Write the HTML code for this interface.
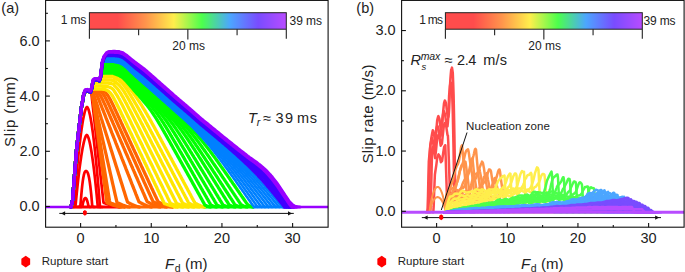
<!DOCTYPE html>
<html lang="en">
<head>
<meta charset="utf-8">
<title>Slip and slip rate profiles</title>
<style>
html,body{margin:0;padding:0;background:#fff;}
body{width:685px;height:272px;overflow:hidden;font-family:"Liberation Sans",sans-serif;}
svg text{font-family:"Liberation Sans",sans-serif;}
</style>
</head>
<body>
<svg width="685" height="272" viewBox="0 0 685 272" style="display:block">
<rect width="685" height="272" fill="#fff"/>
<defs>
<linearGradient id="rb" x1="0" y1="0" x2="1" y2="0">
<stop offset="0.0000" stop-color="#ff4c4c"/>
<stop offset="0.1429" stop-color="#ff4c4c"/>
<stop offset="0.2857" stop-color="#ff944c"/>
<stop offset="0.4286" stop-color="#ffee4c"/>
<stop offset="0.5714" stop-color="#4cff4c"/>
<stop offset="0.7143" stop-color="#4ca6ff"/>
<stop offset="0.8571" stop-color="#794cff"/>
<stop offset="1.0000" stop-color="#b84cff"/>
</linearGradient>
<clipPath id="ca"><rect x="45.6" y="0" width="282.5" height="227.2"/></clipPath>
<clipPath id="cb"><rect x="401.6" y="0" width="282.5" height="227.2"/></clipPath>
</defs>
<g clip-path="url(#ca)" fill="none" stroke-linejoin="round" stroke-linecap="round">
<path d="M73.0,207.1L119.5,207.1" stroke="#ff0000" stroke-width="3.0"/>
<path d="M119.5,207.1L172.5,207.1" stroke="#ff6600" stroke-width="3.0"/>
<path d="M172.5,207.1L204.5,207.1" stroke="#ffe600" stroke-width="3.0"/>
<path d="M204.5,207.1L253.0,207.1" stroke="#00ff00" stroke-width="3.0"/>
<path d="M253.0,207.1L284.0,207.1" stroke="#0080ff" stroke-width="3.0"/>
<path d="M284.0,207.1L294.0,207.1" stroke="#4000ff" stroke-width="3.0"/>
<path d="M294.0,207.1L300.0,207.1" stroke="#9900ff" stroke-width="3.0"/>
<path d="M79.9,207L80.4,207L80.9,207L81.4,206.9L81.9,206.6L82.4,205.9L82.9,203.5L83.4,201.5L83.9,200L84.4,198.9L84.9,198.2L85.4,198L85.9,198.2L86.4,198.9L86.9,200L87.4,201.5L87.9,203.5L88.4,205.9L88.9,206.6L89.4,206.9L89.9,207L90.4,207L90.9,207" stroke="#ff0000" stroke-width="2.7"/>
<path d="M76.8,207L77.3,207L77.8,207L78.3,206.9L78.8,206.9L79.3,206.7L79.8,206.6L80.3,206.4L80.8,201.4L81.3,195.1L81.8,189.6L82.3,184.9L82.8,180.9L83.3,177.7L83.8,175.2L84.3,173.3L84.8,172L85.3,171.3L85.8,171L86.3,171L86.8,171.3L87.3,172L87.8,173L88.3,174.5L88.8,176.6L89.3,179.1L89.8,182.3L90.3,186L90.8,190.3L91.3,195.2L91.8,200.8L92.3,206.6L92.8,206.8L93.3,206.9L93.8,207L94.3,207L94.8,207" stroke="#ff0000" stroke-width="2.7"/>
<path d="M73.3,207L73.8,207L74.3,207L74.8,207L75.3,206.9L75.8,202.8L76.3,197.6L76.8,192.6L77.3,187.8L77.8,183.2L78.3,178.7L78.8,174.4L79.3,170.3L79.8,166.4L80.3,162.7L80.8,159.2L81.3,155.9L81.8,152.7L82.3,149.8L82.8,147.1L83.3,144.7L83.8,142.4L84.3,140.5L84.8,138.7L85.3,137.3L85.8,136.1L86.3,135.4L86.8,135L87.3,135.4L87.8,136.2L88.3,137.4L88.8,139L89.3,140.8L89.8,142.9L90.3,145.3L90.8,147.9L91.3,150.8L91.8,153.8L92.3,157.2L92.8,160.7L93.3,164.4L93.8,168.4L94.3,172.5L94.8,176.9L95.3,181.4L95.8,186.2L96.3,191.1L96.8,196.2L97.3,201.5L97.8,206.9L98.3,206.9L98.8,207L99.3,207L99.8,207L100.3,207" stroke="#ff0000" stroke-width="2.7"/>
<path d="M71.5,207L72,207L72.5,207L73,207L73.5,206.9L74,204.4L74.5,198.2L75,192L75.5,186.1L76,180.3L76.5,174.8L77,169.4L77.5,164.2L78,159.1L78.5,154.3L79,149.7L79.5,145.2L80,141L80.5,137L81,133.2L81.5,129.6L82,126.2L82.5,123.1L83,120.1L83.5,117.5L84,115.1L84.5,112.9L85,111L85.5,109.5L86,108.2L86.5,107.4L87,107L87.5,107.4L88,108.3L88.5,109.5L89,111.1L89.5,113.1L90,115.3L90.5,117.7L91,120.5L91.5,123.5L92,126.7L92.5,130.2L93,133.9L93.5,137.8L94,141.9L94.5,146.3L95,150.8L95.5,155.6L96,160.5L96.5,165.7L97,171L97.5,176.6L98,182.3L98.5,188.2L99,194.3L99.5,200.5L100,206.9L100.5,206.9L101,207L101.5,207L102,207L102.5,207" stroke="#ff0000" stroke-width="2.7"/>
<path d="M72,202.6L72.5,200.4L72.6,200L73,194.7L73.5,188.2L74,181.6L74.5,175L75,168.8L75.5,162.5L76,156.2L76.5,150L77,145.6L77.5,141.2L78,136.8L78.5,132.4L79,128L79.5,123.8L80,119.5L80.5,115.3L81,111.1L81.5,106.8L81.6,106L82,104.8L82.5,101.8L83,98.8L83.5,95.8L83.6,95.2L84,94.1L84.5,92.8L85,91.5L85.2,91L85.5,91L86,91L86.5,91L87,91L87.5,91L88,91L88.5,91.2L89,91.5L89.5,91.7L90,92L90.5,92.2L91,91.3L91.5,94.5L91.8,97.2L92,99L92.5,103.5L93,108L93.5,112.5L94,117L94.5,121.5L95,126L95.5,130.5L96,135L96.5,139.5L97,144L97.5,148.5L98,153L98.5,157.5L99,162L99.3,164.7L99.5,166.5L100,171L100.5,175.5L101,180L101.3,182.7L101.5,184.5L102,189L102.2,190.8L102.5,193.5L103,198L103.5,202.5L104,203L104.5,203.1L105,203.3L105.5,203.5L106,203.7L106.5,203.8L107,204L107.5,204.2L108,204.3L108.5,204.5L109,204.7L109.5,204.8L110,205L110.5,205.1L111,205.3L111.5,205.4L112,205.5L112.5,205.7L113,205.8L113.5,205.9L114,206.1L114.5,206.2L115,206.3L115.5,206.4L116,206.5L116.5,206.6L117,206.7L117.5,206.8L118,206.8L118.5,206.9L119,207L119.5,207" stroke="#ff0000" stroke-width="2.7"/>
<path d="M71,207L71.5,204.8L72,202.6L72.5,200.4L72.6,200L73,194.7L73.5,188.2L74,181.6L74.5,175L75,168.8L75.5,162.5L76,156.2L76.5,150L77,145.6L77.5,141.2L78,136.8L78.5,132.4L79,128L79.5,123.8L80,119.5L80.5,115.3L81,111.1L81.5,106.8L81.6,106L82,104.8L82.5,101.8L83,98.8L83.5,95.8L83.6,95.2L84,94.1L84.5,92.8L85,91.5L85.2,91L85.5,91L86,90.9L86.5,90.9L87,90.9L87.5,90.9L88,91L88.5,91.2L89,91.5L89.5,91.7L90,92L90.5,92.2L91,90.9L91.5,90.9L91.8,91.1L92,91.5L92.5,94.5L93,98.3L93.5,102L94,105.8L94.5,109.5L95,113.3L95.5,117L96,120.8L96.5,124.5L97,128.2L97.5,132L98,135.8L98.5,139.5L99,143.2L99.3,145.5L99.5,147L100,150.8L100.5,154.5L101,158.2L101.3,160.5L101.5,162L102,165.8L102.2,167.3L102.5,169.5L103,173.2L103.5,177L104,180.8L104.5,184.5L105,188.2L105.5,192L106,195.8L106.5,199.5L107,202.7L107.5,203L108,203.2L108.5,203.4L109,203.6L109.5,203.8L110,204L110.5,204.2L111,204.3L111.5,204.5L112,204.7L112.5,204.9L113,205.1L113.5,205.2L114,205.4L114.5,205.5L115,205.7L115.5,205.8L116,206L116.5,206.1L117,206.3L117.5,206.4L118,206.5L118.5,206.6L119,206.7L119.5,206.8L120,206.9L120.5,207L121,207" stroke="#ff6600" stroke-width="3.3"/>
<path d="M71,207L71.5,204.8L72,202.6L72.5,200.4L72.6,200L73,194.7L73.5,188.2L74,181.6L74.5,175L75,168.8L75.5,162.5L76,156.2L76.5,150L77,145.6L77.5,141.2L78,136.8L78.5,132.4L79,128L79.5,123.8L80,119.5L80.5,115.3L81,111.1L81.5,106.8L81.6,106L82,104.8L82.5,101.8L83,98.8L83.5,95.8L83.6,95.2L84,94.1L84.5,92.8L85,91.5L85.2,91L85.5,91L86,90.9L86.5,90.8L87,90.8L87.5,90.8L88,91L88.5,91.2L89,91.5L89.5,91.7L90,92L90.5,92.2L91,90.8L91.5,91L91.8,91.6L92,92.5L92.5,95.4L93,98.5L93.5,101.6L94,104.7L94.5,107.8L95,110.9L95.5,114L96,117.1L96.5,120.2L97,123.3L97.5,126.4L98,129.5L98.5,132.6L99,135.7L99.3,137.6L99.5,138.8L100,141.9L100.5,145L101,148.1L101.3,150L101.5,151.2L102,154.3L102.2,155.5L102.5,157.4L103,160.5L103.5,163.6L104,166.7L104.5,169.8L105,172.9L105.5,176L106,179.1L106.5,182.2L107,185.3L107.5,188.4L108,191.5L108.5,194.6L109,197.7L109.5,200.8L110,202.8L110.5,203L111,203.2L111.5,203.4L112,203.5L112.5,203.7L113,203.9L113.5,204.1L114,204.3L114.5,204.5L115,204.7L115.5,204.8L116,205L116.5,205.2L117,205.3L117.5,205.5L118,205.6L118.5,205.8L119,205.9L119.5,206L120,206.2L120.5,206.3L121,206.4L121.5,206.5L122,206.6L122.5,206.7L123,206.8L123.5,206.9L124,207L124.5,207" stroke="#ff6600" stroke-width="3.3"/>
<path d="M71,207L71.5,204.8L72,202.6L72.5,200.4L72.6,200L73,194.7L73.5,188.2L74,181.6L74.5,175L75,168.8L75.5,162.5L76,156.2L76.5,150L77,145.6L77.5,141.2L78,136.8L78.5,132.4L79,128L79.5,123.8L80,119.5L80.5,115.3L81,111.1L81.5,106.8L81.6,106L82,104.8L82.5,101.8L83,98.8L83.5,95.8L83.6,95.2L84,94.1L84.5,92.8L85,91.5L85.2,91L85.5,91L86,90.9L86.5,90.8L87,90.8L87.5,90.7L88,91L88.5,91.2L89,91.5L89.5,91.7L90,92L90.5,92.2L91,90.8L91.5,91.3L91.8,92L92,92.7L92.5,94.8L93,97L93.5,99.2L94,101.4L94.5,103.6L95,105.8L95.5,108L96,110.2L96.5,112.4L97,114.6L97.5,116.8L98,119L98.5,121.2L99,123.4L99.3,124.7L99.5,125.6L100,127.8L100.5,130L101,132.2L101.3,133.5L101.5,134.4L102,136.6L102.2,137.5L102.5,138.8L103,141L103.5,143.2L104,145.4L104.5,147.6L105,149.8L105.5,152L106,154.2L106.5,156.4L107,158.6L107.5,160.8L108,163L108.5,165.2L109,167.4L109.5,169.6L110,171.8L110.5,174L111,176.2L111.5,178.4L112,180.6L112.5,182.8L113,185L113.5,187.2L114,189.4L114.5,191.6L115,193.8L115.5,196L116,198.2L116.5,200.4L117,202.5L117.5,202.7L118,203L118.5,203.2L119,203.4L119.5,203.7L120,203.9L120.5,204.1L121,204.4L121.5,204.6L122,204.8L122.5,205L123,205.2L123.5,205.4L124,205.6L124.5,205.7L125,205.9L125.5,206.1L126,206.2L126.5,206.4L127,206.5L127.5,206.7L128,206.8L128.5,206.9L129,206.9L129.5,207" stroke="#ff6600" stroke-width="3.3"/>
<path d="M71,207L71.5,204.8L72,202.6L72.5,200.4L72.6,200L73,194.7L73.5,188.2L74,181.6L74.5,175L75,168.8L75.5,162.5L76,156.2L76.5,150L77,145.6L77.5,141.2L78,136.8L78.5,132.4L79,128L79.5,123.8L80,119.5L80.5,115.3L81,111.1L81.5,106.8L81.6,106L82,104.8L82.5,101.8L83,98.8L83.5,95.8L83.6,95.2L84,94.2L84.5,92.8L85,91.5L85.2,91L85.5,91L86,90.9L86.5,90.8L87,90.8L87.5,90.7L88,91L88.5,91.2L89,91.5L89.5,91.8L90,92.1L90.5,92.4L91,91.1L91.5,91.4L91.8,91.6L92,91.8L92.5,92.5L93,93.3L93.5,94.4L94,95.6L94.5,97L95,98.4L95.5,99.9L96,101.5L96.5,103L97,104.6L97.5,106.2L98,107.8L98.5,109.4L99,111L99.3,112L99.5,112.6L100,114.2L100.5,115.8L101,117.4L101.3,118.4L101.5,119L102,120.6L102.2,121.2L102.5,122.2L103,123.8L103.5,125.4L104,127L104.5,128.6L105,130.2L105.5,131.8L106,133.4L106.5,135L107,136.6L107.5,138.2L108,139.8L108.5,141.4L109,143L109.5,144.6L110,146.2L110.5,147.8L111,149.4L111.5,151L112,152.6L112.5,154.2L113,155.8L113.5,157.4L114,159L114.5,160.6L115,162.2L115.5,163.8L116,165.4L116.5,167L117,168.6L117.5,170.2L118,171.8L118.5,173.4L119,175L119.5,176.6L120,178.2L120.5,179.8L121,181.4L121.5,183L122,184.6L122.5,186.2L123,187.8L123.5,189.4L124,191L124.5,192.6L125,194.2L125.5,195.8L126,197.4L126.5,199L127,200.6L127.5,202.1L128,202.4L128.5,202.7L129,203L129.5,203.2L130,203.5L130.5,203.7L131,204L131.5,204.2L132,204.5L132.5,204.7L133,204.9L133.5,205.2L134,205.4L134.5,205.6L135,205.8L135.3,205.9L135.5,206L136,206.1L136.5,206.3L137,206.5L137.5,206.6L138,206.7L138.5,206.8L139,206.9L139.5,207" stroke="#ff6600" stroke-width="3.3"/>
<path d="M71,207L71.5,204.8L72,202.6L72.5,200.4L72.6,200L73,194.7L73.5,188.2L74,181.6L74.5,175L75,168.8L75.5,162.5L76,156.2L76.5,150L77,145.6L77.5,141.2L78,136.8L78.5,132.4L79,128L79.5,123.8L80,119.5L80.5,115.3L81,111.1L81.5,106.8L81.6,106L82,104.8L82.5,101.8L83,98.8L83.5,95.8L83.6,95.2L84,94.2L84.5,92.8L85,91.5L85.2,91L85.5,91L86,90.9L86.5,90.8L87,90.8L87.5,90.7L88,91L88.5,91.2L89,91.5L89.5,91.7L90,92L90.5,92.2L91,90.7L91.5,90.6L91.8,90.6L92,90.7L92.5,90.8L93,90.9L93.5,91.1L94,91.3L94.5,91.7L95,92.2L95.5,92.8L96,93.6L96.5,94.5L97,95.4L97.5,96.5L98,97.6L98.5,98.8L99,100L99.3,100.8L99.5,101.3L100,102.5L100.5,103.8L101,105L101.3,105.8L101.5,106.3L102,107.6L102.2,108.1L102.5,108.8L103,110.1L103.5,111.4L104,112.7L104.5,113.9L105,115.2L105.5,116.5L106,117.8L106.5,119L107,120.3L107.5,121.6L108,122.9L108.5,124.1L109,125.4L109.5,126.7L110,128L110.5,129.2L111,130.5L111.5,131.8L112,133.1L112.5,134.3L113,135.6L113.5,136.9L114,138.2L114.5,139.4L115,140.7L115.5,142L116,143.3L116.5,144.5L117,145.8L117.5,147.1L118,148.4L118.5,149.6L119,150.9L119.5,152.2L120,153.5L120.5,154.7L121,156L121.5,157.3L122,158.6L122.5,159.8L123,161.1L123.5,162.4L124,163.7L124.5,164.9L125,166.2L125.5,167.5L126,168.8L126.5,170L127,171.3L127.5,172.6L128,173.9L128.5,175.1L129,176.4L129.5,177.7L130,179L130.5,180.2L131,181.5L131.5,182.8L132,184.1L132.5,185.3L133,186.6L133.5,187.9L134,189.2L134.5,190.4L135,191.7L135.3,192.5L135.5,193L136,194.3L136.5,195.5L137,196.8L137.5,198.1L138,199.4L138.5,200.6L139,201.8L139.5,202.1L140,202.4L140.5,202.7L141,203L141.5,203.2L142,203.5L142.5,203.7L143,204L143.5,204.2L144,204.5L144.1,204.5L144.5,204.7L145,204.9L145.5,205.2L146,205.4L146.5,205.6L147,205.8L147.5,206L148,206.1L148.5,206.3L149,206.5L149.5,206.6L150,206.7L150.5,206.8L151,206.9L151.5,207" stroke="#ff6600" stroke-width="3.3"/>
<path d="M71,207L71.5,204.8L72,202.6L72.5,200.4L72.6,200L73,194.7L73.5,188.2L74,181.6L74.5,175L75,168.8L75.5,162.5L76,156.3L76.5,150L77,145.6L77.5,141.2L78,136.8L78.5,132.4L79,128L79.5,123.8L80,119.5L80.5,115.3L81,111.1L81.5,106.8L81.6,106L82,104.8L82.5,101.8L83,98.8L83.5,95.8L83.6,95.2L84,94.2L84.5,92.8L85,91.5L85.2,91L85.5,91L86,90.9L86.5,90.8L87,90.8L87.5,90.7L88,91L88.5,91.2L89,91.5L89.5,91.7L90,92L90.5,92.2L91,90.7L91.5,90.5L91.8,90.5L92,90.5L92.5,90.6L93,90.6L93.5,90.7L94,90.8L94.5,90.9L95,91L95.5,91.2L96,91.4L96.5,91.6L97,91.9L97.5,92.3L98,92.7L98.5,93.2L99,93.7L99.3,94.1L99.5,94.4L100,95.1L100.5,95.9L101,96.7L101.3,97.2L101.5,97.6L102,98.6L102.2,98.9L102.5,99.5L103,100.5L103.5,101.6L104,102.7L104.5,103.7L105,104.8L105.5,105.9L106,107.1L106.5,108.2L107,109.3L107.5,110.5L108,111.6L108.5,112.7L109,113.9L109.5,115L110,116.2L110.5,117.3L111,118.5L111.5,119.6L112,120.8L112.5,121.9L113,123.1L113.5,124.2L114,125.4L114.5,126.5L115,127.7L115.5,128.8L116,130L116.5,131.1L117,132.3L117.5,133.4L118,134.6L118.5,135.7L119,136.9L119.5,138L120,139.2L120.5,140.3L121,141.5L121.5,142.6L122,143.8L122.5,144.9L123,146.1L123.5,147.2L124,148.4L124.5,149.5L125,150.7L125.5,151.8L126,153L126.5,154.1L127,155.3L127.5,156.4L128,157.6L128.5,158.7L129,159.9L129.5,161L130,162.2L130.5,163.3L131,164.5L131.5,165.6L132,166.8L132.5,167.9L133,169.1L133.5,170.2L134,171.4L134.5,172.5L135,173.7L135.3,174.3L135.5,174.8L136,176L136.5,177.1L137,178.3L137.5,179.4L138,180.6L138.5,181.7L139,182.9L139.5,184L140,185.2L140.5,186.3L141,187.5L141.5,188.6L142,189.8L142.5,190.9L143,192.1L143.5,193.2L144,194.4L144.1,194.6L144.5,195.5L145,196.7L145.5,197.8L146,199L146.5,200.1L147,201.3L147.5,201.8L148,202.1L148.5,202.4L149,202.7L149.5,203L150,203.2L150.5,203.5L151,203.7L151.5,204L152,204.2L152.5,204.5L153,204.7L153.5,204.9L154,205.2L154.5,205.4L155,205.6L155.5,205.8L156,206L156.5,206.1L157,206.3L157.5,206.5L158,206.6L158.5,206.7L159,206.8L159.5,206.9L160,207" stroke="#ff6600" stroke-width="3.3"/>
<path d="M71,207L71.5,204.8L72,202.6L72.5,200.4L72.6,200L73,194.7L73.5,188.2L74,181.6L74.5,175L75,168.8L75.5,162.5L76,156.3L76.5,150L77,145.6L77.5,141.2L78,136.8L78.5,132.4L79,128L79.5,123.8L80,119.5L80.5,115.3L81,111.1L81.5,106.8L81.6,106L82,104.8L82.5,101.8L83,98.8L83.5,95.8L83.6,95.2L84,94.2L84.5,92.8L85,91.5L85.2,91L85.5,91L86,90.9L86.5,90.8L87,90.8L87.5,90.7L88,91L88.5,91.2L89,91.5L89.5,91.7L90,92L90.5,92.2L91,90.7L91.5,90.3L91.8,90.3L92,90.3L92.5,90.3L93,90.3L93.5,90.4L94,90.4L94.5,90.4L95,90.4L95.5,90.4L96,90.5L96.5,90.5L97,90.6L97.5,90.7L98,90.8L98.5,90.9L99,91.1L99.3,91.2L99.5,91.3L100,91.5L100.5,91.8L101,92.1L101.3,92.3L101.5,92.5L102,92.9L102.2,93.1L102.5,93.5L103,94.1L103.5,94.7L104,95.4L104.5,96.2L105,97L105.5,97.9L106,98.8L106.5,99.8L107,100.8L107.5,101.8L108,102.8L108.5,103.8L109,104.9L109.5,105.9L110,107L110.5,108.1L111,109.2L111.5,110.3L112,111.3L112.5,112.4L113,113.5L113.5,114.6L114,115.7L114.5,116.8L115,117.9L115.5,119L116,120.1L116.5,121.2L117,122.3L117.5,123.4L118,124.5L118.5,125.6L119,126.7L119.5,127.8L120,128.9L120.5,130L121,131.1L121.5,132.2L122,133.3L122.5,134.4L123,135.5L123.5,136.6L124,137.7L124.5,138.8L125,139.9L125.5,141L126,142.1L126.5,143.2L127,144.3L127.5,145.4L128,146.5L128.5,147.6L129,148.7L129.5,149.8L130,150.9L130.5,152L131,153.1L131.5,154.2L132,155.3L132.5,156.4L133,157.5L133.5,158.6L134,159.7L134.5,160.8L135,161.9L135.3,162.6L135.5,163L136,164.1L136.5,165.2L137,166.3L137.5,167.4L138,168.5L138.5,169.6L139,170.7L139.5,171.8L140,172.9L140.5,174L141,175.1L141.5,176.2L142,177.3L142.5,178.4L143,179.5L143.5,180.6L144,181.7L144.1,181.9L144.5,182.8L145,183.9L145.5,185L146,186.1L146.5,187.2L147,188.3L147.5,189.4L148,190.5L148.5,191.6L149,192.7L149.5,193.8L150,194.9L150.5,196L151,197.1L151.5,198.2L152,199.3L152.5,200.4L153,201.5L153.5,201.9L154,202.2L154.5,202.4L155,202.7L155.5,203L156,203.2L156.5,203.5L157,203.7L157.5,203.9L158,204.2L158.5,204.4L159,204.6L159.5,204.9L160,205.1L160.5,205.3L161,205.5L161.5,205.7L162,205.8L162.5,206L163,206.2L163.5,206.3L164,206.5L164.5,206.6L165,206.8L165.5,206.9L166,206.9L166.5,207" stroke="#ff6600" stroke-width="3.3"/>
<path d="M71,207L71.5,204.8L72,202.6L72.5,200.4L72.6,200L73,194.7L73.5,188.2L74,181.6L74.5,175L75,168.8L75.5,162.5L76,156.3L76.5,150L77,145.6L77.5,141.2L78,136.8L78.5,132.4L79,128L79.5,123.8L80,119.5L80.5,115.3L81,111.1L81.5,106.8L81.6,106L82,104.8L82.5,101.8L83,98.8L83.5,95.8L83.6,95.2L84,94.2L84.5,92.8L85,91.5L85.2,91L85.5,91L86,90.9L86.5,90.8L87,90.8L87.5,90.7L88,91L88.5,91.2L89,91.5L89.5,91.7L90,92L90.5,92.2L91,90.7L91.5,90.2L91.8,90.2L92,90.2L92.5,90.2L93,90.2L93.5,90.2L94,90.2L94.5,90.2L95,90.2L95.5,90.2L96,90.2L96.5,90.2L97,90.3L97.5,90.3L98,90.3L98.5,90.3L99,90.3L99.3,90.4L99.5,90.4L100,90.4L100.5,90.5L101,90.6L101.3,90.6L101.5,90.7L102,90.8L102.2,90.8L102.5,90.9L103,91.1L103.5,91.3L104,91.6L104.5,91.9L105,92.2L105.5,92.7L106,93.1L106.5,93.7L107,94.3L107.5,95L108,95.7L108.5,96.5L109,97.3L109.5,98.2L110,99.1L110.5,100L111,101L111.5,102L112,103L112.5,104L113,105L113.5,106.1L114,107.1L114.5,108.2L115,109.3L115.5,110.3L116,111.4L116.5,112.5L117,113.5L117.5,114.6L118,115.7L118.5,116.7L119,117.8L119.5,118.9L120,119.9L120.5,121L121,122.1L121.5,123.2L122,124.2L122.5,125.3L123,126.4L123.5,127.5L124,128.5L124.5,129.6L125,130.7L125.5,131.8L126,132.8L126.5,133.9L127,135L127.5,136.1L128,137.1L128.5,138.2L129,139.3L129.5,140.4L130,141.4L130.5,142.5L131,143.6L131.5,144.7L132,145.7L132.5,146.8L133,147.9L133.5,149L134,150L134.5,151.1L135,152.2L135.3,152.8L135.5,153.3L136,154.3L136.5,155.4L137,156.5L137.5,157.6L138,158.6L138.5,159.7L139,160.8L139.5,161.9L140,162.9L140.5,164L141,165.1L141.5,166.2L142,167.2L142.5,168.3L143,169.4L143.5,170.5L144,171.5L144.1,171.7L144.5,172.6L145,173.7L145.5,174.8L146,175.8L146.5,176.9L147,178L147.5,179.1L148,180.1L148.5,181.2L149,182.3L149.5,183.4L150,184.4L150.5,185.5L151,186.6L151.5,187.7L152,188.7L152.5,189.8L153,190.9L153.5,192L154,193L154.5,194.1L155,195.2L155.5,196.3L156,197.3L156.5,198.4L157,199.5L157.5,200.6L158,201.6L158.5,202L159,202.2L159.5,202.5L160,202.7L160.5,203L161,203.2L161.5,203.4L162,203.6L162.5,203.9L163,204.1L163.5,204.3L164,204.5L164.5,204.7L165,204.9L165.5,205.1L166,205.3L166.5,205.5L167,205.6L167.5,205.8L168,206L168.5,206.1L169,206.3L169.5,206.4L170,206.6L170.5,206.7L171,206.8L171.5,206.9L172,207L172.5,207" stroke="#ff6600" stroke-width="3.3"/>
<path d="M71,207L71.5,204.8L72,202.6L72.5,200.4L72.6,200L73,194.7L73.5,188.2L74,181.6L74.5,175L75,168.8L75.5,162.5L76,156.3L76.5,150L77,145.6L77.5,141.2L78,136.8L78.5,132.4L79,128L79.5,123.8L80,119.5L80.5,115.3L81,111.1L81.5,106.8L81.6,106L82,104.8L82.5,101.8L83,98.8L83.5,95.8L83.6,95.2L84,94.2L84.5,92.8L85,91.5L85.2,91L85.5,91L86,90.9L86.5,90.8L87,90.8L87.5,90.7L88,91L88.5,91.2L89,91.5L89.5,91.7L90,92L90.5,92.2L91,90.7L91.5,89.1L91.8,89L92,89L92.5,89L93,89L93.5,89L94,89L94.5,89L95,89L95.5,89L96,89L96.5,89L97,89L97.5,89L98,89L98.5,89L99,89.1L99.3,89.1L99.5,89.1L100,89.1L100.5,89.1L101,89.1L101.3,89.1L101.5,89.2L102,89.2L102.2,89.2L102.5,89.2L103,89.3L103.5,89.3L104,89.4L104.5,89.5L105,89.6L105.5,89.8L106,89.9L106.5,90.1L107,90.3L107.5,90.6L108,90.9L108.5,91.3L109,91.7L109.5,92.2L110,92.7L110.5,93.2L111,93.9L111.5,94.5L112,95.3L112.5,96L113,96.9L113.5,97.7L114,98.6L114.5,99.7L115,100.6L115.5,101.6L116,102.5L116.5,103.5L117,104.5L117.5,105.5L118,106.5L118.5,107.5L119,108.5L119.5,109.5L120,110.6L120.5,111.6L121,112.6L121.5,113.7L122,114.7L122.5,115.7L123,116.8L123.5,117.8L124,118.9L124.5,119.9L125,121L125.5,122L126,123L126.5,124.1L127,125.1L127.5,126.2L128,127.2L128.5,128.3L129,129.3L129.5,130.4L130,131.4L130.5,132.5L131,133.5L131.5,134.6L132,135.6L132.5,136.7L133,137.7L133.5,138.8L134,139.8L134.5,140.9L135,141.9L135.3,142.5L135.5,143L136,144L136.5,145.1L137,146.1L137.5,147.2L138,148.2L138.5,149.3L139,150.3L139.5,151.4L140,152.4L140.5,153.5L141,154.5L141.5,155.6L142,156.6L142.5,157.7L143,158.7L143.5,159.8L144,160.8L144.1,161L144.5,161.9L145,162.9L145.5,164L146,165L146.5,166.1L147,167.1L147.5,168.2L148,169.2L148.5,170.3L149,171.3L149.5,172.4L150,173.4L150.5,174.5L151,175.5L151.5,176.6L152,177.6L152.5,178.7L153,179.7L153.5,180.8L154,181.8L154.5,182.9L155,183.9L155.5,185L156,186L156.5,187.1L157,188.1L157.5,189.2L158,190.2L158.5,191.3L159,192.3L159.5,193.4L160,194.4L160.5,195.5L161,196.5L161.5,197.6L162,198.6L162.5,199.7L163,200.7L163.5,201.8L164,202.8L164.5,203.6L165,203.8L165.5,204L166,204.1L166.5,204.3L167,204.5L167.5,204.7L168,204.8L168.5,205L169,205.1L169.5,205.3L170,205.4L170.5,205.6L171,205.7L171.5,205.9L172,206L172.5,206.1L173,206.2L173.5,206.3L174,206.5L174.5,206.6L174.7,206.6L175,206.7L175.5,206.8L176,206.8L176.5,206.9L177,207L177.5,207" stroke="#ffe600" stroke-width="3.3"/>
<path d="M71,207L71.5,204.8L72,202.6L72.5,200.4L72.6,200L73,194.7L73.5,188.2L74,181.6L74.5,175L75,168.8L75.5,162.5L76,156.3L76.5,150L77,145.6L77.5,141.2L78,136.8L78.5,132.4L79,128L79.5,123.8L80,119.5L80.5,115.3L81,111.1L81.5,106.8L81.6,106L82,104.8L82.5,101.8L83,98.8L83.5,95.8L83.6,95.2L84,94.2L84.5,92.8L85,91.5L85.2,91L85.5,91L86,90.9L86.5,90.8L87,90.8L87.5,90.7L88,91L88.5,91.2L89,91.5L89.5,91.7L90,92L90.5,92.2L91,90.7L91.5,89.1L91.8,88.2L92,87L92.5,86.2L93,86.2L93.5,86.2L94,86.2L94.5,86.2L95,86.2L95.5,86.2L96,86.2L96.5,86.2L97,86.2L97.5,86.2L98,86.2L98.5,86.2L99,86.2L99.3,86.2L99.5,86.2L100,86.2L100.5,86.2L101,86.2L101.3,86.2L101.5,86.2L102,86.2L102.2,86.3L102.5,86.3L103,86.3L103.5,86.3L104,86.3L104.5,86.3L105,86.4L105.5,86.4L106,86.4L106.5,86.5L107,86.6L107.5,86.6L108,86.7L108.5,86.9L109,87L109.5,87.2L110,87.4L110.5,87.6L111,87.9L111.5,88.2L112,88.5L112.5,88.9L113,89.4L113.5,89.9L114,90.5L114.5,91.6L115,92.3L115.5,93L116,93.8L116.5,94.6L117,95.4L117.5,96.2L118,97.1L118.5,98L119,98.8L119.5,99.8L120,100.7L120.5,101.7L121,102.6L121.5,103.6L122,104.5L122.5,105.5L123,106.5L123.5,107.5L124,108.5L124.5,109.5L125,110.5L125.5,111.5L126,112.5L126.5,113.5L127,114.5L127.5,115.5L128,116.5L128.5,117.6L129,118.6L129.5,119.6L130,120.6L130.5,121.6L131,122.6L131.5,123.7L132,124.7L132.5,125.7L133,126.7L133.5,127.7L134,128.8L134.5,129.8L135,130.8L135.3,131.4L135.5,131.8L136,132.8L136.5,133.9L137,134.9L137.5,135.9L138,136.9L138.5,137.9L139,139L139.5,140L140,141L140.5,142L141,143.1L141.5,144.1L142,145.1L142.5,146.1L143,147.2L143.5,148.2L144,149.2L144.1,149.4L144.5,150.2L145,151.2L145.5,152.3L146,153.3L146.5,154.3L147,155.3L147.5,156.4L148,157.4L148.5,158.4L149,159.4L149.5,160.5L150,161.5L150.5,162.5L151,163.5L151.5,164.6L152,165.6L152.5,166.6L153,167.6L153.5,168.7L154,169.7L154.5,170.7L155,171.7L155.5,172.8L156,173.8L156.5,174.8L157,175.8L157.5,176.9L158,177.9L158.5,178.9L159,179.9L159.5,181L160,182L160.5,183L161,184L161.5,185.1L162,186.1L162.5,187.1L163,188.1L163.5,189.2L164,190.2L164.5,191.2L165,192.2L165.5,193.3L166,194.3L166.5,195.3L167,196.3L167.5,197.4L168,198.4L168.5,199.4L169,200.4L169.5,201.5L170,202.5L170.5,203.5L171,203.7L171.5,203.9L172,204.1L172.5,204.3L173,204.4L173.5,204.6L174,204.8L174.5,205L174.7,205L175,205.1L175.5,205.3L176,205.4L176.5,205.6L177,205.7L177.5,205.9L178,206L178.5,206.2L179,206.3L179.5,206.4L180,206.5L180.5,206.6L181,206.7L181.5,206.8L182,206.9L182.5,207L183,207" stroke="#ffe600" stroke-width="3.3"/>
<path d="M71,207L71.5,204.8L72,202.6L72.5,200.4L72.6,200L73,194.7L73.5,188.2L74,181.6L74.5,175L75,168.8L75.5,162.5L76,156.3L76.5,150L77,145.6L77.5,141.2L78,136.8L78.5,132.4L79,128L79.5,123.8L80,119.5L80.5,115.3L81,111.1L81.5,106.8L81.6,106L82,104.8L82.5,101.8L83,98.8L83.5,95.8L83.6,95.2L84,94.2L84.5,92.8L85,91.5L85.2,91L85.5,91L86,90.9L86.5,90.8L87,90.8L87.5,90.7L88,91L88.5,91.2L89,91.5L89.5,91.7L90,92L90.5,92.2L91,90.7L91.5,89.1L91.8,88.2L92,87L92.5,84.1L93,83L93.5,83L94,83L94.5,83L95,83L95.5,83L96,83L96.5,83L97,83L97.5,83L98,83L98.5,83L99,83L99.3,83L99.5,83L100,83L100.5,83L101,83L101.3,83L101.5,83L102,83L102.2,83L102.5,83L103,83L103.5,83L104,83L104.5,83L105,83.1L105.5,83.1L106,83.1L106.5,83.1L107,83.1L107.5,83.1L108,83.2L108.5,83.2L109,83.3L109.5,83.3L110,83.4L110.5,83.5L111,83.5L111.5,83.7L112,83.8L112.5,84L113,84.1L113.5,84.4L114,84.6L114.5,85.7L115,86.2L115.5,86.7L116,87.2L116.5,87.7L117,88.3L117.5,88.9L118,89.5L118.5,90.1L119,90.8L119.5,91.6L120,92.3L120.5,93.1L121,93.9L121.5,94.8L122,95.6L122.5,96.5L123,97.3L123.5,98.2L124,99.2L124.5,100.1L125,101L125.5,102L126,102.9L126.5,103.8L127,104.8L127.5,105.8L128,106.7L128.5,107.7L129,108.7L129.5,109.6L130,110.6L130.5,111.6L131,112.5L131.5,113.5L132,114.5L132.5,115.5L133,116.5L133.5,117.4L134,118.4L134.5,119.4L135,120.4L135.3,121L135.5,121.4L136,122.4L136.5,123.4L137,124.3L137.5,125.3L138,126.3L138.5,127.3L139,128.3L139.5,129.3L140,130.3L140.5,131.3L141,132.3L141.5,133.3L142,134.3L142.5,135.3L143,136.3L143.5,137.2L144,138.2L144.1,138.4L144.5,139.2L145,140.2L145.5,141.2L146,142.2L146.5,143.2L147,144.2L147.5,145.2L148,146.2L148.5,147.2L149,148.2L149.5,149.2L150,150.2L150.5,151.2L151,152.2L151.5,153.2L152,154.2L152.5,155.2L153,156.2L153.5,157.2L154,158.2L154.5,159.2L155,160.2L155.5,161.2L156,162.2L156.5,163.2L157,164.2L157.5,165.2L158,166.2L158.5,167.2L159,168.2L159.5,169.2L160,170.2L160.5,171.2L161,172.2L161.5,173.2L162,174.2L162.5,175.2L163,176.2L163.5,177.2L164,178.2L164.5,179.2L165,180.2L165.5,181.2L166,182.2L166.5,183.2L167,184.2L167.5,185.2L168,186.2L168.5,187.2L169,188.2L169.5,189.2L170,190.2L170.5,191.2L171,192.2L171.5,193.2L172,194.2L172.5,195.2L173,196.2L173.5,197.2L174,198.2L174.5,199.2L174.7,199.6L175,200.2L175.5,201.2L176,202.2L176.5,203.2L177,203.6L177.5,203.8L178,204L178.5,204.2L179,204.4L179.5,204.6L180,204.8L180.5,204.9L181,205.1L181.5,205.3L182,205.5L182.5,205.6L183,205.8L183.5,205.9L184,206.1L184.5,206.2L185,206.4L185.5,206.5L186,206.6L186.5,206.7L187,206.8L187.5,206.9L188,207L188.5,207" stroke="#ffe600" stroke-width="3.3"/>
<path d="M71,207L71.5,204.8L72,202.6L72.5,200.4L72.6,200L73,194.7L73.5,188.2L74,181.6L74.5,175L75,168.8L75.5,162.5L76,156.3L76.5,150L77,145.6L77.5,141.2L78,136.8L78.5,132.4L79,128L79.5,123.8L80,119.5L80.5,115.3L81,111.1L81.5,106.8L81.6,106L82,104.8L82.5,101.8L83,98.8L83.5,95.8L83.6,95.2L84,94.2L84.5,92.8L85,91.5L85.2,91L85.5,91L86,90.9L86.5,90.8L87,90.8L87.5,90.7L88,91L88.5,91.2L89,91.5L89.5,91.7L90,92L90.5,92.2L91,90.7L91.5,89.1L91.8,88.2L92,87L92.5,84.1L93,81.2L93.5,80.7L94,80.3L94.5,80L95,80L95.5,80L96,80L96.5,80L97,80L97.5,80L98,80.2L98.5,80.5L99,80.7L99.3,80.8L99.5,80.2L100,80L100.5,80L101,80L101.3,80L101.5,80L102,80L102.2,80L102.5,80L103,80L103.5,80L104,80L104.5,80L105,80L105.5,80L106,80L106.5,80L107,80L107.5,80L108,80.1L108.5,80.1L109,80.1L109.5,80.1L110,80.1L110.5,80.1L111,80.2L111.5,80.2L112,80.3L112.5,80.3L113,80.4L113.5,80.5L114,80.6L114.5,81.6L115,81.9L115.5,82.2L116,82.5L116.5,82.9L117,83.3L117.5,83.6L118,84L118.5,84.5L119,84.9L119.5,85.5L120,86L120.5,86.6L121,87.2L121.5,87.9L122,88.5L122.5,89.2L123,89.9L123.5,90.6L124,91.4L124.5,92.2L125,93.1L125.5,93.9L126,94.7L126.5,95.6L127,96.4L127.5,97.3L128,98.2L128.5,99L129,99.9L129.5,100.8L130,101.7L130.5,102.6L131,103.5L131.5,104.4L132,105.3L132.5,106.3L133,107.2L133.5,108.1L134,109L134.5,110L135,110.9L135.3,111.5L135.5,111.8L136,112.8L136.5,113.7L137,114.6L137.5,115.6L138,116.5L138.5,117.5L139,118.4L139.5,119.4L140,120.3L140.5,121.3L141,122.2L141.5,123.2L142,124.1L142.5,125.1L143,126.1L143.5,127L144,128L144.1,128.2L144.5,128.9L145,129.9L145.5,130.9L146,131.8L146.5,132.8L147,133.8L147.5,134.7L148,135.7L148.5,136.7L149,137.6L149.5,138.6L150,139.6L150.5,140.5L151,141.5L151.5,142.5L152,143.5L152.5,144.4L153,145.4L153.5,146.4L154,147.3L154.5,148.3L155,149.3L155.5,150.3L156,151.2L156.5,152.2L157,153.2L157.5,154.2L158,155.1L158.5,156.1L159,157.1L159.5,158.1L160,159L160.5,160L161,161L161.5,162L162,162.9L162.5,163.9L163,164.9L163.5,165.9L164,166.8L164.5,167.8L165,168.8L165.5,169.8L166,170.7L166.5,171.7L167,172.7L167.5,173.7L168,174.6L168.5,175.6L169,176.6L169.5,177.6L170,178.5L170.5,179.5L171,180.5L171.5,181.5L172,182.4L172.5,183.4L173,184.4L173.5,185.4L174,186.3L174.5,187.3L174.7,187.7L175,188.3L175.5,189.3L176,190.2L176.5,191.2L177,192.2L177.5,193.2L178,194.1L178.5,195.1L179,196.1L179.5,197.1L180,198L180.5,199L181,200L181.5,201L182,201.9L182.5,202.9L183,203.4L183.5,203.7L184,203.9L184.5,204.1L185,204.3L185.5,204.5L186,204.7L186.5,204.9L187,205.1L187.5,205.3L188,205.5L188.5,205.7L189,205.9L189.5,206L190,206.2L190.5,206.3L191,206.5L191.5,206.6L192,206.7L192.5,206.8L193,206.9L193.5,207L194,207" stroke="#ffe600" stroke-width="3.3"/>
<path d="M71,207L71.5,204.8L72,202.6L72.5,200.4L72.6,200L73,194.7L73.5,188.2L74,181.6L74.5,175L75,168.8L75.5,162.5L76,156.2L76.5,150L77,145.6L77.5,141.2L78,136.8L78.5,132.4L79,128L79.5,123.8L80,119.5L80.5,115.3L81,111.1L81.5,106.8L81.6,106L82,104.8L82.5,101.8L83,98.8L83.5,95.8L83.6,95.2L84,94.2L84.5,92.8L85,91.5L85.2,91L85.5,91L86,90.9L86.5,90.8L87,90.8L87.5,90.7L88,91L88.5,91.2L89,91.5L89.5,91.7L90,92L90.5,92.2L91,90.7L91.5,89.1L91.8,88.2L92,87L92.5,84.1L93,81.2L93.5,80.7L94,80.3L94.5,79.8L95,79.8L95.5,79.8L96,79.8L96.5,79.8L97,79.8L97.5,80L98,80.2L98.5,80.5L99,80.7L99.3,80.8L99.5,80.2L100,78.7L100.5,77.2L101,77L101.3,77L101.5,77L102,77L102.2,77L102.5,77L103,77L103.5,77L104,77L104.5,77L105,77L105.5,77L106,77L106.5,77L107,77L107.5,77L108,77L108.5,77L109,77L109.5,77L110,77L110.5,77.1L111,77.1L111.5,77.1L112,77.1L112.5,77.1L113,77.1L113.5,77.2L114,77.2L114.5,78.1L115,78.4L115.5,78.6L116,78.8L116.5,79.1L117,79.4L117.5,79.6L118,79.9L118.5,80.2L119,80.5L119.5,80.9L120,81.3L120.5,81.8L121,82.2L121.5,82.7L122,83.2L122.5,83.7L123,84.2L123.5,84.8L124,85.5L124.5,86.2L125,86.9L125.5,87.5L126,88.2L126.5,88.9L127,89.7L127.5,90.5L128,91.2L128.5,92L129,92.8L129.5,93.6L130,94.3L130.5,95.1L131,95.9L131.5,96.8L132,97.6L132.5,98.4L133,99.2L133.5,100L134,100.9L134.5,101.7L135,102.6L135.3,103.1L135.5,103.4L136,104.3L136.5,105.1L137,106L137.5,106.9L138,107.7L138.5,108.6L139,109.5L139.5,110.4L140,111.3L140.5,112.2L141,113L141.5,114L142,114.9L142.5,115.8L143,116.7L143.5,117.6L144,118.5L144.1,118.7L144.5,119.4L145,120.3L145.5,121.2L146,122.2L146.5,123.1L147,124L147.5,124.9L148,125.9L148.5,126.8L149,127.7L149.5,128.7L150,129.6L150.5,130.5L151,131.5L151.5,132.4L152,133.4L152.5,134.3L153,135.2L153.5,136.2L154,137.1L154.5,138.1L155,139L155.5,140L156,140.9L156.5,141.9L157,142.8L157.5,143.8L158,144.7L158.5,145.7L159,146.6L159.5,147.5L160,148.5L160.5,149.4L161,150.4L161.5,151.3L162,152.3L162.5,153.2L163,154.2L163.5,155.1L164,156.1L164.5,157L165,158L165.5,158.9L166,159.9L166.5,160.8L167,161.8L167.5,162.7L168,163.7L168.5,164.6L169,165.6L169.5,166.5L170,167.5L170.5,168.4L171,169.4L171.5,170.3L172,171.3L172.5,172.2L173,173.2L173.5,174.1L174,175.1L174.5,176L174.7,176.4L175,177L175.5,177.9L176,178.9L176.5,179.8L177,180.8L177.5,181.7L178,182.7L178.5,183.6L179,184.6L179.5,185.5L180,186.5L180.5,187.4L181,188.4L181.5,189.3L182,190.3L182.5,191.2L183,192.2L183.5,193.1L184,194.1L184.5,195L185,196L185.5,196.9L186,197.9L186.5,198.8L187,199.8L187.5,200.7L188,201.7L188.5,202.6L189,203.3L189.5,203.5L190,203.8L190.5,204L191,204.2L191.5,204.5L192,204.7L192.5,204.9L193,205.1L193.5,205.3L194,205.5L194.5,205.7L195,205.9L195.5,206.1L196,206.3L196.5,206.4L197,206.6L197.5,206.7L198,206.8L198.5,206.9L199,207" stroke="#ffe600" stroke-width="3.3"/>
<path d="M71,207L71.5,204.8L72,202.6L72.5,200.4L72.6,200L73,194.7L73.5,188.2L74,181.6L74.5,175L75,168.8L75.5,162.5L76,156.2L76.5,150L77,145.6L77.5,141.2L78,136.8L78.5,132.4L79,128L79.5,123.8L80,119.5L80.5,115.3L81,111.1L81.5,106.8L81.6,106L82,104.8L82.5,101.8L83,98.8L83.5,95.8L83.6,95.2L84,94.2L84.5,92.8L85,91.5L85.2,91L85.5,91L86,90.9L86.5,90.8L87,90.8L87.5,90.7L88,91L88.5,91.2L89,91.5L89.5,91.7L90,92L90.5,92.2L91,90.7L91.5,89.1L91.8,88.2L92,87L92.5,84.1L93,81.2L93.5,80.7L94,80.3L94.5,79.8L95,79.8L95.5,79.8L96,79.8L96.5,79.8L97,79.8L97.5,80L98,80.2L98.5,80.5L99,80.7L99.3,80.8L99.5,80.2L100,78.7L100.5,77.2L101,74.5L101.3,74.5L101.5,74.5L102,74.5L102.2,74.5L102.5,74.5L103,74.5L103.5,74.5L104,74.5L104.5,74.5L105,74.5L105.5,74.5L106,74.5L106.5,74.5L107,74.5L107.5,74.5L108,74.5L108.5,74.5L109,74.5L109.5,74.5L110,74.5L110.5,74.5L111,74.5L111.5,74.5L112,74.5L112.5,74.5L113,74.5L113.5,74.5L114,74.6L114.5,75.4L115,75.6L115.5,75.8L116,76L116.5,76.2L117,76.4L117.5,76.6L118,76.8L118.5,77L119,77.2L119.5,77.5L120,77.9L120.5,78.2L121,78.6L121.5,78.9L122,79.3L122.5,79.7L123,80L123.5,80.6L124,81.1L124.5,81.7L125,82.3L125.5,82.8L126,83.4L126.5,84L127,84.6L127.5,85.3L128,85.9L128.5,86.6L129,87.2L129.5,87.9L130,88.5L130.5,89.2L131,89.9L131.5,90.6L132,91.2L132.5,91.9L133,92.6L133.5,93.3L134,94L134.5,94.7L135,95.5L135.3,95.9L135.5,96.2L136,96.9L136.5,97.6L137,98.3L137.5,99.1L138,99.8L138.5,100.6L139,101.3L139.5,102.1L140,102.9L140.5,103.6L141,104.4L141.5,105.2L142,106L142.5,106.8L143,107.7L143.5,108.5L144,109.3L144.1,109.5L144.5,110.1L145,110.9L145.5,111.8L146,112.6L146.5,113.5L147,114.3L147.5,115.2L148,116.1L148.5,116.9L149,117.8L149.5,118.7L150,119.6L150.5,120.5L151,121.4L151.5,122.3L152,123.2L152.5,124.1L153,125L153.5,125.9L154,126.8L154.5,127.7L155,128.6L155.5,129.6L156,130.5L156.5,131.4L157,132.3L157.5,133.2L158,134.2L158.5,135.1L159,136L159.5,136.9L160,137.9L160.5,138.8L161,139.7L161.5,140.7L162,141.6L162.5,142.5L163,143.5L163.5,144.4L164,145.3L164.5,146.3L165,147.2L165.5,148.1L166,149.1L166.5,150L167,150.9L167.5,151.9L168,152.8L168.5,153.7L169,154.7L169.5,155.6L170,156.5L170.5,157.5L171,158.4L171.5,159.3L172,160.3L172.5,161.2L173,162.1L173.5,163.1L174,164L174.5,164.9L174.7,165.3L175,165.9L175.5,166.8L176,167.7L176.5,168.7L177,169.6L177.5,170.5L178,171.5L178.5,172.4L179,173.3L179.5,174.3L180,175.2L180.5,176.1L181,177.1L181.5,178L182,179L182.5,179.9L183,180.8L183.5,181.8L184,182.7L184.5,183.6L185,184.6L185.5,185.5L186,186.4L186.5,187.4L187,188.3L187.5,189.2L188,190.2L188.5,191.1L189,192L189.5,193L190,193.9L190.5,194.8L191,195.8L191.5,196.7L192,197.7L192.5,198.6L193,199.5L193.5,200.5L194,201.4L194.5,202.3L195,203L195.5,203.3L196,203.6L196.5,203.9L197,204.1L197.5,204.4L198,204.7L198.5,204.9L199,205.2L199.5,205.4L200,205.6L200.5,205.8L201,206L201.5,206.2L202,206.4L202.5,206.6L203,206.7L203.5,206.8L204,206.9L204.5,207" stroke="#ffe600" stroke-width="3.3"/>
<path d="M71,207L71.5,204.8L72,202.6L72.5,200.4L72.6,200L73,194.7L73.5,188.2L74,181.6L74.5,175L75,168.8L75.5,162.5L76,156.2L76.5,150L77,145.6L77.5,141.2L78,136.8L78.5,132.4L79,128L79.5,123.8L80,119.5L80.5,115.3L81,111.1L81.5,106.8L81.6,106L82,104.8L82.5,101.8L83,98.8L83.5,95.8L83.6,95.2L84,94.2L84.5,92.8L85,91.5L85.2,91L85.5,91L86,90.9L86.5,90.8L87,90.8L87.5,90.7L88,91L88.5,91.2L89,91.5L89.5,91.7L90,92L90.5,92.2L91,90.7L91.5,89.1L91.8,88.2L92,87L92.5,84.1L93,81.2L93.5,80.7L94,80.3L94.5,79.8L95,79.8L95.5,79.8L96,79.8L96.5,79.8L97,79.8L97.5,80L98,80.2L98.5,80.5L99,80.7L99.3,80.8L99.5,80.2L100,78.7L100.5,77.2L101,73.5L101.3,73L101.5,73L102,73L102.2,73L102.5,73L103,73L103.5,73L104,73L104.5,73L105,73L105.5,73L106,73L106.5,73L107,73L107.5,73L108,73L108.5,73L109,73L109.5,73L110,73L110.5,73L111,73L111.5,73L112,73L112.5,73L113,73L113.5,73L114,73L114.5,73.8L115,74L115.5,74.1L116,74.3L116.5,74.5L117,74.7L117.5,74.8L118,75L118.5,75.2L119,75.4L119.5,75.7L120,76L120.5,76.3L121,76.6L121.5,76.9L122,77.2L122.5,77.5L123,77.9L123.5,78.4L124,78.9L124.5,79.4L125,79.9L125.5,80.4L126,80.9L126.5,81.4L127,82L127.5,82.5L128,83.1L128.5,83.7L129,84.3L129.5,84.8L130,85.4L130.5,86L131,86.6L131.5,87.2L132,87.7L132.5,88.3L133,88.9L133.5,89.5L134,90.1L134.5,90.7L135,91.3L135.3,91.6L135.5,91.9L136,92.4L136.5,93L137,93.5L137.5,94.1L138,94.7L138.5,95.2L139,95.8L139.5,96.4L140,97L140.5,97.5L141,98.1L141.5,98.7L142,99.3L142.5,99.9L143,100.5L143.5,101.2L144,101.8L144.1,101.9L144.5,102.3L145,102.9L145.5,103.5L146,104.1L146.5,104.7L147,105.3L147.5,105.9L148,106.6L148.5,107.2L149,107.9L149.5,108.6L150,109.2L150.5,109.9L151,110.6L151.5,111.4L152,112.1L152.5,112.8L153,113.6L153.5,114.3L154,115.1L154.5,115.9L155,116.6L155.5,117.4L156,118.2L156.5,119L157,119.8L157.5,120.7L158,121.5L158.5,122.3L159,123.1L159.5,124L160,124.8L160.5,125.7L161,126.5L161.5,127.4L162,128.2L162.5,129.1L163,130L163.5,130.8L164,131.7L164.5,132.6L165,133.5L165.5,134.3L166,135.2L166.5,136.1L167,137L167.5,137.9L168,138.8L168.5,139.6L169,140.5L169.5,141.4L170,142.3L170.5,143.2L171,144.1L171.5,145L172,145.9L172.5,146.8L173,147.7L173.5,148.6L174,149.5L174.5,150.3L174.7,150.7L175,151.2L175.5,152.1L176,153L176.5,153.9L177,154.8L177.5,155.7L178,156.6L178.5,157.5L179,158.4L179.5,159.3L180,160.2L180.5,161.1L181,162L181.5,162.9L182,163.8L182.5,164.7L183,165.6L183.5,166.5L184,167.4L184.5,168.3L185,169.2L185.5,170.1L186,171L186.5,171.9L187,172.8L187.5,173.7L188,174.6L188.5,175.5L189,176.4L189.5,177.3L190,178.2L190.5,179.1L191,180L191.5,180.9L192,181.8L192.5,182.7L193,183.6L193.5,184.5L194,185.4L194.5,186.3L195,187.2L195.5,188.1L196,189L196.5,189.9L197,190.8L197.5,191.7L198,192.6L198.5,193.5L199,194.4L199.5,195.3L200,196.2L200.5,197.1L201,198L201.5,198.9L202,199.8L202.5,200.7L203,201.6L203.5,202.5L204,203.4L204.5,204.3L205,205.1L205.5,205.3L206,205.6L206.5,205.8L207,206L207.5,206.2L208,206.4L208.5,206.5L209,206.7L209.5,206.8L210,206.9L210.5,207" stroke="#00ff00" stroke-width="3.3"/>
<path d="M71,207L71.5,204.8L72,202.6L72.5,200.4L72.6,200L73,194.7L73.5,188.2L74,181.6L74.5,175L75,168.8L75.5,162.5L76,156.2L76.5,150L77,145.6L77.5,141.2L78,136.8L78.5,132.4L79,128L79.5,123.8L80,119.5L80.5,115.3L81,111.1L81.5,106.8L81.6,106L82,104.8L82.5,101.8L83,98.8L83.5,95.8L83.6,95.2L84,94.2L84.5,92.8L85,91.5L85.2,91L85.5,91L86,90.9L86.5,90.8L87,90.8L87.5,90.7L88,91L88.5,91.2L89,91.5L89.5,91.7L90,92L90.5,92.2L91,90.7L91.5,89.1L91.8,88.2L92,87L92.5,84.1L93,81.2L93.5,80.7L94,80.3L94.5,79.8L95,79.8L95.5,79.8L96,79.8L96.5,79.8L97,79.8L97.5,80L98,80.2L98.5,80.5L99,80.7L99.3,80.8L99.5,80.2L100,78.7L100.5,77.2L101,73.5L101.3,71.5L101.5,71.5L102,71.5L102.2,71.5L102.5,71.5L103,71.5L103.5,71.5L104,71.5L104.5,71.5L105,71.5L105.5,71.5L106,71.5L106.5,71.5L107,71.5L107.5,71.5L108,71.5L108.5,71.5L109,71.5L109.5,71.5L110,71.5L110.5,71.5L111,71.5L111.5,71.5L112,71.5L112.5,71.5L113,71.5L113.5,71.5L114,71.5L114.5,72.2L115,72.4L115.5,72.6L116,72.7L116.5,72.9L117,73.1L117.5,73.2L118,73.4L118.5,73.5L119,73.7L119.5,74L120,74.3L120.5,74.6L121,74.9L121.5,75.2L122,75.5L122.5,75.8L123,76.1L123.5,76.6L124,77.1L124.5,77.5L125,78L125.5,78.5L126,79L126.5,79.5L127,80.1L127.5,80.6L128,81.2L128.5,81.7L129,82.3L129.5,82.8L130,83.4L130.5,84L131,84.5L131.5,85.1L132,85.6L132.5,86.2L133,86.8L133.5,87.3L134,87.9L134.5,88.4L135,89L135.3,89.3L135.5,89.5L136,90.1L136.5,90.6L137,91.1L137.5,91.6L138,92.2L138.5,92.7L139,93.2L139.5,93.7L140,94.3L140.5,94.8L141,95.3L141.5,95.9L142,96.4L142.5,97L143,97.5L143.5,98.1L144,98.6L144.1,98.7L144.5,99.1L145,99.6L145.5,100.1L146,100.6L146.5,101.1L147,101.6L147.5,102.1L148,102.6L148.5,103.2L149,103.7L149.5,104.2L150,104.8L150.5,105.4L151,105.9L151.5,106.5L152,107.1L152.5,107.7L153,108.3L153.5,109L154,109.6L154.5,110.2L155,110.9L155.5,111.5L156,112.2L156.5,112.9L157,113.5L157.5,114.2L158,114.9L158.5,115.7L159,116.4L159.5,117.1L160,117.8L160.5,118.6L161,119.3L161.5,120.1L162,120.9L162.5,121.6L163,122.4L163.5,123.2L164,124L164.5,124.8L165,125.6L165.5,126.4L166,127.2L166.5,128L167,128.9L167.5,129.7L168,130.5L168.5,131.4L169,132.2L169.5,133L170,133.9L170.5,134.7L171,135.6L171.5,136.4L172,137.3L172.5,138.1L173,139L173.5,139.8L174,140.7L174.5,141.6L174.7,141.9L175,142.4L175.5,143.3L176,144.1L176.5,145L177,145.9L177.5,146.7L178,147.6L178.5,148.5L179,149.3L179.5,150.2L180,151.1L180.5,151.9L181,152.8L181.5,153.7L182,154.5L182.5,155.4L183,156.3L183.5,157.2L184,158L184.5,158.9L185,159.8L185.5,160.6L186,161.5L186.5,162.4L187,163.3L187.5,164.1L188,165L188.5,165.9L189,166.8L189.5,167.6L190,168.5L190.5,169.4L191,170.3L191.5,171.1L192,172L192.5,172.9L193,173.8L193.5,174.6L194,175.5L194.5,176.4L195,177.3L195.5,178.1L196,179L196.5,179.9L197,180.8L197.5,181.6L198,182.5L198.5,183.4L199,184.3L199.5,185.1L200,186L200.5,186.9L201,187.8L201.5,188.6L202,189.5L202.5,190.4L203,191.3L203.5,192.1L204,193L204.5,193.9L205,194.8L205.5,195.6L206,196.5L206.5,197.4L207,198.3L207.5,199.1L208,200L208.5,200.9L209,201.8L209.5,202.6L210,203.5L210.5,204.4L211,205.1L211.5,205.3L212,205.6L212.5,205.8L213,206L213.5,206.2L214,206.4L214.5,206.5L215,206.7L215.5,206.8L216,206.9L216.5,207" stroke="#00ff00" stroke-width="3.3"/>
<path d="M71,207L71.5,204.8L72,202.6L72.5,200.4L72.6,200L73,194.7L73.5,188.2L74,181.6L74.5,175L75,168.8L75.5,162.5L76,156.2L76.5,150L77,145.6L77.5,141.2L78,136.8L78.5,132.4L79,128L79.5,123.8L80,119.5L80.5,115.3L81,111.1L81.5,106.8L81.6,106L82,104.8L82.5,101.8L83,98.8L83.5,95.8L83.6,95.2L84,94.2L84.5,92.8L85,91.5L85.2,91L85.5,91L86,90.9L86.5,90.8L87,90.8L87.5,90.7L88,91L88.5,91.2L89,91.5L89.5,91.7L90,92L90.5,92.2L91,90.7L91.5,89.1L91.8,88.2L92,87L92.5,84.1L93,81.2L93.5,80.7L94,80.3L94.5,79.8L95,79.8L95.5,79.8L96,79.8L96.5,79.8L97,79.8L97.5,80L98,80.2L98.5,80.5L99,80.7L99.3,80.8L99.5,80.2L100,78.7L100.5,77.2L101,73.5L101.3,71.2L101.5,70.1L102,70.1L102.2,70.1L102.5,70.1L103,70.1L103.5,70.1L104,70.1L104.5,70.1L105,70.1L105.5,70.1L106,70.1L106.5,70.1L107,70.1L107.5,70.1L108,70.1L108.5,70.1L109,70.1L109.5,70.1L110,70.1L110.5,70.1L111,70.1L111.5,70.1L112,70.1L112.5,70.1L113,70.1L113.5,70.1L114,70.1L114.5,70.8L115,70.9L115.5,71.1L116,71.2L116.5,71.4L117,71.6L117.5,71.7L118,71.9L118.5,72L119,72.2L119.5,72.5L120,72.7L120.5,73L121,73.3L121.5,73.6L122,73.9L122.5,74.2L123,74.4L123.5,74.9L124,75.4L124.5,75.9L125,76.3L125.5,76.8L126,77.3L126.5,77.8L127,78.3L127.5,78.9L128,79.4L128.5,80L129,80.5L129.5,81L130,81.6L130.5,82.1L131,82.7L131.5,83.2L132,83.8L132.5,84.3L133,84.9L133.5,85.4L134,85.9L134.5,86.5L135,87L135.3,87.4L135.5,87.6L136,88.1L136.5,88.6L137,89.1L137.5,89.6L138,90.1L138.5,90.6L139,91.1L139.5,91.6L140,92.1L140.5,92.6L141,93.1L141.5,93.6L142,94.1L142.5,94.6L143,95.2L143.5,95.7L144,96.2L144.1,96.3L144.5,96.6L145,97.1L145.5,97.5L146,98L146.5,98.5L147,98.9L147.5,99.4L148,99.8L148.5,100.3L149,100.8L149.5,101.3L150,101.8L150.5,102.2L151,102.7L151.5,103.2L152,103.8L152.5,104.3L153,104.8L153.5,105.3L154,105.8L154.5,106.3L155,106.9L155.5,107.4L156,108L156.5,108.5L157,109.1L157.5,109.7L158,110.2L158.5,110.8L159,111.4L159.5,112L160,112.6L160.5,113.2L161,113.9L161.5,114.5L162,115.1L162.5,115.8L163,116.4L163.5,117.1L164,117.8L164.5,118.5L165,119.1L165.5,119.8L166,120.5L166.5,121.3L167,122L167.5,122.7L168,123.4L168.5,124.2L169,124.9L169.5,125.7L170,126.4L170.5,127.2L171,128L171.5,128.8L172,129.5L172.5,130.3L173,131.1L173.5,131.9L174,132.7L174.5,133.5L174.7,133.8L175,134.3L175.5,135.1L176,135.9L176.5,136.7L177,137.5L177.5,138.4L178,139.2L178.5,140L179,140.8L179.5,141.7L180,142.5L180.5,143.3L181,144.1L181.5,145L182,145.8L182.5,146.6L183,147.5L183.5,148.3L184,149.2L184.5,150L185,150.8L185.5,151.7L186,152.5L186.5,153.4L187,154.2L187.5,155.1L188,155.9L188.5,156.7L189,157.6L189.5,158.4L190,159.3L190.5,160.1L191,161L191.5,161.8L192,162.7L192.5,163.5L193,164.4L193.5,165.2L194,166.1L194.5,166.9L195,167.8L195.5,168.6L196,169.4L196.5,170.3L197,171.1L197.5,172L198,172.8L198.5,173.7L199,174.5L199.5,175.4L200,176.2L200.5,177.1L201,177.9L201.5,178.8L202,179.6L202.5,180.5L203,181.3L203.5,182.2L204,183L204.5,183.9L205,184.7L205.5,185.6L206,186.4L206.5,187.3L207,188.1L207.5,189L208,189.8L208.5,190.7L209,191.5L209.5,192.4L210,193.2L210.5,194.1L211,194.9L211.5,195.8L212,196.6L212.5,197.5L213,198.3L213.5,199.2L214,200L214.5,200.9L215,201.7L215.5,202.6L216,203.4L216.5,204.3L217,205.1L217.5,205.3L218,205.5L218.5,205.7L219,206L219.5,206.2L220,206.3L220.5,206.5L221,206.7L221.5,206.8L222,206.9L222.5,207" stroke="#00ff00" stroke-width="3.3"/>
<path d="M71,207L71.5,204.8L72,202.6L72.5,200.4L72.6,200L73,194.7L73.5,188.2L74,181.6L74.5,175L75,168.8L75.5,162.5L76,156.2L76.5,150L77,145.6L77.5,141.2L78,136.8L78.5,132.4L79,128L79.5,123.8L80,119.5L80.5,115.3L81,111.1L81.5,106.8L81.6,106L82,104.8L82.5,101.8L83,98.8L83.5,95.8L83.6,95.2L84,94.2L84.5,92.8L85,91.5L85.2,91L85.5,91L86,90.9L86.5,90.8L87,90.8L87.5,90.7L88,91L88.5,91.2L89,91.5L89.5,91.7L90,92L90.5,92.2L91,90.7L91.5,89.1L91.8,88.2L92,87L92.5,84.1L93,81.2L93.5,80.7L94,80.3L94.5,79.8L95,79.8L95.5,79.8L96,79.8L96.5,79.8L97,79.8L97.5,80L98,80.2L98.5,80.5L99,80.7L99.3,80.8L99.5,80.2L100,78.7L100.5,77.2L101,73.5L101.3,71.2L101.5,69.4L102,68.6L102.2,68.6L102.5,68.6L103,68.6L103.5,68.6L104,68.6L104.5,68.6L105,68.6L105.5,68.6L106,68.6L106.5,68.6L107,68.6L107.5,68.6L108,68.6L108.5,68.6L109,68.6L109.5,68.6L110,68.6L110.5,68.6L111,68.6L111.5,68.6L112,68.6L112.5,68.6L113,68.6L113.5,68.6L114,68.6L114.5,69.2L115,69.4L115.5,69.5L116,69.7L116.5,69.8L117,69.9L117.5,70.1L118,70.2L118.5,70.4L119,70.5L119.5,70.8L120,71.1L120.5,71.3L121,71.6L121.5,71.9L122,72.2L122.5,72.4L123,72.7L123.5,73.2L124,73.6L124.5,74.1L125,74.6L125.5,75L126,75.5L126.5,76L127,76.5L127.5,77L128,77.6L128.5,78.1L129,78.6L129.5,79.2L130,79.7L130.5,80.2L131,80.8L131.5,81.3L132,81.8L132.5,82.3L133,82.9L133.5,83.4L134,83.9L134.5,84.5L135,85L135.3,85.3L135.5,85.5L136,86L136.5,86.5L137,87L137.5,87.5L138,88L138.5,88.5L139,89L139.5,89.4L140,89.9L140.5,90.4L141,90.9L141.5,91.4L142,91.9L142.5,92.4L143,92.9L143.5,93.4L144,93.9L144.1,93.9L144.5,94.3L145,94.7L145.5,95.2L146,95.6L146.5,96.1L147,96.5L147.5,97L148,97.4L148.5,97.9L149,98.3L149.5,98.8L150,99.2L150.5,99.7L151,100.1L151.5,100.6L152,101.1L152.5,101.5L153,102L153.5,102.5L154,103L154.5,103.4L155,103.9L155.5,104.4L156,104.9L156.5,105.4L157,105.9L157.5,106.4L158,106.9L158.5,107.4L159,107.9L159.5,108.4L160,108.9L160.5,109.4L161,110L161.5,110.5L162,111L162.5,111.6L163,112.1L163.5,112.7L164,113.3L164.5,113.8L165,114.4L165.5,115L166,115.6L166.5,116.2L167,116.8L167.5,117.4L168,118L168.5,118.6L169,119.3L169.5,119.9L170,120.6L170.5,121.2L171,121.9L171.5,122.6L172,123.2L172.5,123.9L173,124.6L173.5,125.3L174,126L174.5,126.7L174.7,127L175,127.4L175.5,128.1L176,128.9L176.5,129.6L177,130.3L177.5,131.1L178,131.8L178.5,132.6L179,133.3L179.5,134.1L180,134.9L180.5,135.6L181,136.4L181.5,137.2L182,138L182.5,138.7L183,139.5L183.5,140.3L184,141.1L184.5,141.9L185,142.7L185.5,143.5L186,144.3L186.5,145.1L187,145.9L187.5,146.7L188,147.5L188.5,148.3L189,149.1L189.5,149.9L190,150.7L190.5,151.6L191,152.4L191.5,153.2L192,154L192.5,154.8L193,155.6L193.5,156.4L194,157.3L194.5,158.1L195,158.9L195.5,159.7L196,160.5L196.5,161.4L197,162.2L197.5,163L198,163.8L198.5,164.6L199,165.5L199.5,166.3L200,167.1L200.5,167.9L201,168.8L201.5,169.6L202,170.4L202.5,171.2L203,172L203.5,172.9L204,173.7L204.5,174.5L205,175.3L205.5,176.2L206,177L206.5,177.8L207,178.6L207.5,179.5L208,180.3L208.5,181.1L209,181.9L209.5,182.8L210,183.6L210.5,184.4L211,185.2L211.5,186.1L212,186.9L212.5,187.7L213,188.5L213.5,189.3L214,190.2L214.5,191L215,191.8L215.5,192.6L216,193.5L216.5,194.3L217,195.1L217.5,195.9L218,196.8L218.5,197.6L219,198.4L219.5,199.2L220,200.1L220.5,200.9L221,201.7L221.5,202.5L222,203.4L222.5,204.2L223,205L223.5,205.3L224,205.5L224.5,205.7L225,205.9L225.5,206.1L226,206.3L226.5,206.5L227,206.6L227.5,206.8L228,206.9L228.5,207" stroke="#00ff00" stroke-width="3.3"/>
<path d="M71,207L71.5,204.8L72,202.6L72.5,200.4L72.6,200L73,194.7L73.5,188.2L74,181.6L74.5,175L75,168.8L75.5,162.5L76,156.2L76.5,150L77,145.6L77.5,141.2L78,136.8L78.5,132.4L79,128L79.5,123.8L80,119.5L80.5,115.3L81,111.1L81.5,106.8L81.6,106L82,104.8L82.5,101.8L83,98.8L83.5,95.8L83.6,95.2L84,94.2L84.5,92.8L85,91.5L85.2,91L85.5,91L86,90.9L86.5,90.8L87,90.8L87.5,90.7L88,91L88.5,91.2L89,91.5L89.5,91.7L90,92L90.5,92.2L91,90.7L91.5,89.1L91.8,88.2L92,87L92.5,84.1L93,81.2L93.5,80.7L94,80.3L94.5,79.8L95,79.8L95.5,79.8L96,79.8L96.5,79.8L97,79.8L97.5,80L98,80.2L98.5,80.5L99,80.7L99.3,80.8L99.5,80.2L100,78.7L100.5,77.2L101,73.5L101.3,71.2L101.5,69.4L102,67.2L102.2,67.2L102.5,67.2L103,67.2L103.5,67.2L104,67.2L104.5,67.2L105,67.2L105.5,67.2L106,67.2L106.5,67.2L107,67.2L107.5,67.2L108,67.2L108.5,67.2L109,67.2L109.5,67.2L110,67.2L110.5,67.2L111,67.2L111.5,67.2L112,67.2L112.5,67.2L113,67.2L113.5,67.2L114,67.2L114.5,67.8L115,67.9L115.5,68L116,68.2L116.5,68.3L117,68.4L117.5,68.6L118,68.7L118.5,68.8L119,69L119.5,69.2L120,69.5L120.5,69.8L121,70L121.5,70.3L122,70.6L122.5,70.8L123,71.1L123.5,71.5L124,72L124.5,72.4L125,72.9L125.5,73.4L126,73.8L126.5,74.3L127,74.8L127.5,75.3L128,75.8L128.5,76.4L129,76.9L129.5,77.4L130,77.9L130.5,78.4L131,79L131.5,79.5L132,80L132.5,80.5L133,81.1L133.5,81.6L134,82.1L134.5,82.6L135,83.1L135.3,83.5L135.5,83.6L136,84.1L136.5,84.6L137,85.1L137.5,85.6L138,86L138.5,86.5L139,87L139.5,87.5L140,87.9L140.5,88.4L141,88.9L141.5,89.4L142,89.9L142.5,90.3L143,90.8L143.5,91.3L144,91.8L144.1,91.8L144.5,92.2L145,92.6L145.5,93.1L146,93.5L146.5,93.9L147,94.4L147.5,94.8L148,95.3L148.5,95.7L149,96.1L149.5,96.6L150,97L150.5,97.5L151,97.9L151.5,98.4L152,98.8L152.5,99.3L153,99.7L153.5,100.2L154,100.6L154.5,101.1L155,101.6L155.5,102L156,102.5L156.5,102.9L157,103.4L157.5,103.9L158,104.3L158.5,104.8L159,105.3L159.5,105.7L160,106.2L160.5,106.7L161,107.2L161.5,107.6L162,108.1L162.5,108.6L163,109.1L163.5,109.6L164,110.1L164.5,110.6L165,111.1L165.5,111.6L166,112.1L166.5,112.6L167,113.1L167.5,113.6L168,114.2L168.5,114.7L169,115.2L169.5,115.8L170,116.3L170.5,116.9L171,117.4L171.5,118L172,118.5L172.5,119.1L173,119.7L173.5,120.3L174,120.9L174.5,121.5L174.7,121.7L175,122.1L175.5,122.7L176,123.3L176.5,123.9L177,124.5L177.5,125.1L178,125.8L178.5,126.4L179,127.1L179.5,127.7L180,128.4L180.5,129.1L181,129.7L181.5,130.4L182,131.1L182.5,131.8L183,132.5L183.5,133.2L184,133.9L184.5,134.6L185,135.4L185.5,136.1L186,136.8L186.5,137.5L187,138.3L187.5,139L188,139.8L188.5,140.5L189,141.3L189.5,142L190,142.8L190.5,143.5L191,144.3L191.5,145.1L192,145.8L192.5,146.6L193,147.4L193.5,148.2L194,148.9L194.5,149.7L195,150.5L195.5,151.3L196,152.1L196.5,152.8L197,153.6L197.5,154.4L198,155.2L198.5,156L199,156.8L199.5,157.6L200,158.3L200.5,159.1L201,159.9L201.5,160.7L202,161.5L202.5,162.3L203,163.1L203.5,163.9L204,164.7L204.5,165.5L205,166.3L205.5,167.1L206,167.9L206.5,168.7L207,169.4L207.5,170.2L208,171L208.5,171.8L209,172.6L209.5,173.4L210,174.2L210.5,175L211,175.8L211.5,176.6L212,177.4L212.5,178.2L213,179L213.5,179.8L214,180.6L214.5,181.4L215,182.2L215.5,183L216,183.8L216.5,184.6L217,185.4L217.5,186.2L218,187L218.5,187.8L219,188.6L219.5,189.4L220,190.2L220.5,191L221,191.8L221.5,192.6L222,193.4L222.5,194.2L223,195L223.5,195.8L224,196.6L224.5,197.4L225,198.2L225.5,199L226,199.8L226.5,200.6L227,201.4L227.5,202.2L228,203L228.5,203.8L229,204.6L229.5,205.1L230,205.3L230.5,205.6L231,205.8L231.5,206L232,206.2L232.5,206.4L233,206.5L233.5,206.7L234,206.8L234.5,206.9L235,207" stroke="#00ff00" stroke-width="3.3"/>
<path d="M71,207L71.5,204.8L72,202.6L72.5,200.4L72.6,200L73,194.7L73.5,188.2L74,181.6L74.5,175L75,168.8L75.5,162.5L76,156.2L76.5,150L77,145.6L77.5,141.2L78,136.8L78.5,132.4L79,128L79.5,123.8L80,119.5L80.5,115.3L81,111.1L81.5,106.8L81.6,106L82,104.8L82.5,101.8L83,98.8L83.5,95.8L83.6,95.2L84,94.2L84.5,92.8L85,91.5L85.2,91L85.5,91L86,90.9L86.5,90.8L87,90.8L87.5,90.7L88,91L88.5,91.2L89,91.5L89.5,91.7L90,92L90.5,92.2L91,90.7L91.5,89.1L91.8,88.2L92,87L92.5,84.1L93,81.2L93.5,80.7L94,80.3L94.5,79.8L95,79.8L95.5,79.8L96,79.8L96.5,79.8L97,79.8L97.5,80L98,80.2L98.5,80.5L99,80.7L99.3,80.8L99.5,80.2L100,78.7L100.5,77.2L101,73.5L101.3,71.2L101.5,69.4L102,65.7L102.2,65.7L102.5,65.7L103,65.7L103.5,65.7L104,65.7L104.5,65.7L105,65.7L105.5,65.7L106,65.7L106.5,65.7L107,65.7L107.5,65.7L108,65.7L108.5,65.7L109,65.7L109.5,65.7L110,65.7L110.5,65.7L111,65.7L111.5,65.7L112,65.7L112.5,65.7L113,65.7L113.5,65.7L114,65.7L114.5,66.2L115,66.4L115.5,66.5L116,66.6L116.5,66.7L117,66.8L117.5,67L118,67.1L118.5,67.2L119,67.3L119.5,67.6L120,67.8L120.5,68.1L121,68.3L121.5,68.6L122,68.8L122.5,69.1L123,69.3L123.5,69.8L124,70.2L124.5,70.7L125,71.1L125.5,71.6L126,72L126.5,72.5L127,73L127.5,73.5L128,74L128.5,74.5L129,75L129.5,75.5L130,76L130.5,76.6L131,77.1L131.5,77.6L132,78.1L132.5,78.6L133,79.1L133.5,79.6L134,80.1L134.5,80.6L135,81.2L135.3,81.5L135.5,81.6L136,82.1L136.5,82.6L137,83L137.5,83.5L138,84L138.5,84.4L139,84.9L139.5,85.4L140,85.8L140.5,86.3L141,86.8L141.5,87.2L142,87.7L142.5,88.2L143,88.6L143.5,89.1L144,89.6L144.1,89.7L144.5,90L145,90.4L145.5,90.9L146,91.3L146.5,91.7L147,92.2L147.5,92.6L148,93L148.5,93.5L149,93.9L149.5,94.4L150,94.8L150.5,95.2L151,95.7L151.5,96.1L152,96.6L152.5,97L153,97.5L153.5,97.9L154,98.4L154.5,98.8L155,99.3L155.5,99.7L156,100.2L156.5,100.6L157,101.1L157.5,101.5L158,102L158.5,102.4L159,102.9L159.5,103.3L160,103.8L160.5,104.3L161,104.7L161.5,105.2L162,105.6L162.5,106.1L163,106.6L163.5,107L164,107.5L164.5,108L165,108.4L165.5,108.9L166,109.4L166.5,109.9L167,110.3L167.5,110.8L168,111.3L168.5,111.8L169,112.3L169.5,112.8L170,113.2L170.5,113.7L171,114.2L171.5,114.7L172,115.3L172.5,115.8L173,116.3L173.5,116.8L174,117.3L174.5,117.8L174.7,118L175,118.4L175.5,118.9L176,119.4L176.5,119.9L177,120.5L177.5,121L178,121.6L178.5,122.1L179,122.7L179.5,123.3L180,123.8L180.5,124.4L181,125L181.5,125.6L182,126.2L182.5,126.8L183,127.4L183.5,128L184,128.6L184.5,129.2L185,129.9L185.5,130.5L186,131.2L186.5,131.8L187,132.5L187.5,133.1L188,133.8L188.5,134.5L189,135.1L189.5,135.8L190,136.5L190.5,137.2L191,137.9L191.5,138.6L192,139.3L192.5,140L193,140.7L193.5,141.4L194,142.2L194.5,142.9L195,143.6L195.5,144.3L196,145.1L196.5,145.8L197,146.5L197.5,147.3L198,148L198.5,148.8L199,149.5L199.5,150.3L200,151L200.5,151.7L201,152.5L201.5,153.2L202,154L202.5,154.8L203,155.5L203.5,156.3L204,157L204.5,157.8L205,158.5L205.5,159.3L206,160.1L206.5,160.8L207,161.6L207.5,162.3L208,163.1L208.5,163.9L209,164.6L209.5,165.4L210,166.2L210.5,166.9L211,167.7L211.5,168.5L212,169.3L212.5,170L213,170.8L213.5,171.6L214,172.3L214.5,173.1L215,173.9L215.5,174.6L216,175.4L216.5,176.2L217,177L217.5,177.7L218,178.5L218.5,179.3L219,180.1L219.5,180.8L220,181.6L220.5,182.4L221,183.2L221.5,183.9L222,184.7L222.5,185.5L223,186.2L223.5,187L224,187.8L224.5,188.6L225,189.3L225.5,190.1L226,190.9L226.5,191.7L227,192.4L227.5,193.2L228,194L228.5,194.8L229,195.5L229.5,196.3L230,197.1L230.5,197.9L231,198.6L231.5,199.4L232,200.2L232.5,201L233,201.7L233.5,202.5L234,203.3L234.5,204.1L235,204.8L235.5,205.2L236,205.4L236.5,205.6L237,205.8L237.5,206L238,206.2L238.5,206.4L239,206.6L239.5,206.7L240,206.9L240.5,207L241,207" stroke="#00ff00" stroke-width="3.3"/>
<path d="M71,207L71.5,204.8L72,202.6L72.5,200.4L72.6,200L73,194.7L73.5,188.2L74,181.6L74.5,175L75,168.8L75.5,162.5L76,156.2L76.5,150L77,145.6L77.5,141.2L78,136.8L78.5,132.4L79,128L79.5,123.8L80,119.5L80.5,115.3L81,111.1L81.5,106.8L81.6,106L82,104.8L82.5,101.8L83,98.8L83.5,95.8L83.6,95.2L84,94.2L84.5,92.8L85,91.5L85.2,91L85.5,91L86,90.9L86.5,90.8L87,90.8L87.5,90.7L88,91L88.5,91.2L89,91.5L89.5,91.7L90,92L90.5,92.2L91,90.7L91.5,89.1L91.8,88.2L92,87L92.5,84.1L93,81.2L93.5,80.7L94,80.3L94.5,79.8L95,79.8L95.5,79.8L96,79.8L96.5,79.8L97,79.8L97.5,80L98,80.2L98.5,80.5L99,80.7L99.3,80.8L99.5,80.2L100,78.7L100.5,77.2L101,73.5L101.3,71.2L101.5,69.4L102,65L102.2,64.3L102.5,64.3L103,64.3L103.5,64.3L104,64.3L104.5,64.3L105,64.3L105.5,64.3L106,64.3L106.5,64.3L107,64.3L107.5,64.3L108,64.3L108.5,64.3L109,64.3L109.5,64.3L110,64.3L110.5,64.3L111,64.3L111.5,64.3L112,64.3L112.5,64.3L113,64.3L113.5,64.3L114,64.3L114.5,64.8L115,64.9L115.5,65L116,65.1L116.5,65.2L117,65.3L117.5,65.5L118,65.6L118.5,65.7L119,65.8L119.5,66L120,66.3L120.5,66.5L121,66.8L121.5,67L122,67.2L122.5,67.5L123,67.7L123.5,68.2L124,68.6L124.5,69L125,69.5L125.5,69.9L126,70.3L126.5,70.8L127,71.3L127.5,71.8L128,72.3L128.5,72.8L129,73.3L129.5,73.8L130,74.3L130.5,74.8L131,75.3L131.5,75.8L132,76.3L132.5,76.8L133,77.3L133.5,77.8L134,78.3L134.5,78.8L135,79.3L135.3,79.6L135.5,79.8L136,80.2L136.5,80.7L137,81.1L137.5,81.6L138,82.1L138.5,82.5L139,83L139.5,83.4L140,83.9L140.5,84.3L141,84.8L141.5,85.3L142,85.7L142.5,86.2L143,86.6L143.5,87.1L144,87.5L144.1,87.6L144.5,88L145,88.4L145.5,88.8L146,89.3L146.5,89.7L147,90.1L147.5,90.6L148,91L148.5,91.4L149,91.9L149.5,92.3L150,92.7L150.5,93.2L151,93.6L151.5,94.1L152,94.5L152.5,95L153,95.4L153.5,95.8L154,96.3L154.5,96.7L155,97.2L155.5,97.6L156,98.1L156.5,98.5L157,99L157.5,99.4L158,99.9L158.5,100.3L159,100.7L159.5,101.2L160,101.6L160.5,102.1L161,102.5L161.5,103L162,103.4L162.5,103.9L163,104.3L163.5,104.8L164,105.3L164.5,105.7L165,106.2L165.5,106.6L166,107.1L166.5,107.5L167,108L167.5,108.4L168,108.9L168.5,109.4L169,109.8L169.5,110.3L170,110.8L170.5,111.2L171,111.7L171.5,112.2L172,112.6L172.5,113.1L173,113.6L173.5,114.1L174,114.5L174.5,115L174.7,115.2L175,115.5L175.5,116L176,116.4L176.5,116.9L177,117.4L177.5,117.9L178,118.4L178.5,118.9L179,119.3L179.5,119.8L180,120.3L180.5,120.8L181,121.3L181.5,121.9L182,122.4L182.5,122.9L183,123.4L183.5,123.9L184,124.5L184.5,125L185,125.6L185.5,126.1L186,126.7L186.5,127.2L187,127.8L187.5,128.4L188,128.9L188.5,129.5L189,130.1L189.5,130.7L190,131.3L190.5,131.9L191,132.5L191.5,133.1L192,133.7L192.5,134.4L193,135L193.5,135.6L194,136.3L194.5,136.9L195,137.6L195.5,138.2L196,138.9L196.5,139.5L197,140.2L197.5,140.9L198,141.5L198.5,142.2L199,142.9L199.5,143.6L200,144.3L200.5,144.9L201,145.6L201.5,146.3L202,147L202.5,147.7L203,148.4L203.5,149.1L204,149.8L204.5,150.5L205,151.2L205.5,151.9L206,152.6L206.5,153.4L207,154.1L207.5,154.8L208,155.5L208.5,156.2L209,157L209.5,157.7L210,158.4L210.5,159.2L211,159.9L211.5,160.6L212,161.3L212.5,162.1L213,162.8L213.5,163.6L214,164.3L214.5,165L215,165.8L215.5,166.5L216,167.2L216.5,168L217,168.7L217.5,169.5L218,170.2L218.5,171L219,171.7L219.5,172.4L220,173.2L220.5,173.9L221,174.7L221.5,175.4L222,176.2L222.5,176.9L223,177.7L223.5,178.4L224,179.1L224.5,179.9L225,180.6L225.5,181.4L226,182.1L226.5,182.9L227,183.6L227.5,184.4L228,185.1L228.5,185.9L229,186.6L229.5,187.4L230,188.1L230.5,188.9L231,189.6L231.5,190.4L232,191.1L232.5,191.9L233,192.6L233.5,193.4L234,194.1L234.5,194.9L235,195.6L235.5,196.4L236,197.1L236.5,197.9L237,198.6L237.5,199.4L238,200.1L238.5,200.9L239,201.6L239.5,202.4L240,203.1L240.5,203.9L241,204.6L241.5,205L242,205.3L242.5,205.5L243,205.8L243.5,206L244,206.2L244.5,206.4L245,206.5L245.5,206.7L246,206.8L246.5,206.9L247,207" stroke="#00ff00" stroke-width="3.3"/>
<path d="M71,207L71.5,204.8L72,202.6L72.5,200.4L72.6,200L73,194.7L73.5,188.2L74,181.6L74.5,175L75,168.8L75.5,162.5L76,156.2L76.5,150L77,145.6L77.5,141.2L78,136.8L78.5,132.4L79,128L79.5,123.8L80,119.5L80.5,115.3L81,111.1L81.5,106.8L81.6,106L82,104.8L82.5,101.8L83,98.8L83.5,95.8L83.6,95.2L84,94.2L84.5,92.8L85,91.5L85.2,91L85.5,91L86,90.9L86.5,90.8L87,90.8L87.5,90.7L88,91L88.5,91.2L89,91.5L89.5,91.7L90,92L90.5,92.2L91,90.7L91.5,89.1L91.8,88.2L92,87L92.5,84.1L93,81.2L93.5,80.7L94,80.3L94.5,79.8L95,79.8L95.5,79.8L96,79.8L96.5,79.8L97,79.8L97.5,80L98,80.2L98.5,80.5L99,80.7L99.3,80.8L99.5,80.2L100,78.7L100.5,77.2L101,73.5L101.3,71.2L101.5,69.4L102,65L102.2,63.2L102.5,62.8L103,62.8L103.5,62.8L104,62.8L104.5,62.8L105,62.8L105.5,62.8L106,62.8L106.5,62.8L107,62.8L107.5,62.8L108,62.8L108.5,62.8L109,62.8L109.5,62.8L110,62.8L110.5,62.8L111,62.8L111.5,62.8L112,62.8L112.5,62.8L113,62.8L113.5,62.8L114,62.8L114.5,63.2L115,63.3L115.5,63.4L116,63.5L116.5,63.6L117,63.7L117.5,63.8L118,63.9L118.5,64L119,64.1L119.5,64.4L120,64.6L120.5,64.8L121,65.1L121.5,65.3L122,65.5L122.5,65.8L123,66L123.5,66.4L124,66.8L124.5,67.3L125,67.7L125.5,68.1L126,68.5L126.5,69L127,69.5L127.5,69.9L128,70.4L128.5,70.9L129,71.4L129.5,71.9L130,72.4L130.5,72.9L131,73.4L131.5,73.9L132,74.4L132.5,74.9L133,75.3L133.5,75.8L134,76.3L134.5,76.8L135,77.3L135.3,77.6L135.5,77.8L136,78.2L136.5,78.7L137,79.1L137.5,79.6L138,80L138.5,80.5L139,80.9L139.5,81.3L140,81.8L140.5,82.2L141,82.7L141.5,83.1L142,83.6L142.5,84L143,84.5L143.5,84.9L144,85.4L144.1,85.4L144.5,85.8L145,86.2L145.5,86.6L146,87.1L146.5,87.5L147,87.9L147.5,88.4L148,88.8L148.5,89.2L149,89.7L149.5,90.1L150,90.5L150.5,91L151,91.4L151.5,91.9L152,92.3L152.5,92.8L153,93.2L153.5,93.6L154,94.1L154.5,94.5L155,95L155.5,95.4L156,95.9L156.5,96.3L157,96.7L157.5,97.2L158,97.6L158.5,98.1L159,98.5L159.5,99L160,99.4L160.5,99.9L161,100.3L161.5,100.7L162,101.2L162.5,101.6L163,102.1L163.5,102.5L164,103L164.5,103.4L165,103.9L165.5,104.3L166,104.8L166.5,105.2L167,105.7L167.5,106.1L168,106.6L168.5,107L169,107.5L169.5,107.9L170,108.4L170.5,108.8L171,109.3L171.5,109.7L172,110.2L172.5,110.6L173,111.1L173.5,111.6L174,112L174.5,112.5L174.7,112.7L175,112.9L175.5,113.4L176,113.8L176.5,114.3L177,114.7L177.5,115.2L178,115.6L178.5,116.1L179,116.5L179.5,117L180,117.4L180.5,117.9L181,118.4L181.5,118.8L182,119.3L182.5,119.8L183,120.2L183.5,120.7L184,121.2L184.5,121.7L185,122.1L185.5,122.6L186,123.1L186.5,123.6L187,124.1L187.5,124.6L188,125.1L188.5,125.6L189,126.1L189.5,126.6L190,127.1L190.5,127.7L191,128.2L191.5,128.7L192,129.3L192.5,129.8L193,130.4L193.5,130.9L194,131.5L194.5,132L195,132.6L195.5,133.2L196,133.7L196.5,134.3L197,134.9L197.5,135.5L198,136.1L198.5,136.7L199,137.3L199.5,137.9L200,138.5L200.5,139L201,139.6L201.5,140.2L202,140.9L202.5,141.5L203,142.1L203.5,142.7L204,143.3L204.5,144L205,144.6L205.5,145.2L206,145.9L206.5,146.5L207,147.2L207.5,147.8L208,148.5L208.5,149.1L209,149.8L209.5,150.4L210,151.1L210.5,151.8L211,152.5L211.5,153.1L212,153.8L212.5,154.5L213,155.2L213.5,155.9L214,156.6L214.5,157.2L215,157.9L215.5,158.6L216,159.3L216.5,160L217,160.7L217.5,161.4L218,162.1L218.5,162.8L219,163.5L219.5,164.2L220,164.9L220.5,165.7L221,166.4L221.5,167.1L222,167.8L222.5,168.5L223,169.2L223.5,169.9L224,170.6L224.5,171.4L225,172.1L225.5,172.8L226,173.5L226.5,174.2L227,174.9L227.5,175.6L228,176.4L228.5,177.1L229,177.8L229.5,178.5L230,179.2L230.5,180L231,180.7L231.5,181.4L232,182.1L232.5,182.8L233,183.6L233.5,184.3L234,185L234.5,185.7L235,186.5L235.5,187.2L236,187.9L236.5,188.6L237,189.3L237.5,190.1L238,190.8L238.5,191.5L239,192.2L239.5,193L240,193.7L240.5,194.4L241,195.1L241.5,195.9L242,196.6L242.5,197.3L243,198L243.5,198.7L244,199.5L244.5,200.2L245,200.9L245.5,201.6L246,202.4L246.5,203.1L247,203.8L247.5,204.5L248,204.9L248.5,205.2L249,205.5L249.5,205.7L250,206L250.5,206.2L251,206.4L251.5,206.6L252,206.8L252.5,206.9L253,207" stroke="#00ff00" stroke-width="3.3"/>
<path d="M71,207L71.5,204.8L72,202.6L72.5,200.4L72.6,200L73,194.7L73.5,188.2L74,181.6L74.5,175L75,168.8L75.5,162.5L76,156.2L76.5,150L77,145.6L77.5,141.2L78,136.8L78.5,132.4L79,128L79.5,123.8L80,119.5L80.5,115.3L81,111.1L81.5,106.8L81.6,106L82,104.8L82.5,101.8L83,98.8L83.5,95.8L83.6,95.2L84,94.2L84.5,92.8L85,91.5L85.2,91L85.5,91L86,90.9L86.5,90.8L87,90.8L87.5,90.7L88,91L88.5,91.2L89,91.5L89.5,91.7L90,92L90.5,92.2L91,90.7L91.5,89.1L91.8,88.2L92,87L92.5,84.1L93,81.2L93.5,80.7L94,80.3L94.5,79.8L95,79.8L95.5,79.8L96,79.8L96.5,79.8L97,79.8L97.5,80L98,80.2L98.5,80.5L99,80.7L99.3,80.8L99.5,80.2L100,78.7L100.5,77.2L101,73.5L101.3,71.2L101.5,69.4L102,65L102.2,63.2L102.5,62.3L103,61.7L103.5,61.7L104,61.7L104.5,61.7L105,61.7L105.5,61.7L106,61.7L106.5,61.7L107,61.7L107.5,61.7L108,61.7L108.5,61.7L109,61.7L109.5,61.7L110,61.7L110.5,61.7L111,61.7L111.5,61.7L112,61.7L112.5,61.7L113,61.7L113.5,61.7L114,61.7L114.5,62.1L115,62.2L115.5,62.3L116,62.4L116.5,62.5L117,62.6L117.5,62.7L118,62.7L118.5,62.8L119,62.9L119.5,63.2L120,63.4L120.5,63.6L121,63.8L121.5,64.1L122,64.3L122.5,64.5L123,64.7L123.5,65.1L124,65.6L124.5,66L125,66.4L125.5,66.8L126,67.2L126.5,67.6L127,68.1L127.5,68.6L128,69.1L128.5,69.6L129,70.1L129.5,70.5L130,71L130.5,71.5L131,72L131.5,72.5L132,73L132.5,73.4L133,73.9L133.5,74.4L134,74.9L134.5,75.4L135,75.9L135.3,76.1L135.5,76.3L136,76.8L136.5,77.2L137,77.6L137.5,78.1L138,78.5L138.5,78.9L139,79.4L139.5,79.8L140,80.3L140.5,80.7L141,81.1L141.5,81.6L142,82L142.5,82.4L143,82.9L143.5,83.3L144,83.8L144.1,83.8L144.5,84.2L145,84.6L145.5,85L146,85.5L146.5,85.9L147,86.3L147.5,86.8L148,87.2L148.5,87.6L149,88.1L149.5,88.5L150,88.9L150.5,89.4L151,89.8L151.5,90.3L152,90.7L152.5,91.1L153,91.6L153.5,92L154,92.5L154.5,92.9L155,93.4L155.5,93.8L156,94.2L156.5,94.7L157,95.1L157.5,95.6L158,96L158.5,96.5L159,96.9L159.5,97.3L160,97.8L160.5,98.2L161,98.7L161.5,99.1L162,99.6L162.5,100L163,100.5L163.5,100.9L164,101.3L164.5,101.8L165,102.2L165.5,102.7L166,103.1L166.5,103.6L167,104L167.5,104.5L168,104.9L168.5,105.3L169,105.8L169.5,106.2L170,106.7L170.5,107.1L171,107.6L171.5,108L172,108.5L172.5,108.9L173,109.4L173.5,109.8L174,110.3L174.5,110.7L174.7,110.9L175,111.2L175.5,111.6L176,112L176.5,112.5L177,112.9L177.5,113.4L178,113.8L178.5,114.2L179,114.7L179.5,115.1L180,115.6L180.5,116L181,116.5L181.5,116.9L182,117.3L182.5,117.8L183,118.2L183.5,118.7L184,119.1L184.5,119.6L185,120.1L185.5,120.5L186,121L186.5,121.4L187,121.9L187.5,122.4L188,122.8L188.5,123.3L189,123.8L189.5,124.2L190,124.7L190.5,125.2L191,125.7L191.5,126.2L192,126.7L192.5,127.2L193,127.7L193.5,128.2L194,128.7L194.5,129.2L195,129.8L195.5,130.3L196,130.8L196.5,131.3L197,131.8L197.5,132.4L198,132.9L198.5,133.4L199,134L199.5,134.5L200,135.1L200.5,135.6L201,136.1L201.5,136.7L202,137.2L202.5,137.7L203,138.3L203.5,138.9L204,139.4L204.5,140L205,140.5L205.5,141.1L206,141.7L206.5,142.3L207,142.9L207.5,143.4L208,144L208.5,144.6L209,145.2L209.5,145.8L210,146.5L210.5,147.1L211,147.7L211.5,148.3L212,148.9L212.5,149.6L213,150.2L213.5,150.8L214,151.5L214.5,152.1L215,152.8L215.5,153.4L216,154.1L216.5,154.7L217,155.4L217.5,156L218,156.7L218.5,157.4L219,158L219.5,158.7L220,159.4L220.5,160.1L221,160.7L221.5,161.4L222,162.1L222.5,162.8L223,163.4L223.5,164.1L224,164.8L224.5,165.5L225,166.2L225.5,166.9L226,167.6L226.5,168.3L227,169L227.5,169.6L228,170.3L228.5,171L229,171.7L229.5,172.4L230,173.1L230.5,173.8L231,174.5L231.5,175.2L232,175.9L232.5,176.6L233,177.3L233.5,178L234,178.7L234.5,179.4L235,180.1L235.5,180.8L236,181.5L236.5,182.2L237,182.9L237.5,183.7L238,184.4L238.5,185.1L239,185.8L239.5,186.5L240,187.2L240.5,187.9L241,188.6L241.5,189.3L242,190L242.5,190.7L243,191.4L243.5,192.1L244,192.8L244.5,193.5L245,194.3L245.5,195L246,195.7L246.5,196.4L247,197.1L247.5,197.8L248,198.5L248.5,199.2L249,199.9L249.5,200.6L250,201.3L250.5,202L251,202.8L251.5,203.5L252,204.2L252.5,204.9L253,205.6L253.5,206.3L254,207" stroke="#0080ff" stroke-width="2.6"/>
<path d="M71,207L71.5,204.8L72,202.6L72.5,200.4L72.6,200L73,194.7L73.5,188.2L74,181.6L74.5,175L75,168.8L75.5,162.5L76,156.2L76.5,150L77,145.6L77.5,141.2L78,136.8L78.5,132.4L79,128L79.5,123.8L80,119.5L80.5,115.3L81,111.1L81.5,106.8L81.6,106L82,104.8L82.5,101.8L83,98.8L83.5,95.8L83.6,95.2L84,94.2L84.5,92.8L85,91.5L85.2,91L85.5,91L86,90.9L86.5,90.8L87,90.8L87.5,90.7L88,91L88.5,91.2L89,91.5L89.5,91.7L90,92L90.5,92.2L91,90.7L91.5,89.1L91.8,88.2L92,87L92.5,84.1L93,81.2L93.5,80.7L94,80.3L94.5,79.8L95,79.8L95.5,79.8L96,79.8L96.5,79.8L97,79.8L97.5,80L98,80.2L98.5,80.5L99,80.7L99.3,80.8L99.5,80.2L100,78.7L100.5,77.2L101,73.5L101.3,71.2L101.5,69.4L102,65L102.2,63.2L102.5,62.3L103,61L103.5,61L104,61L104.5,61L105,61L105.5,61L106,61L106.5,61L107,61L107.5,61L108,61L108.5,61L109,61L109.5,61L110,61L110.5,61L111,61L111.5,61L112,61L112.5,61L113,61L113.5,61L114,61L114.5,61.4L115,61.5L115.5,61.6L116,61.7L116.5,61.7L117,61.8L117.5,61.9L118,62L118.5,62.1L119,62.2L119.5,62.4L120,62.6L120.5,62.8L121,63.1L121.5,63.3L122,63.5L122.5,63.7L123,63.9L123.5,64.4L124,64.8L124.5,65.2L125,65.6L125.5,66L126,66.4L126.5,66.8L127,67.3L127.5,67.8L128,68.3L128.5,68.7L129,69.2L129.5,69.7L130,70.2L130.5,70.7L131,71.1L131.5,71.6L132,72.1L132.5,72.6L133,73L133.5,73.5L134,74L134.5,74.5L135,75L135.3,75.2L135.5,75.4L136,75.9L136.5,76.3L137,76.7L137.5,77.2L138,77.6L138.5,78L139,78.5L139.5,78.9L140,79.3L140.5,79.7L141,80.2L141.5,80.6L142,81L142.5,81.5L143,81.9L143.5,82.3L144,82.8L144.1,82.9L144.5,83.2L145,83.6L145.5,84.1L146,84.5L146.5,84.9L147,85.4L147.5,85.8L148,86.2L148.5,86.7L149,87.1L149.5,87.5L150,88L150.5,88.4L151,88.8L151.5,89.3L152,89.7L152.5,90.2L153,90.6L153.5,91.1L154,91.5L154.5,91.9L155,92.4L155.5,92.8L156,93.3L156.5,93.7L157,94.1L157.5,94.6L158,95L158.5,95.5L159,95.9L159.5,96.4L160,96.8L160.5,97.2L161,97.7L161.5,98.1L162,98.6L162.5,99L163,99.5L163.5,99.9L164,100.4L164.5,100.8L165,101.2L165.5,101.7L166,102.1L166.5,102.6L167,103L167.5,103.5L168,103.9L168.5,104.3L169,104.8L169.5,105.2L170,105.7L170.5,106.1L171,106.6L171.5,107L172,107.5L172.5,107.9L173,108.4L173.5,108.8L174,109.3L174.5,109.7L174.7,109.9L175,110.1L175.5,110.6L176,111L176.5,111.4L177,111.9L177.5,112.3L178,112.7L178.5,113.2L179,113.6L179.5,114.1L180,114.5L180.5,114.9L181,115.4L181.5,115.8L182,116.3L182.5,116.7L183,117.1L183.5,117.6L184,118L184.5,118.5L185,118.9L185.5,119.4L186,119.8L186.5,120.3L187,120.7L187.5,121.2L188,121.6L188.5,122.1L189,122.5L189.5,123L190,123.4L190.5,123.9L191,124.4L191.5,124.9L192,125.4L192.5,125.8L193,126.3L193.5,126.8L194,127.3L194.5,127.8L195,128.3L195.5,128.8L196,129.3L196.5,129.8L197,130.3L197.5,130.8L198,131.3L198.5,131.8L199,132.3L199.5,132.8L200,133.3L200.5,133.8L201,134.3L201.5,134.8L202,135.3L202.5,135.8L203,136.3L203.5,136.8L204,137.4L204.5,137.9L205,138.4L205.5,138.9L206,139.5L206.5,140L207,140.5L207.5,141.1L208,141.6L208.5,142.2L209,142.7L209.5,143.3L210,143.9L210.5,144.4L211,145L211.5,145.6L212,146.2L212.5,146.7L213,147.3L213.5,147.9L214,148.5L214.5,149.1L215,149.7L215.5,150.3L216,150.9L216.5,151.6L217,152.2L217.5,152.8L218,153.4L218.5,154L219,154.7L219.5,155.3L220,155.9L220.5,156.6L221,157.2L221.5,157.9L222,158.5L222.5,159.1L223,159.8L223.5,160.4L224,161.1L224.5,161.7L225,162.4L225.5,163.1L226,163.7L226.5,164.4L227,165L227.5,165.7L228,166.4L228.5,167L229,167.7L229.5,168.4L230,169.1L230.5,169.7L231,170.4L231.5,171.1L232,171.8L232.5,172.4L233,173.1L233.5,173.8L234,174.5L234.5,175.1L235,175.8L235.5,176.5L236,177.2L236.5,177.9L237,178.6L237.5,179.2L238,179.9L238.5,180.6L239,181.3L239.5,182L240,182.7L240.5,183.4L241,184L241.5,184.7L242,185.4L242.5,186.1L243,186.8L243.5,187.5L244,188.2L244.5,188.9L245,189.5L245.5,190.2L246,190.9L246.5,191.6L247,192.3L247.5,193L248,193.7L248.5,194.4L249,195.1L249.5,195.8L250,196.5L250.5,197.1L251,197.8L251.5,198.5L252,199.2L252.5,199.9L253,200.6L253.5,201.3L254,202L254.5,202.7L255,203.4L255.5,204.1L256,204.8L256.5,205.5L257,206.1L257.5,206.8" stroke="#0080ff" stroke-width="2.6"/>
<path d="M71,207L71.5,204.8L72,202.6L72.5,200.4L72.6,200L73,194.7L73.5,188.2L74,181.6L74.5,175L75,168.8L75.5,162.5L76,156.2L76.5,150L77,145.6L77.5,141.2L78,136.8L78.5,132.4L79,128L79.5,123.8L80,119.5L80.5,115.3L81,111.1L81.5,106.8L81.6,106L82,104.8L82.5,101.8L83,98.8L83.5,95.8L83.6,95.2L84,94.2L84.5,92.8L85,91.5L85.2,91L85.5,91L86,90.9L86.5,90.8L87,90.8L87.5,90.7L88,91L88.5,91.2L89,91.5L89.5,91.7L90,92L90.5,92.2L91,90.7L91.5,89.1L91.8,88.2L92,87L92.5,84.1L93,81.2L93.5,80.7L94,80.3L94.5,79.8L95,79.8L95.5,79.8L96,79.8L96.5,79.8L97,79.8L97.5,80L98,80.2L98.5,80.5L99,80.7L99.3,80.8L99.5,80.2L100,78.7L100.5,77.2L101,73.5L101.3,71.2L101.5,69.4L102,65L102.2,63.2L102.5,62.3L103,60.8L103.5,60.4L104,60.4L104.5,60.4L105,60.4L105.5,60.4L106,60.4L106.5,60.4L107,60.4L107.5,60.4L108,60.4L108.5,60.4L109,60.4L109.5,60.4L110,60.4L110.5,60.4L111,60.4L111.5,60.4L112,60.4L112.5,60.4L113,60.4L113.5,60.4L114,60.4L114.5,60.7L115,60.8L115.5,60.9L116,60.9L116.5,61L117,61.1L117.5,61.2L118,61.3L118.5,61.4L119,61.5L119.5,61.7L120,61.9L120.5,62.1L121,62.3L121.5,62.5L122,62.7L122.5,63L123,63.2L123.5,63.6L124,64L124.5,64.4L125,64.8L125.5,65.2L126,65.6L126.5,66L127,66.5L127.5,67L128,67.4L128.5,67.9L129,68.4L129.5,68.9L130,69.3L130.5,69.8L131,70.3L131.5,70.8L132,71.2L132.5,71.7L133,72.2L133.5,72.6L134,73.1L134.5,73.6L135,74.1L135.3,74.4L135.5,74.5L136,74.9L136.5,75.4L137,75.8L137.5,76.2L138,76.7L138.5,77.1L139,77.5L139.5,77.9L140,78.4L140.5,78.8L141,79.2L141.5,79.7L142,80.1L142.5,80.5L143,80.9L143.5,81.4L144,81.8L144.1,81.9L144.5,82.2L145,82.7L145.5,83.1L146,83.5L146.5,83.9L147,84.4L147.5,84.8L148,85.2L148.5,85.7L149,86.1L149.5,86.5L150,87L150.5,87.4L151,87.9L151.5,88.3L152,88.7L152.5,89.2L153,89.6L153.5,90.1L154,90.5L154.5,91L155,91.4L155.5,91.8L156,92.3L156.5,92.7L157,93.2L157.5,93.6L158,94.1L158.5,94.5L159,94.9L159.5,95.4L160,95.8L160.5,96.3L161,96.7L161.5,97.1L162,97.6L162.5,98L163,98.5L163.5,98.9L164,99.4L164.5,99.8L165,100.3L165.5,100.7L166,101.1L166.5,101.6L167,102L167.5,102.5L168,102.9L168.5,103.4L169,103.8L169.5,104.2L170,104.7L170.5,105.1L171,105.6L171.5,106L172,106.5L172.5,106.9L173,107.4L173.5,107.8L174,108.3L174.5,108.7L174.7,108.9L175,109.1L175.5,109.6L176,110L176.5,110.4L177,110.9L177.5,111.3L178,111.7L178.5,112.2L179,112.6L179.5,113L180,113.5L180.5,113.9L181,114.3L181.5,114.8L182,115.2L182.5,115.6L183,116.1L183.5,116.5L184,116.9L184.5,117.4L185,117.8L185.5,118.3L186,118.7L186.5,119.1L187,119.6L187.5,120L188,120.5L188.5,120.9L189,121.4L189.5,121.8L190,122.3L190.5,122.7L191,123.2L191.5,123.7L192,124.1L192.5,124.6L193,125.1L193.5,125.6L194,126L194.5,126.5L195,127L195.5,127.5L196,127.9L196.5,128.4L197,128.9L197.5,129.4L198,129.9L198.5,130.4L199,130.9L199.5,131.3L200,131.8L200.5,132.3L201,132.8L201.5,133.2L202,133.7L202.5,134.2L203,134.7L203.5,135.2L204,135.6L204.5,136.1L205,136.6L205.5,137.1L206,137.6L206.5,138.1L207,138.6L207.5,139.1L208,139.6L208.5,140.1L209,140.7L209.5,141.2L210,141.7L210.5,142.2L211,142.8L211.5,143.3L212,143.8L212.5,144.4L213,144.9L213.5,145.5L214,146L214.5,146.6L215,147.1L215.5,147.7L216,148.3L216.5,148.8L217,149.4L217.5,150L218,150.6L218.5,151.2L219,151.7L219.5,152.3L220,152.9L220.5,153.5L221,154.1L221.5,154.7L222,155.3L222.5,155.9L223,156.6L223.5,157.2L224,157.8L224.5,158.4L225,159L225.5,159.6L226,160.3L226.5,160.9L227,161.5L227.5,162.2L228,162.8L228.5,163.4L229,164.1L229.5,164.7L230,165.3L230.5,166L231,166.6L231.5,167.3L232,167.9L232.5,168.6L233,169.2L233.5,169.9L234,170.5L234.5,171.2L235,171.8L235.5,172.5L236,173.2L236.5,173.8L237,174.5L237.5,175.1L238,175.8L238.5,176.5L239,177.1L239.5,177.8L240,178.4L240.5,179.1L241,179.8L241.5,180.4L242,181.1L242.5,181.8L243,182.4L243.5,183.1L244,183.8L244.5,184.4L245,185.1L245.5,185.8L246,186.5L246.5,187.1L247,187.8L247.5,188.5L248,189.1L248.5,189.8L249,190.5L249.5,191.2L250,191.8L250.5,192.5L251,193.2L251.5,193.8L252,194.5L252.5,195.2L253,195.9L253.5,196.5L254,197.2L254.5,197.9L255,198.6L255.5,199.2L256,199.9L256.5,200.6L257,201.3L257.5,201.9L258,202.6L258.5,203.3L259,204L259.5,204.7L260,205.3L260.5,206L261,206.7L261.5,207" stroke="#0080ff" stroke-width="2.6"/>
<path d="M71,207L71.5,204.8L72,202.6L72.5,200.4L72.6,200L73,194.7L73.5,188.2L74,181.6L74.5,175L75,168.8L75.5,162.5L76,156.2L76.5,150L77,145.6L77.5,141.2L78,136.8L78.5,132.4L79,128L79.5,123.8L80,119.5L80.5,115.3L81,111.1L81.5,106.8L81.6,106L82,104.8L82.5,101.8L83,98.8L83.5,95.8L83.6,95.2L84,94.2L84.5,92.8L85,91.5L85.2,91L85.5,91L86,90.9L86.5,90.8L87,90.8L87.5,90.7L88,91L88.5,91.2L89,91.5L89.5,91.7L90,92L90.5,92.2L91,90.7L91.5,89.1L91.8,88.2L92,87L92.5,84.1L93,81.2L93.5,80.7L94,80.3L94.5,79.8L95,79.8L95.5,79.8L96,79.8L96.5,79.8L97,79.8L97.5,80L98,80.2L98.5,80.5L99,80.7L99.3,80.8L99.5,80.2L100,78.7L100.5,77.2L101,73.5L101.3,71.2L101.5,69.4L102,65L102.2,63.2L102.5,62.3L103,60.8L103.5,59.7L104,59.7L104.5,59.7L105,59.7L105.5,59.7L106,59.7L106.5,59.7L107,59.7L107.5,59.7L108,59.7L108.5,59.7L109,59.7L109.5,59.7L110,59.7L110.5,59.7L111,59.7L111.5,59.7L112,59.7L112.5,59.7L113,59.7L113.5,59.7L114,59.7L114.5,60L115,60.1L115.5,60.2L116,60.2L116.5,60.3L117,60.4L117.5,60.5L118,60.6L118.5,60.6L119,60.7L119.5,60.9L120,61.1L120.5,61.3L121,61.5L121.5,61.8L122,62L122.5,62.2L123,62.4L123.5,62.8L124,63.2L124.5,63.6L125,64L125.5,64.4L126,64.8L126.5,65.2L127,65.7L127.5,66.1L128,66.6L128.5,67.1L129,67.5L129.5,68L130,68.5L130.5,69L131,69.4L131.5,69.9L132,70.4L132.5,70.8L133,71.3L133.5,71.8L134,72.2L134.5,72.7L135,73.2L135.3,73.5L135.5,73.6L136,74L136.5,74.5L137,74.9L137.5,75.3L138,75.7L138.5,76.2L139,76.6L139.5,77L140,77.4L140.5,77.9L141,78.3L141.5,78.7L142,79.1L142.5,79.6L143,80L143.5,80.4L144,80.8L144.1,80.9L144.5,81.2L145,81.7L145.5,82.1L146,82.5L146.5,83L147,83.4L147.5,83.8L148,84.3L148.5,84.7L149,85.1L149.5,85.6L150,86L150.5,86.4L151,86.9L151.5,87.3L152,87.8L152.5,88.2L153,88.6L153.5,89.1L154,89.5L154.5,90L155,90.4L155.5,90.9L156,91.3L156.5,91.7L157,92.2L157.5,92.6L158,93.1L158.5,93.5L159,94L159.5,94.4L160,94.8L160.5,95.3L161,95.7L161.5,96.2L162,96.6L162.5,97.1L163,97.5L163.5,97.9L164,98.4L164.5,98.8L165,99.3L165.5,99.7L166,100.2L166.5,100.6L167,101L167.5,101.5L168,101.9L168.5,102.4L169,102.8L169.5,103.3L170,103.7L170.5,104.1L171,104.6L171.5,105L172,105.5L172.5,105.9L173,106.4L173.5,106.8L174,107.3L174.5,107.7L174.7,107.9L175,108.1L175.5,108.6L176,109L176.5,109.4L177,109.9L177.5,110.3L178,110.7L178.5,111.1L179,111.6L179.5,112L180,112.4L180.5,112.9L181,113.3L181.5,113.7L182,114.2L182.5,114.6L183,115L183.5,115.5L184,115.9L184.5,116.3L185,116.8L185.5,117.2L186,117.6L186.5,118.1L187,118.5L187.5,119L188,119.4L188.5,119.8L189,120.3L189.5,120.7L190,121.2L190.5,121.6L191,122.1L191.5,122.5L192,123L192.5,123.5L193,123.9L193.5,124.4L194,124.9L194.5,125.3L195,125.8L195.5,126.3L196,126.7L196.5,127.2L197,127.7L197.5,128.2L198,128.6L198.5,129.1L199,129.6L199.5,130.1L200,130.5L200.5,131L201,131.4L201.5,131.9L202,132.3L202.5,132.8L203,133.2L203.5,133.7L204,134.2L204.5,134.6L205,135.1L205.5,135.6L206,136L206.5,136.5L207,137L207.5,137.5L208,137.9L208.5,138.4L209,138.9L209.5,139.4L210,139.9L210.5,140.4L211,140.9L211.5,141.4L212,141.9L212.5,142.4L213,142.9L213.5,143.4L214,143.9L214.5,144.4L215,145L215.5,145.5L216,146L216.5,146.6L217,147.1L217.5,147.6L218,148.2L218.5,148.7L219,149.3L219.5,149.8L220,150.4L220.5,150.9L221,151.5L221.5,152L222,152.6L222.5,153.2L223,153.8L223.5,154.3L224,154.9L224.5,155.5L225,156.1L225.5,156.7L226,157.2L226.5,157.8L227,158.4L227.5,159L228,159.6L228.5,160.2L229,160.8L229.5,161.4L230,162L230.5,162.6L231,163.2L231.5,163.9L232,164.5L232.5,165.1L233,165.7L233.5,166.3L234,167L234.5,167.6L235,168.2L235.5,168.8L236,169.5L236.5,170.1L237,170.7L237.5,171.4L238,172L238.5,172.6L239,173.3L239.5,173.9L240,174.5L240.5,175.2L241,175.8L241.5,176.5L242,177.1L242.5,177.7L243,178.4L243.5,179L244,179.7L244.5,180.3L245,181L245.5,181.6L246,182.3L246.5,182.9L247,183.6L247.5,184.2L248,184.9L248.5,185.5L249,186.2L249.5,186.8L250,187.5L250.5,188.1L251,188.8L251.5,189.4L252,190.1L252.5,190.7L253,191.4L253.5,192.1L254,192.7L254.5,193.4L255,194L255.5,194.7L256,195.3L256.5,196L257,196.6L257.5,197.3L258,198L258.5,198.6L259,199.3L259.5,199.9L260,200.6L260.5,201.3L261,201.9L261.5,202.6L262,203.2L262.5,203.9L263,204.6L263.5,205.2L264,205.9L264.5,206.5L265,207" stroke="#0080ff" stroke-width="2.6"/>
<path d="M71,207L71.5,204.8L72,202.6L72.5,200.4L72.6,200L73,194.7L73.5,188.2L74,181.6L74.5,175L75,168.8L75.5,162.5L76,156.2L76.5,150L77,145.6L77.5,141.2L78,136.8L78.5,132.4L79,128L79.5,123.8L80,119.5L80.5,115.3L81,111.1L81.5,106.8L81.6,106L82,104.8L82.5,101.8L83,98.8L83.5,95.8L83.6,95.2L84,94.2L84.5,92.8L85,91.5L85.2,91L85.5,91L86,90.9L86.5,90.8L87,90.8L87.5,90.7L88,91L88.5,91.2L89,91.5L89.5,91.7L90,92L90.5,92.2L91,90.7L91.5,89.1L91.8,88.2L92,87L92.5,84.1L93,81.2L93.5,80.7L94,80.3L94.5,79.8L95,79.8L95.5,79.8L96,79.8L96.5,79.8L97,79.8L97.5,80L98,80.2L98.5,80.5L99,80.7L99.3,80.8L99.5,80.2L100,78.7L100.5,77.2L101,73.5L101.3,71.2L101.5,69.4L102,65L102.2,63.2L102.5,62.3L103,60.8L103.5,59.2L104,59L104.5,59L105,59L105.5,59L106,59L106.5,59L107,59L107.5,59L108,59L108.5,59L109,59L109.5,59L110,59L110.5,59L111,59L111.5,59L112,59L112.5,59L113,59L113.5,59L114,59L114.5,59.3L115,59.4L115.5,59.4L116,59.5L116.5,59.6L117,59.7L117.5,59.7L118,59.8L118.5,59.9L119,60L119.5,60.2L120,60.4L120.5,60.6L121,60.8L121.5,61L122,61.2L122.5,61.4L123,61.6L123.5,62L124,62.4L124.5,62.8L125,63.2L125.5,63.6L126,64L126.5,64.4L127,64.9L127.5,65.3L128,65.8L128.5,66.2L129,66.7L129.5,67.2L130,67.6L130.5,68.1L131,68.6L131.5,69L132,69.5L132.5,70L133,70.4L133.5,70.9L134,71.4L134.5,71.8L135,72.3L135.3,72.6L135.5,72.7L136,73.1L136.5,73.6L137,74L137.5,74.4L138,74.8L138.5,75.2L139,75.7L139.5,76.1L140,76.5L140.5,76.9L141,77.3L141.5,77.7L142,78.2L142.5,78.6L143,79L143.5,79.4L144,79.8L144.1,79.9L144.5,80.3L145,80.7L145.5,81.1L146,81.6L146.5,82L147,82.4L147.5,82.9L148,83.3L148.5,83.7L149,84.2L149.5,84.6L150,85L150.5,85.5L151,85.9L151.5,86.3L152,86.8L152.5,87.2L153,87.7L153.5,88.1L154,88.6L154.5,89L155,89.4L155.5,89.9L156,90.3L156.5,90.8L157,91.2L157.5,91.6L158,92.1L158.5,92.5L159,93L159.5,93.4L160,93.9L160.5,94.3L161,94.7L161.5,95.2L162,95.6L162.5,96.1L163,96.5L163.5,97L164,97.4L164.5,97.8L165,98.3L165.5,98.7L166,99.2L166.5,99.6L167,100.1L167.5,100.5L168,100.9L168.5,101.4L169,101.8L169.5,102.3L170,102.7L170.5,103.2L171,103.6L171.5,104L172,104.5L172.5,104.9L173,105.4L173.5,105.8L174,106.3L174.5,106.7L174.7,106.9L175,107.1L175.5,107.6L176,108L176.5,108.4L177,108.9L177.5,109.3L178,109.7L178.5,110.1L179,110.6L179.5,111L180,111.4L180.5,111.9L181,112.3L181.5,112.7L182,113.2L182.5,113.6L183,114L183.5,114.5L184,114.9L184.5,115.3L185,115.8L185.5,116.2L186,116.6L186.5,117.1L187,117.5L187.5,117.9L188,118.4L188.5,118.8L189,119.2L189.5,119.7L190,120.1L190.5,120.6L191,121L191.5,121.5L192,121.9L192.5,122.4L193,122.8L193.5,123.3L194,123.8L194.5,124.2L195,124.7L195.5,125.1L196,125.6L196.5,126.1L197,126.5L197.5,127L198,127.5L198.5,127.9L199,128.4L199.5,128.9L200,129.3L200.5,129.8L201,130.2L201.5,130.6L202,131.1L202.5,131.5L203,132L203.5,132.4L204,132.9L204.5,133.3L205,133.8L205.5,134.2L206,134.7L206.5,135.1L207,135.6L207.5,136L208,136.5L208.5,137L209,137.4L209.5,137.9L210,138.3L210.5,138.8L211,139.3L211.5,139.8L212,140.2L212.5,140.7L213,141.2L213.5,141.7L214,142.2L214.5,142.7L215,143.1L215.5,143.6L216,144.1L216.5,144.6L217,145.1L217.5,145.6L218,146.2L218.5,146.7L219,147.2L219.5,147.7L220,148.2L220.5,148.7L221,149.3L221.5,149.8L222,150.3L222.5,150.8L223,151.4L223.5,151.9L224,152.5L224.5,153L225,153.5L225.5,154.1L226,154.6L226.5,155.2L227,155.7L227.5,156.3L228,156.9L228.5,157.4L229,158L229.5,158.6L230,159.1L230.5,159.7L231,160.3L231.5,160.8L232,161.4L232.5,162L233,162.6L233.5,163.2L234,163.8L234.5,164.4L235,165L235.5,165.5L236,166.1L236.5,166.7L237,167.3L237.5,167.9L238,168.6L238.5,169.2L239,169.8L239.5,170.4L240,171L240.5,171.6L241,172.2L241.5,172.8L242,173.4L242.5,174L243,174.7L243.5,175.3L244,175.9L244.5,176.5L245,177.1L245.5,177.8L246,178.4L246.5,179L247,179.6L247.5,180.3L248,180.9L248.5,181.5L249,182.2L249.5,182.8L250,183.4L250.5,184L251,184.7L251.5,185.3L252,185.9L252.5,186.6L253,187.2L253.5,187.8L254,188.5L254.5,189.1L255,189.7L255.5,190.4L256,191L256.5,191.7L257,192.3L257.5,192.9L258,193.6L258.5,194.2L259,194.8L259.5,195.5L260,196.1L260.5,196.8L261,197.4L261.5,198L262,198.7L262.5,199.3L263,200L263.5,200.6L264,201.3L264.5,201.9L265,202.5L265.5,203.2L266,203.8L266.5,204.5L267,205.1L267.5,205.8L268,206.4L268.5,207" stroke="#0080ff" stroke-width="2.6"/>
<path d="M71,207L71.5,204.8L72,202.6L72.5,200.4L72.6,200L73,194.7L73.5,188.2L74,181.6L74.5,175L75,168.8L75.5,162.5L76,156.2L76.5,150L77,145.6L77.5,141.2L78,136.8L78.5,132.4L79,128L79.5,123.8L80,119.5L80.5,115.3L81,111.1L81.5,106.8L81.6,106L82,104.8L82.5,101.8L83,98.8L83.5,95.8L83.6,95.2L84,94.2L84.5,92.8L85,91.5L85.2,91L85.5,91L86,90.9L86.5,90.8L87,90.8L87.5,90.7L88,91L88.5,91.2L89,91.5L89.5,91.7L90,92L90.5,92.2L91,90.7L91.5,89.1L91.8,88.2L92,87L92.5,84.1L93,81.2L93.5,80.7L94,80.3L94.5,79.8L95,79.8L95.5,79.8L96,79.8L96.5,79.8L97,79.8L97.5,80L98,80.2L98.5,80.5L99,80.7L99.3,80.8L99.5,80.2L100,78.7L100.5,77.2L101,73.5L101.3,71.2L101.5,69.4L102,65L102.2,63.2L102.5,62.3L103,60.8L103.5,59.2L104,58.3L104.5,58.3L105,58.3L105.5,58.3L106,58.3L106.5,58.3L107,58.3L107.5,58.3L108,58.3L108.5,58.3L109,58.3L109.5,58.3L110,58.3L110.5,58.3L111,58.3L111.5,58.3L112,58.3L112.5,58.3L113,58.3L113.5,58.3L114,58.3L114.5,58.6L115,58.7L115.5,58.7L116,58.8L116.5,58.9L117,58.9L117.5,59L118,59.1L118.5,59.2L119,59.2L119.5,59.4L120,59.6L120.5,59.8L121,60L121.5,60.2L122,60.4L122.5,60.6L123,60.8L123.5,61.2L124,61.6L124.5,62L125,62.4L125.5,62.8L126,63.2L126.5,63.6L127,64L127.5,64.5L128,65L128.5,65.4L129,65.9L129.5,66.3L130,66.8L130.5,67.3L131,67.7L131.5,68.2L132,68.6L132.5,69.1L133,69.6L133.5,70L134,70.5L134.5,70.9L135,71.4L135.3,71.7L135.5,71.8L136,72.2L136.5,72.7L137,73.1L137.5,73.5L138,73.9L138.5,74.3L139,74.7L139.5,75.1L140,75.6L140.5,76L141,76.4L141.5,76.8L142,77.2L142.5,77.6L143,78L143.5,78.5L144,78.9L144.1,78.9L144.5,79.3L145,79.7L145.5,80.1L146,80.6L146.5,81L147,81.4L147.5,81.9L148,82.3L148.5,82.7L149,83.2L149.5,83.6L150,84L150.5,84.5L151,84.9L151.5,85.4L152,85.8L152.5,86.3L153,86.7L153.5,87.1L154,87.6L154.5,88L155,88.5L155.5,88.9L156,89.3L156.5,89.8L157,90.2L157.5,90.7L158,91.1L158.5,91.6L159,92L159.5,92.4L160,92.9L160.5,93.3L161,93.8L161.5,94.2L162,94.6L162.5,95.1L163,95.5L163.5,96L164,96.4L164.5,96.9L165,97.3L165.5,97.7L166,98.2L166.5,98.6L167,99.1L167.5,99.5L168,100L168.5,100.4L169,100.8L169.5,101.3L170,101.7L170.5,102.2L171,102.6L171.5,103.1L172,103.5L172.5,103.9L173,104.4L173.5,104.8L174,105.3L174.5,105.7L174.7,105.9L175,106.2L175.5,106.6L176,107L176.5,107.4L177,107.9L177.5,108.3L178,108.7L178.5,109.2L179,109.6L179.5,110L180,110.4L180.5,110.9L181,111.3L181.5,111.7L182,112.2L182.5,112.6L183,113L183.5,113.4L184,113.9L184.5,114.3L185,114.7L185.5,115.2L186,115.6L186.5,116L187,116.5L187.5,116.9L188,117.3L188.5,117.8L189,118.2L189.5,118.6L190,119.1L190.5,119.5L191,120L191.5,120.4L192,120.9L192.5,121.3L193,121.8L193.5,122.3L194,122.7L194.5,123.2L195,123.6L195.5,124.1L196,124.5L196.5,125L197,125.5L197.5,125.9L198,126.4L198.5,126.8L199,127.3L199.5,127.8L200,128.2L200.5,128.6L201,129.1L201.5,129.5L202,129.9L202.5,130.4L203,130.8L203.5,131.2L204,131.7L204.5,132.1L205,132.5L205.5,133L206,133.4L206.5,133.9L207,134.3L207.5,134.8L208,135.2L208.5,135.6L209,136.1L209.5,136.5L210,137L210.5,137.4L211,137.9L211.5,138.4L212,138.8L212.5,139.3L213,139.7L213.5,140.2L214,140.7L214.5,141.1L215,141.6L215.5,142.1L216,142.5L216.5,143L217,143.5L217.5,144L218,144.4L218.5,144.9L219,145.4L219.5,145.9L220,146.4L220.5,146.9L221,147.4L221.5,147.9L222,148.4L222.5,148.9L223,149.4L223.5,149.9L224,150.4L224.5,150.9L225,151.4L225.5,151.9L226,152.4L226.5,152.9L227,153.5L227.5,154L228,154.5L228.5,155L229,155.6L229.5,156.1L230,156.6L230.5,157.2L231,157.7L231.5,158.3L232,158.8L232.5,159.3L233,159.9L233.5,160.4L234,161L234.5,161.6L235,162.1L235.5,162.7L236,163.2L236.5,163.8L237,164.4L237.5,164.9L238,165.5L238.5,166.1L239,166.7L239.5,167.2L240,167.8L240.5,168.4L241,169L241.5,169.6L242,170.1L242.5,170.7L243,171.3L243.5,171.9L244,172.5L244.5,173.1L245,173.7L245.5,174.3L246,174.9L246.5,175.5L247,176.1L247.5,176.7L248,177.3L248.5,177.9L249,178.5L249.5,179.1L250,179.7L250.5,180.3L251,180.9L251.5,181.5L252,182.1L252.5,182.7L253,183.3L253.5,183.9L254,184.5L254.5,185.1L255,185.8L255.5,186.4L256,187L256.5,187.6L257,188.2L257.5,188.8L258,189.4L258.5,190.1L259,190.7L259.5,191.3L260,191.9L260.5,192.5L261,193.2L261.5,193.8L262,194.4L262.5,195L263,195.7L263.5,196.3L264,196.9L264.5,197.5L265,198.2L265.5,198.8L266,199.4L266.5,200L267,200.7L267.5,201.3L268,201.9L268.5,202.5L269,203.2L269.5,203.8L270,204.4L270.5,205.1L271,205.7L271.5,206.3L272,206.9" stroke="#0080ff" stroke-width="2.6"/>
<path d="M71,207L71.5,204.8L72,202.6L72.5,200.4L72.6,200L73,194.7L73.5,188.2L74,181.6L74.5,175L75,168.8L75.5,162.5L76,156.2L76.5,150L77,145.6L77.5,141.2L78,136.8L78.5,132.4L79,128L79.5,123.8L80,119.5L80.5,115.3L81,111.1L81.5,106.8L81.6,106L82,104.8L82.5,101.8L83,98.8L83.5,95.8L83.6,95.2L84,94.2L84.5,92.8L85,91.5L85.2,91L85.5,91L86,90.9L86.5,90.8L87,90.8L87.5,90.7L88,91L88.5,91.2L89,91.5L89.5,91.7L90,92L90.5,92.2L91,90.7L91.5,89.1L91.8,88.2L92,87L92.5,84.1L93,81.2L93.5,80.7L94,80.3L94.5,79.8L95,79.8L95.5,79.8L96,79.8L96.5,79.8L97,79.8L97.5,80L98,80.2L98.5,80.5L99,80.7L99.3,80.8L99.5,80.2L100,78.7L100.5,77.2L101,73.5L101.3,71.2L101.5,69.4L102,65L102.2,63.2L102.5,62.3L103,60.8L103.5,59.2L104,57.7L104.5,57.7L105,57.7L105.5,57.7L106,57.7L106.5,57.7L107,57.7L107.5,57.7L108,57.7L108.5,57.7L109,57.7L109.5,57.7L110,57.7L110.5,57.7L111,57.7L111.5,57.7L112,57.7L112.5,57.7L113,57.7L113.5,57.7L114,57.7L114.5,57.9L115,58L115.5,58L116,58.1L116.5,58.2L117,58.2L117.5,58.3L118,58.4L118.5,58.4L119,58.5L119.5,58.7L120,58.9L120.5,59.1L121,59.3L121.5,59.5L122,59.7L122.5,59.9L123,60L123.5,60.4L124,60.8L124.5,61.2L125,61.6L125.5,62L126,62.4L126.5,62.8L127,63.2L127.5,63.7L128,64.1L128.5,64.6L129,65L129.5,65.5L130,65.9L130.5,66.4L131,66.9L131.5,67.3L132,67.8L132.5,68.2L133,68.7L133.5,69.1L134,69.6L134.5,70L135,70.5L135.3,70.8L135.5,70.9L136,71.3L136.5,71.7L137,72.2L137.5,72.6L138,73L138.5,73.4L139,73.8L139.5,74.2L140,74.6L140.5,75L141,75.4L141.5,75.8L142,76.3L142.5,76.7L143,77.1L143.5,77.5L144,77.9L144.1,78L144.5,78.3L145,78.7L145.5,79.2L146,79.6L146.5,80L147,80.5L147.5,80.9L148,81.3L148.5,81.8L149,82.2L149.5,82.6L150,83.1L150.5,83.5L151,83.9L151.5,84.4L152,84.8L152.5,85.3L153,85.7L153.5,86.2L154,86.6L154.5,87L155,87.5L155.5,87.9L156,88.4L156.5,88.8L157,89.3L157.5,89.7L158,90.1L158.5,90.6L159,91L159.5,91.5L160,91.9L160.5,92.3L161,92.8L161.5,93.2L162,93.7L162.5,94.1L163,94.6L163.5,95L164,95.4L164.5,95.9L165,96.3L165.5,96.8L166,97.2L166.5,97.7L167,98.1L167.5,98.5L168,99L168.5,99.4L169,99.9L169.5,100.3L170,100.8L170.5,101.2L171,101.6L171.5,102.1L172,102.5L172.5,103L173,103.4L173.5,103.9L174,104.3L174.5,104.7L174.7,104.9L175,105.2L175.5,105.6L176,106L176.5,106.5L177,106.9L177.5,107.3L178,107.7L178.5,108.2L179,108.6L179.5,109L180,109.5L180.5,109.9L181,110.3L181.5,110.7L182,111.2L182.5,111.6L183,112L183.5,112.5L184,112.9L184.5,113.3L185,113.7L185.5,114.2L186,114.6L186.5,115L187,115.5L187.5,115.9L188,116.3L188.5,116.8L189,117.2L189.5,117.6L190,118.1L190.5,118.5L191,119L191.5,119.4L192,119.9L192.5,120.3L193,120.8L193.5,121.2L194,121.7L194.5,122.1L195,122.6L195.5,123L196,123.5L196.5,123.9L197,124.4L197.5,124.9L198,125.3L198.5,125.8L199,126.2L199.5,126.7L200,127.1L200.5,127.6L201,128L201.5,128.4L202,128.8L202.5,129.3L203,129.7L203.5,130.1L204,130.6L204.5,131L205,131.4L205.5,131.8L206,132.3L206.5,132.7L207,133.1L207.5,133.6L208,134L208.5,134.4L209,134.9L209.5,135.3L210,135.8L210.5,136.2L211,136.6L211.5,137.1L212,137.5L212.5,138L213,138.4L213.5,138.9L214,139.3L214.5,139.8L215,140.2L215.5,140.7L216,141.1L216.5,141.6L217,142L217.5,142.5L218,143L218.5,143.4L219,143.9L219.5,144.3L220,144.8L220.5,145.3L221,145.8L221.5,146.2L222,146.7L222.5,147.2L223,147.7L223.5,148.1L224,148.6L224.5,149.1L225,149.6L225.5,150.1L226,150.6L226.5,151L227,151.5L227.5,152L228,152.5L228.5,153L229,153.5L229.5,154L230,154.5L230.5,155L231,155.5L231.5,156L232,156.6L232.5,157.1L233,157.6L233.5,158.1L234,158.6L234.5,159.1L235,159.7L235.5,160.2L236,160.7L236.5,161.3L237,161.8L237.5,162.3L238,162.9L238.5,163.4L239,164L239.5,164.5L240,165L240.5,165.6L241,166.1L241.5,166.7L242,167.2L242.5,167.8L243,168.3L243.5,168.9L244,169.5L244.5,170L245,170.6L245.5,171.1L246,171.7L246.5,172.3L247,172.8L247.5,173.4L248,174L248.5,174.6L249,175.1L249.5,175.7L250,176.3L250.5,176.9L251,177.4L251.5,178L252,178.6L252.5,179.2L253,179.7L253.5,180.3L254,180.9L254.5,181.5L255,182.1L255.5,182.7L256,183.3L256.5,183.9L257,184.4L257.5,185L258,185.6L258.5,186.2L259,186.8L259.5,187.4L260,188L260.5,188.6L261,189.2L261.5,189.8L262,190.4L262.5,191L263,191.6L263.5,192.2L264,192.8L264.5,193.5L265,194.1L265.5,194.7L266,195.3L266.5,195.9L267,196.5L267.5,197.1L268,197.7L268.5,198.3L269,198.9L269.5,199.5L270,200.1L270.5,200.8L271,201.4L271.5,202L272,202.6L272.5,203.2L273,203.8L273.5,204.4L274,205L274.5,205.7L275,206.3L275.5,206.9L276,207" stroke="#0080ff" stroke-width="2.6"/>
<path d="M71,207L71.5,204.8L72,202.6L72.5,200.4L72.6,200L73,194.7L73.5,188.2L74,181.6L74.5,175L75,168.8L75.5,162.5L76,156.2L76.5,150L77,145.6L77.5,141.2L78,136.8L78.5,132.4L79,128L79.5,123.8L80,119.5L80.5,115.3L81,111.1L81.5,106.8L81.6,106L82,104.8L82.5,101.8L83,98.8L83.5,95.8L83.6,95.2L84,94.2L84.5,92.8L85,91.5L85.2,91L85.5,91L86,90.9L86.5,90.8L87,90.8L87.5,90.7L88,91L88.5,91.2L89,91.5L89.5,91.7L90,92L90.5,92.2L91,90.7L91.5,89.1L91.8,88.2L92,87L92.5,84.1L93,81.2L93.5,80.7L94,80.3L94.5,79.8L95,79.8L95.5,79.8L96,79.8L96.5,79.8L97,79.8L97.5,80L98,80.2L98.5,80.5L99,80.7L99.3,80.8L99.5,80.2L100,78.7L100.5,77.2L101,73.5L101.3,71.2L101.5,69.4L102,65L102.2,63.2L102.5,62.3L103,60.8L103.5,59.2L104,57.7L104.5,57L105,57L105.5,57L106,57L106.5,57L107,57L107.5,57L108,57L108.5,57L109,57L109.5,57L110,57L110.5,57L111,57L111.5,57L112,57L112.5,57L113,57L113.5,57L114,57L114.5,57.2L115,57.3L115.5,57.3L116,57.4L116.5,57.4L117,57.5L117.5,57.6L118,57.6L118.5,57.7L119,57.7L119.5,57.9L120,58.1L120.5,58.3L121,58.5L121.5,58.7L122,58.9L122.5,59.1L123,59.3L123.5,59.7L124,60L124.5,60.4L125,60.8L125.5,61.2L126,61.6L126.5,62L127,62.4L127.5,62.9L128,63.3L128.5,63.8L129,64.2L129.5,64.7L130,65.1L130.5,65.6L131,66L131.5,66.5L132,66.9L132.5,67.4L133,67.8L133.5,68.3L134,68.7L134.5,69.2L135,69.6L135.3,69.9L135.5,70L136,70.4L136.5,70.8L137,71.2L137.5,71.7L138,72.1L138.5,72.5L139,72.9L139.5,73.3L140,73.7L140.5,74.1L141,74.5L141.5,74.9L142,75.3L142.5,75.7L143,76.1L143.5,76.5L144,76.9L144.1,77L144.5,77.3L145,77.8L145.5,78.2L146,78.6L146.5,79.1L147,79.5L147.5,79.9L148,80.4L148.5,80.8L149,81.2L149.5,81.7L150,82.1L150.5,82.5L151,83L151.5,83.4L152,83.9L152.5,84.3L153,84.7L153.5,85.2L154,85.6L154.5,86.1L155,86.5L155.5,86.9L156,87.4L156.5,87.8L157,88.3L157.5,88.7L158,89.2L158.5,89.6L159,90L159.5,90.5L160,90.9L160.5,91.4L161,91.8L161.5,92.3L162,92.7L162.5,93.1L163,93.6L163.5,94L164,94.5L164.5,94.9L165,95.3L165.5,95.8L166,96.2L166.5,96.7L167,97.1L167.5,97.6L168,98L168.5,98.4L169,98.9L169.5,99.3L170,99.8L170.5,100.2L171,100.7L171.5,101.1L172,101.5L172.5,102L173,102.4L173.5,102.9L174,103.3L174.5,103.8L174.7,103.9L175,104.2L175.5,104.6L176,105L176.5,105.5L177,105.9L177.5,106.3L178,106.8L178.5,107.2L179,107.6L179.5,108L180,108.5L180.5,108.9L181,109.3L181.5,109.8L182,110.2L182.5,110.6L183,111L183.5,111.5L184,111.9L184.5,112.3L185,112.8L185.5,113.2L186,113.6L186.5,114L187,114.5L187.5,114.9L188,115.3L188.5,115.8L189,116.2L189.5,116.6L190,117.1L190.5,117.5L191,118L191.5,118.4L192,118.9L192.5,119.3L193,119.8L193.5,120.2L194,120.7L194.5,121.1L195,121.6L195.5,122L196,122.5L196.5,122.9L197,123.4L197.5,123.8L198,124.3L198.5,124.7L199,125.2L199.5,125.6L200,126.1L200.5,126.5L201,126.9L201.5,127.4L202,127.8L202.5,128.2L203,128.6L203.5,129.1L204,129.5L204.5,129.9L205,130.3L205.5,130.8L206,131.2L206.5,131.6L207,132L207.5,132.5L208,132.9L208.5,133.3L209,133.7L209.5,134.2L210,134.6L210.5,135L211,135.5L211.5,135.9L212,136.3L212.5,136.8L213,137.2L213.5,137.7L214,138.1L214.5,138.5L215,139L215.5,139.4L216,139.9L216.5,140.3L217,140.7L217.5,141.2L218,141.6L218.5,142.1L219,142.5L219.5,143L220,143.4L220.5,143.9L221,144.3L221.5,144.8L222,145.3L222.5,145.7L223,146.2L223.5,146.6L224,147.1L224.5,147.6L225,148L225.5,148.5L226,148.9L226.5,149.4L227,149.9L227.5,150.3L228,150.8L228.5,151.3L229,151.8L229.5,152.2L230,152.7L230.5,153.2L231,153.7L231.5,154.2L232,154.6L232.5,155.1L233,155.6L233.5,156.1L234,156.6L234.5,157.1L235,157.6L235.5,158.1L236,158.6L236.5,159.1L237,159.6L237.5,160.1L238,160.6L238.5,161.1L239,161.6L239.5,162.1L240,162.7L240.5,163.2L241,163.7L241.5,164.2L242,164.7L242.5,165.2L243,165.8L243.5,166.3L244,166.8L244.5,167.3L245,167.9L245.5,168.4L246,168.9L246.5,169.5L247,170L247.5,170.5L248,171.1L248.5,171.6L249,172.2L249.5,172.7L250,173.3L250.5,173.8L251,174.3L251.5,174.9L252,175.4L252.5,176L253,176.5L253.5,177.1L254,177.6L254.5,178.2L255,178.8L255.5,179.3L256,179.9L256.5,180.4L257,181L257.5,181.6L258,182.2L258.5,182.7L259,183.3L259.5,183.9L260,184.4L260.5,185L261,185.6L261.5,186.2L262,186.8L262.5,187.3L263,187.9L263.5,188.5L264,189.1L264.5,189.7L265,190.3L265.5,190.8L266,191.4L266.5,192L267,192.6L267.5,193.2L268,193.8L268.5,194.4L269,195L269.5,195.6L270,196.2L270.5,196.8L271,197.4L271.5,197.9L272,198.5L272.5,199.1L273,199.7L273.5,200.3L274,200.9L274.5,201.5L275,202.1L275.5,202.7L276,203.3L276.5,203.9L277,204.5L277.5,205.1L278,205.7L278.5,206.4L279,207L279.5,207" stroke="#0080ff" stroke-width="2.6"/>
<path d="M71,207L71.5,204.8L72,202.6L72.5,200.4L72.6,200L73,194.7L73.5,188.2L74,181.6L74.5,175L75,168.8L75.5,162.5L76,156.2L76.5,150L77,145.6L77.5,141.2L78,136.8L78.5,132.4L79,128L79.5,123.8L80,119.5L80.5,115.3L81,111.1L81.5,106.8L81.6,106L82,104.8L82.5,101.8L83,98.8L83.5,95.8L83.6,95.2L84,94.2L84.5,92.8L85,91.5L85.2,91L85.5,91L86,90.9L86.5,90.8L87,90.8L87.5,90.7L88,91L88.5,91.2L89,91.5L89.5,91.7L90,92L90.5,92.2L91,90.7L91.5,89.1L91.8,88.2L92,87L92.5,84.1L93,81.2L93.5,80.7L94,80.3L94.5,79.8L95,79.8L95.5,79.8L96,79.8L96.5,79.8L97,79.8L97.5,80L98,80.2L98.5,80.5L99,80.7L99.3,80.8L99.5,80.2L100,78.7L100.5,77.2L101,73.5L101.3,71.2L101.5,69.4L102,65L102.2,63.2L102.5,62.3L103,60.8L103.5,59.2L104,57.7L104.5,57L105,56.3L105.5,56.3L106,56.3L106.5,56.3L107,56.3L107.5,56.3L108,56.3L108.5,56.3L109,56.3L109.5,56.3L110,56.3L110.5,56.3L111,56.3L111.5,56.3L112,56.3L112.5,56.3L113,56.3L113.5,56.3L114,56.3L114.5,56.5L115,56.6L115.5,56.6L116,56.7L116.5,56.7L117,56.8L117.5,56.8L118,56.9L118.5,56.9L119,57L119.5,57.2L120,57.4L120.5,57.6L121,57.7L121.5,57.9L122,58.1L122.5,58.3L123,58.5L123.5,58.9L124,59.2L124.5,59.6L125,60L125.5,60.4L126,60.8L126.5,61.1L127,61.6L127.5,62L128,62.5L128.5,62.9L129,63.4L129.5,63.8L130,64.3L130.5,64.7L131,65.1L131.5,65.6L132,66L132.5,66.5L133,66.9L133.5,67.4L134,67.8L134.5,68.3L135,68.7L135.3,69L135.5,69.1L136,69.5L136.5,69.9L137,70.3L137.5,70.7L138,71.1L138.5,71.5L139,71.9L139.5,72.3L140,72.7L140.5,73.1L141,73.5L141.5,73.9L142,74.3L142.5,74.7L143,75.1L143.5,75.5L144,75.9L144.1,76L144.5,76.4L145,76.8L145.5,77.2L146,77.7L146.5,78.1L147,78.5L147.5,78.9L148,79.4L148.5,79.8L149,80.2L149.5,80.7L150,81.1L150.5,81.6L151,82L151.5,82.4L152,82.9L152.5,83.3L153,83.8L153.5,84.2L154,84.6L154.5,85.1L155,85.5L155.5,86L156,86.4L156.5,86.9L157,87.3L157.5,87.7L158,88.2L158.5,88.6L159,89.1L159.5,89.5L160,90L160.5,90.4L161,90.8L161.5,91.3L162,91.7L162.5,92.2L163,92.6L163.5,93L164,93.5L164.5,93.9L165,94.4L165.5,94.8L166,95.3L166.5,95.7L167,96.1L167.5,96.6L168,97L168.5,97.5L169,97.9L169.5,98.4L170,98.8L170.5,99.2L171,99.7L171.5,100.1L172,100.6L172.5,101L173,101.5L173.5,101.9L174,102.3L174.5,102.8L174.7,103L175,103.2L175.5,103.6L176,104.1L176.5,104.5L177,104.9L177.5,105.4L178,105.8L178.5,106.2L179,106.6L179.5,107.1L180,107.5L180.5,107.9L181,108.3L181.5,108.8L182,109.2L182.5,109.6L183,110.1L183.5,110.5L184,110.9L184.5,111.3L185,111.8L185.5,112.2L186,112.6L186.5,113.1L187,113.5L187.5,113.9L188,114.3L188.5,114.8L189,115.2L189.5,115.6L190,116.1L190.5,116.5L191,117L191.5,117.4L192,117.9L192.5,118.3L193,118.8L193.5,119.2L194,119.7L194.5,120.1L195,120.6L195.5,121L196,121.5L196.5,121.9L197,122.4L197.5,122.8L198,123.3L198.5,123.7L199,124.2L199.5,124.6L200,125.1L200.5,125.5L201,125.9L201.5,126.3L202,126.8L202.5,127.2L203,127.6L203.5,128L204,128.4L204.5,128.9L205,129.3L205.5,129.7L206,130.1L206.5,130.5L207,131L207.5,131.4L208,131.8L208.5,132.2L209,132.7L209.5,133.1L210,133.5L210.5,133.9L211,134.4L211.5,134.8L212,135.2L212.5,135.7L213,136.1L213.5,136.5L214,136.9L214.5,137.4L215,137.8L215.5,138.2L216,138.7L216.5,139.1L217,139.5L217.5,140L218,140.4L218.5,140.9L219,141.3L219.5,141.7L220,142.2L220.5,142.6L221,143.1L221.5,143.5L222,144L222.5,144.4L223,144.8L223.5,145.3L224,145.7L224.5,146.2L225,146.6L225.5,147.1L226,147.5L226.5,148L227,148.4L227.5,148.9L228,149.3L228.5,149.8L229,150.2L229.5,150.7L230,151.2L230.5,151.6L231,152.1L231.5,152.5L232,153L232.5,153.5L233,153.9L233.5,154.4L234,154.9L234.5,155.3L235,155.8L235.5,156.3L236,156.8L236.5,157.2L237,157.7L237.5,158.2L238,158.7L238.5,159.2L239,159.6L239.5,160.1L240,160.6L240.5,161.1L241,161.6L241.5,162.1L242,162.6L242.5,163.1L243,163.5L243.5,164L244,164.5L244.5,165L245,165.5L245.5,166L246,166.5L246.5,167L247,167.6L247.5,168.1L248,168.6L248.5,169.1L249,169.6L249.5,170.1L250,170.6L250.5,171.1L251,171.6L251.5,172.2L252,172.7L252.5,173.2L253,173.7L253.5,174.2L254,174.7L254.5,175.3L255,175.8L255.5,176.3L256,176.9L256.5,177.4L257,177.9L257.5,178.5L258,179L258.5,179.6L259,180.1L259.5,180.7L260,181.2L260.5,181.8L261,182.3L261.5,182.9L262,183.4L262.5,184L263,184.6L263.5,185.1L264,185.7L264.5,186.2L265,186.8L265.5,187.4L266,187.9L266.5,188.5L267,189.1L267.5,189.6L268,190.2L268.5,190.8L269,191.4L269.5,191.9L270,192.5L270.5,193.1L271,193.7L271.5,194.2L272,194.8L272.5,195.4L273,196L273.5,196.6L274,197.2L274.5,197.8L275,198.4L275.5,198.9L276,199.5L276.5,200.1L277,200.7L277.5,201.3L278,201.9L278.5,202.5L279,203.1L279.5,203.7L280,204.3L280.5,204.9L281,205.5L281.5,206.1L282,206.7L282.5,207L283,207" stroke="#0080ff" stroke-width="2.6"/>
<path d="M71,207L71.5,204.8L72,202.6L72.5,200.4L72.6,200L73,194.7L73.5,188.2L74,181.6L74.5,175L75,168.8L75.5,162.5L76,156.2L76.5,150L77,145.6L77.5,141.2L78,136.8L78.5,132.4L79,128L79.5,123.8L80,119.5L80.5,115.3L81,111.1L81.5,106.8L81.6,106L82,104.8L82.5,101.8L83,98.8L83.5,95.8L83.6,95.2L84,94.2L84.5,92.8L85,91.5L85.2,91L85.5,91L86,90.9L86.5,90.8L87,90.8L87.5,90.7L88,91L88.5,91.2L89,91.5L89.5,91.7L90,92L90.5,92.2L91,90.7L91.5,89.1L91.8,88.2L92,87L92.5,84.1L93,81.2L93.5,80.7L94,80.3L94.5,79.8L95,79.8L95.5,79.8L96,79.8L96.5,79.8L97,79.8L97.5,80L98,80.2L98.5,80.5L99,80.7L99.3,80.8L99.5,80.2L100,78.7L100.5,77.2L101,73.5L101.3,71.2L101.5,69.4L102,65L102.2,63.2L102.5,62.3L103,60.8L103.5,59.2L104,57.7L104.5,57L105,56.3L105.5,55.6L106,55.5L106.5,55.5L107,55.5L107.5,55.5L108,55.5L108.5,55.5L109,55.5L109.5,55.5L110,55.5L110.5,55.5L111,55.5L111.5,55.5L112,55.5L112.5,55.5L113,55.5L113.5,55.5L114,55.5L114.5,55.7L115,55.7L115.5,55.8L116,55.8L116.5,55.9L117,55.9L117.5,56L118,56L118.5,56.1L119,56.1L119.5,56.3L120,56.5L120.5,56.7L121,56.8L121.5,57L122,57.2L122.5,57.4L123,57.6L123.5,57.9L124,58.3L124.5,58.7L125,59.1L125.5,59.4L126,59.8L126.5,60.2L127,60.6L127.5,61.1L128,61.5L128.5,61.9L129,62.4L129.5,62.8L130,63.3L130.5,63.7L131,64.1L131.5,64.6L132,65L132.5,65.4L133,65.9L133.5,66.3L134,66.8L134.5,67.2L135,67.6L135.3,67.9L135.5,68.1L136,68.5L136.5,68.9L137,69.2L137.5,69.6L138,70L138.5,70.4L139,70.8L139.5,71.2L140,71.6L140.5,72L141,72.4L141.5,72.8L142,73.2L142.5,73.6L143,74L143.5,74.4L144,74.8L144.1,74.8L144.5,75.2L145,75.6L145.5,76L146,76.5L146.5,76.9L147,77.3L147.5,77.8L148,78.2L148.5,78.6L149,79.1L149.5,79.5L150,79.9L150.5,80.4L151,80.8L151.5,81.3L152,81.7L152.5,82.1L153,82.6L153.5,83L154,83.5L154.5,83.9L155,84.4L155.5,84.8L156,85.2L156.5,85.7L157,86.1L157.5,86.6L158,87L158.5,87.4L159,87.9L159.5,88.3L160,88.8L160.5,89.2L161,89.7L161.5,90.1L162,90.5L162.5,91L163,91.4L163.5,91.9L164,92.3L164.5,92.7L165,93.2L165.5,93.6L166,94.1L166.5,94.5L167,95L167.5,95.4L168,95.8L168.5,96.3L169,96.7L169.5,97.2L170,97.6L170.5,98L171,98.5L171.5,98.9L172,99.4L172.5,99.8L173,100.3L173.5,100.7L174,101.1L174.5,101.6L174.7,101.8L175,102L175.5,102.4L176,102.9L176.5,103.3L177,103.7L177.5,104.1L178,104.6L178.5,105L179,105.4L179.5,105.8L180,106.3L180.5,106.7L181,107.1L181.5,107.5L182,108L182.5,108.4L183,108.8L183.5,109.2L184,109.7L184.5,110.1L185,110.5L185.5,111L186,111.4L186.5,111.8L187,112.2L187.5,112.7L188,113.1L188.5,113.5L189,113.9L189.5,114.4L190,114.8L190.5,115.2L191,115.7L191.5,116.1L192,116.6L192.5,117L193,117.5L193.5,117.9L194,118.4L194.5,118.8L195,119.3L195.5,119.7L196,120.2L196.5,120.6L197,121L197.5,121.5L198,121.9L198.5,122.4L199,122.8L199.5,123.3L200,123.7L200.5,124.1L201,124.6L201.5,125L202,125.4L202.5,125.8L203,126.2L203.5,126.6L204,127L204.5,127.4L205,127.9L205.5,128.3L206,128.7L206.5,129.1L207,129.5L207.5,129.9L208,130.3L208.5,130.8L209,131.2L209.5,131.6L210,132L210.5,132.4L211,132.8L211.5,133.3L212,133.7L212.5,134.1L213,134.5L213.5,134.9L214,135.3L214.5,135.8L215,136.2L215.5,136.6L216,137L216.5,137.4L217,137.9L217.5,138.3L218,138.7L218.5,139.1L219,139.5L219.5,140L220,140.4L220.5,140.8L221,141.2L221.5,141.7L222,142.1L222.5,142.5L223,143L223.5,143.4L224,143.8L224.5,144.2L225,144.7L225.5,145.1L226,145.5L226.5,145.9L227,146.4L227.5,146.8L228,147.2L228.5,147.7L229,148.1L229.5,148.5L230,149L230.5,149.4L231,149.8L231.5,150.3L232,150.7L232.5,151.1L233,151.6L233.5,152L234,152.5L234.5,152.9L235,153.4L235.5,153.8L236,154.2L236.5,154.7L237,155.1L237.5,155.6L238,156.1L238.5,156.5L239,157L239.5,157.4L240,157.9L240.5,158.3L241,158.8L241.5,159.3L242,159.7L242.5,160.2L243,160.6L243.5,161.1L244,161.6L244.5,162L245,162.5L245.5,163L246,163.5L246.5,163.9L247,164.4L247.5,164.9L248,165.4L248.5,165.9L249,166.4L249.5,166.9L250,167.4L250.5,167.8L251,168.3L251.5,168.8L252,169.3L252.5,169.8L253,170.3L253.5,170.8L254,171.3L254.5,171.8L255,172.3L255.5,172.8L256,173.3L256.5,173.8L257,174.4L257.5,174.9L258,175.4L258.5,176L259,176.5L259.5,177L260,177.6L260.5,178.1L261,178.7L261.5,179.2L262,179.8L262.5,180.4L263,180.9L263.5,181.5L264,182.1L264.5,182.6L265,183.2L265.5,183.8L266,184.4L266.5,184.9L267,185.5L267.5,186.1L268,186.7L268.5,187.3L269,187.9L269.5,188.4L270,189L270.5,189.6L271,190.2L271.5,190.8L272,191.4L272.5,192L273,192.6L273.5,193.2L274,193.8L274.5,194.4L275,195.1L275.5,195.7L276,196.3L276.5,196.9L277,197.5L277.5,198.1L278,198.7L278.5,199.4L279,200L279.5,200.6L280,201.2L280.5,201.9L281,202.5L281.5,203.1L282,203.8L282.5,204.4L283,205.1L283.5,205.7L284,206.3L284.5,207L285,207L285.5,207L286,207" stroke="#4000ff" stroke-width="3.3"/>
<path d="M71,207L71.5,204.8L72,202.6L72.5,200.4L72.6,200L73,194.7L73.5,188.2L74,181.6L74.5,175L75,168.8L75.5,162.5L76,156.2L76.5,150L77,145.6L77.5,141.2L78,136.8L78.5,132.4L79,128L79.5,123.8L80,119.5L80.5,115.3L81,111.1L81.5,106.8L81.6,106L82,104.8L82.5,101.8L83,98.8L83.5,95.8L83.6,95.2L84,94.2L84.5,92.8L85,91.5L85.2,91L85.5,91L86,90.9L86.5,90.8L87,90.8L87.5,90.7L88,91L88.5,91.2L89,91.5L89.5,91.7L90,92L90.5,92.2L91,90.7L91.5,89.1L91.8,88.2L92,87L92.5,84.1L93,81.2L93.5,80.7L94,80.3L94.5,79.8L95,79.8L95.5,79.8L96,79.8L96.5,79.8L97,79.8L97.5,80L98,80.2L98.5,80.5L99,80.7L99.3,80.8L99.5,80.2L100,78.7L100.5,77.2L101,73.5L101.3,71.2L101.5,69.4L102,65L102.2,63.2L102.5,62.3L103,60.8L103.5,59.2L104,57.7L104.5,57L105,56.3L105.5,55.6L106,54.9L106.5,54.8L107,54.8L107.5,54.8L108,54.8L108.5,54.8L109,54.8L109.5,54.8L110,54.8L110.5,54.8L111,54.8L111.5,54.8L112,54.8L112.5,54.8L113,54.8L113.5,54.8L114,54.8L114.5,54.9L115,55L115.5,55L116,55.1L116.5,55.1L117,55.2L117.5,55.2L118,55.3L118.5,55.3L119,55.4L119.5,55.5L120,55.7L120.5,55.9L121,56.1L121.5,56.2L122,56.4L122.5,56.6L123,56.8L123.5,57.1L124,57.5L124.5,57.9L125,58.2L125.5,58.6L126,59L126.5,59.3L127,59.8L127.5,60.2L128,60.6L128.5,61.1L129,61.5L129.5,61.9L130,62.4L130.5,62.8L131,63.2L131.5,63.7L132,64.1L132.5,64.5L133,65L133.5,65.4L134,65.9L134.5,66.3L135,66.7L135.3,67L135.5,67.1L136,67.5L136.5,67.9L137,68.3L137.5,68.7L138,69.1L138.5,69.5L139,69.9L139.5,70.2L140,70.6L140.5,71L141,71.4L141.5,71.8L142,72.2L142.5,72.6L143,73L143.5,73.4L144,73.7L144.1,73.8L144.5,74.2L145,74.6L145.5,75L146,75.5L146.5,75.9L147,76.3L147.5,76.8L148,77.2L148.5,77.6L149,78.1L149.5,78.5L150,78.9L150.5,79.4L151,79.8L151.5,80.2L152,80.7L152.5,81.1L153,81.6L153.5,82L154,82.5L154.5,82.9L155,83.3L155.5,83.8L156,84.2L156.5,84.7L157,85.1L157.5,85.5L158,86L158.5,86.4L159,86.9L159.5,87.3L160,87.7L160.5,88.2L161,88.6L161.5,89.1L162,89.5L162.5,90L163,90.4L163.5,90.8L164,91.3L164.5,91.7L165,92.2L165.5,92.6L166,93L166.5,93.5L167,93.9L167.5,94.4L168,94.8L168.5,95.2L169,95.7L169.5,96.1L170,96.6L170.5,97L171,97.5L171.5,97.9L172,98.3L172.5,98.8L173,99.2L173.5,99.7L174,100.1L174.5,100.5L174.7,100.7L175,101L175.5,101.4L176,101.8L176.5,102.3L177,102.7L177.5,103.1L178,103.5L178.5,104L179,104.4L179.5,104.8L180,105.2L180.5,105.7L181,106.1L181.5,106.5L182,106.9L182.5,107.4L183,107.8L183.5,108.2L184,108.6L184.5,109.1L185,109.5L185.5,109.9L186,110.3L186.5,110.8L187,111.2L187.5,111.6L188,112L188.5,112.5L189,112.9L189.5,113.3L190,113.7L190.5,114.2L191,114.6L191.5,115.1L192,115.5L192.5,116L193,116.4L193.5,116.8L194,117.3L194.5,117.7L195,118.2L195.5,118.6L196,119.1L196.5,119.5L197,120L197.5,120.4L198,120.9L198.5,121.3L199,121.7L199.5,122.2L200,122.6L200.5,123L201,123.5L201.5,123.9L202,124.3L202.5,124.7L203,125.1L203.5,125.5L204,125.9L204.5,126.3L205,126.7L205.5,127.1L206,127.5L206.5,128L207,128.4L207.5,128.8L208,129.2L208.5,129.6L209,130L209.5,130.4L210,130.8L210.5,131.2L211,131.6L211.5,132L212,132.5L212.5,132.9L213,133.3L213.5,133.7L214,134.1L214.5,134.5L215,134.9L215.5,135.3L216,135.7L216.5,136.2L217,136.6L217.5,137L218,137.4L218.5,137.8L219,138.2L219.5,138.6L220,139L220.5,139.5L221,139.9L221.5,140.3L222,140.7L222.5,141.1L223,141.5L223.5,141.9L224,142.3L224.5,142.8L225,143.2L225.5,143.6L226,144L226.5,144.4L227,144.8L227.5,145.2L228,145.6L228.5,146L229,146.5L229.5,146.9L230,147.3L230.5,147.7L231,148.1L231.5,148.5L232,148.9L232.5,149.3L233,149.8L233.5,150.2L234,150.6L234.5,151L235,151.4L235.5,151.8L236,152.3L236.5,152.7L237,153.1L237.5,153.5L238,154L238.5,154.4L239,154.8L239.5,155.2L240,155.7L240.5,156.1L241,156.5L241.5,156.9L242,157.3L242.5,157.8L243,158.2L243.5,158.6L244,159L244.5,159.5L245,159.9L245.5,160.3L246,160.8L246.5,161.2L247,161.6L247.5,162.1L248,162.5L248.5,163L249,163.4L249.5,163.9L250,164.3L250.5,164.7L251,165.2L251.5,165.6L252,166.1L252.5,166.5L253,166.9L253.5,167.4L254,167.8L254.5,168.3L255,168.8L255.5,169.2L256,169.7L256.5,170.2L257,170.7L257.5,171.2L258,171.7L258.5,172.2L259,172.7L259.5,173.3L260,173.8L260.5,174.3L261,174.8L261.5,175.4L262,175.9L262.5,176.5L263,177.1L263.5,177.6L264,178.2L264.5,178.8L265,179.3L265.5,179.9L266,180.5L266.5,181.1L267,181.7L267.5,182.3L268,182.9L268.5,183.5L269,184.1L269.5,184.7L270,185.3L270.5,185.9L271,186.5L271.5,187.1L272,187.7L272.5,188.4L273,189L273.5,189.7L274,190.3L274.5,191L275,191.6L275.5,192.3L276,192.9L276.5,193.5L277,194.2L277.5,194.8L278,195.5L278.5,196.2L279,196.9L279.5,197.5L280,198.2L280.5,198.9L281,199.5L281.5,200.2L282,200.9L282.5,201.6L283,202.3L283.5,202.9L284,203.6L284.5,204.3L285,205L285.5,205.6L286,206.3L286.5,207L287,207L287.5,207L288,207L288.5,207" stroke="#4000ff" stroke-width="3.3"/>
<path d="M71,207L71.5,204.8L72,202.6L72.5,200.4L72.6,200L73,194.7L73.5,188.2L74,181.6L74.5,175L75,168.8L75.5,162.5L76,156.2L76.5,150L77,145.6L77.5,141.2L78,136.8L78.5,132.4L79,128L79.5,123.8L80,119.5L80.5,115.3L81,111.1L81.5,106.8L81.6,106L82,104.8L82.5,101.8L83,98.8L83.5,95.8L83.6,95.2L84,94.1L84.5,92.8L85,91.5L85.2,91L85.5,91L86,90.9L86.5,90.8L87,90.8L87.5,90.7L88,91L88.5,91.2L89,91.5L89.5,91.7L90,92L90.5,92.2L91,90.7L91.5,89.1L91.8,88.2L92,87L92.5,84.1L93,81.2L93.5,80.7L94,80.3L94.5,79.8L95,79.8L95.5,79.8L96,79.8L96.5,79.8L97,79.8L97.5,80L98,80.2L98.5,80.5L99,80.7L99.3,80.8L99.5,80.2L100,78.7L100.5,77.2L101,73.5L101.3,71.2L101.5,69.4L102,65L102.2,63.2L102.5,62.3L103,60.8L103.5,59.2L104,57.7L104.5,57L105,56.3L105.5,55.6L106,54.9L106.5,54.2L107,54.1L107.5,54.1L108,54.1L108.5,54.1L109,54.1L109.5,54.1L110,54.1L110.5,54.1L111,54.1L111.5,54.1L112,54.1L112.5,54.1L113,54.1L113.5,54.1L114,54.1L114.5,54.2L115,54.3L115.5,54.3L116,54.3L116.5,54.4L117,54.4L117.5,54.5L118,54.5L118.5,54.5L119,54.6L119.5,54.8L120,54.9L120.5,55.1L121,55.3L121.5,55.4L122,55.6L122.5,55.8L123,55.9L123.5,56.3L124,56.7L124.5,57L125,57.4L125.5,57.8L126,58.1L126.5,58.5L127,58.9L127.5,59.4L128,59.8L128.5,60.2L129,60.6L129.5,61.1L130,61.5L130.5,61.9L131,62.4L131.5,62.8L132,63.2L132.5,63.6L133,64.1L133.5,64.5L134,64.9L134.5,65.4L135,65.8L135.3,66.1L135.5,66.2L136,66.6L136.5,67L137,67.4L137.5,67.7L138,68.1L138.5,68.5L139,68.9L139.5,69.3L140,69.7L140.5,70L141,70.4L141.5,70.8L142,71.2L142.5,71.6L143,72L143.5,72.3L144,72.7L144.1,72.8L144.5,73.2L145,73.6L145.5,74L146,74.4L146.5,74.9L147,75.3L147.5,75.7L148,76.2L148.5,76.6L149,77L149.5,77.5L150,77.9L150.5,78.3L151,78.8L151.5,79.2L152,79.7L152.5,80.1L153,80.6L153.5,81L154,81.4L154.5,81.9L155,82.3L155.5,82.8L156,83.2L156.5,83.6L157,84.1L157.5,84.5L158,85L158.5,85.4L159,85.8L159.5,86.3L160,86.7L160.5,87.2L161,87.6L161.5,88.1L162,88.5L162.5,88.9L163,89.4L163.5,89.8L164,90.3L164.5,90.7L165,91.1L165.5,91.6L166,92L166.5,92.5L167,92.9L167.5,93.4L168,93.8L168.5,94.2L169,94.7L169.5,95.1L170,95.6L170.5,96L171,96.4L171.5,96.9L172,97.3L172.5,97.8L173,98.2L173.5,98.6L174,99.1L174.5,99.5L174.7,99.7L175,100L175.5,100.4L176,100.8L176.5,101.2L177,101.7L177.5,102.1L178,102.5L178.5,102.9L179,103.4L179.5,103.8L180,104.2L180.5,104.6L181,105.1L181.5,105.5L182,105.9L182.5,106.3L183,106.8L183.5,107.2L184,107.6L184.5,108L185,108.5L185.5,108.9L186,109.3L186.5,109.7L187,110.2L187.5,110.6L188,111L188.5,111.4L189,111.9L189.5,112.3L190,112.7L190.5,113.2L191,113.6L191.5,114L192,114.5L192.5,114.9L193,115.4L193.5,115.8L194,116.3L194.5,116.7L195,117.2L195.5,117.6L196,118L196.5,118.5L197,118.9L197.5,119.4L198,119.8L198.5,120.3L199,120.7L199.5,121.2L200,121.6L200.5,122L201,122.4L201.5,122.8L202,123.2L202.5,123.6L203,124.1L203.5,124.5L204,124.9L204.5,125.3L205,125.7L205.5,126.1L206,126.5L206.5,126.9L207,127.3L207.5,127.7L208,128.1L208.5,128.5L209,129L209.5,129.4L210,129.8L210.5,130.2L211,130.6L211.5,131L212,131.4L212.5,131.8L213,132.2L213.5,132.6L214,133L214.5,133.4L215,133.9L215.5,134.3L216,134.7L216.5,135.1L217,135.5L217.5,135.9L218,136.3L218.5,136.7L219,137.1L219.5,137.5L220,137.9L220.5,138.3L221,138.8L221.5,139.2L222,139.6L222.5,140L223,140.4L223.5,140.8L224,141.2L224.5,141.6L225,142L225.5,142.4L226,142.8L226.5,143.2L227,143.6L227.5,144L228,144.4L228.5,144.8L229,145.2L229.5,145.7L230,146.1L230.5,146.5L231,146.9L231.5,147.3L232,147.7L232.5,148.1L233,148.5L233.5,148.9L234,149.3L234.5,149.7L235,150.1L235.5,150.5L236,150.9L236.5,151.3L237,151.7L237.5,152.1L238,152.5L238.5,152.9L239,153.3L239.5,153.7L240,154.2L240.5,154.6L241,154.9L241.5,155.3L242,155.7L242.5,156.1L243,156.5L243.5,156.9L244,157.3L244.5,157.7L245,158.1L245.5,158.5L246,158.9L246.5,159.3L247,159.7L247.5,160.2L248,160.6L248.5,161L249,161.4L249.5,161.8L250,162.2L250.5,162.6L251,163L251.5,163.3L252,163.7L252.5,164.1L253,164.5L253.5,164.9L254,165.3L254.5,165.7L255,166.1L255.5,166.5L256,167L256.5,167.4L257,167.8L257.5,168.3L258,168.7L258.5,169.2L259,169.7L259.5,170.1L260,170.6L260.5,171.1L261,171.5L261.5,172.1L262,172.6L262.5,173.1L263,173.7L263.5,174.2L264,174.7L264.5,175.3L265,175.8L265.5,176.4L266,176.9L266.5,177.5L267,178.1L267.5,178.7L268,179.3L268.5,179.9L269,180.5L269.5,181.1L270,181.7L270.5,182.3L271,182.9L271.5,183.5L272,184.2L272.5,184.8L273,185.5L273.5,186.2L274,186.8L274.5,187.5L275,188.2L275.5,188.9L276,189.5L276.5,190.2L277,190.9L277.5,191.6L278,192.3L278.5,193L279,193.7L279.5,194.4L280,195.1L280.5,195.9L281,196.6L281.5,197.3L282,198L282.5,198.7L283,199.4L283.5,200.2L284,200.9L284.5,201.6L285,202.3L285.5,203L286,203.7L286.5,204.5L287,205.2L287.5,205.9L288,206.6L288.5,207L289,207L289.5,207L289.7,207L290,207L290.5,207L291,207" stroke="#4000ff" stroke-width="3.3"/>
<path d="M71,207L71.5,204.8L72,202.6L72.5,200.4L72.6,200L73,194.7L73.5,188.2L74,181.6L74.5,175L75,168.8L75.5,162.5L76,156.2L76.5,150L77,145.6L77.5,141.2L78,136.8L78.5,132.4L79,128L79.5,123.8L80,119.5L80.5,115.3L81,111.1L81.5,106.8L81.6,106L82,104.8L82.5,101.8L83,98.8L83.5,95.8L83.6,95.2L84,94.1L84.5,92.8L85,91.5L85.2,91L85.5,91L86,90.9L86.5,90.8L87,90.8L87.5,90.7L88,91L88.5,91.2L89,91.5L89.5,91.7L90,92L90.5,92.2L91,90.7L91.5,89.1L91.8,88.2L92,87L92.5,84.1L93,81.2L93.5,80.7L94,80.3L94.5,79.8L95,79.8L95.5,79.8L96,79.8L96.5,79.8L97,79.8L97.5,80L98,80.2L98.5,80.5L99,80.7L99.3,80.8L99.5,80.2L100,78.7L100.5,77.2L101,73.5L101.3,71.2L101.5,69.4L102,65L102.2,63.2L102.5,62.3L103,60.8L103.5,59.2L104,57.7L104.5,57L105,56.3L105.5,55.6L106,54.9L106.5,54.2L107,53.9L107.5,53.6L108,53.4L108.5,53.4L109,53.4L109.5,53.4L110,53.4L110.5,53.4L111,53.4L111.5,53.4L112,53.4L112.5,53.4L113,53.4L113.5,53.4L114,53.4L114.5,53.5L115,53.5L115.5,53.6L116,53.6L116.5,53.6L117,53.7L117.5,53.7L118,53.7L118.5,53.8L119,53.8L119.5,54L120,54.1L120.5,54.3L121,54.5L121.5,54.6L122,54.8L122.5,55L123,55.1L123.5,55.5L124,55.9L124.5,56.2L125,56.6L125.5,56.9L126,57.3L126.5,57.6L127,58.1L127.5,58.5L128,58.9L128.5,59.3L129,59.8L129.5,60.2L130,60.6L130.5,61L131,61.5L131.5,61.9L132,62.3L132.5,62.7L133,63.2L133.5,63.6L134,64L134.5,64.4L135,64.9L135.3,65.1L135.5,65.3L136,65.7L136.5,66L137,66.4L137.5,66.8L138,67.2L138.5,67.5L139,67.9L139.5,68.3L140,68.7L140.5,69.1L141,69.4L141.5,69.8L142,70.2L142.5,70.6L143,71L143.5,71.3L144,71.7L144.1,71.8L144.5,72.1L145,72.6L145.5,73L146,73.4L146.5,73.9L147,74.3L147.5,74.7L148,75.2L148.5,75.6L149,76L149.5,76.5L150,76.9L150.5,77.3L151,77.8L151.5,78.2L152,78.7L152.5,79.1L153,79.5L153.5,80L154,80.4L154.5,80.9L155,81.3L155.5,81.7L156,82.2L156.5,82.6L157,83.1L157.5,83.5L158,84L158.5,84.4L159,84.8L159.5,85.3L160,85.7L160.5,86.2L161,86.6L161.5,87L162,87.5L162.5,87.9L163,88.4L163.5,88.8L164,89.2L164.5,89.7L165,90.1L165.5,90.6L166,91L166.5,91.5L167,91.9L167.5,92.3L168,92.8L168.5,93.2L169,93.7L169.5,94.1L170,94.5L170.5,95L171,95.4L171.5,95.9L172,96.3L172.5,96.7L173,97.2L173.5,97.6L174,98.1L174.5,98.5L174.7,98.7L175,98.9L175.5,99.4L176,99.8L176.5,100.2L177,100.6L177.5,101.1L178,101.5L178.5,101.9L179,102.3L179.5,102.8L180,103.2L180.5,103.6L181,104L181.5,104.5L182,104.9L182.5,105.3L183,105.7L183.5,106.2L184,106.6L184.5,107L185,107.4L185.5,107.9L186,108.3L186.5,108.7L187,109.1L187.5,109.6L188,110L188.5,110.4L189,110.8L189.5,111.3L190,111.7L190.5,112.1L191,112.6L191.5,113L192,113.5L192.5,113.9L193,114.4L193.5,114.8L194,115.3L194.5,115.7L195,116.1L195.5,116.6L196,117L196.5,117.5L197,117.9L197.5,118.4L198,118.8L198.5,119.3L199,119.7L199.5,120.1L200,120.6L200.5,121L201,121.4L201.5,121.8L202,122.2L202.5,122.6L203,123L203.5,123.4L204,123.9L204.5,124.3L205,124.7L205.5,125.1L206,125.5L206.5,125.9L207,126.3L207.5,126.7L208,127.1L208.5,127.5L209,127.9L209.5,128.3L210,128.8L210.5,129.2L211,129.6L211.5,130L212,130.4L212.5,130.8L213,131.2L213.5,131.6L214,132L214.5,132.4L215,132.8L215.5,133.2L216,133.6L216.5,134.1L217,134.5L217.5,134.9L218,135.3L218.5,135.7L219,136.1L219.5,136.5L220,136.9L220.5,137.3L221,137.7L221.5,138.1L222,138.5L222.5,139L223,139.4L223.5,139.8L224,140.2L224.5,140.6L225,141L225.5,141.4L226,141.8L226.5,142.2L227,142.6L227.5,143L228,143.4L228.5,143.8L229,144.2L229.5,144.6L230,145L230.5,145.4L231,145.8L231.5,146.2L232,146.6L232.5,147L233,147.4L233.5,147.8L234,148.2L234.5,148.6L235,149L235.5,149.4L236,149.8L236.5,150.2L237,150.6L237.5,151L238,151.4L238.5,151.8L239,152.2L239.5,152.6L240,153L240.5,153.4L241,153.8L241.5,154.2L242,154.6L242.5,155L243,155.3L243.5,155.7L244,156.1L244.5,156.5L245,156.9L245.5,157.3L246,157.7L246.5,158.1L247,158.5L247.5,158.8L248,159.2L248.5,159.6L249,160L249.5,160.4L250,160.8L250.5,161.2L251,161.5L251.5,161.9L252,162.2L252.5,162.6L253,162.9L253.5,163.3L254,163.7L254.5,164L255,164.4L255.5,164.8L256,165.2L256.5,165.6L257,166L257.5,166.4L258,166.8L258.5,167.2L259,167.6L259.5,168L260,168.4L260.5,168.8L261,169.3L261.5,169.7L262,170.2L262.5,170.7L263,171.2L263.5,171.7L264,172.2L264.5,172.7L265,173.2L265.5,173.7L266,174.2L266.5,174.7L267,175.3L267.5,175.9L268,176.5L268.5,177L269,177.6L269.5,178.2L270,178.8L270.5,179.4L271,180L271.5,180.6L272,181.2L272.5,181.8L273,182.5L273.5,183.2L274,183.9L274.5,184.6L275,185.2L275.5,185.9L276,186.6L276.5,187.3L277,188L277.5,188.7L278,189.4L278.5,190.2L279,190.9L279.5,191.7L280,192.4L280.5,193.1L281,193.9L281.5,194.6L282,195.4L282.5,196.1L283,196.9L283.5,197.6L284,198.4L284.5,199.1L285,199.8L285.5,200.6L286,201.3L286.5,202.1L287,202.8L287.5,203.6L288,204.3L288.5,205L289,205.8L289.5,206.5L289.7,206.8L290,207L290.5,207L291,207L291.5,207L292,207L292.5,207L293,207L293.5,207" stroke="#4000ff" stroke-width="3.3"/>
<path d="M71,207L71.5,204.8L72,202.6L72.5,200.4L72.6,200L73,194.7L73.5,188.2L74,181.6L74.5,175L75,168.8L75.5,162.5L76,156.2L76.5,150L77,145.6L77.5,141.2L78,136.8L78.5,132.4L79,128L79.5,123.8L80,119.5L80.5,115.3L81,111.1L81.5,106.8L81.6,106L82,103.6L82.5,100.6L83,97.6L83.5,94.6L83.6,94L84,92.9L84.5,91.6L85,90.3L85.2,89.8L85.5,89.8L86,89.7L86.5,89.6L87,89.6L87.5,89.5L88,89.8L88.5,90L89,90.2L89.5,90.5L90,90.8L90.5,91L91,89.5L91.5,87.9L91.8,87L92,85.8L92.5,82.9L93,80L93.5,79.5L94,79.1L94.5,78.6L95,78.6L95.5,78.6L96,78.6L96.5,78.6L97,78.6L97.5,78.8L98,79L98.5,79.3L99,79.5L99.3,79.6L99.5,79L100,77.5L100.5,76L101,72.3L101.3,70L101.5,68.2L102,63.8L102.2,62L102.5,61.1L103,59.6L103.5,58L104,56.5L104.5,55.8L105,55.1L105.5,54.4L106,53.7L106.5,53L107,52.7L107.5,52.4L108,52.2L108.5,52.2L109,52.2L109.5,52.2L110,52.2L110.5,52.2L111,52.2L111.5,52.2L112,52.2L112.5,52.2L113,52.2L113.5,52.2L114,52.2L114.5,52.3L115,52.3L115.5,52.3L116,52.3L116.5,52.4L117,52.4L117.5,52.4L118,52.4L118.5,52.5L119,52.5L119.5,52.7L120,52.8L120.5,53L121,53.1L121.5,53.3L122,53.4L122.5,53.6L123,53.8L123.5,54.1L124,54.5L124.5,54.8L125,55.2L125.5,55.5L126,55.9L126.5,56.2L127,56.6L127.5,57L128,57.5L128.5,57.9L129,58.3L129.5,58.7L130,59.1L130.5,59.5L131,59.9L131.5,60.4L132,60.8L132.5,61.2L133,61.6L133.5,62L134,62.4L134.5,62.9L135,63.3L135.3,63.5L135.5,63.7L136,64L136.5,64.4L137,64.8L137.5,65.2L138,65.5L138.5,65.9L139,66.3L139.5,66.6L140,67L140.5,67.4L141,67.8L141.5,68.1L142,68.5L142.5,68.9L143,69.2L143.5,69.6L144,70L144.1,70.1L144.5,70.4L145,70.8L145.5,71.3L146,71.7L146.5,72.1L147,72.6L147.5,73L148,73.4L148.5,73.9L149,74.3L149.5,74.7L150,75.2L150.5,75.6L151,76L151.5,76.5L152,76.9L152.5,77.4L153,77.8L153.5,78.2L154,78.7L154.5,79.1L155,79.6L155.5,80L156,80.4L156.5,80.9L157,81.3L157.5,81.8L158,82.2L158.5,82.7L159,83.1L159.5,83.5L160,84L160.5,84.4L161,84.9L161.5,85.3L162,85.7L162.5,86.2L163,86.6L163.5,87.1L164,87.5L164.5,87.9L165,88.4L165.5,88.8L166,89.3L166.5,89.7L167,90.2L167.5,90.6L168,91L168.5,91.5L169,91.9L169.5,92.4L170,92.8L170.5,93.2L171,93.7L171.5,94.1L172,94.6L172.5,95L173,95.4L173.5,95.9L174,96.3L174.5,96.8L174.7,97L175,97.2L175.5,97.6L176,98.1L176.5,98.5L177,98.9L177.5,99.3L178,99.8L178.5,100.2L179,100.6L179.5,101L180,101.5L180.5,101.9L181,102.3L181.5,102.7L182,103.2L182.5,103.6L183,104L183.5,104.4L184,104.9L184.5,105.3L185,105.7L185.5,106.1L186,106.6L186.5,107L187,107.4L187.5,107.8L188,108.3L188.5,108.7L189,109.1L189.5,109.5L190,110L190.5,110.4L191,110.8L191.5,111.3L192,111.7L192.5,112.2L193,112.6L193.5,113.1L194,113.5L194.5,114L195,114.4L195.5,114.8L196,115.3L196.5,115.7L197,116.2L197.5,116.6L198,117.1L198.5,117.5L199,118L199.5,118.4L200,118.9L200.5,119.3L201,119.7L201.5,120.1L202,120.5L202.5,120.9L203,121.3L203.5,121.7L204,122.1L204.5,122.5L205,122.9L205.5,123.3L206,123.7L206.5,124.2L207,124.6L207.5,125L208,125.4L208.5,125.8L209,126.2L209.5,126.6L210,127L210.5,127.4L211,127.8L211.5,128.2L212,128.6L212.5,129.1L213,129.5L213.5,129.9L214,130.3L214.5,130.7L215,131.1L215.5,131.5L216,131.9L216.5,132.3L217,132.7L217.5,133.1L218,133.5L218.5,133.9L219,134.4L219.5,134.8L220,135.2L220.5,135.6L221,136L221.5,136.4L222,136.8L222.5,137.2L223,137.6L223.5,138L224,138.4L224.5,138.8L225,139.3L225.5,139.7L226,140.1L226.5,140.5L227,140.9L227.5,141.3L228,141.7L228.5,142.1L229,142.5L229.5,142.9L230,143.3L230.5,143.7L231,144.1L231.5,144.5L232,144.9L232.5,145.3L233,145.7L233.5,146.1L234,146.5L234.5,146.9L235,147.3L235.5,147.7L236,148.1L236.5,148.5L237,148.9L237.5,149.3L238,149.7L238.5,150.1L239,150.5L239.5,150.9L240,151.3L240.5,151.7L241,152L241.5,152.4L242,152.8L242.5,153.2L243,153.6L243.5,154L244,154.4L244.5,154.7L245,155.1L245.5,155.5L246,155.9L246.5,156.3L247,156.7L247.5,157.1L248,157.5L248.5,157.8L249,158.2L249.5,158.6L250,159L250.5,159.4L251,159.7L251.5,160.1L252,160.4L252.5,160.8L253,161.1L253.5,161.5L254,161.8L254.5,162.2L255,162.5L255.5,162.9L256,163.3L256.5,163.7L257,164.1L257.5,164.5L258,164.9L258.5,165.3L259,165.7L259.5,166.1L260,166.5L260.5,166.9L261,167.3L261.5,167.8L262,168.2L262.5,168.7L263,169.2L263.5,169.7L264,170.2L264.5,170.6L265,171.1L265.5,171.6L266,172.1L266.5,172.6L267,173.2L267.5,173.7L268,174.3L268.5,174.8L269,175.4L269.5,176L270,176.6L270.5,177.1L271,177.7L271.5,178.3L272,178.8L272.5,179.5L273,180.2L273.5,180.9L274,181.5L274.5,182.2L275,182.9L275.5,183.5L276,184.2L276.5,184.9L277,185.6L277.5,186.2L278,187L278.5,187.7L279,188.5L279.5,189.2L280,190L280.5,190.7L281,191.5L281.5,192.2L282,193L282.5,193.7L283,194.5L283.5,195.2L284,195.9L284.5,196.7L285,197.4L285.5,198.2L286,198.9L286.5,199.6L287,200.4L287.5,201.1L288,201.9L288.5,202.6L289,203.3L289.5,204.1L289.7,204.4L290,204.7L290.5,205.3L291,205.8L291.5,206.4L292,207L292.5,207L293,207L293.5,207L294,207L294.5,207L295,207L295.5,207L296,207L296.5,207" stroke="#9900ff" stroke-width="3.3"/>
<path d="M45.6,207L46,207L47,207L48,207L49,207L50,207L51,207L52,207L53,207L54,207L55,207L56,207L57,207L58,207L59,207L60,207L61,207L62,207L63,207L64,207L65,207L66,207L67,207L68,207L69,207L70,207L71,207L72,202.6L72.6,200L73,194.7L74,181.6L74.5,175L75,168.8L76,156.2L76.5,150L77,145.6L78,136.8L79,128L80,119.5L81,111.1L81.6,106L82,103.6L83,97.6L83.6,94L84,92.9L85,90.3L85.2,89.8L86,89.7L87,89.6L87.5,89.5L88,89.8L89,90.2L90,90.8L90.5,91L91,89.5L91.8,87L92,85.8L93,80L94,79.1L94.5,78.6L95,78.6L96,78.6L97,78.6L98,79L99,79.5L99.3,79.6L100,77.5L100.5,76L101,72.2L101.3,70L102,63.8L102.2,62L103,59.6L104,56.5L105,55.1L106,53.7L106.5,53L107,52.7L108,52L109,51.4L110,51.4L111,51.3L112,51.3L113,51.2L114,51.2L115,51.2L116,51.3L117,51.3L118,51.4L119,51.4L120,51.7L121,52L122,52.3L123,52.6L124,53.3L125,54L126,54.7L126.5,55L127,55.4L128,56.2L129,57L130,57.9L131,58.7L132,59.5L133,60.3L134,61.1L135,62L135.3,62.2L136,62.7L137,63.4L138,64.2L139,64.9L140,65.6L141,66.3L142,67.1L143,67.8L144,68.5L144.1,68.6L145,69.4L146,70.2L147,71.1L148,72L149,72.8L150,73.7L151,74.6L152,75.5L153,76.3L154,77.2L155,78.1L156,79L157,79.9L158,80.8L159,81.6L160,82.5L161,83.4L162,84.3L163,85.2L164,86.1L165,86.9L166,87.8L167,88.7L168,89.6L169,90.5L170,91.4L171,92.2L172,93.1L173,94L174,94.9L174.7,95.5L175,95.8L176,96.6L177,97.5L178,98.3L179,99.2L180,100L181,100.9L182,101.7L183,102.6L184,103.4L185,104.3L186,105.1L187,106L188,106.8L189,107.7L190,108.5L191,109.4L192,110.3L193,111.2L194,112.1L195,113L196,113.8L197,114.7L198,115.6L199,116.5L200,117.4L201,118.2L202,119L203,119.8L204,120.7L205,121.5L206,122.3L207,123.1L208,123.9L209,124.7L210,125.6L211,126.4L212,127.2L213,128L214,128.8L215,129.6L216,130.5L217,131.3L218,132.1L219,132.9L220,133.7L221,134.5L222,135.4L223,136.2L224,137L225,137.8L226,138.6L227,139.4L228,140.2L229,141L230,141.8L231,142.6L232,143.4L233,144.2L234,145L235,145.8L236,146.6L237,147.4L238,148.2L239,149L240,149.8L241,150.6L242,151.3L243,152.1L244,152.9L245,153.7L246,154.4L247,155.2L248,156L249,156.7L250,157.5L251,158.2L252,158.9L253,159.6L254,160.3L255,161L255.5,161.3L256,161.7L257,162.4L258,163.2L259,164L260,164.7L261,165.5L262,166.4L263,167.3L264,168.2L265,169.1L266,170L266.5,170.5L267,171L268,172.1L269,173.2L270,174.3L271,175.3L272,176.4L273,177.7L274,179L275,180.3L276,181.6L277,182.9L277.5,183.6L278,184.3L279,185.8L280,187.3L281,188.8L282,190.3L283,191.8L284,193.3L285,194.8L286,196.2L287,197.7L288,199.2L289,200.7L289.7,201.7L290,202L291,203L292,204L293,205L294,205.5L295,206.1L296,206.6L297,206.8L298,206.9L298.5,207L299,207L300,207L301,207L302,207L303,207L304,207L305,207L306,207L307,207L308,207L309,207L310,207L311,207L312,207L313,207L314,207L315,207L316,207L317,207L318,207L319,207L320,207L321,207L322,207L323,207L324,207L325,207L326,207L327,207L328.1,207" stroke="#9900ff" stroke-width="2.7"/>
</g>
<g clip-path="url(#cb)" fill="none" stroke-linejoin="round" stroke-linecap="round">
<path d="M432.5,212.2L432.9,212.2L433.3,212.2L433.7,206.2L434.1,194.4L434.5,183.6L434.9,174.5L435.3,171.7L435.7,169.1L436.1,166.5L436.5,163.6L436.9,160.4L437.3,157.3L437.7,156.3L438.1,155.3L438.5,154.4L438.9,155L439.3,155.6L439.7,156.2L440.1,158.2L440.5,160.3L440.9,162.3L441.3,161.8L441.7,161.3L442.1,160.9L442.5,158L442.9,155.1L443.3,152.3L443.7,149.7L444.1,147.1L444.5,146.3L444.9,145.4L445.3,145.3L445.7,158.1L446.1,170.6L446.5,183.1L446.9,195.3L447.3,206.8L447.7,212.2L448.1,212.2L448.5,212.2" stroke="#ff4c4c" stroke-width="2.5"/>
<path d="M429.5,212.2L429.9,212.2L430.3,212.2L430.7,205.3L431.1,190.5L431.5,174.5L431.9,158L432.3,148.6L432.7,147L433.1,146.7L433.5,147.9L433.9,149L434.3,151.3L434.7,154.7L435.1,158.2L435.5,154.7L435.9,151.3L436.3,147.4L436.7,143.2L437.1,138.9L437.5,137.7L437.9,136.4L438.3,135.1L438.7,135.9L439.1,136.7L439.5,137.5L439.9,140.2L440.3,143L440.7,145.7L441.1,145L441.5,144.4L441.9,143.8L442.3,139.9L442.7,136L443.1,132.4L443.5,128.9L443.9,125.4L444.3,124.3L444.7,123.1L445.1,123L445.5,124L445.9,125L446.3,126.8L446.7,129.6L447.1,132.3L447.5,135.1L447.9,135.4L448.3,142.7L448.7,156L449.1,167.5L449.5,179.8L449.9,194.2L450.3,212.2L450.7,212.2L451.1,212.2" stroke="#ff4c4c" stroke-width="2.5"/>
<path d="M427.5,212.2L427.9,212.2L428.3,212.2L428.7,205.3L429.1,190.3L429.5,174.1L429.9,156.4L430.3,145.8L430.7,143.5L431.1,141.6L431.5,139.8L431.9,137.9L432.3,139.2L432.7,140.4L433.1,141.7L433.5,145.6L433.9,149.5L434.3,149.5L434.7,145.6L435.1,141.7L435.5,136.9L435.9,132.2L436.3,129.1L436.7,127.6L437.1,126.2L437.5,125.9L437.9,126.8L438.3,127.7L438.7,129.7L439.1,132.8L439.5,135.8L439.9,137L440.3,136.3L440.7,135.6L441.1,133L441.5,128.7L441.9,124.4L442.3,120.5L442.7,116.5L443.1,113.9L443.5,112.6L443.9,111.3L444.3,112.4L444.7,113.5L445.1,114.6L445.5,117.7L445.9,120.8L446.3,123.9L446.7,125.6L447.1,126L447.5,126.4L447.9,122.6L448.3,117.3L448.7,106.5L449.1,95.6L449.5,91.1L449.9,86.5L450.3,83.7L450.7,82.8L451.1,82.7L451.5,85.1L451.9,87.5L452.3,98.3L452.7,109.2L453.1,128.2L453.5,147.1L453.9,171.5L454.3,195.9L454.7,202.4L455.1,209.4L455.5,212.2L455.9,212.2L456.3,212.2L456.7,212.2L457.1,212.2L457.5,212.2L457.9,212.2" stroke="#ff4c4c" stroke-width="2.5"/>
<path d="M426,212.2L426.4,212.2L426.8,212.2L427.2,212.2L427.6,208L428,196L428.4,176.5L428.8,161.7L429.2,157L429.6,152.4L430,148.2L430.4,145.2L430.8,142.2L431.2,139.1L431.6,136.4L432,134.3L432.4,132.2L432.8,130.2L433.2,130.7L433.6,132.1L434,133.5L434.4,137.1L434.8,141.5L435.2,143.6L435.6,139.3L436,135L436.4,129.9L436.8,124.6L437.2,120.2L437.6,118.6L438,117L438.4,116.1L438.8,117.1L439.2,118.1L439.6,119.7L440,123.1L440.4,126.5L440.8,128.9L441.2,128.1L441.6,127.2L442,125.4L442.4,120.6L442.8,115.8L443.2,111.3L443.6,107L444,103.4L444.4,101.9L444.8,100.5L445.2,101L445.6,102.2L446,103.4L446.4,106.3L446.8,109.8L447.2,113.2L447.6,115.9L448,116.3L448.4,116.8L448.8,114.1L449.2,108.2L449.6,97.7L450,85.7L450.4,78.9L450.8,73.8L451.2,69.7L451.6,68.7L452,67.6L452.4,70.3L452.8,73L453.2,82.7L453.6,94.7L454,113.5L454.4,134.6L454.8,160.2L455.2,187.3L455.6,199.5L456,207.3L456.4,212.2L456.8,212.2L457.2,212.2L457.6,212.2L458,212.2L458.4,212.2L458.8,212.2" stroke="#ff4c4c" stroke-width="2.5"/>
<path d="M444.5,212.2L445,212.2L445.5,208.5L446,201.5L446.5,195L447,193.4L447.5,192.5L448,191.7L448.5,191.3L449,190.6L449.5,189.2L450,187.9L450.5,186.8L451,185.7L451.5,184.3L452,182.7L452.5,181.2L453,179.5L453.5,177.1L454,174.6L454.5,172.6L455,170.6L455.5,169.2L456,168.1L456.5,166.7L457,165.4L457.5,164.7L458,164L458.5,162.4L459,160.5L459.5,157.7L460,154.5L460.5,151.2L461,147.9L461.5,146.1L462,145.3L462.5,150.2L463,155.6L463.5,161.4L464,167.3L464.5,172.4L465,177.2L465.5,181.9L466,186.2L466.5,190.2L467,194L467.5,197.5L468,200.9L468.5,204.2L469,207.4L469.5,210.1L470,212.2L470.5,212.2L471,212.2L471.5,212.2L472,212.2" stroke="#ff944c" stroke-width="2.5"/>
<path d="M428.5,212.2L429,212.2L429.5,212.2L430,208.3L430.5,204.9L431,202L431.5,199.6L432,197.4L432.5,195.5L433,193.8L433.5,192.4L434,191.1L434.5,190L435,189.1L435.5,188.3L436,187.7L436.5,187.3L437,187L437.5,186.9L438,186.9L438.5,187.2L439,187.5L439.5,188L440,188.7L440.5,189.6L441,190.6L441.5,191.8L442,193.2L442.5,194.8L443,196.6L443.5,198.7L444,201L444.5,203.7L445,206.8L445.5,210.9" stroke="#ff944c" stroke-width="2.0"/>
<path d="M444.5,212.2L445,212.2L445.5,209.5L446,204.2L446.5,199.6L447,196.7L447.5,196.3L448,196L448.5,196.1L449,196.2L449.5,196L450,195.8L450.5,195.6L451,195.3L451.5,194.7L452,194L452.5,192.9L453,191.5L453.5,189.9L454,188.4L454.5,187.3L455,186.3L455.5,185.7L456,185L456.5,183.9L457,182.6L457.5,181.3L458,179.9L458.5,177.8L459,175.7L459.5,173.1L460,170.6L460.5,168.5L461,166.8L461.5,165.6L462,164.7L462.5,164.3L463,163.9L463.5,163.7L464,163.3L464.5,162L465,161.5L465.5,162L466,165.4L466.5,169.1L467,172.8L467.5,176.6L468,180.5L468.5,184.8L469,188.8L469.5,192.2L470,195.3L470.5,198.3L471,201L471.5,203.5L472,206L472.5,208.4L473,210.7L473.5,212.2L474,212.2L474.5,212.2L475,212.2" stroke="#ff944c" stroke-width="2.5"/>
<path d="M444.5,212.2L445,212.2L445.5,209.1L446,203.4L446.5,198.5L447,194.2L447.5,193.2L448,192.9L448.5,192.6L449,192.2L449.5,191.5L450,190.8L450.5,190.1L451,189.5L451.5,188.8L452,188.2L452.5,188.1L453,188L453.5,187.9L454,187.7L454.5,187.7L455,187.7L455.5,187.6L456,186.4L456.5,184.4L457,182.3L457.5,180.4L458,178.5L458.5,176.4L459,174.5L459.5,172.4L460,170.6L460.5,169.2L461,167.9L461.5,166.7L462,165.4L462.5,164.1L463,162.4L463.5,160.8L464,159.1L464.5,156.7L465,154.4L465.5,152.6L466,151.2L466.5,150.5L467,150.1L467.5,149.7L468,149.3L468.5,151L469,154L469.5,157.9L470,161.4L470.5,164.6L471,167.8L471.5,170.7L472,173.9L472.5,177.9L473,182.3L473.5,187.2L474,191.9L474.5,196.4L475,200.6L475.5,204.5L476,208L476.5,210.9L477,212.2L477.5,212.2L478,212.2L478.5,212.2" stroke="#ff944c" stroke-width="2.5"/>
<path d="M428.5,212.2L429,212.2L429.5,212.2L430,209.9L430.5,207.8L431,206.2L431.5,204.7L432,203.4L432.5,202.3L433,201.3L433.5,200.4L434,199.6L434.5,199L435,198.4L435.5,198L436,197.6L436.5,197.4L437,197.2L437.5,197.1L438,197.2L438.5,197.3L439,197.5L439.5,197.8L440,198.2L440.5,198.7L441,199.4L441.5,200.1L442,200.9L442.5,201.9L443,202.9L443.5,204.2L444,205.5L444.5,207.1L445,209L445.5,211.4" stroke="#ff944c" stroke-width="2.0"/>
<path d="M444.5,212.2L445,212.2L445.5,210.3L446,206.7L446.5,203.6L447,200.7L447.5,198.3L448,197.7L448.5,197.2L449,196.8L449.5,196.3L450,195.9L450.5,195.7L451,195.5L451.5,195.3L452,195.2L452.5,195.1L453,195L453.5,194.6L454,194.1L454.5,193.7L455,193.2L455.5,193L456,192.8L456.5,192.4L457,192.2L457.5,192.3L458,192.6L458.5,192.7L459,192.8L459.5,192.1L460,191L460.5,189.8L461,188.5L461.5,187.1L462,185.6L462.5,184.2L463,182.8L463.5,181.8L464,180.9L464.5,179.9L465,179L465.5,178.4L466,177.8L466.5,177.3L467,176.6L467.5,175.5L468,174.1L468.5,172.9L469,171.4L469.5,169L470,166.6L470.5,164.3L471,162.2L471.5,159.7L472,158.6L472.5,159.5L473,163.6L473.5,168.3L474,172.6L474.5,176.3L475,179.8L475.5,183.3L476,186.7L476.5,190L477,193.4L477.5,196.7L478,200L478.5,203L479,205.9L479.5,208.6L480,210.9L480.5,212.2L481,212.2L481.5,212.2L482,212.2" stroke="#ff944c" stroke-width="2.5"/>
<path d="M444.5,212.2L445,212.2L445.5,210.2L446,206.4L446.5,202.9L447,199.6L447.5,196.3L448,195L448.5,194.7L449,194.5L449.5,194.3L450,194.1L450.5,194L451,193.8L451.5,193.3L452,192.7L452.5,192.1L453,191.5L453.5,190.7L454,189.9L454.5,189.5L455,189.3L455.5,189.5L456,189.8L456.5,189.9L457,190.1L457.5,190.5L458,190.9L458.5,190.8L459,190.6L459.5,190L460,189.4L460.5,188.9L461,188.4L461.5,188.2L462,188.1L462.5,188.3L463,188.1L463.5,187.6L464,187L464.5,186.1L465,185L465.5,183.8L466,182.3L466.5,180.8L467,179L467.5,177.1L468,175.1L468.5,173.7L469,172.6L469.5,170.8L470,169.2L470.5,167.7L471,166.3L471.5,164.2L472,161.8L472.5,159.8L473,157.4L473.5,155.6L474,153.6L474.5,151.3L475,149.2L475.5,148.9L476,149.6L476.5,155.2L477,160.9L477.5,166.5L478,171.8L478.5,176.3L479,180.3L479.5,184.5L480,188.3L480.5,191.5L481,194.5L481.5,197.7L482,200.9L482.5,204.3L483,207.5L483.5,210.1L484,212.2L484.5,212.2L485,212.2L485.5,212.2L486,212.2" stroke="#ff944c" stroke-width="2.5"/>
<path d="M444.5,212.2L445,212.2L445.5,210.8L446,208.1L446.5,205.7L447,203.5L447.5,201.5L448,199.8L448.5,199.7L449,199.6L449.5,199.3L450,198.9L450.5,198.4L451,198L451.5,197.3L452,196.7L452.5,196.3L453,196L453.5,195.7L454,195.5L454.5,195.6L455,195.8L455.5,196.2L456,196.5L456.5,196.5L457,196.3L457.5,196.3L458,196.2L458.5,195.9L459,195.6L459.5,195.2L460,194.9L460.5,194.8L461,194.8L461.5,195L462,195.3L462.5,195.5L463,195.7L463.5,195.9L464,195.9L464.5,195.6L465,195.2L465.5,194.9L466,194.5L466.5,193.9L467,192.9L467.5,192L468,191.2L468.5,190.7L469,190.2L469.5,189.3L470,188.2L470.5,187L471,185.6L471.5,183.6L472,181.4L472.5,179.5L473,177.6L473.5,176.4L474,175.5L474.5,174.6L475,174L475.5,173.9L476,173.9L476.5,173.8L477,173.5L477.5,173L478,172.3L478.5,170.6L479,169.3L479.5,169L480,172L480.5,174.4L481,177.1L481.5,180.2L482,183.4L482.5,187.4L483,191.1L483.5,194L484,196.7L484.5,199.6L485,202.2L485.5,204.3L486,206.4L486.5,208.5L487,210.5L487.5,212.2L488,212.2L488.5,212.2L489,212.2L489.5,212.2" stroke="#ff944c" stroke-width="2.5"/>
<path d="M444.5,212.2L445,212.2L445.5,210.7L446,207.9L446.5,205.5L447,203.2L447.5,201L448,198.8L448.5,197.6L449,197.1L449.5,196.4L450,195.7L450.5,195.1L451,194.7L451.5,194.3L452,194L452.5,194L453,194L453.5,194L454,193.9L454.5,193.9L455,193.9L455.5,193.9L456,193.9L456.5,193.6L457,193.2L457.5,193.2L458,193.2L458.5,193.2L459,193.2L459.5,193.2L460,193.2L460.5,193.3L461,193.3L461.5,193.3L462,193.2L462.5,193L463,192.7L463.5,192.4L464,192.2L464.5,191.7L465,191.4L465.5,191.3L466,191.3L466.5,191.5L467,191.8L467.5,192L468,192.2L468.5,192.5L469,192.6L469.5,192.2L470,191.3L470.5,189.7L471,188.1L471.5,186.1L472,184.2L472.5,182.8L473,181.6L473.5,181.1L474,180.6L474.5,180.1L475,179.4L475.5,178.8L476,178L476.5,176.8L477,175.4L477.5,173.9L478,172.4L478.5,170.3L479,168.4L479.5,167.4L480,166.7L480.5,165.3L481,164L481.5,162.9L482,161.6L482.5,162.3L483,163.2L483.5,165.9L484,168.6L484.5,172.4L485,176.3L485.5,179L486,182L486.5,184.6L487,187.6L487.5,191.7L488,195.6L488.5,199L489,202.2L489.5,205.3L490,208.1L490.5,210.4L491,212.2L491.5,212.2L492,212.2L492.5,212.2L493,212.2" stroke="#ff944c" stroke-width="2.5"/>
<path d="M444.5,212.2L445,212.2L445.5,211.2L446,209.4L446.5,207.7L447,206L447.5,204.3L448,202.6L448.5,201L449,200.6L449.5,200.2L450,200L450.5,199.9L451,199.9L451.5,199.8L452,199.6L452.5,199.6L453,199.5L453.5,199.3L454,198.9L454.5,198.7L455,198.5L455.5,198.5L456,198.6L456.5,198.5L457,198.6L457.5,198.8L458,199.1L458.5,199.2L459,199.3L459.5,199.2L460,199L460.5,198.7L461,198.3L461.5,198L462,197.6L462.5,197.4L463,197.2L463.5,197.2L464,197.3L464.5,197.3L465,197.4L465.5,197.5L466,197.6L466.5,197.7L467,197.7L467.5,197.6L468,197.4L468.5,197.4L469,197.3L469.5,197L470,196.8L470.5,196.7L471,196.7L471.5,196.5L472,196.5L472.5,196.6L473,196.7L473.5,197L474,196.8L474.5,196L475,195.1L475.5,194.2L476,193.3L476.5,192.3L477,191.5L477.5,190.7L478,190.1L478.5,189.2L479,188.4L479.5,188L480,187.4L480.5,186.3L481,184.9L481.5,183.4L482,181.7L482.5,180.9L483,180.1L483.5,178.5L484,176.9L484.5,176.7L485,176.8L485.5,175.7L486,174.9L486.5,173.8L487,173L487.5,176.6L488,179.8L488.5,182.3L489,184.7L489.5,187.7L490,190.6L490.5,193.2L491,195.8L491.5,198.3L492,200.8L492.5,203.1L493,205.3L493.5,207.4L494,209.3L494.5,210.9L495,212.2L495.5,212.2L496,212.2L496.5,212.2L497,212.2" stroke="#ff944c" stroke-width="2.5"/>
<path d="M444.5,212.2L445,212.2L445.5,211.1L446,209L446.5,207.1L447,205.2L447.5,203.5L448,201.8L448.5,200.3L449,199.4L449.5,199.2L450,199.1L450.5,199L451,198.9L451.5,198.5L452,198.1L452.5,197.8L453,197.5L453.5,197.1L454,196.8L454.5,196.8L455,196.9L455.5,197.2L456,197.6L456.5,197.7L457,197.9L457.5,198.1L458,198.1L458.5,197.9L459,197.6L459.5,197.1L460,196.5L460.5,196L461,195.6L461.5,195.4L462,195.3L462.5,195.4L463,195.6L463.5,195.8L464,196.1L464.5,196L465,195.9L465.5,195.7L466,195.5L466.5,195.3L467,195.1L467.5,194.9L468,194.8L468.5,195.1L469,195.4L469.5,195.5L470,195.7L470.5,195.8L471,195.9L471.5,195.7L472,195.4L472.5,195.2L473,194.9L473.5,194.8L474,194.6L474.5,194.4L475,194.3L475.5,194.4L476,194.6L476.5,194.9L477,195.2L477.5,195.4L478,195.3L478.5,194.4L479,193.3L479.5,192.3L480,191.1L480.5,189.5L481,187.7L481.5,186.1L482,184.6L482.5,184.1L483,183.8L483.5,182.9L484,182L484.5,182.1L485,182.3L485.5,181.2L486,179.9L486.5,177.6L487,175L487.5,173.8L488,172.6L488.5,171L489,169.5L489.5,169.4L490,169.7L490.5,170.2L491,171.3L491.5,174.9L492,178.3L492.5,181.3L493,184L493.5,186.3L494,188.6L494.5,190.8L495,193L495.5,195.5L496,198.1L496.5,200.7L497,203.3L497.5,205.9L498,208.3L498.5,210.6L499,212.2L499.5,212.2L500,212.2L500.5,212.2L501,212.2" stroke="#ff944c" stroke-width="2.5"/>
<path d="M444.5,212.2L445,212.2L445.5,211.4L446,209.9L446.5,208.6L447,207.4L447.5,206.3L448,205.3L448.5,204.3L449,203.4L449.5,202.8L450,202.5L450.5,202.2L451,202L451.5,201.6L452,201.3L452.5,201.2L453,201.2L453.5,201.2L454,201.2L454.5,201.4L455,201.5L455.5,201.7L456,201.8L456.5,201.7L457,201.5L457.5,201.4L458,201.2L458.5,200.9L459,200.6L459.5,200.3L460,200.1L460.5,200L461,200L461.5,200L462,200L462.5,200.1L463,200.1L463.5,200.1L464,200L464.5,199.7L465,199.4L465.5,199.3L466,199.1L466.5,199.2L467,199.3L467.5,199.5L468,199.7L468.5,200.1L469,200.5L469.5,200.6L470,200.5L470.5,200.4L471,200.2L471.5,199.8L472,199.3L472.5,199L473,198.8L473.5,198.8L474,198.9L474.5,199L475,199.2L475.5,199.4L476,199.7L476.5,199.8L477,199.8L477.5,199.7L478,199.6L478.5,199.2L479,198.8L479.5,198.6L480,198.5L480.5,198.3L481,198.1L481.5,198.1L482,198.2L482.5,198.2L483,198.2L483.5,197.6L484,196.9L484.5,196.5L485,196.1L485.5,195L486,193.9L486.5,192.3L487,190.7L487.5,190.1L488,189.7L488.5,189.1L489,188.6L489.5,188.7L490,188.8L490.5,188.5L491,187.9L491.5,187L492,185.8L492.5,184.4L493,182.9L493.5,181.2L494,179.7L494.5,178.3L495,177.9L495.5,178.7L496,181.4L496.5,183.9L497,186.4L497.5,188.7L498,190.9L498.5,193.3L499,195.5L499.5,197.5L500,199.6L500.5,201.8L501,204L501.5,206.1L502,208.1L502.5,209.9L503,211.4L503.5,212.2L504,212.2L504.5,212.2L505,212.2" stroke="#ff944c" stroke-width="2.5"/>
<path d="M444.5,212.2L445,212.2L445.5,211.4L446,209.8L446.5,208.4L447,207.1L447.5,205.9L448,204.7L448.5,203.4L449,202.3L449.5,200.9L450,200.5L450.5,200.3L451,200.2L451.5,200.1L452,200.1L452.5,200.2L453,200.3L453.5,200.2L454,200.1L454.5,200L455,199.9L455.5,199.8L456,199.6L456.5,199.3L457,199L457.5,198.9L458,199L458.5,198.9L459,198.8L459.5,198.7L460,198.6L460.5,198.5L461,198.3L461.5,198.2L462,197.9L462.5,197.7L463,197.4L463.5,197.3L464,197.3L464.5,197.1L465,197.1L465.5,197.3L466,197.5L466.5,197.8L467,198.2L467.5,198.4L468,198.6L468.5,198.8L469,198.9L469.5,198.6L470,198.3L470.5,198L471,197.7L471.5,197.3L472,197L472.5,196.9L473,196.9L473.5,197.2L474,197.4L474.5,197.5L475,197.5L475.5,197.5L476,197.4L476.5,197.1L477,196.9L477.5,196.7L478,196.5L478.5,196.3L479,196.1L479.5,196.3L480,196.5L480.5,196.6L481,196.6L481.5,196.7L482,196.6L482.5,197L483,197.3L483.5,197L484,196.7L484.5,196.9L485,197.2L485.5,197L486,196.9L486.5,196.5L487,195.5L487.5,195.2L488,194.8L488.5,194.1L489,193.3L489.5,192.8L490,192.2L490.5,191.1L491,190L491.5,188.6L492,187.3L492.5,186.1L493,185L493.5,183.9L494,182.9L494.5,182L495,181L495.5,180L496,178.9L496.5,177.4L497,175.6L497.5,173.7L498,171.8L498.5,170.5L499,169.7L499.5,169.5L500,171.5L500.5,175.5L501,179.6L501.5,183.3L502,186.8L502.5,190L503,193L503.5,195.7L504,198.1L504.5,200L505,202L505.5,204.1L506,206.3L506.5,208.2L507,210.1L507.5,211.7L508,212.2L508.5,212.2L509,212.2L509.5,212.2" stroke="#ff944c" stroke-width="2.5"/>
<path d="M444.5,212.2L445,212.2L445.5,211.2L446,209.2L446.5,207.3L447,205.5L447.5,203.8L448,202.1L448.5,200.5L449,199.1L449.5,197.7L450,196.5L450.5,196.5L451,196.6L451.5,196.4L452,196.2L452.5,196.1L453,195.8L453.5,195.2L454,194.6L454.5,194.2L455,193.8L455.5,193.8L456,193.8L456.5,193.7L457,193.6L457.5,193.9L458,194.1L458.5,194L459,193.8L459.5,193.4L460,192.8L460.5,192.2L461,191.6L461.5,191.1L462,190.8L462.5,190.6L463,190.7L463.5,191L464,191.5L464.5,191.7L465,192L465.5,192.3L466,192.5L466.5,192.6L467,192.6L467.5,192.5L468,192.3L468.5,192.3L469,192.4L469.5,192.1L470,191.9L470.5,191.8L471,191.8L471.5,191.6L472,191.3L472.5,191.3L473,191L473.5,191L474,190.8L474.5,190.4L475,189.9L475.5,189.6L476,189.4L476.5,189.3L477,189.3L477.5,189.5L478,189.8L478.5,189.9L479,190L479.5,190.4L480,190.6L480.5,190.4L481,190L481.5,189.6L482,189.2L482.5,189.5L483,189.9L483.5,189.7L484,189.7L484.5,190.5L485,191.3L485.5,191.4L486,191.5L486.5,191L487,190.4L487.5,190.5L488,190.4L488.5,189.9L489,189.3L489.5,189.3L490,189.5L490.5,189.4L491,189.4L491.5,189.4L492,189.5L492.5,189.6L493,189.7L493.5,189.6L494,189.3L494.5,189L495,188.4L495.5,187.6L496,186.6L496.5,185.3L497,183.9L497.5,182.5L498,181.3L498.5,180.6L499,180.1L499.5,179.4L500,178.6L500.5,178.4L501,178.1L501.5,177.6L502,176.9L502.5,176.5L503,176.1L503.5,176L504,176.2L504.5,175.5L505,183L505.5,192.6L506,201.4L506.5,208.9L507,212.2L507.5,212.2L508,212.2L508.5,212.2L509,212.2L509.5,212.2L510,212.2L510.5,212.2L511,212.2L511.5,212.2L512,212.2L512.5,212.2L513,212.2L513.5,212.2L514,212.2L514.5,212.2" stroke="#ffee4c" stroke-width="2.5"/>
<path d="M444.5,212.2L445,212.2L445.5,211.8L446,210.7L446.5,209.6L447,208.5L447.5,207.5L448,206.5L448.5,205.6L449,204.8L449.5,203.8L450,202.9L450.5,202L451,201.7L451.5,201.2L452,200.6L452.5,200.2L453,199.7L453.5,199.2L454,198.8L454.5,198.6L455,198.6L455.5,198.7L456,198.8L456.5,198.7L457,198.5L457.5,198.4L458,198.2L458.5,197.7L459,197.2L459.5,196.6L460,196L460.5,195.6L461,195.3L461.5,195.3L462,195.4L462.5,195.6L463,195.8L463.5,196.1L464,196.4L464.5,196.3L465,196.1L465.5,195.9L466,195.7L466.5,195.5L467,195.4L467.5,195.2L468,195.2L468.5,195.5L469,195.8L469.5,195.9L470,195.9L470.5,195.8L471,195.6L471.5,195L472,194.3L472.5,193.8L473,193.1L473.5,192.7L474,192.4L474.5,192.1L475,192L475.5,192.1L476,192.4L476.5,192.7L477,193L477.5,193.3L478,193.5L478.5,193.3L479,193L479.5,192.8L480,192.7L480.5,192.2L481,191.8L481.5,191.5L482,191.5L482.5,192.1L483,192.9L483.5,193.1L484,193.3L484.5,193.9L485,194.5L485.5,194.2L486,193.7L486.5,192.7L487,191.6L487.5,191.3L488,191.1L488.5,190.7L489,190.4L489.5,190.8L490,191.4L490.5,191.7L491,191.9L491.5,192L492,191.9L492.5,191.7L493,191.3L493.5,190.7L494,190.1L494.5,189.5L495,189L495.5,188.8L496,188.7L496.5,188.6L497,188.7L497.5,188.9L498,189.2L498.5,189.7L499,190.1L499.5,190L500,189.7L500.5,189.7L501,189.5L501.5,189L502,188.4L502.5,187.9L503,187.3L503.5,186.8L504,186.4L504.5,185.2L505,184L505.5,183.1L506,182.1L506.5,180.6L507,179L507.5,177.5L508,176.1L508.5,175.3L509,174.8L509.5,174L510,173.6L510.5,173.9L511,184.5L511.5,194.2L512,202.9L512.5,210.1L513,212.2L513.5,212.2L514,212.2L514.5,212.2L515,212.2L515.5,212.2L516,212.2L516.5,212.2L517,212.2L517.5,212.2L518,212.2L518.5,212.2L519,212.2L519.5,212.2L520,212.2L520.5,212.2" stroke="#ffee4c" stroke-width="2.5"/>
<path d="M444.5,212.2L445,212.2L445.5,212L446,211.4L446.5,210.8L447,210.2L447.5,209.6L448,209L448.5,208.3L449,207.6L449.5,206.9L450,206L450.5,205.1L451,204.3L451.5,203.9L452,203.4L452.5,203.2L453,203L453.5,202.7L454,202.5L454.5,202.4L455,202.2L455.5,202.1L456,201.9L456.5,201.5L457,201.1L457.5,200.8L458,200.5L458.5,200.2L459,199.9L459.5,199.6L460,199.4L460.5,199.4L461,199.3L461.5,199.4L462,199.4L462.5,199.3L463,199.2L463.5,199.1L464,199L464.5,198.7L465,198.4L465.5,198.2L466,198.1L466.5,198.1L467,198.2L467.5,198.4L468,198.5L468.5,198.7L469,198.9L469.5,198.6L470,198.3L470.5,197.8L471,197.2L471.5,196.4L472,195.7L472.5,195.2L473,194.8L473.5,194.8L474,194.9L474.5,195L475,195.1L475.5,195.4L476,195.6L476.5,195.6L477,195.5L477.5,195.4L478,195.2L478.5,194.8L479,194.4L479.5,194.4L480,194.5L480.5,194.4L481,194.4L481.5,194.5L482,194.7L482.5,195.3L483,195.8L483.5,195.7L484,195.4L484.5,195.5L485,195.5L485.5,194.9L486,194.3L486.5,193.3L487,192.4L487.5,192.5L488,192.7L488.5,192.7L489,192.7L489.5,193.2L490,193.5L490.5,193.5L491,193.4L491.5,193L492,192.5L492.5,192.1L493,191.6L493.5,191.2L494,191L494.5,190.9L495,190.9L495.5,191.1L496,191.4L496.5,191.5L497,191.5L497.5,191.4L498,191.1L498.5,191L499,190.9L499.5,190.4L500,190L500.5,190L501,190.1L501.5,190.3L502,190.7L502.5,191.1L503,191.6L503.5,192L504,192.2L504.5,191.8L505,191.1L505.5,190.7L506,190.2L506.5,189.6L507,188.9L507.5,188.2L508,187.5L508.5,187.1L509,186.8L509.5,185.8L510,184.8L510.5,184L511,183.1L511.5,181.9L512,180.5L512.5,178.9L513,177.2L513.5,175.9L514,175L514.5,174L515,173.4L515.5,173.5L516,174L516.5,175.3L517,186.1L517.5,195.2L518,203.4L518.5,210.2L519,212.2L519.5,212.2L520,212.2L520.5,212.2L521,212.2L521.5,212.2L522,212.2L522.5,212.2L523,212.2L523.5,212.2L524,212.2L524.5,212.2L525,212.2L525.5,212.2L526,212.2L526.5,212.2" stroke="#ffee4c" stroke-width="2.5"/>
<path d="M444.5,212.2L445,212.2L445.5,212.1L446,211.8L446.5,211.4L447,211L447.5,210.6L448,210.1L448.5,209.6L449,209L449.5,208.4L450,207.8L450.5,207.2L451,206.6L451.5,206L452,205.8L452.5,205.6L453,205.4L453.5,205.1L454,204.7L454.5,204.4L455,204L455.5,203.8L456,203.5L456.5,203.2L457,202.9L457.5,202.8L458,202.8L458.5,202.7L459,202.7L459.5,202.5L460,202.3L460.5,202.2L461,201.9L461.5,201.7L462,201.4L462.5,201.2L463,200.9L463.5,200.8L464,200.8L464.5,200.6L465,200.6L465.5,200.6L466,200.7L466.5,200.8L467,200.8L467.5,200.7L468,200.5L468.5,200.3L469,200.2L469.5,199.7L470,199.2L470.5,198.7L471,198.3L471.5,197.9L472,197.5L472.5,197.3L473,197.3L473.5,197.4L474,197.5L474.5,197.4L475,197.3L475.5,197.2L476,197L476.5,196.8L477,196.6L477.5,196.5L478,196.6L478.5,196.4L479,196.4L479.5,196.7L480,197L480.5,197L481,196.9L481.5,196.8L482,196.6L482.5,196.7L483,196.7L483.5,196.2L484,195.8L484.5,195.8L485,196L485.5,195.7L486,195.4L486.5,194.8L487,194.3L487.5,194.5L488,194.6L488.5,194.3L489,194L489.5,194L490,194L490.5,193.7L491,193.5L491.5,193.2L492,193L492.5,192.9L493,193L493.5,193L494,193.2L494.5,193.2L495,193.2L495.5,193.2L496,193L496.5,192.6L497,192.1L497.5,191.6L498,191.1L498.5,191L499,191.1L499.5,191L500,191L500.5,191.4L501,191.7L501.5,192L502,192.1L502.5,192.2L503,192.2L503.5,192L504,191.8L504.5,191L505,190.2L505.5,189.8L506,189.7L506.5,189.5L507,189.4L507.5,189.6L508,189.8L508.5,190.3L509,190.7L509.5,190.5L510,190.2L510.5,190L511,189.7L511.5,189.3L512,189L512.5,188.7L513,188.5L513.5,188.7L514,189L514.5,189L515,188.8L515.5,188.5L516,187.8L516.5,187.3L517,186.4L517.5,184.8L518,183L518.5,181.1L519,179.3L519.5,177.3L520,175.5L520.5,174.1L521,173L521.5,171.9L522,171.1L522.5,171.5L523,172L523.5,172L524,171.8L524.5,181.9L525,191.8L525.5,201.6L526,209.9L526.5,212.2L527,212.2L527.5,212.2L528,212.2L528.5,212.2L529,212.2L529.5,212.2L530,212.2L530.5,212.2L531,212.2L531.5,212.2L532,212.2L532.5,212.2L533,212.2L533.5,212.2L534,212.2" stroke="#ffee4c" stroke-width="2.5"/>
<path d="M444.5,212.2L445,212.2L445.5,212.1L446,211.9L446.5,211.7L447,211.4L447.5,211L448,210.7L448.5,210.3L449,210L449.5,209.6L450,209.2L450.5,208.9L451,208.4L451.5,208L452,207.4L452.5,207.1L453,206.8L453.5,206.4L454,206.1L454.5,205.8L455,205.5L455.5,205.4L456,205.4L456.5,205.3L457,205.2L457.5,205.2L458,205.2L458.5,205.1L459,204.9L459.5,204.6L460,204.3L460.5,203.9L461,203.6L461.5,203.4L462,203.2L462.5,203.1L463,203.1L463.5,203.1L464,203.2L464.5,203.2L465,203.1L465.5,203L466,202.8L466.5,202.6L467,202.3L467.5,202L468,201.7L468.5,201.5L469,201.4L469.5,201.2L470,201L470.5,200.8L471,200.7L471.5,200.4L472,200.1L472.5,199.9L473,199.7L473.5,199.5L474,199.3L474.5,199L475,198.8L475.5,198.7L476,198.7L476.5,198.7L477,198.9L477.5,199.1L478,199.3L478.5,199.3L479,199.3L479.5,199.3L480,199.3L480.5,198.9L481,198.5L481.5,198L482,197.6L482.5,197.6L483,197.8L483.5,197.5L484,197.4L484.5,197.7L485,198.1L485.5,197.9L486,197.7L486.5,197L487,196.2L487.5,196L488,195.7L488.5,195.2L489,194.7L489.5,194.8L490,195L490.5,195.1L491,195.3L491.5,195.4L492,195.6L492.5,195.7L493,195.8L493.5,195.6L494,195.4L494.5,195.1L495,194.6L495.5,194.2L496,193.9L496.5,193.4L497,193.1L497.5,192.9L498,192.8L498.5,193.1L499,193.4L499.5,193.4L500,193.3L500.5,193.4L501,193.3L501.5,193L502,192.6L502.5,192.4L503,192.1L503.5,192L504,192L504.5,191.6L505,191.3L505.5,191.5L506,191.7L506.5,191.7L507,191.7L507.5,191.7L508,191.6L508.5,191.6L509,191.6L509.5,191L510,190.5L510.5,190.4L511,190.4L511.5,190.4L512,190.6L512.5,190.7L513,190.8L513.5,191.1L514,191.3L514.5,191.1L515,190.7L515.5,190.3L516,189.7L516.5,189.5L517,189.4L517.5,188.9L518,188.6L518.5,188.5L519,188.6L519.5,188.5L520,188.5L520.5,188.4L521,188.3L521.5,187.8L522,187L522.5,186.5L523,185.6L523.5,184.3L524,182.8L524.5,181L525,179.3L525.5,178.7L526,178.4L526.5,177L527,175.8L527.5,175.4L528,175.1L528.5,175.1L529,175L529.5,174.3L530,173.7L530.5,173.2L531,172.9L531.5,174L532,184L532.5,194.2L533,203.5L533.5,211.2L534,212.2L534.5,212.2L535,212.2L535.5,212.2L536,212.2L536.5,212.2L537,212.2L537.5,212.2L538,212.2L538.5,212.2L539,212.2L539.5,212.2L540,212.2L540.5,212.2L541,212.2" stroke="#ffee4c" stroke-width="2.5"/>
<path d="M444.5,212.2L445,212.2L445.5,212.1L446,212L446.5,211.8L447,211.6L447.5,211.4L448,211.2L448.5,210.9L449,210.7L449.5,210.4L450,210.1L450.5,209.8L451,209.5L451.5,209.1L452,208.6L452.5,208.2L453,207.9L453.5,207.7L454,207.5L454.5,207.4L455,207.3L455.5,207.3L456,207.3L456.5,207.2L457,207.1L457.5,207L458,206.8L458.5,206.6L459,206.4L459.5,206.1L460,205.9L460.5,205.7L461,205.5L461.5,205.5L462,205.4L462.5,205.4L463,205.4L463.5,205.4L464,205.3L464.5,205L465,204.8L465.5,204.5L466,204.2L466.5,204L467,203.8L467.5,203.7L468,203.6L468.5,203.6L469,203.7L469.5,203.6L470,203.5L470.5,203.3L471,203.1L471.5,202.7L472,202.3L472.5,201.9L473,201.6L473.5,201.4L474,201.3L474.5,201.3L475,201.3L475.5,201.5L476,201.7L476.5,201.8L477,201.9L477.5,202L478,201.9L478.5,201.7L479,201.3L479.5,201.1L480,200.9L480.5,200.5L481,200.1L481.5,199.9L482,199.7L482.5,200L483,200.3L483.5,200.2L484,200.1L484.5,200.3L485,200.4L485.5,199.9L486,199.5L486.5,198.6L487,197.8L487.5,197.6L488,197.5L488.5,197.3L489,197.3L489.5,197.7L490,198.1L490.5,198.4L491,198.6L491.5,198.6L492,198.5L492.5,198.3L493,198L493.5,197.6L494,197.2L494.5,196.8L495,196.5L495.5,196.4L496,196.3L496.5,196.2L497,196.2L497.5,196.2L498,196.1L498.5,196.1L499,196L499.5,195.5L500,195L500.5,194.7L501,194.4L501.5,194.1L502,193.9L502.5,194L503,194.2L503.5,194.5L504,194.9L504.5,194.7L505,194.5L505.5,194.6L506,194.5L506.5,194.2L507,193.8L507.5,193.4L508,193.1L508.5,193.2L509,193.3L509.5,193.1L510,193.1L510.5,193.4L511,193.7L511.5,193.9L512,194L512.5,193.9L513,193.6L513.5,193.3L514,193L514.5,192.3L515,191.6L515.5,191.1L516,190.7L516.5,190.9L517,191.2L517.5,191.2L518,191.3L518.5,191.4L519,191.4L519.5,191.2L520,190.8L520.5,190.3L521,189.7L521.5,188.8L522,188.1L522.5,188L523,188.2L523.5,188.2L524,188.4L524.5,188.6L525,188.8L525.5,189.6L526,190.4L526.5,190.1L527,189.7L527.5,189.7L528,189.5L528.5,189.5L529,189.5L529.5,189L530,188.4L530.5,187.7L531,187L531.5,185.6L532,184.1L532.5,182.9L533,181.4L533.5,179.7L534,177.6L534.5,175.4L535,173.1L535.5,171.6L536,170.3L536.5,168.6L537,167.4L537.5,167.6L538,168.3L538.5,169.9L539,180.3L539.5,191.2L540,200.7L540.5,208.7L541,212.2L541.5,212.2L542,212.2L542.5,212.2L543,212.2L543.5,212.2L544,212.2L544.5,212.2L545,212.2L545.5,212.2L546,212.2L546.5,212.2L547,212.2L547.5,212.2L548,212.2L548.5,212.2" stroke="#ffee4c" stroke-width="2.5"/>
<path d="M444.5,212.2L445,212.2L445.5,212.2L446,212L446.5,211.9L447,211.7L447.5,211.6L448,211.4L448.5,211.2L449,211L449.5,210.8L450,210.5L450.5,210.3L451,210L451.5,209.7L452,209.5L452.5,209.2L453,209L453.5,208.8L454,208.7L454.5,208.6L455,208.6L455.5,208.5L456,208.4L456.5,208.2L457,208L457.5,207.9L458,207.8L458.5,207.7L459,207.6L459.5,207.5L460,207.4L460.5,207.3L461,207.2L461.5,207.1L462,207L462.5,206.8L463,206.6L463.5,206.5L464,206.3L464.5,206L465,205.8L465.5,205.7L466,205.6L466.5,205.5L467,205.5L467.5,205.5L468,205.5L468.5,205.5L469,205.5L469.5,205.3L470,205L470.5,204.8L471,204.5L471.5,204.1L472,203.8L472.5,203.6L473,203.5L473.5,203.6L474,203.7L474.5,203.8L475,203.8L475.5,203.9L476,203.9L476.5,203.8L477,203.6L477.5,203.4L478,203.3L478.5,202.9L479,202.7L479.5,202.6L480,202.5L480.5,202.4L481,202.3L481.5,202.2L482,202.1L482.5,202.2L483,202.3L483.5,202L484,201.7L484.5,201.6L485,201.6L485.5,201.2L486,200.8L486.5,200.3L487,199.8L487.5,200L488,200.2L488.5,200.2L489,200.2L489.5,200.5L490,200.7L490.5,200.7L491,200.5L491.5,200.3L492,200L492.5,199.8L493,199.5L493.5,199.3L494,199.2L494.5,199.2L495,199.1L495.5,199.1L496,199.1L496.5,198.9L497,198.6L497.5,198.2L498,197.7L498.5,197.4L499,197.1L499.5,196.6L500,196.2L500.5,196.2L501,196.2L501.5,196.4L502,196.5L502.5,196.8L503,197.1L503.5,197.3L504,197.4L504.5,196.9L505,196.5L505.5,196.2L506,195.9L506.5,195.6L507,195.4L507.5,195.4L508,195.5L508.5,195.8L509,196.3L509.5,196.3L510,196.3L510.5,196.4L511,196.3L511.5,196L512,195.7L512.5,195.1L513,194.6L513.5,194.2L514,194L514.5,193.6L515,193.3L515.5,193.3L516,193.2L516.5,193.6L517,193.9L517.5,193.8L518,193.5L518.5,193.2L519,192.9L519.5,192.3L520,191.7L520.5,191.2L521,190.9L521.5,190.5L522,190.3L522.5,190.8L523,191.3L523.5,191.7L524,191.9L524.5,191.9L525,191.7L525.5,192L526,192.2L526.5,191.5L527,190.8L527.5,190.7L528,190.6L528.5,190.9L529,191.4L529.5,191.6L530,191.9L530.5,192L531,192.1L531.5,191.6L532,191L532.5,190.4L533,189.7L533.5,188.9L534,188.1L534.5,187.4L535,186.9L535.5,186.8L536,186.6L536.5,185.8L537,184.9L537.5,184.4L538,183.6L538.5,183.1L539,182.5L539.5,181.2L540,179.8L540.5,178.1L541,176.5L541.5,175.4L542,174.6L542.5,174.1L543,174L543.5,173.9L544,174.3L544.5,175L545,179.4L545.5,188.9L546,197.6L546.5,205.7L547,212.2L547.5,212.2L548,212.2L548.5,212.2L549,212.2L549.5,212.2L550,212.2L550.5,212.2L551,212.2L551.5,212.2L552,212.2L552.5,212.2L553,212.2L553.5,212.2L554,212.2L554.5,212.2" stroke="#ffee4c" stroke-width="2.5"/>
<path d="M444.5,212.2L445,212.2L445.5,212.2L446,212.1L446.5,212L447,211.8L447.5,211.7L448,211.6L448.5,211.4L449,211.3L449.5,211.1L450,210.9L450.5,210.8L451,210.6L451.5,210.4L452,210.3L452.5,210.1L453,209.9L453.5,209.7L454,209.5L454.5,209.4L455,209.3L455.5,209.2L456,209.1L456.5,209.1L457,209L457.5,209L458,208.9L458.5,208.9L459,208.8L459.5,208.7L460,208.6L460.5,208.5L461,208.3L461.5,208.1L462,207.9L462.5,207.8L463,207.6L463.5,207.5L464,207.5L464.5,207.4L465,207.3L465.5,207.3L466,207.3L466.5,207.2L467,207.2L467.5,207.1L468,207L468.5,206.9L469,206.8L469.5,206.6L470,206.4L470.5,206.3L471,206.2L471.5,206.1L472,205.9L472.5,205.9L473,205.9L473.5,205.9L474,205.9L474.5,205.8L475,205.7L475.5,205.6L476,205.4L476.5,205.3L477,205.2L477.5,205.1L478,205L478.5,204.9L479,204.9L479.5,204.9L480,204.9L480.5,204.8L481,204.5L481.5,204.3L482,204L482.5,204L483,204L483.5,203.7L484,203.5L484.5,203.5L485,203.7L485.5,203.6L486,203.5L486.5,203.3L487,203L487.5,203.1L488,203.1L488.5,203L489,202.8L489.5,202.8L490,202.8L490.5,202.7L491,202.6L491.5,202.5L492,202.5L492.5,202.5L493,202.5L493.5,202.5L494,202.4L494.5,202.3L495,202.1L495.5,201.8L496,201.5L496.5,201L497,200.6L497.5,200.2L498,199.8L498.5,199.7L499,199.7L499.5,199.6L500,199.6L500.5,199.8L501,199.9L501.5,200L502,200L502.5,200L503,200L503.5,199.9L504,199.8L504.5,199.4L505,199.1L505.5,199.1L506,199.1L506.5,199.2L507,199.3L507.5,199.4L508,199.6L508.5,199.8L509,199.9L509.5,199.6L510,199.2L510.5,198.9L511,198.6L511.5,198.3L512,198L512.5,197.7L513,197.5L513.5,197.5L514,197.6L514.5,197.5L515,197.4L515.5,197.2L516,197L516.5,197L517,196.9L517.5,196.5L518,196.1L518.5,195.8L519,195.6L519.5,195.4L520,195.4L520.5,195.4L521,195.5L521.5,195.5L522,195.4L522.5,195.7L523,195.9L523.5,195.8L524,195.6L524.5,195.2L525,194.8L525.5,194.9L526,195.1L526.5,194.8L527,194.5L527.5,194.7L528,195L528.5,195.4L529,195.8L529.5,195.8L530,195.7L530.5,195.4L531,195.1L531.5,194.3L532,193.4L532.5,192.9L533,192.4L533.5,192.1L534,191.8L534.5,191.8L535,191.8L535.5,192.2L536,192.6L536.5,192.4L537,192.2L537.5,192.2L538,192.2L538.5,192.3L539,192.5L539.5,192.5L540,192.6L540.5,192.6L541,192.7L541.5,193.1L542,193.4L542.5,193.5L543,193.3L543.5,192.6L544,191.6L544.5,190.5L545,189L545.5,187L546,184.9L546.5,182.8L547,180.8L547.5,179.5L548,178.6L548.5,177.4L549,176.4L549.5,175.3L550,174.3L550.5,173.3L551,172.4L551.5,171.5L552,175L552.5,185.5L553,195.6L553.5,204.9L554,212.2L554.5,212.2L555,212.2L555.5,212.2L556,212.2L556.5,212.2L557,212.2L557.5,212.2L558,212.2L558.5,212.2L559,212.2L559.5,212.2L560,212.2L560.5,212.2L561,212.2L561.5,212.2" stroke="#4cff4c" stroke-width="2.5"/>
<path d="M444.5,212.2L445,212.2L445.5,212.2L446,212.1L446.5,212L447,211.8L447.5,211.7L448,211.6L448.5,211.5L449,211.3L449.5,211.2L450,211.1L450.5,210.9L451,210.8L451.5,210.6L452,210.4L452.5,210.2L453,210L453.5,209.8L454,209.6L454.5,209.5L455,209.4L455.5,209.4L456,209.4L456.5,209.3L457,209.3L457.5,209.3L458,209.2L458.5,209.1L459,209L459.5,208.8L460,208.6L460.5,208.4L461,208.2L461.5,208.1L462,208L462.5,207.9L463,207.9L463.5,207.9L464,207.9L464.5,207.8L465,207.7L465.5,207.6L466,207.5L466.5,207.4L467,207.2L467.5,207.1L468,207L468.5,207L469,207L469.5,207L470,207L470.5,206.9L471,206.9L471.5,206.8L472,206.6L472.5,206.5L473,206.3L473.5,206.2L474,206.1L474.5,205.9L475,205.7L475.5,205.7L476,205.7L476.5,205.6L477,205.7L477.5,205.7L478,205.7L478.5,205.6L479,205.5L479.5,205.3L480,205.2L480.5,204.9L481,204.6L481.5,204.3L482,204.1L482.5,204.2L483,204.3L483.5,204.2L484,204.2L484.5,204.5L485,204.7L485.5,204.6L486,204.5L486.5,204.1L487,203.7L487.5,203.6L488,203.5L488.5,203.3L489,203.1L489.5,203.2L490,203.4L490.5,203.5L491,203.6L491.5,203.6L492,203.7L492.5,203.6L493,203.5L493.5,203.2L494,202.9L494.5,202.6L495,202.2L495.5,201.9L496,201.6L496.5,201.3L497,201.1L497.5,201L498,200.9L498.5,201L499,201.1L499.5,201L500,200.9L500.5,200.9L501,200.8L501.5,200.7L502,200.5L502.5,200.5L503,200.5L503.5,200.6L504,200.8L504.5,200.7L505,200.7L505.5,200.8L506,201L506.5,201L507,200.9L507.5,200.8L508,200.6L508.5,200.5L509,200.3L509.5,199.9L510,199.6L510.5,199.4L511,199.4L511.5,199.4L512,199.4L512.5,199.3L513,199.2L513.5,199.2L514,199.1L514.5,198.7L515,198.3L515.5,197.9L516,197.5L516.5,197.4L517,197.4L517.5,197.3L518,197.3L518.5,197.4L519,197.6L519.5,197.7L520,197.8L520.5,197.8L521,197.7L521.5,197.4L522,197L522.5,196.9L523,196.9L523.5,196.7L524,196.5L524.5,196.3L525,196.2L525.5,196.7L526,197.1L526.5,197L527,196.8L527.5,196.9L528,196.9L528.5,196.9L529,196.9L529.5,196.5L530,196.2L530.5,195.9L531,195.6L531.5,195.1L532,194.7L532.5,194.6L533,194.6L533.5,194.6L534,194.6L534.5,194.5L535,194.3L535.5,194.4L536,194.3L536.5,193.9L537,193.5L537.5,193.4L538,193.5L538.5,193.9L539,194.5L539.5,194.8L540,195.3L540.5,195.5L541,195.7L541.5,195.9L542,195.9L542.5,195.7L543,195.4L543.5,194.9L544,194.3L544.5,193.9L545,193.6L545.5,193.2L546,192.9L546.5,192.7L547,192.6L547.5,192.9L548,193.1L548.5,192.7L549,191.9L549.5,190.7L550,189.1L550.5,187.2L551,185.1L551.5,183.1L552,181.1L552.5,179.6L553,178.5L553.5,177.6L554,177L554.5,176.7L555,176.4L555.5,175.9L556,175.4L556.5,174.8L557,174.4L557.5,174.5L558,178L558.5,188.2L559,197.6L559.5,205.6L560,212L560.5,212.2L561,212.2L561.5,212.2L562,212.2L562.5,212.2L563,212.2L563.5,212.2L564,212.2L564.5,212.2L565,212.2L565.5,212.2L566,212.2L566.5,212.2L567,212.2L567.5,212.2" stroke="#4cff4c" stroke-width="2.5"/>
<path d="M444.5,212.2L445,212.2L445.5,212.2L446,212.1L446.5,212L447,211.9L447.5,211.8L448,211.7L448.5,211.6L449,211.4L449.5,211.3L450,211.2L450.5,211L451,210.9L451.5,210.7L452,210.5L452.5,210.3L453,210.2L453.5,210L454,209.9L454.5,209.7L455,209.7L455.5,209.6L456,209.6L456.5,209.5L457,209.4L457.5,209.3L458,209.2L458.5,209L459,208.9L459.5,208.7L460,208.6L460.5,208.5L461,208.4L461.5,208.3L462,208.3L462.5,208.2L463,208.2L463.5,208.1L464,208L464.5,207.9L465,207.7L465.5,207.6L466,207.5L466.5,207.4L467,207.4L467.5,207.4L468,207.4L468.5,207.5L469,207.6L469.5,207.6L470,207.5L470.5,207.4L471,207.3L471.5,207L472,206.7L472.5,206.5L473,206.3L473.5,206.3L474,206.2L474.5,206.2L475,206.2L475.5,206.2L476,206.2L476.5,206.2L477,206.2L477.5,206.1L478,206L478.5,205.7L479,205.5L479.5,205.3L480,205.2L480.5,205L481,204.8L481.5,204.8L482,204.7L482.5,205L483,205.2L483.5,205.2L484,205.1L484.5,205.2L485,205.3L485.5,205.1L486,204.8L486.5,204.4L487,204L487.5,204L488,204L488.5,204L489,204L489.5,204.2L490,204.4L490.5,204.5L491,204.5L491.5,204.4L492,204.2L492.5,203.9L493,203.6L493.5,203.3L494,203L494.5,202.7L495,202.5L495.5,202.4L496,202.4L496.5,202.3L497,202.2L497.5,202.2L498,202L498.5,202L499,201.9L499.5,201.6L500,201.4L500.5,201.3L501,201.2L501.5,201.2L502,201.3L502.5,201.5L503,201.8L503.5,202.1L504,202.3L504.5,202.2L505,202.1L505.5,202L506,201.9L506.5,201.6L507,201.3L507.5,201.1L508,200.8L508.5,200.8L509,200.9L509.5,200.8L510,200.7L510.5,200.7L511,200.8L511.5,200.7L512,200.6L512.5,200.3L513,200L513.5,199.7L514,199.4L514.5,199L515,198.7L515.5,198.5L516,198.4L516.5,198.7L517,199L517.5,199.2L518,199.3L518.5,199.4L519,199.5L519.5,199.4L520,199.1L520.5,198.8L521,198.5L521.5,198.1L522,197.7L522.5,197.8L523,198L523.5,198.1L524,198.3L524.5,198.3L525,198.3L525.5,198.6L526,198.8L526.5,198.4L527,197.9L527.5,197.6L528,197.3L528.5,197.2L529,197.2L529.5,197.1L530,197.1L530.5,197.1L531,197.3L531.5,197.1L532,196.9L532.5,196.8L533,196.7L533.5,196.5L534,196.1L534.5,195.8L535,195.4L535.5,195.3L536,195.4L536.5,195.2L537,195.1L537.5,195.5L538,195.9L538.5,196.5L539,197.1L539.5,197.4L540,197.5L540.5,197.4L541,197.1L541.5,196.9L542,196.7L542.5,196.3L543,196L543.5,195.7L544,195.5L544.5,195.5L545,195.5L545.5,195.4L546,195.3L546.5,195.1L547,194.8L547.5,194.7L548,194.6L548.5,194L549,193.4L549.5,192.8L550,192.2L550.5,191.7L551,191.4L551.5,191.4L552,191.4L552.5,191.8L553,192.1L553.5,192.3L554,192.4L554.5,192.2L555,191.7L555.5,190.7L556,189.4L556.5,188.1L557,186.7L557.5,185.7L558,185L558.5,184.6L559,184.4L559.5,183.7L560,183L560.5,182.4L561,181.8L561.5,180.7L562,179.5L562.5,178.3L563,177.3L563.5,177.3L564,180.1L564.5,188.9L565,197.4L565.5,205.4L566,211.8L566.5,212.2L567,212.2L567.5,212.2L568,212.2L568.5,212.2L569,212.2L569.5,212.2L570,212.2L570.5,212.2L571,212.2L571.5,212.2L572,212.2L572.5,212.2L573,212.2L573.5,212.2" stroke="#4cff4c" stroke-width="2.5"/>
<path d="M444.5,212.2L445,212.2L445.5,212.2L446,212.1L446.5,212L447,211.9L447.5,211.8L448,211.7L448.5,211.6L449,211.5L449.5,211.4L450,211.2L450.5,211.1L451,210.9L451.5,210.8L452,210.7L452.5,210.6L453,210.4L453.5,210.3L454,210.1L454.5,210L455,209.8L455.5,209.7L456,209.6L456.5,209.5L457,209.3L457.5,209.2L458,209.2L458.5,209.1L459,209L459.5,208.9L460,208.8L460.5,208.8L461,208.7L461.5,208.6L462,208.4L462.5,208.3L463,208.2L463.5,208.1L464,208L464.5,207.9L465,207.9L465.5,207.8L466,207.8L466.5,207.9L467,207.9L467.5,207.9L468,207.9L468.5,207.9L469,207.9L469.5,207.8L470,207.6L470.5,207.4L471,207.3L471.5,207.1L472,206.9L472.5,206.8L473,206.7L473.5,206.7L474,206.7L474.5,206.7L475,206.7L475.5,206.6L476,206.5L476.5,206.4L477,206.2L477.5,206.1L478,205.9L478.5,205.7L479,205.6L479.5,205.6L480,205.7L480.5,205.6L481,205.6L481.5,205.6L482,205.5L482.5,205.7L483,205.7L483.5,205.6L484,205.4L484.5,205.4L485,205.5L485.5,205.3L486,205.2L486.5,204.9L487,204.7L487.5,204.8L488,204.9L488.5,204.9L489,204.8L489.5,204.9L490,204.9L490.5,204.8L491,204.6L491.5,204.4L492,204.1L492.5,203.9L493,203.8L493.5,203.7L494,203.6L494.5,203.5L495,203.5L495.5,203.4L496,203.3L496.5,203.2L497,202.9L497.5,202.7L498,202.4L498.5,202.3L499,202.2L499.5,202.1L500,202L500.5,202.1L501,202.4L501.5,202.6L502,202.7L502.5,202.9L503,203.1L503.5,203.2L504,203.2L504.5,202.9L505,202.5L505.5,202.3L506,202.1L506.5,201.9L507,201.8L507.5,201.7L508,201.8L508.5,201.9L509,202.1L509.5,202L510,201.8L510.5,201.7L511,201.5L511.5,201.2L512,200.9L512.5,200.5L513,200.2L513.5,200.1L514,200.1L514.5,200L515,200L515.5,200.1L516,200.2L516.5,200.5L517,200.7L517.5,200.7L518,200.5L518.5,200.4L519,200.2L519.5,200L520,199.7L520.5,199.6L521,199.5L521.5,199.3L522,199.3L522.5,199.6L523,199.8L523.5,199.9L524,199.8L524.5,199.6L525,199.3L525.5,199.2L526,199.2L526.5,198.6L527,198.1L527.5,198L528,198L528.5,198.3L529,198.6L529.5,198.7L530,198.9L530.5,199L531,199L531.5,198.7L532,198.2L532.5,197.9L533,197.6L533.5,197.2L534,197L534.5,196.8L535,196.7L535.5,197L536,197.4L536.5,197.5L537,197.6L537.5,197.9L538,198.1L538.5,198.3L539,198.5L539.5,198.4L540,198.2L540.5,197.9L541,197.6L541.5,197.5L542,197.5L542.5,197.5L543,197.6L543.5,197.5L544,197.5L544.5,197.5L545,197.4L545.5,197L546,196.6L546.5,196.1L547,195.6L547.5,195.4L548,195.3L548.5,195L549,194.9L549.5,194.7L550,194.6L550.5,194.6L551,194.5L551.5,194.5L552,194.4L552.5,194.4L553,194.2L553.5,194L554,193.7L554.5,193.5L555,193.3L555.5,193.1L556,193L556.5,193.1L557,193.2L557.5,193.6L558,194L558.5,194.5L559,194.8L559.5,194.6L560,194.4L560.5,194L561,193.4L561.5,192.3L562,191.2L562.5,190L563,188.9L563.5,188.3L564,187.8L564.5,186.7L565,185.6L565.5,184.7L566,183.7L566.5,182.8L567,181.8L567.5,180.4L568,179.2L568.5,178.8L569,178.9L569.5,179L570,181.3L570.5,189.8L571,197.9L571.5,205.5L572,211.5L572.5,212.2L573,212.2L573.5,212.2L574,212.2L574.5,212.2L575,212.2L575.5,212.2L576,212.2L576.5,212.2L577,212.2L577.5,212.2L578,212.2L578.5,212.2L579,212.2L579.5,212.2" stroke="#4cff4c" stroke-width="2.5"/>
<path d="M444.5,212.2L445,212.2L445.5,212.2L446,212.1L446.5,212L447,211.9L447.5,211.8L448,211.7L448.5,211.6L449,211.5L449.5,211.4L450,211.3L450.5,211.2L451,211.1L451.5,211L452,210.9L452.5,210.7L453,210.6L453.5,210.4L454,210.2L454.5,210L455,209.8L455.5,209.7L456,209.6L456.5,209.5L457,209.4L457.5,209.4L458,209.4L458.5,209.3L459,209.2L459.5,209.1L460,209L460.5,208.8L461,208.7L461.5,208.5L462,208.4L462.5,208.3L463,208.3L463.5,208.3L464,208.3L464.5,208.3L465,208.3L465.5,208.3L466,208.3L466.5,208.3L467,208.2L467.5,208.2L468,208.1L468.5,208L469,207.9L469.5,207.8L470,207.7L470.5,207.6L471,207.5L471.5,207.4L472,207.3L472.5,207.2L473,207.1L473.5,207.1L474,207L474.5,206.8L475,206.7L475.5,206.5L476,206.4L476.5,206.3L477,206.3L477.5,206.3L478,206.3L478.5,206.3L479,206.3L479.5,206.3L480,206.4L480.5,206.3L481,206.1L481.5,206L482,205.8L482.5,205.8L483,205.9L483.5,205.8L484,205.7L484.5,205.8L485,206L485.5,206L486,206L486.5,205.8L487,205.5L487.5,205.5L488,205.4L488.5,205.2L489,205L489.5,204.9L490,204.9L490.5,204.8L491,204.7L491.5,204.6L492,204.6L492.5,204.6L493,204.6L493.5,204.5L494,204.4L494.5,204.3L495,204.1L495.5,203.9L496,203.6L496.5,203.4L497,203.1L497.5,203L498,202.9L498.5,203L499,203.1L499.5,203.2L500,203.3L500.5,203.5L501,203.6L501.5,203.6L502,203.6L502.5,203.6L503,203.5L503.5,203.4L504,203.3L504.5,203.1L505,202.9L505.5,202.9L506,202.9L506.5,202.9L507,202.8L507.5,202.8L508,202.8L508.5,202.8L509,202.7L509.5,202.4L510,202.1L510.5,201.8L511,201.6L511.5,201.5L512,201.4L512.5,201.3L513,201.3L513.5,201.4L514,201.6L514.5,201.6L515,201.6L515.5,201.5L516,201.3L516.5,201.4L517,201.4L517.5,201.2L518,201L518.5,201L519,201L519.5,201L520,201L520.5,201L521,201L521.5,200.9L522,200.8L522.5,200.8L523,200.7L523.5,200.5L524,200.2L524.5,199.8L525,199.4L525.5,199.5L526,199.7L526.5,199.4L527,199.3L527.5,199.5L528,199.7L528.5,199.9L529,200.2L529.5,200.1L530,200.1L530.5,199.9L531,199.7L531.5,199.3L532,198.9L532.5,198.7L533,198.7L533.5,198.7L534,198.7L534.5,198.8L535,198.9L535.5,199.2L536,199.4L536.5,199.3L537,199L537.5,198.9L538,198.8L538.5,198.8L539,198.9L539.5,198.9L540,198.9L540.5,198.9L541,198.9L541.5,199.1L542,199.2L542.5,199.3L543,199.2L543.5,198.9L544,198.6L544.5,198.3L545,198L545.5,197.5L546,197.1L546.5,196.9L547,196.7L547.5,196.9L548,197.2L548.5,197.3L549,197.3L549.5,197.3L550,197.1L550.5,196.8L551,196.4L551.5,196L552,195.6L552.5,195.4L553,195.2L553.5,195.1L554,195.1L554.5,195.2L555,195.4L555.5,195.5L556,195.6L556.5,195.6L557,195.5L557.5,195.5L558,195.4L558.5,195.5L559,195.4L559.5,195.1L560,194.9L560.5,194.8L561,194.9L561.5,194.8L562,194.9L562.5,195L563,195L563.5,195.4L564,195.8L564.5,195.5L565,195.2L565.5,194.9L566,194.5L566.5,194.2L567,193.8L567.5,193L568,192.2L568.5,191.8L569,191.4L569.5,190.9L570,190.2L570.5,188.9L571,187.4L571.5,186.4L572,185.2L572.5,184.2L573,183.2L573.5,182.2L574,181.4L574.5,181.5L575,182L575.5,181.9L576,183.5L576.5,191.4L577,198.8L577.5,205.7L578,211.3L578.5,212.2L579,212.2L579.5,212.2L580,212.2L580.5,212.2L581,212.2L581.5,212.2L582,212.2L582.5,212.2L583,212.2L583.5,212.2L584,212.2L584.5,212.2L585,212.2L585.5,212.2" stroke="#4cff4c" stroke-width="2.5"/>
<path d="M444.5,212.2L445,212.2L445.5,212.2L446,212.1L446.5,212L447,211.9L447.5,211.9L448,211.8L448.5,211.7L449,211.6L449.5,211.5L450,211.4L450.5,211.3L451,211.2L451.5,211.1L452,210.9L452.5,210.8L453,210.6L453.5,210.4L454,210.2L454.5,210.1L455,210L455.5,209.8L456,209.8L456.5,209.7L457,209.6L457.5,209.6L458,209.5L458.5,209.4L459,209.2L459.5,209.1L460,208.9L460.5,208.8L461,208.7L461.5,208.6L462,208.6L462.5,208.6L463,208.6L463.5,208.7L464,208.7L464.5,208.7L465,208.6L465.5,208.5L466,208.4L466.5,208.3L467,208.2L467.5,208.2L468,208.1L468.5,208.1L469,208.2L469.5,208.1L470,208.1L470.5,208L471,207.9L471.5,207.8L472,207.6L472.5,207.4L473,207.2L473.5,207L474,206.9L474.5,206.8L475,206.7L475.5,206.7L476,206.7L476.5,206.8L477,206.8L477.5,206.9L478,206.9L478.5,206.8L479,206.7L479.5,206.7L480,206.6L480.5,206.4L481,206.2L481.5,206.1L482,206L482.5,206.2L483,206.4L483.5,206.4L484,206.4L484.5,206.6L485,206.7L485.5,206.6L486,206.4L486.5,206L487,205.6L487.5,205.5L488,205.4L488.5,205.2L489,205L489.5,205.1L490,205.3L490.5,205.3L491,205.4L491.5,205.4L492,205.3L492.5,205.2L493,205.1L493.5,204.9L494,204.7L494.5,204.4L495,204.2L495.5,204.1L496,204L496.5,203.9L497,203.9L497.5,204L498,204L498.5,204.2L499,204.3L499.5,204.2L500,204.1L500.5,204.1L501,204L501.5,203.9L502,203.8L502.5,203.7L503,203.8L503.5,203.8L504,204L504.5,203.9L505,203.8L505.5,203.8L506,203.8L506.5,203.7L507,203.5L507.5,203.3L508,203L508.5,202.9L509,202.8L509.5,202.6L510,202.4L510.5,202.4L511,202.5L511.5,202.6L512,202.7L512.5,202.7L513,202.7L513.5,202.7L514,202.6L514.5,202.4L515,202.2L515.5,202L516,201.8L516.5,201.9L517,202L517.5,202L518,202.1L518.5,202.2L519,202.4L519.5,202.4L520,202.3L520.5,202.2L521,201.9L521.5,201.6L522,201.1L522.5,201L523,200.9L523.5,200.7L524,200.6L524.5,200.4L525,200.4L525.5,200.7L526,201L526.5,200.9L527,200.8L527.5,200.8L528,200.8L528.5,200.8L529,200.8L529.5,200.7L530,200.6L530.5,200.5L531,200.6L531.5,200.4L532,200.3L532.5,200.4L533,200.6L533.5,200.6L534,200.6L534.5,200.5L535,200.3L535.5,200.2L536,200.1L536.5,199.8L537,199.4L537.5,199.4L538,199.4L538.5,199.7L539,200L539.5,200.2L540,200.4L540.5,200.4L541,200.4L541.5,200.4L542,200.3L542.5,200L543,199.7L543.5,199.3L544,199L544.5,198.9L545,198.8L545.5,198.7L546,198.7L546.5,198.8L547,198.8L547.5,199.1L548,199.3L548.5,199.2L549,199L549.5,198.6L550,198.1L550.5,197.7L551,197.2L551.5,197L552,196.8L552.5,196.9L553,197L553.5,197.2L554,197.4L554.5,197.5L555,197.5L555.5,197.3L556,196.9L556.5,196.5L557,196.1L557.5,195.9L558,195.9L558.5,196L559,196.3L559.5,196.3L560,196.5L560.5,196.8L561,197.1L561.5,197.1L562,197.1L562.5,197L563,196.8L563.5,196.9L564,196.9L564.5,196.5L565,196.2L565.5,196L566,196L566.5,196.2L567,196.4L567.5,196.5L568,196.5L568.5,196.8L569,197L569.5,197L570,196.8L570.5,196.1L571,195.4L571.5,195.1L572,194.8L572.5,194.7L573,194.5L573.5,194.1L574,193.6L574.5,193.5L575,193.2L575.5,192.4L576,191.3L576.5,190L577,188.5L577.5,187.1L578,185.6L578.5,184.4L579,183.3L579.5,182.6L580,182.3L580.5,182.5L581,183.1L581.5,183.6L582,185L582.5,192.7L583,199.7L583.5,206L584,211.2L584.5,212.2L585,212.2L585.5,212.2L586,212.2L586.5,212.2L587,212.2L587.5,212.2L588,212.2L588.5,212.2L589,212.2L589.5,212.2L590,212.2L590.5,212.2L591,212.2L591.5,212.2" stroke="#4cff4c" stroke-width="2.5"/>
<path d="M444.5,212.2L445,212.2L445.5,212.2L446,212.1L446.5,212L447,212L447.5,211.9L448,211.8L448.5,211.7L449,211.7L449.5,211.6L450,211.4L450.5,211.3L451,211.2L451.5,211.1L452,210.9L452.5,210.8L453,210.7L453.5,210.5L454,210.4L454.5,210.3L455,210.2L455.5,210.1L456,209.9L456.5,209.8L457,209.6L457.5,209.5L458,209.4L458.5,209.3L459,209.3L459.5,209.2L460,209.1L460.5,209L461,209L461.5,209L462,209L462.5,209L463,208.9L463.5,208.9L464,208.8L464.5,208.7L465,208.6L465.5,208.5L466,208.5L466.5,208.4L467,208.4L467.5,208.4L468,208.4L468.5,208.5L469,208.5L469.5,208.4L470,208.3L470.5,208.1L471,208L471.5,207.7L472,207.5L472.5,207.3L473,207.1L473.5,207.1L474,207.1L474.5,207.1L475,207.2L475.5,207.2L476,207.3L476.5,207.3L477,207.2L477.5,207.2L478,207.1L478.5,207L479,206.8L479.5,206.8L480,206.8L480.5,206.7L481,206.7L481.5,206.7L482,206.7L482.5,206.9L483,207L483.5,207L484,206.8L484.5,206.9L485,206.8L485.5,206.6L486,206.4L486.5,206L487,205.7L487.5,205.7L488,205.7L488.5,205.7L489,205.6L489.5,205.8L490,205.9L490.5,205.9L491,205.9L491.5,205.7L492,205.6L492.5,205.4L493,205.2L493.5,205.1L494,204.9L494.5,204.9L495,204.9L495.5,204.9L496,205L496.5,205L497,205L497.5,204.9L498,204.8L498.5,204.8L499,204.7L499.5,204.5L500,204.3L500.5,204.3L501,204.3L501.5,204.3L502,204.3L502.5,204.5L503,204.6L503.5,204.7L504,204.8L504.5,204.6L505,204.4L505.5,204.2L506,204L506.5,203.8L507,203.5L507.5,203.4L508,203.3L508.5,203.4L509,203.5L509.5,203.5L510,203.5L510.5,203.6L511,203.7L511.5,203.7L512,203.6L512.5,203.5L513,203.3L513.5,203.1L514,203L514.5,202.9L515,202.7L515.5,202.7L516,202.7L516.5,203L517,203.3L517.5,203.3L518,203.3L518.5,203.3L519,203.2L519.5,203L520,202.7L520.5,202.3L521,202L521.5,201.7L522,201.4L522.5,201.5L523,201.6L523.5,201.7L524,201.8L524.5,201.8L525,201.7L525.5,201.9L526,202L526.5,201.7L527,201.4L527.5,201.3L528,201.2L528.5,201.3L529,201.5L529.5,201.6L530,201.8L530.5,202L531,202.2L531.5,202.1L532,202L532.5,201.9L533,201.8L533.5,201.6L534,201.3L534.5,200.9L535,200.6L535.5,200.6L536,200.6L536.5,200.5L537,200.4L537.5,200.6L538,200.8L538.5,201.1L539,201.4L539.5,201.4L540,201.4L540.5,201.1L541,200.9L541.5,200.7L542,200.6L542.5,200.4L543,200.4L543.5,200.3L544,200.3L544.5,200.4L545,200.6L545.5,200.6L546,200.6L546.5,200.5L547,200.3L547.5,200.3L548,200.3L548.5,200L549,199.7L549.5,199.4L550,199.1L550.5,198.9L551,198.8L551.5,198.8L552,198.8L552.5,198.9L553,198.9L553.5,198.9L554,198.7L554.5,198.4L555,198.1L555.5,197.7L556,197.3L556.5,197L557,196.8L557.5,197L558,197.3L558.5,197.8L559,198.2L559.5,198.4L560,198.5L560.5,198.6L561,198.7L561.5,198.4L562,198.2L562.5,197.9L563,197.7L563.5,197.8L564,198.1L564.5,198L565,198.1L565.5,198.2L566,198.4L566.5,198.6L567,198.7L567.5,198.5L568,198.2L568.5,198.1L569,198L569.5,197.6L570,197.4L570.5,196.8L571,196.3L571.5,196.3L572,196.4L572.5,196.7L573,196.9L573.5,197.1L574,197.1L574.5,197.3L575,197.4L575.5,197.1L576,196.7L576.5,196.2L577,195.8L577.5,195.7L578,195.6L578.5,195.6L579,195.5L579.5,195.4L580,195.2L580.5,194.9L581,194.5L581.5,193.8L582,192.8L582.5,191.7L583,190.5L583.5,189.7L584,188.9L584.5,187.8L585,187L585.5,186.9L586,187L586.5,186.7L587,186.6L587.5,186.5L588,186.7L588.5,193.5L589,199.8L589.5,205.7L590,210.9L590.5,212.2L591,212.2L591.5,212.2L592,212.2L592.5,212.2L593,212.2L593.5,212.2L594,212.2L594.5,212.2L595,212.2L595.5,212.2L596,212.2L596.5,212.2L597,212.2L597.5,212.2" stroke="#4cff4c" stroke-width="2.5"/>
<path d="M444.5,212.2L445,212.2L445.5,212.2L446,212.1L446.5,212.1L447,212L447.5,211.9L448,211.8L448.5,211.8L449,211.7L449.5,211.6L450,211.5L450.5,211.3L451,211.2L451.5,211.1L452,211L452.5,210.9L453,210.8L453.5,210.7L454,210.5L454.5,210.4L455,210.2L455.5,210.1L456,210L456.5,209.8L457,209.6L457.5,209.6L458,209.6L458.5,209.5L459,209.5L459.5,209.5L460,209.4L460.5,209.4L461,209.3L461.5,209.2L462,209.1L462.5,209L463,209L463.5,208.9L464,208.9L464.5,208.8L465,208.8L465.5,208.7L466,208.7L466.5,208.8L467,208.8L467.5,208.7L468,208.7L468.5,208.6L469,208.5L469.5,208.4L470,208.2L470.5,208.1L471,207.9L471.5,207.8L472,207.6L472.5,207.6L473,207.5L473.5,207.6L474,207.6L474.5,207.6L475,207.6L475.5,207.5L476,207.5L476.5,207.4L477,207.3L477.5,207.3L478,207.3L478.5,207.2L479,207.2L479.5,207.3L480,207.4L480.5,207.3L481,207.3L481.5,207.3L482,207.2L482.5,207.2L483,207.2L483.5,207L484,206.8L484.5,206.8L485,206.9L485.5,206.7L486,206.6L486.5,206.4L487,206.2L487.5,206.3L488,206.3L488.5,206.2L489,206.1L489.5,206.1L490,206.1L490.5,206L491,206L491.5,205.8L492,205.8L492.5,205.7L493,205.7L493.5,205.7L494,205.8L494.5,205.8L495,205.8L495.5,205.8L496,205.7L496.5,205.6L497,205.4L497.5,205.2L498,205L498.5,205L499,204.9L499.5,204.8L500,204.8L500.5,204.9L501,205L501.5,205.1L502,205.1L502.5,205.2L503,205.2L503.5,205.1L504,205L504.5,204.7L505,204.4L505.5,204.3L506,204.2L506.5,204.1L507,204.1L507.5,204.2L508,204.2L508.5,204.4L509,204.6L509.5,204.5L510,204.4L510.5,204.4L511,204.3L511.5,204.1L512,204L512.5,203.8L513,203.7L513.5,203.8L514,203.8L514.5,203.9L515,203.9L515.5,203.9L516,203.9L516.5,204L517,204.1L517.5,203.9L518,203.7L518.5,203.5L519,203.3L519.5,203.1L520,202.9L520.5,202.8L521,202.7L521.5,202.6L522,202.5L522.5,202.7L523,202.8L523.5,202.8L524,202.8L524.5,202.6L525,202.3L525.5,202.4L526,202.4L526.5,202.2L527,202L527.5,202.1L528,202.3L528.5,202.6L529,202.9L529.5,203.1L530,203.3L530.5,203.3L531,203.3L531.5,203L532,202.7L532.5,202.4L533,202.1L533.5,201.9L534,201.7L534.5,201.6L535,201.5L535.5,201.7L536,201.9L536.5,201.9L537,201.8L537.5,201.8L538,201.8L538.5,201.8L539,201.9L539.5,201.7L540,201.6L540.5,201.5L541,201.4L541.5,201.5L542,201.6L542.5,201.7L543,201.9L543.5,201.9L544,202L544.5,202L545,202L545.5,201.8L546,201.5L546.5,201.2L547,201L547.5,201L548,201L548.5,201L549,200.9L549.5,200.9L550,200.8L550.5,200.7L551,200.5L551.5,200.3L552,200.1L552.5,199.8L553,199.6L553.5,199.3L554,199L554.5,198.8L555,198.7L555.5,198.5L556,198.5L556.5,198.6L557,198.6L557.5,198.9L558,199.2L558.5,199.5L559,199.7L559.5,199.6L560,199.5L560.5,199.4L561,199.4L561.5,199.3L562,199.2L562.5,199.2L563,199.3L563.5,199.7L564,200.1L564.5,200.2L565,200.2L565.5,200.1L566,200L566.5,199.8L567,199.6L567.5,199.2L568,198.8L568.5,198.7L569,198.7L569.5,198.6L570,198.7L570.5,198.4L571,198.2L571.5,198.3L572,198.3L572.5,198.4L573,198.4L573.5,198.2L574,197.9L574.5,198L575,198.1L575.5,197.8L576,197.7L576.5,197.6L577,197.6L577.5,197.8L578,198L578.5,198.2L579,198.4L579.5,198.4L580,198.4L580.5,198.4L581,198.2L581.5,198L582,197.8L582.5,197.7L583,197.6L583.5,197.8L584,198.1L584.5,198.1L585,197.9L585.5,197.8L586,197.5L586.5,196.7L587,195.6L587.5,194.4L588,192.9L588.5,191.6L589,190.4L589.5,189.1L590,188L590.5,187.5L591,187.3L591.5,187.7L592,188.1L592.5,188.1L593,188L593.5,188.3L594,188.4L594.5,194.5L595,200.3L595.5,205.8L596,210.8L596.5,212.2L597,212.2L597.5,212.2L598,212.2L598.5,212.2L599,212.2L599.5,212.2L600,212.2L600.5,212.2L601,212.2L601.5,212.2L602,212.2L602.5,212.2L603,212.2L603.5,212.2L604,212.2" stroke="#4cff4c" stroke-width="2.5"/>
<path d="M444.5,212.2L445,212.2L445.5,212.2L446,212.1L446.5,212L447,212L447.5,211.9L448,211.8L448.5,211.7L449,211.6L449.5,211.5L450,211.4L450.5,211.3L451,211.2L451.5,211.1L452,211L452.5,210.8L453,210.7L453.5,210.5L454,210.4L454.5,210.2L455,210.1L455.5,210L456,209.9L456.5,209.8L457,209.7L457.5,209.7L458,209.7L458.5,209.7L459,209.6L459.5,209.6L460,209.4L460.5,209.4L461,209.3L461.5,209.2L462,209.1L462.5,209.1L463,209.1L463.5,209.1L464,209.1L464.5,209.1L465,209.1L465.5,209.1L466,209L466.5,209L467,208.9L467.5,208.8L468,208.7L468.5,208.7L469,208.7L469.5,208.6L470,208.5L470.5,208.5L471,208.5L471.5,208.4L472,208.3L472.5,208.3L473,208.2L473.5,208.2L474,208.2L474.5,208.1L475,208L475.5,208L476,208L476.5,208L477,208.1L477.5,208.1L478,208.2L478.5,208.2L479,208.2L479.5,208.3L480,208.3L480.5,208.2L481,208L481.5,207.9L482,207.8L482.5,207.8L483,207.8L483.5,207.7L484,207.7L484.5,207.8L485,207.9L485.5,207.9L486,207.8L486.5,207.6L487,207.4L487.5,207.4L488,207.3L488.5,207.2L489,207.1L489.5,207.1L490,207.2L490.5,207.2L491,207.3L491.5,207.3L492,207.4L492.5,207.4L493,207.5L493.5,207.5L494,207.4L494.5,207.3L495,207.2L495.5,207.1L496,207L496.5,206.9L497,206.7L497.5,206.7L498,206.6L498.5,206.7L499,206.8L499.5,206.8L500,206.8L500.5,206.8L501,206.8L501.5,206.8L502,206.7L502.5,206.6L503,206.5L503.5,206.5L504,206.5L504.5,206.4L505,206.3L505.5,206.4L506,206.5L506.5,206.5L507,206.5L507.5,206.5L508,206.5L508.5,206.6L509,206.6L509.5,206.4L510,206.3L510.5,206.2L511,206.2L511.5,206.2L512,206.3L512.5,206.3L513,206.3L513.5,206.4L514,206.5L514.5,206.4L515,206.3L515.5,206.2L516,206.1L516.5,206L517,206L517.5,205.8L518,205.7L518.5,205.7L519,205.7L519.5,205.7L520,205.7L520.5,205.7L521,205.7L521.5,205.6L522,205.4L522.5,205.4L523,205.4L523.5,205.3L524,205.2L524.5,205.1L525,205L525.5,205.2L526,205.4L526.5,205.4L527,205.4L527.5,205.5L528,205.7L528.5,205.8L529,205.9L529.5,205.9L530,205.8L530.5,205.7L531,205.6L531.5,205.4L532,205.2L532.5,205.1L533,205.1L533.5,205L534,205L534.5,205L535,205L535.5,205L536,205L536.5,204.8L537,204.6L537.5,204.5L538,204.4L538.5,204.4L539,204.6L539.5,204.6L540,204.7L540.5,204.8L541,204.9L541.5,205L542,205.2L542.5,205.2L543,205.2L543.5,205L544,204.9L544.5,204.8L545,204.7L545.5,204.5L546,204.4L546.5,204.3L547,204.3L547.5,204.4L548,204.6L548.5,204.6L549,204.5L549.5,204.3L550,204.1L550.5,203.8L551,203.4L551.5,203.1L552,202.8L552.5,202.6L553,202.4L553.5,202.4L554,202.4L554.5,202.4L555,202.5L555.5,202.5L556,202.5L556.5,202.4L557,202.3L557.5,202.3L558,202.3L558.5,202.3L559,202.4L559.5,202.3L560,202.3L560.5,202.4L561,202.6L561.5,202.7L562,202.7L562.5,202.8L563,202.8L563.5,203L564,203L564.5,202.8L565,202.4L565.5,202.2L566,201.9L566.5,201.7L567,201.5L567.5,201.3L568,201.1L568.5,201.2L569,201.3L569.5,201.3L570,201.2L570.5,200.8L571,200.3L571.5,200.1L572,199.8L572.5,199.6L573,199.4L573.5,199.2L574,199.1L574.5,199.3L575,199.6L575.5,199.6L576,199.7L576.5,199.7L577,199.6L577.5,199.5L578,199.3L578.5,199.1L579,198.8L579.5,198.5L580,198.2L580.5,198.1L581,198L581.5,197.8L582,197.8L582.5,197.8L583,197.8L583.5,197.9L584,198L584.5,197.6L585,197.2L585.5,196.9L586,196.5L586.5,195.7L587,194.9L587.5,194.2L588,193.6L588.5,193.4L589,193.2L589.5,193.1L590,192.9L590.5,193.1L591,193.2L591.5,193.4L592,193.4L592.5,192.9L593,192.3L593.5,191.9L594,191.5L594.5,190.9L595,190.4L595.5,190L596,189.7L596.5,189.9L597,190.2L597.5,190.3L598,190.4L598.5,190.8L599,196.7L599.5,201.8L600,206.7L600.5,210.9L601,212.2L601.5,212.2L602,212.2L602.5,212.2L603,212.2L603.5,212.2L604,212.2L604.5,212.2L605,212.2L605.5,212.2L606,212.2L606.5,212.2L607,212.2L607.5,212.2L608,212.2L608.5,212.2" stroke="#4ca6ff" stroke-width="2.5"/>
<path d="M444.5,212.2L445,212.2L445.5,212.2L446,212.1L446.5,212.1L447,212L447.5,211.9L448,211.9L448.5,211.8L449,211.7L449.5,211.7L450,211.6L450.5,211.5L451,211.4L451.5,211.3L452,211.1L452.5,211L453,210.9L453.5,210.8L454,210.7L454.5,210.6L455,210.5L455.5,210.5L456,210.4L456.5,210.3L457,210.2L457.5,210.1L458,210.1L458.5,210L459,209.9L459.5,209.8L460,209.7L460.5,209.7L461,209.6L461.5,209.6L462,209.6L462.5,209.6L463,209.6L463.5,209.6L464,209.6L464.5,209.5L465,209.4L465.5,209.3L466,209.2L466.5,209.2L467,209.1L467.5,209.1L468,209L468.5,209.1L469,209.1L469.5,209.1L470,209.1L470.5,209L471,209L471.5,208.9L472,208.7L472.5,208.6L473,208.5L473.5,208.5L474,208.5L474.5,208.5L475,208.5L475.5,208.5L476,208.6L476.5,208.7L477,208.7L477.5,208.7L478,208.8L478.5,208.7L479,208.6L479.5,208.5L480,208.4L480.5,208.3L481,208.2L481.5,208.1L482,208L482.5,208.1L483,208.3L483.5,208.2L484,208.2L484.5,208.3L485,208.3L485.5,208.2L486,208.1L486.5,207.9L487,207.6L487.5,207.6L488,207.5L488.5,207.5L489,207.5L489.5,207.6L490,207.8L490.5,207.9L491,208L491.5,208L492,208L492.5,207.9L493,207.8L493.5,207.7L494,207.6L494.5,207.5L495,207.4L495.5,207.3L496,207.3L496.5,207.3L497,207.3L497.5,207.3L498,207.2L498.5,207.3L499,207.3L499.5,207.1L500,207L500.5,206.9L501,206.8L501.5,206.7L502,206.7L502.5,206.7L503,206.8L503.5,206.9L504,207L504.5,207L505,207L505.5,207L506,207L506.5,206.9L507,206.8L507.5,206.8L508,206.7L508.5,206.7L509,206.7L509.5,206.7L510,206.6L510.5,206.7L511,206.8L511.5,206.9L512,206.9L512.5,206.9L513,206.8L513.5,206.7L514,206.6L514.5,206.5L515,206.3L515.5,206.1L516,206L516.5,206L517,206.1L517.5,206.1L518,206.1L518.5,206.2L519,206.2L519.5,206.2L520,206.1L520.5,206L521,205.8L521.5,205.6L522,205.4L522.5,205.4L523,205.4L523.5,205.4L524,205.5L524.5,205.5L525,205.6L525.5,205.8L526,206.1L526.5,206L527,205.9L527.5,205.9L528,205.8L528.5,205.8L529,205.8L529.5,205.8L530,205.7L530.5,205.7L531,205.7L531.5,205.6L532,205.5L532.5,205.5L533,205.5L533.5,205.4L534,205.3L534.5,205.1L535,204.9L535.5,204.8L536,204.7L536.5,204.5L537,204.3L537.5,204.4L538,204.5L538.5,204.7L539,205L539.5,205.1L540,205.3L540.5,205.3L541,205.3L541.5,205.3L542,205.3L542.5,205.1L543,205L543.5,204.9L544,204.8L544.5,204.8L545,204.8L545.5,204.8L546,204.8L546.5,204.8L547,204.8L547.5,204.8L548,204.8L548.5,204.6L549,204.3L549.5,204L550,203.6L550.5,203.2L551,202.9L551.5,202.7L552,202.6L552.5,202.6L553,202.7L553.5,202.8L554,202.8L554.5,202.8L555,202.8L555.5,202.6L556,202.3L556.5,202.1L557,201.9L557.5,201.9L558,202L558.5,202.3L559,202.6L559.5,202.7L560,202.9L560.5,203.1L561,203.3L561.5,203.2L562,203.1L562.5,203L563,202.7L563.5,202.7L564,202.6L564.5,202.3L565,202L565.5,201.9L566,201.8L566.5,201.8L567,201.9L567.5,201.7L568,201.6L568.5,201.6L569,201.5L569.5,201.3L570,201L570.5,200.4L571,199.8L571.5,199.6L572,199.5L572.5,199.5L573,199.7L573.5,199.8L574,200L574.5,200.3L575,200.7L575.5,200.6L576,200.5L576.5,200.2L577,199.9L577.5,199.6L578,199.3L578.5,199.1L579,198.9L579.5,198.9L580,198.9L580.5,199L581,199.1L581.5,199.1L582,199.1L582.5,198.9L583,198.6L583.5,198.4L584,198.2L584.5,197.6L585,197L585.5,196.8L586,196.6L586.5,196.2L587,195.9L587.5,195.7L588,195.5L588.5,195.5L589,195.5L589.5,195.3L590,194.9L590.5,194.8L591,194.6L591.5,194.6L592,194.5L592.5,194.1L593,193.8L593.5,193.9L594,194L594.5,194L595,194L595.5,193.8L596,193.6L596.5,193.6L597,193.5L597.5,193L598,192.3L598.5,192L599,191.7L599.5,191L600,190.4L600.5,190L601,190L601.5,190.2L602,194.1L602.5,199.8L603,205L603.5,209.5L604,212.2L604.5,212.2L605,212.2L605.5,212.2L606,212.2L606.5,212.2L607,212.2L607.5,212.2L608,212.2L608.5,212.2L609,212.2L609.5,212.2L610,212.2L610.5,212.2L611,212.2L611.5,212.2" stroke="#4ca6ff" stroke-width="2.5"/>
<path d="M444.5,212.2L445,212.2L445.5,212.2L446,212.2L446.5,212.1L447,212.1L447.5,212L448,211.9L448.5,211.9L449,211.8L449.5,211.7L450,211.7L450.5,211.6L451,211.5L451.5,211.4L452,211.3L452.5,211.2L453,211.1L453.5,211.1L454,211L454.5,210.9L455,210.8L455.5,210.8L456,210.7L456.5,210.6L457,210.5L457.5,210.4L458,210.3L458.5,210.2L459,210.2L459.5,210.2L460,210.1L460.5,210.1L461,210.1L461.5,210L462,210L462.5,209.9L463,209.9L463.5,209.8L464,209.7L464.5,209.6L465,209.6L465.5,209.5L466,209.5L466.5,209.5L467,209.5L467.5,209.5L468,209.5L468.5,209.5L469,209.5L469.5,209.5L470,209.4L470.5,209.3L471,209.2L471.5,209.1L472,209L472.5,208.9L473,208.9L473.5,208.9L474,209L474.5,209L475,209.1L475.5,209.1L476,209.1L476.5,209.1L477,209L477.5,209L478,208.9L478.5,208.8L479,208.7L479.5,208.7L480,208.7L480.5,208.6L481,208.6L481.5,208.6L482,208.5L482.5,208.6L483,208.7L483.5,208.6L484,208.5L484.5,208.5L485,208.5L485.5,208.4L486,208.2L486.5,208.1L487,207.9L487.5,208L488,208.1L488.5,208.1L489,208.1L489.5,208.2L490,208.3L490.5,208.3L491,208.3L491.5,208.2L492,208.2L492.5,208.1L493,208L493.5,207.9L494,207.9L494.5,207.8L495,207.8L495.5,207.8L496,207.8L496.5,207.8L497,207.7L497.5,207.6L498,207.5L498.5,207.4L499,207.3L499.5,207.1L500,207L500.5,207L501,207L501.5,207.1L502,207.1L502.5,207.3L503,207.4L503.5,207.5L504,207.5L504.5,207.4L505,207.3L505.5,207.2L506,207.1L506.5,207L507,207L507.5,207L508,207L508.5,207.1L509,207.2L509.5,207.3L510,207.3L510.5,207.3L511,207.3L511.5,207.2L512,207.1L512.5,206.9L513,206.8L513.5,206.7L514,206.6L514.5,206.4L515,206.4L515.5,206.3L516,206.3L516.5,206.4L517,206.6L517.5,206.6L518,206.5L518.5,206.4L519,206.4L519.5,206.2L520,206L520.5,205.9L521,205.8L521.5,205.7L522,205.6L522.5,205.8L523,206L523.5,206.1L524,206.2L524.5,206.2L525,206.1L525.5,206.2L526,206.3L526.5,206.1L527,205.9L527.5,205.8L528,205.8L528.5,205.8L529,205.9L529.5,206L530,206.1L530.5,206.1L531,206.2L531.5,206L532,205.8L532.5,205.7L533,205.5L533.5,205.2L534,205L534.5,204.8L535,204.6L535.5,204.7L536,204.8L536.5,204.7L537,204.8L537.5,204.9L538,205.1L538.5,205.3L539,205.4L539.5,205.5L540,205.5L540.5,205.3L541,205.2L541.5,205.2L542,205.2L542.5,205.2L543,205.2L543.5,205.2L544,205.2L544.5,205.3L545,205.4L545.5,205.3L546,205.1L546.5,205L547,204.7L547.5,204.6L548,204.4L548.5,204.2L549,204L549.5,203.7L550,203.5L550.5,203.4L551,203.2L551.5,203.2L552,203.1L552.5,203.1L553,203.1L553.5,203L554,202.8L554.5,202.6L555,202.5L555.5,202.3L556,202.2L556.5,202.1L557,202.1L557.5,202.4L558,202.7L558.5,203L559,203.3L559.5,203.4L560,203.4L560.5,203.4L561,203.3L561.5,203.1L562,202.9L562.5,202.6L563,202.4L563.5,202.5L564,202.6L564.5,202.5L565,202.4L565.5,202.4L566,202.4L566.5,202.3L567,202.2L567.5,201.9L568,201.5L568.5,201.3L569,201.1L569.5,200.8L570,200.7L570.5,200.3L571,200L571.5,200.1L572,200.3L572.5,200.5L573,200.8L573.5,200.9L574,200.8L574.5,201L575,201L575.5,200.8L576,200.5L576.5,200.2L577,199.9L577.5,199.8L578,199.8L578.5,199.9L579,199.9L579.5,200L580,200L580.5,200L581,199.9L581.5,199.6L582,199.3L582.5,198.8L583,198.4L583.5,198.2L584,198.1L584.5,197.8L585,197.6L585.5,197.7L586,197.9L586.5,197.7L587,197.6L587.5,197.3L588,197L588.5,196.8L589,196.4L589.5,196L590,195.6L590.5,195.5L591,195.5L591.5,195.8L592,196.2L592.5,196.2L593,196.3L593.5,196.5L594,196.7L594.5,196.5L595,196.2L595.5,195.7L596,195.1L596.5,194.8L597,194.4L597.5,193.9L598,193.4L598.5,193.5L599,193.6L599.5,193.4L600,193.3L600.5,193.2L601,193L601.5,192.8L602,192.5L602.5,192L603,191.5L603.5,190.9L604,190.6L604.5,190.4L605,191.9L605.5,197.5L606,202.9L606.5,207.8L607,211.8L607.5,212.2L608,212.2L608.5,212.2L609,212.2L609.5,212.2L610,212.2L610.5,212.2L611,212.2L611.5,212.2L612,212.2L612.5,212.2L613,212.2L613.5,212.2L614,212.2L614.5,212.2" stroke="#4ca6ff" stroke-width="2.5"/>
<path d="M444.5,212.2L445,212.2L445.5,212.2L446,212.2L446.5,212.1L447,212.1L447.5,212L448,212L448.5,211.9L449,211.9L449.5,211.8L450,211.7L450.5,211.7L451,211.6L451.5,211.5L452,211.5L452.5,211.4L453,211.4L453.5,211.3L454,211.2L454.5,211.1L455,211L455.5,210.9L456,210.9L456.5,210.8L457,210.7L457.5,210.7L458,210.6L458.5,210.6L459,210.5L459.5,210.5L460,210.4L460.5,210.4L461,210.3L461.5,210.2L462,210.1L462.5,210.1L463,210L463.5,210L464,209.9L464.5,209.9L465,209.9L465.5,209.9L466,209.9L466.5,209.9L467,209.9L467.5,209.8L468,209.8L468.5,209.8L469,209.8L469.5,209.7L470,209.6L470.5,209.6L471,209.5L471.5,209.5L472,209.4L472.5,209.4L473,209.4L473.5,209.4L474,209.4L474.5,209.4L475,209.4L475.5,209.3L476,209.3L476.5,209.2L477,209.2L477.5,209.1L478,209.1L478.5,209.1L479,209L479.5,209.1L480,209.1L480.5,209L481,209L481.5,208.9L482,208.8L482.5,208.8L483,208.8L483.5,208.7L484,208.6L484.5,208.6L485,208.7L485.5,208.7L486,208.7L486.5,208.6L487,208.5L487.5,208.6L488,208.6L488.5,208.6L489,208.5L489.5,208.5L490,208.5L490.5,208.5L491,208.4L491.5,208.4L492,208.4L492.5,208.4L493,208.4L493.5,208.4L494,208.3L494.5,208.3L495,208.2L495.5,208.2L496,208.1L496.5,207.9L497,207.7L497.5,207.6L498,207.4L498.5,207.4L499,207.4L499.5,207.4L500,207.4L500.5,207.5L501,207.6L501.5,207.6L502,207.6L502.5,207.7L503,207.7L503.5,207.7L504,207.6L504.5,207.5L505,207.4L505.5,207.4L506,207.4L506.5,207.4L507,207.5L507.5,207.5L508,207.6L508.5,207.7L509,207.7L509.5,207.6L510,207.5L510.5,207.4L511,207.3L511.5,207.1L512,207L512.5,206.9L513,206.8L513.5,206.8L514,206.9L514.5,206.8L515,206.8L515.5,206.8L516,206.7L516.5,206.7L517,206.7L517.5,206.6L518,206.5L518.5,206.4L519,206.3L519.5,206.3L520,206.2L520.5,206.3L521,206.3L521.5,206.3L522,206.3L522.5,206.4L523,206.5L523.5,206.5L524,206.4L524.5,206.3L525,206.1L525.5,206.2L526,206.2L526.5,206.1L527,206L527.5,206L528,206.1L528.5,206.3L529,206.4L529.5,206.4L530,206.4L530.5,206.3L531,206.2L531.5,205.9L532,205.6L532.5,205.4L533,205.3L533.5,205.1L534,205.1L534.5,205L535,205L535.5,205.2L536,205.4L536.5,205.3L537,205.3L537.5,205.3L538,205.3L538.5,205.4L539,205.4L539.5,205.4L540,205.4L540.5,205.4L541,205.4L541.5,205.5L542,205.7L542.5,205.7L543,205.8L543.5,205.7L544,205.6L544.5,205.6L545,205.4L545.5,205.2L546,204.9L546.5,204.6L547,204.4L547.5,204.4L548,204.4L548.5,204.3L549,204.3L549.5,204.2L550,204L550.5,203.9L551,203.7L551.5,203.5L552,203.2L552.5,203.1L553,202.9L553.5,202.8L554,202.7L554.5,202.7L555,202.7L555.5,202.8L556,202.9L556.5,203L557,203L557.5,203.2L558,203.4L558.5,203.5L559,203.6L559.5,203.4L560,203.3L560.5,203.2L561,203.1L561.5,203L562,202.9L562.5,202.9L563,202.9L563.5,203L564,203.2L564.5,203.1L565,202.8L565.5,202.6L566,202.4L566.5,202.1L567,201.9L567.5,201.5L568,201.2L568.5,201.2L569,201.3L569.5,201.3L570,201.4L570.5,201.3L571,201.1L571.5,201.2L572,201.2L572.5,201.3L573,201.2L573.5,201.1L574,200.9L574.5,201L575,201.1L575.5,201L576,201L576.5,200.9L577,200.9L577.5,200.9L578,201L578.5,200.9L579,200.8L579.5,200.6L580,200.3L580.5,200L581,199.7L581.5,199.4L582,199.1L582.5,198.9L583,198.8L583.5,198.9L584,199.1L584.5,199.1L585,199L585.5,199.1L586,199.1L586.5,198.7L587,198.3L587.5,197.9L588,197.4L588.5,197.2L589,197L589.5,196.9L590,196.8L590.5,197.1L591,197.4L591.5,197.9L592,198.3L592.5,198.3L593,198.1L593.5,198L594,197.8L594.5,197.3L595,196.8L595.5,196.2L596,195.6L596.5,195.6L597,195.6L597.5,195.5L598,195.5L598.5,195.7L599,195.9L599.5,195.7L600,195.4L600.5,194.9L601,194.4L601.5,193.9L602,193.5L602.5,193.1L603,192.8L603.5,192.7L604,192.8L604.5,192.9L605,193.1L605.5,193L606,192.9L606.5,192.7L607,192.3L607.5,192.1L608,191.9L608.5,196.6L609,201.7L609.5,206.4L610,210.6L610.5,212.2L611,212.2L611.5,212.2L612,212.2L612.5,212.2L613,212.2L613.5,212.2L614,212.2L614.5,212.2L615,212.2L615.5,212.2L616,212.2L616.5,212.2L617,212.2L617.5,212.2L618,212.2" stroke="#4ca6ff" stroke-width="2.5"/>
<path d="M444.5,212.2L445,212.2L445.5,212.2L446,212.2L446.5,212.1L447,212.1L447.5,212.1L448,212L448.5,212L449,211.9L449.5,211.9L450,211.8L450.5,211.8L451,211.7L451.5,211.7L452,211.6L452.5,211.5L453,211.5L453.5,211.4L454,211.3L454.5,211.2L455,211.2L455.5,211.1L456,211.1L456.5,211L457,211L457.5,210.9L458,210.9L458.5,210.8L459,210.7L459.5,210.6L460,210.6L460.5,210.5L461,210.4L461.5,210.3L462,210.3L462.5,210.3L463,210.2L463.5,210.2L464,210.2L464.5,210.2L465,210.2L465.5,210.2L466,210.1L466.5,210.1L467,210L467.5,210L468,210L468.5,210L469,210L469.5,209.9L470,209.9L470.5,209.9L471,209.9L471.5,209.9L472,209.8L472.5,209.8L473,209.7L473.5,209.7L474,209.6L474.5,209.5L475,209.5L475.5,209.4L476,209.4L476.5,209.4L477,209.4L477.5,209.4L478,209.5L478.5,209.4L479,209.4L479.5,209.3L480,209.3L480.5,209.2L481,209.1L481.5,209L482,208.9L482.5,208.9L483,209L483.5,209L484,209L484.5,209.1L485,209.2L485.5,209.2L486,209.1L486.5,209L487,208.8L487.5,208.8L488,208.8L488.5,208.7L489,208.6L489.5,208.7L490,208.7L490.5,208.7L491,208.8L491.5,208.8L492,208.8L492.5,208.8L493,208.8L493.5,208.7L494,208.6L494.5,208.4L495,208.3L495.5,208.2L496,208L496.5,207.9L497,207.8L497.5,207.8L498,207.8L498.5,207.8L499,207.9L499.5,207.9L500,207.9L500.5,207.9L501,207.9L501.5,207.8L502,207.8L502.5,207.8L503,207.8L503.5,207.8L504,207.9L504.5,207.8L505,207.8L505.5,207.9L506,208L506.5,208L507,207.9L507.5,207.9L508,207.8L508.5,207.8L509,207.7L509.5,207.6L510,207.4L510.5,207.4L511,207.3L511.5,207.3L512,207.3L512.5,207.3L513,207.3L513.5,207.3L514,207.3L514.5,207.1L515,207L515.5,206.9L516,206.7L516.5,206.7L517,206.7L517.5,206.7L518,206.7L518.5,206.7L519,206.8L519.5,206.8L520,206.9L520.5,206.9L521,206.9L521.5,206.8L522,206.6L522.5,206.6L523,206.6L523.5,206.5L524,206.4L524.5,206.3L525,206.3L525.5,206.4L526,206.6L526.5,206.5L527,206.5L527.5,206.5L528,206.5L528.5,206.5L529,206.5L529.5,206.4L530,206.3L530.5,206.1L531,206L531.5,205.8L532,205.7L532.5,205.6L533,205.6L533.5,205.7L534,205.7L534.5,205.7L535,205.6L535.5,205.7L536,205.7L536.5,205.5L537,205.3L537.5,205.3L538,205.3L538.5,205.5L539,205.6L539.5,205.8L540,205.9L540.5,206L541,206L541.5,206.1L542,206.1L542.5,206.1L543,205.9L543.5,205.7L544,205.5L544.5,205.3L545,205.2L545.5,205L546,204.9L546.5,204.8L547,204.7L547.5,204.8L548,204.9L548.5,204.8L549,204.7L549.5,204.5L550,204.2L550.5,203.9L551,203.6L551.5,203.4L552,203.2L552.5,203.1L553,203.1L553.5,203.2L554,203.4L554.5,203.5L555,203.7L555.5,203.7L556,203.6L556.5,203.6L557,203.4L557.5,203.4L558,203.3L558.5,203.4L559,203.4L559.5,203.4L560,203.4L560.5,203.5L561,203.6L561.5,203.6L562,203.6L562.5,203.5L563,203.4L563.5,203.4L564,203.3L564.5,203L565,202.6L565.5,202.4L566,202.2L566.5,202.1L567,202L567.5,202L568,201.9L568.5,202.1L569,202.3L569.5,202.4L570,202.4L570.5,202L571,201.7L571.5,201.5L572,201.4L572.5,201.3L573,201.3L573.5,201.3L574,201.4L574.5,201.7L575,202L575.5,202L576,202.1L576.5,201.9L577,201.7L577.5,201.6L578,201.3L578.5,201L579,200.6L579.5,200.4L580,200.1L580.5,200L581,200L581.5,199.9L582,200L582.5,200L583,200L583.5,200.1L584,200.2L584.5,200L585,199.7L585.5,199.5L586,199.4L586.5,199L587,198.7L587.5,198.5L588,198.4L588.5,198.5L589,198.6L589.5,198.7L590,198.8L590.5,199L591,199.1L591.5,199.2L592,199.3L592.5,198.9L593,198.5L593.5,198.3L594,198.1L594.5,197.8L595,197.6L595.5,197.4L596,197.2L596.5,197.4L597,197.5L597.5,197.4L598,197.1L598.5,197L599,196.9L599.5,196.4L600,196L600.5,195.5L601,195.2L601.5,195L602,195L602.5,195.1L603,195.3L603.5,195.6L604,195.8L604.5,195.9L605,195.8L605.5,195.5L606,195L606.5,194.4L607,193.8L607.5,193.3L608,192.9L608.5,193L609,193.1L609.5,193.2L610,193.3L610.5,193.7L611,194L611.5,196.6L612,201.2L612.5,205.4L613,209.4L613.5,212.2L614,212.2L614.5,212.2L615,212.2L615.5,212.2L616,212.2L616.5,212.2L617,212.2L617.5,212.2L618,212.2L618.5,212.2L619,212.2L619.5,212.2L620,212.2L620.5,212.2L621,212.2" stroke="#4ca6ff" stroke-width="2.5"/>
<path d="M444.5,212.2L445,212.2L445.5,212.2L446,212.2L446.5,212.1L447,212.1L447.5,212.1L448,212L448.5,212L449,212L449.5,211.9L450,211.9L450.5,211.8L451,211.8L451.5,211.7L452,211.7L452.5,211.6L453,211.5L453.5,211.5L454,211.4L454.5,211.4L455,211.3L455.5,211.3L456,211.3L456.5,211.2L457,211.1L457.5,211.1L458,211L458.5,210.9L459,210.8L459.5,210.7L460,210.7L460.5,210.6L461,210.6L461.5,210.5L462,210.5L462.5,210.5L463,210.5L463.5,210.5L464,210.5L464.5,210.4L465,210.3L465.5,210.3L466,210.2L466.5,210.2L467,210.2L467.5,210.2L468,210.2L468.5,210.3L469,210.3L469.5,210.3L470,210.3L470.5,210.2L471,210.2L471.5,210.1L472,210L472.5,209.9L473,209.8L473.5,209.8L474,209.7L474.5,209.7L475,209.7L475.5,209.7L476,209.7L476.5,209.7L477,209.7L477.5,209.7L478,209.7L478.5,209.6L479,209.5L479.5,209.4L480,209.4L480.5,209.3L481,209.2L481.5,209.2L482,209.2L482.5,209.3L483,209.4L483.5,209.4L484,209.4L484.5,209.4L485,209.5L485.5,209.4L486,209.3L486.5,209.1L487,209L487.5,209L488,209L488.5,208.9L489,208.9L489.5,209L490,209.1L490.5,209.1L491,209.1L491.5,209.1L492,209L492.5,208.9L493,208.8L493.5,208.7L494,208.6L494.5,208.4L495,208.4L495.5,208.3L496,208.3L496.5,208.3L497,208.3L497.5,208.3L498,208.2L498.5,208.2L499,208.2L499.5,208.1L500,208L500.5,208L501,208L501.5,208L502,208L502.5,208.1L503,208.2L503.5,208.3L504,208.4L504.5,208.4L505,208.3L505.5,208.3L506,208.2L506.5,208.1L507,208L507.5,207.9L508,207.8L508.5,207.8L509,207.8L509.5,207.7L510,207.7L510.5,207.7L511,207.7L511.5,207.7L512,207.7L512.5,207.6L513,207.5L513.5,207.4L514,207.3L514.5,207.1L515,207L515.5,206.9L516,206.9L516.5,207L517,207.1L517.5,207.2L518,207.3L518.5,207.3L519,207.4L519.5,207.3L520,207.2L520.5,207.1L521,207L521.5,206.8L522,206.7L522.5,206.7L523,206.7L523.5,206.7L524,206.8L524.5,206.8L525,206.8L525.5,206.9L526,207L526.5,206.8L527,206.6L527.5,206.5L528,206.4L528.5,206.4L529,206.4L529.5,206.3L530,206.3L530.5,206.3L531,206.4L531.5,206.3L532,206.2L532.5,206.2L533,206.2L533.5,206.1L534,206L534.5,205.9L535,205.7L535.5,205.7L536,205.7L536.5,205.6L537,205.6L537.5,205.7L538,205.8L538.5,206.1L539,206.3L539.5,206.4L540,206.4L540.5,206.4L541,206.3L541.5,206.2L542,206.1L542.5,205.9L543,205.8L543.5,205.6L544,205.5L544.5,205.5L545,205.5L545.5,205.4L546,205.4L546.5,205.3L547,205.2L547.5,205.2L548,205.1L548.5,204.9L549,204.7L549.5,204.4L550,204.2L550.5,204L551,203.8L551.5,203.8L552,203.8L552.5,204L553,204.1L553.5,204.2L554,204.2L554.5,204.2L555,204.1L555.5,203.9L556,203.7L556.5,203.5L557,203.4L557.5,203.4L558,203.5L558.5,203.7L559,203.9L559.5,204L560,204.1L560.5,204.1L561,204.1L561.5,204L562,203.8L562.5,203.5L563,203.2L563.5,203.2L564,203.1L564.5,202.9L565,202.8L565.5,202.8L566,202.8L566.5,202.9L567,203L567.5,203L568,202.9L568.5,202.9L569,202.9L569.5,202.7L570,202.6L570.5,202.2L571,201.8L571.5,201.8L572,201.8L572.5,202L573,202.2L573.5,202.4L574,202.5L574.5,202.7L575,202.9L575.5,202.7L576,202.5L576.5,202.1L577,201.7L577.5,201.4L578,201.1L578.5,200.9L579,200.8L579.5,200.8L580,200.9L580.5,201L581,201.1L581.5,201.1L582,201L582.5,200.9L583,200.7L583.5,200.6L584,200.5L584.5,200.2L585,200L585.5,200L586,200.1L586.5,200.1L587,200.1L587.5,200.1L588,200.1L588.5,200.2L589,200.2L589.5,200L590,199.8L590.5,199.6L591,199.5L591.5,199.5L592,199.5L592.5,199.3L593,199.1L593.5,199.2L594,199.3L594.5,199.2L595,199.1L595.5,198.9L596,198.6L596.5,198.5L597,198.3L597.5,197.9L598,197.5L598.5,197.4L599,197.3L599.5,197.1L600,197L600.5,197L601,197.1L601.5,197.3L602,197.5L602.5,197.6L603,197.6L603.5,197.5L604,197.4L604.5,197.2L605,196.9L605.5,196.5L606,196.1L606.5,195.7L607,195.4L607.5,195.4L608,195.4L608.5,195.6L609,195.9L609.5,195.9L610,195.7L610.5,195.5L611,195.2L611.5,194.8L612,194.3L612.5,193.6L613,192.9L613.5,192.8L614,192.8L614.5,193.5L615,198.7L615.5,203.7L616,208L616.5,211.6L617,212.2L617.5,212.2L618,212.2L618.5,212.2L619,212.2L619.5,212.2L620,212.2L620.5,212.2L621,212.2L621.5,212.2L622,212.2L622.5,212.2L623,212.2L623.5,212.2L624,212.2" stroke="#4ca6ff" stroke-width="2.5"/>
<path d="M444.5,212.2L445,212.2L445.5,212.2L446,212.2L446.5,212.1L447,212.1L447.5,212.1L448,212.1L448.5,212L449,212L449.5,211.9L450,211.9L450.5,211.9L451,211.8L451.5,211.8L452,211.7L452.5,211.7L453,211.6L453.5,211.6L454,211.5L454.5,211.5L455,211.4L455.5,211.4L456,211.3L456.5,211.2L457,211.2L457.5,211.1L458,211L458.5,211L459,210.9L459.5,210.9L460,210.8L460.5,210.8L461,210.8L461.5,210.7L462,210.7L462.5,210.7L463,210.6L463.5,210.6L464,210.5L464.5,210.5L465,210.5L465.5,210.5L466,210.5L466.5,210.5L467,210.5L467.5,210.5L468,210.5L468.5,210.5L469,210.5L469.5,210.5L470,210.4L470.5,210.3L471,210.2L471.5,210.2L472,210.1L472.5,210L473,210L473.5,210L474,210L474.5,210L475,210L475.5,210L476,209.9L476.5,209.9L477,209.8L477.5,209.8L478,209.7L478.5,209.6L479,209.6L479.5,209.6L480,209.6L480.5,209.6L481,209.6L481.5,209.6L482,209.6L482.5,209.6L483,209.7L483.5,209.6L484,209.6L484.5,209.6L485,209.6L485.5,209.5L486,209.4L486.5,209.3L487,209.2L487.5,209.3L488,209.3L488.5,209.3L489,209.3L489.5,209.3L490,209.3L490.5,209.3L491,209.2L491.5,209.1L492,209L492.5,208.9L493,208.9L493.5,208.8L494,208.8L494.5,208.8L495,208.7L495.5,208.7L496,208.7L496.5,208.7L497,208.6L497.5,208.5L498,208.4L498.5,208.4L499,208.3L499.5,208.3L500,208.2L500.5,208.3L501,208.4L501.5,208.4L502,208.5L502.5,208.6L503,208.6L503.5,208.7L504,208.7L504.5,208.6L505,208.4L505.5,208.3L506,208.2L506.5,208.1L507,208.1L507.5,208L508,208L508.5,208.1L509,208.2L509.5,208.1L510,208.1L510.5,208L511,208L511.5,207.9L512,207.8L512.5,207.6L513,207.5L513.5,207.4L514,207.4L514.5,207.4L515,207.4L515.5,207.4L516,207.5L516.5,207.6L517,207.7L517.5,207.7L518,207.6L518.5,207.6L519,207.5L519.5,207.4L520,207.3L520.5,207.2L521,207.1L521.5,207.1L522,207L522.5,207.1L523,207.2L523.5,207.2L524,207.2L524.5,207.1L525,207L525.5,207L526,207L526.5,206.7L527,206.5L527.5,206.5L528,206.5L528.5,206.6L529,206.7L529.5,206.7L530,206.8L530.5,206.9L531,206.9L531.5,206.8L532,206.6L532.5,206.5L533,206.4L533.5,206.2L534,206.1L534.5,206L535,206L535.5,206.1L536,206.2L536.5,206.2L537,206.3L537.5,206.4L538,206.4L538.5,206.5L539,206.6L539.5,206.5L540,206.4L540.5,206.3L541,206.2L541.5,206.1L542,206.1L542.5,206.1L543,206.1L543.5,206L544,206L544.5,206L545,206L545.5,205.8L546,205.7L546.5,205.5L547,205.3L547.5,205.2L548,205.1L548.5,205L549,204.9L549.5,204.8L550,204.8L550.5,204.8L551,204.7L551.5,204.7L552,204.7L552.5,204.7L553,204.6L553.5,204.5L554,204.4L554.5,204.2L555,204.1L555.5,204L556,203.9L556.5,203.9L557,203.9L557.5,204L558,204.2L558.5,204.4L559,204.5L559.5,204.5L560,204.3L560.5,204.2L561,204.1L561.5,203.8L562,203.6L562.5,203.5L563,203.4L563.5,203.5L564,203.7L564.5,203.7L565,203.7L565.5,203.7L566,203.7L566.5,203.7L567,203.6L567.5,203.4L568,203.1L568.5,203.1L569,203L569.5,203L570,203L570.5,202.8L571,202.7L571.5,202.8L572,202.9L572.5,203.1L573,203.2L573.5,203.1L574,203L574.5,202.9L575,202.9L575.5,202.6L576,202.4L576.5,202.1L577,201.9L577.5,201.8L578,201.8L578.5,201.8L579,201.9L579.5,201.9L580,201.9L580.5,201.8L581,201.7L581.5,201.5L582,201.3L582.5,201.1L583,200.9L583.5,201L584,201.1L584.5,201.1L585,201.2L585.5,201.4L586,201.7L586.5,201.6L587,201.5L587.5,201.3L588,201.1L588.5,200.8L589,200.6L589.5,200.3L590,200L590.5,200L591,200L591.5,200.2L592,200.5L592.5,200.5L593,200.5L593.5,200.5L594,200.5L594.5,200.2L595,199.9L595.5,199.4L596,198.9L596.5,198.7L597,198.6L597.5,198.4L598,198.3L598.5,198.5L599,198.9L599.5,199L600,199.1L600.5,199.1L601,199.1L601.5,199L602,198.9L602.5,198.7L603,198.5L603.5,198.3L604,198.2L604.5,198.1L605,198.1L605.5,198L606,197.9L606.5,197.8L607,197.7L607.5,197.6L608,197.4L608.5,197.4L609,197.2L609.5,196.8L610,196.4L610.5,196L611,195.8L611.5,195.6L612,195.5L612.5,195.2L613,195L613.5,195.1L614,195.3L614.5,195.2L615,195.1L615.5,195.1L616,194.9L616.5,194.8L617,194.8L617.5,195L618,198.6L618.5,203L619,207L619.5,210.5L620,212.2L620.5,212.2L621,212.2L621.5,212.2L622,212.2L622.5,212.2L623,212.2L623.5,212.2L624,212.2L624.5,212.2L625,212.2L625.5,212.2L626,212.2L626.5,212.2L627,212.2L627.5,212.2" stroke="#4ca6ff" stroke-width="2.5"/>
<path d="M444.5,212.2L445,212.2L445.5,212.2L446,212.2L446.5,212.1L447,212.1L447.5,212.1L448,212.1L448.5,212L449,212L449.5,212L450,211.9L450.5,211.9L451,211.9L451.5,211.8L452,211.8L452.5,211.7L453,211.7L453.5,211.6L454,211.6L454.5,211.5L455,211.5L455.5,211.4L456,211.4L456.5,211.3L457,211.2L457.5,211.2L458,211.2L458.5,211.1L459,211.1L459.5,211L460,211L460.5,210.9L461,210.9L461.5,210.8L462,210.8L462.5,210.7L463,210.7L463.5,210.7L464,210.7L464.5,210.7L465,210.7L465.5,210.7L466,210.7L466.5,210.7L467,210.7L467.5,210.7L468,210.6L468.5,210.6L469,210.6L469.5,210.5L470,210.5L470.5,210.4L471,210.4L471.5,210.3L472,210.3L472.5,210.3L473,210.2L473.5,210.2L474,210.2L474.5,210.1L475,210.1L475.5,210L476,210L476.5,209.9L477,209.9L477.5,209.9L478,209.9L478.5,209.9L479,209.9L479.5,209.9L480,210L480.5,209.9L481,209.9L481.5,209.8L482,209.8L482.5,209.8L483,209.8L483.5,209.7L484,209.7L484.5,209.7L485,209.8L485.5,209.8L486,209.8L486.5,209.7L487,209.6L487.5,209.6L488,209.6L488.5,209.5L489,209.4L489.5,209.4L490,209.3L490.5,209.3L491,209.3L491.5,209.2L492,209.2L492.5,209.2L493,209.2L493.5,209.2L494,209.1L494.5,209.1L495,209L495.5,209L496,208.9L496.5,208.8L497,208.7L497.5,208.6L498,208.6L498.5,208.6L499,208.7L499.5,208.7L500,208.7L500.5,208.8L501,208.8L501.5,208.8L502,208.8L502.5,208.8L503,208.8L503.5,208.7L504,208.7L504.5,208.6L505,208.5L505.5,208.5L506,208.5L506.5,208.4L507,208.4L507.5,208.4L508,208.4L508.5,208.4L509,208.4L509.5,208.3L510,208.2L510.5,208.1L511,208L511.5,207.9L512,207.9L512.5,207.8L513,207.8L513.5,207.9L514,208L514.5,208L515,208L515.5,207.9L516,207.9L516.5,207.9L517,207.9L517.5,207.8L518,207.7L518.5,207.7L519,207.7L519.5,207.6L520,207.6L520.5,207.6L521,207.6L521.5,207.6L522,207.5L522.5,207.5L523,207.5L523.5,207.4L524,207.3L524.5,207.1L525,206.9L525.5,207L526,207L526.5,206.9L527,206.8L527.5,206.9L528,207L528.5,207.1L529,207.2L529.5,207.2L530,207.2L530.5,207.2L531,207.1L531.5,206.9L532,206.7L532.5,206.6L533,206.6L533.5,206.6L534,206.6L534.5,206.6L535,206.6L535.5,206.8L536,206.8L536.5,206.8L537,206.7L537.5,206.6L538,206.5L538.5,206.5L539,206.5L539.5,206.5L540,206.5L540.5,206.5L541,206.5L541.5,206.5L542,206.6L542.5,206.6L543,206.6L543.5,206.5L544,206.3L544.5,206.2L545,206.1L545.5,205.9L546,205.7L546.5,205.6L547,205.5L547.5,205.6L548,205.7L548.5,205.7L549,205.7L549.5,205.7L550,205.6L550.5,205.5L551,205.3L551.5,205.1L552,204.9L552.5,204.8L553,204.7L553.5,204.6L554,204.6L554.5,204.6L555,204.6L555.5,204.6L556,204.6L556.5,204.6L557,204.6L557.5,204.6L558,204.6L558.5,204.6L559,204.6L559.5,204.4L560,204.3L560.5,204.2L561,204.2L561.5,204.2L562,204.2L562.5,204.2L563,204.2L563.5,204.4L564,204.6L564.5,204.5L565,204.3L565.5,204.2L566,204.1L566.5,203.9L567,203.8L567.5,203.7L568,203.6L568.5,203.7L569,203.8L569.5,203.9L570,204L570.5,203.9L571,203.7L571.5,203.6L572,203.5L572.5,203.4L573,203.3L573.5,203.1L574,202.9L574.5,203L575,203.1L575.5,203L576,202.9L576.5,202.9L577,202.8L577.5,202.8L578,202.8L578.5,202.7L579,202.5L579.5,202.4L580,202.2L580.5,202.1L581,202L581.5,201.9L582,201.9L582.5,201.9L583,202L583.5,202.3L584,202.5L584.5,202.5L585,202.5L585.5,202.6L586,202.6L586.5,202.3L587,201.9L587.5,201.6L588,201.3L588.5,201.1L589,201.1L589.5,201L590,200.9L590.5,201.1L591,201.3L591.5,201.5L592,201.7L592.5,201.5L593,201.2L593.5,201L594,200.8L594.5,200.4L595,200.1L595.5,199.8L596,199.5L596.5,199.7L597,199.9L597.5,200L598,200.1L598.5,200.4L599,200.6L599.5,200.5L600,200.4L600.5,200.1L601,199.9L601.5,199.7L602,199.6L602.5,199.5L603,199.5L603.5,199.6L604,199.7L604.5,199.9L605,200L605.5,199.9L606,199.7L606.5,199.3L607,198.9L607.5,198.5L608,198L608.5,197.7L609,197.5L609.5,197.3L610,197.2L610.5,197.2L611,197.4L611.5,197.5L612,197.6L612.5,197.5L613,197.2L613.5,197.1L614,197L614.5,196.6L615,196.3L615.5,196.1L616,196L616.5,196.1L617,196.3L617.5,196.7L618,197.1L618.5,197.4L619,197.6L619.5,197.6L620,197.6L620.5,197.4L621,198.6L621.5,202.3L622,205.9L622.5,209.4L623,212.2L623.5,212.2L624,212.2L624.5,212.2L625,212.2L625.5,212.2L626,212.2L626.5,212.2L627,212.2L627.5,212.2L628,212.2L628.5,212.2L629,212.2L629.5,212.2L630,212.2L630.5,212.2" stroke="#4ca6ff" stroke-width="2.5"/>
<path d="M444.5,212.2L445,212.2L445.5,212.2L446,212.2L446.5,212.1L447,212.1L447.5,212.1L448,212.1L448.5,212L449,212L449.5,212L450,211.9L450.5,211.9L451,211.9L451.5,211.8L452,211.8L452.5,211.7L453,211.7L453.5,211.6L454,211.6L454.5,211.5L455,211.5L455.5,211.5L456,211.4L456.5,211.4L457,211.4L457.5,211.3L458,211.3L458.5,211.2L459,211.1L459.5,211.1L460,211L460.5,211L461,210.9L461.5,210.9L462,210.9L462.5,210.9L463,210.9L463.5,210.9L464,210.9L464.5,210.9L465,210.9L465.5,210.9L466,210.8L466.5,210.8L467,210.7L467.5,210.7L468,210.7L468.5,210.7L469,210.7L469.5,210.7L470,210.6L470.5,210.6L471,210.6L471.5,210.5L472,210.5L472.5,210.4L473,210.3L473.5,210.3L474,210.2L474.5,210.2L475,210.1L475.5,210.1L476,210.1L476.5,210.2L477,210.2L477.5,210.2L478,210.2L478.5,210.2L479,210.2L479.5,210.1L480,210.1L480.5,210L481,210L481.5,209.9L482,209.9L482.5,209.9L483,210L483.5,210L484,210L484.5,210L485,210.1L485.5,210L486,210L486.5,209.8L487,209.7L487.5,209.6L488,209.6L488.5,209.5L489,209.4L489.5,209.5L490,209.5L490.5,209.5L491,209.5L491.5,209.5L492,209.5L492.5,209.5L493,209.5L493.5,209.4L494,209.3L494.5,209.2L495,209.1L495.5,209.1L496,209L496.5,209L497,209L497.5,209L498,209L498.5,209.1L499,209.1L499.5,209.1L500,209.1L500.5,209L501,209L501.5,208.9L502,208.9L502.5,208.9L503,208.9L503.5,208.9L504,208.9L504.5,208.9L505,208.8L505.5,208.8L506,208.8L506.5,208.8L507,208.7L507.5,208.6L508,208.5L508.5,208.5L509,208.4L509.5,208.3L510,208.3L510.5,208.3L511,208.3L511.5,208.3L512,208.4L512.5,208.4L513,208.4L513.5,208.4L514,208.4L514.5,208.3L515,208.2L515.5,208.1L516,208L516.5,208L517,208.1L517.5,208L518,208.1L518.5,208.1L519,208.1L519.5,208.1L520,208.1L520.5,208L521,207.9L521.5,207.8L522,207.6L522.5,207.5L523,207.5L523.5,207.4L524,207.3L524.5,207.3L525,207.2L525.5,207.4L526,207.5L526.5,207.5L527,207.4L527.5,207.4L528,207.4L528.5,207.4L529,207.4L529.5,207.4L530,207.3L530.5,207.3L531,207.3L531.5,207.2L532,207.2L532.5,207.2L533,207.2L533.5,207.2L534,207.2L534.5,207.2L535,207.1L535.5,207.1L536,207L536.5,206.8L537,206.7L537.5,206.6L538,206.6L538.5,206.7L539,206.8L539.5,206.9L540,207L540.5,207L541,207L541.5,207L542,206.9L542.5,206.8L543,206.7L543.5,206.5L544,206.4L544.5,206.3L545,206.3L545.5,206.2L546,206.2L546.5,206.2L547,206.2L547.5,206.4L548,206.5L548.5,206.4L549,206.3L549.5,206.1L550,205.9L550.5,205.7L551,205.5L551.5,205.3L552,205.2L552.5,205.2L553,205.2L553.5,205.3L554,205.3L554.5,205.3L555,205.3L555.5,205.2L556,205.1L556.5,204.9L557,204.7L557.5,204.6L558,204.5L558.5,204.6L559,204.7L559.5,204.7L560,204.8L560.5,204.9L561,205L561.5,205.1L562,205.1L562.5,205L563,204.9L563.5,205L564,205L564.5,204.8L565,204.6L565.5,204.5L566,204.4L566.5,204.5L567,204.6L567.5,204.6L568,204.6L568.5,204.7L569,204.8L569.5,204.7L570,204.6L570.5,204.3L571,203.9L571.5,203.7L572,203.5L572.5,203.5L573,203.5L573.5,203.4L574,203.5L574.5,203.7L575,203.9L575.5,203.9L576,203.9L576.5,203.7L577,203.5L577.5,203.3L578,203.1L578.5,202.9L579,202.8L579.5,202.7L580,202.7L580.5,202.8L581,202.9L581.5,203L582,203.2L582.5,203.3L583,203.3L583.5,203.4L584,203.4L584.5,203.2L585,203L585.5,202.9L586,202.8L586.5,202.6L587,202.4L587.5,202.2L588,202.1L588.5,202.2L589,202.2L589.5,202.2L590,202.1L590.5,202.1L591,202L591.5,202L592,202L592.5,201.6L593,201.4L593.5,201.3L594,201.3L594.5,201.2L595,201.2L595.5,201.1L596,201.1L596.5,201.3L597,201.5L597.5,201.4L598,201.3L598.5,201.3L599,201.3L599.5,201.1L600,200.9L600.5,200.8L601,200.7L601.5,200.8L602,200.9L602.5,201L603,201.2L603.5,201.3L604,201.3L604.5,201.2L605,201L605.5,200.6L606,200.2L606.5,199.7L607,199.2L607.5,198.9L608,198.6L608.5,198.7L609,198.8L609.5,198.9L610,199L610.5,199.1L611,199.2L611.5,199.2L612,199.1L612.5,198.6L613,198.2L613.5,198L614,197.8L614.5,197.7L615,197.6L615.5,197.8L616,198L616.5,198.4L617,198.8L617.5,199.1L618,199.4L618.5,199.4L619,199.3L619.5,198.9L620,198.5L620.5,198L621,197.6L621.5,197.1L622,196.8L622.5,196.8L623,196.9L623.5,196.9L624,196.8L624.5,201.1L625,205L625.5,208.5L626,211.4L626.5,212.2L627,212.2L627.5,212.2L628,212.2L628.5,212.2L629,212.2L629.5,212.2L630,212.2L630.5,212.2L631,212.2L631.5,212.2L632,212.2L632.5,212.2L633,212.2L633.5,212.2L634,212.2" stroke="#4ca6ff" stroke-width="2.5"/>
<path d="M444.5,212.2L445,212.2L445.5,212.2L446,212.2L446.5,212.1L447,212.1L447.5,212.1L448,212.1L448.5,212.1L449,212.1L449.5,212.1L450,212L450.5,212L451,212L451.5,212L452,211.9L452.5,211.9L453,211.9L453.5,211.9L454,211.8L454.5,211.8L455,211.8L455.5,211.8L456,211.8L456.5,211.7L457,211.7L457.5,211.7L458,211.6L458.5,211.6L459,211.6L459.5,211.5L460,211.5L460.5,211.5L461,211.5L461.5,211.5L462,211.5L462.5,211.4L463,211.4L463.5,211.4L464,211.4L464.5,211.4L465,211.4L465.5,211.3L466,211.3L466.5,211.3L467,211.3L467.5,211.3L468,211.3L468.5,211.3L469,211.3L469.5,211.2L470,211.2L470.5,211.2L471,211.1L471.5,211.1L472,211.1L472.5,211L473,211L473.5,211L474,211L474.5,211L475,211L475.5,211L476,211L476.5,210.9L477,210.9L477.5,210.9L478,210.9L478.5,210.9L479,210.8L479.5,210.8L480,210.8L480.5,210.8L481,210.8L481.5,210.7L482,210.7L482.5,210.7L483,210.7L483.5,210.7L484,210.7L484.5,210.7L485,210.7L485.5,210.6L486,210.6L486.5,210.5L487,210.5L487.5,210.4L488,210.4L488.5,210.4L489,210.4L489.5,210.4L490,210.4L490.5,210.4L491,210.4L491.5,210.3L492,210.3L492.5,210.3L493,210.2L493.5,210.2L494,210.2L494.5,210.1L495,210.1L495.5,210.1L496,210.1L496.5,210.1L497,210.1L497.5,210.1L498,210L498.5,210L499,210L499.5,209.9L500,209.9L500.5,209.9L501,209.8L501.5,209.8L502,209.8L502.5,209.8L503,209.8L503.5,209.8L504,209.8L504.5,209.8L505,209.7L505.5,209.7L506,209.7L506.5,209.6L507,209.5L507.5,209.5L508,209.5L508.5,209.5L509,209.5L509.5,209.5L510,209.4L510.5,209.4L511,209.4L511.5,209.4L512,209.4L512.5,209.4L513,209.3L513.5,209.3L514,209.2L514.5,209.2L515,209.1L515.5,209.1L516,209.1L516.5,209.1L517,209.1L517.5,209.1L518,209.1L518.5,209.1L519,209.1L519.5,209L520,208.9L520.5,208.9L521,208.8L521.5,208.7L522,208.6L522.5,208.6L523,208.6L523.5,208.6L524,208.6L524.5,208.6L525,208.6L525.5,208.6L526,208.6L526.5,208.5L527,208.5L527.5,208.4L528,208.4L528.5,208.4L529,208.4L529.5,208.4L530,208.4L530.5,208.4L531,208.4L531.5,208.4L532,208.4L532.5,208.3L533,208.3L533.5,208.2L534,208.1L534.5,208.1L535,208L535.5,207.9L536,207.9L536.5,207.9L537,207.8L537.5,207.8L538,207.8L538.5,207.9L539,207.9L539.5,207.9L540,207.9L540.5,207.8L541,207.8L541.5,207.7L542,207.7L542.5,207.6L543,207.6L543.5,207.5L544,207.5L544.5,207.5L545,207.5L545.5,207.5L546,207.5L546.5,207.4L547,207.4L547.5,207.4L548,207.3L548.5,207.2L549,207.2L549.5,207.1L550,207L550.5,206.9L551,206.8L551.5,206.8L552,206.8L552.5,206.8L553,206.7L553.5,206.7L554,206.6L554.5,206.6L555,206.5L555.5,206.4L556,206.2L556.5,206.1L557,206.1L557.5,206.1L558,206.1L558.5,206.2L559,206.3L559.5,206.3L560,206.3L560.5,206.3L561,206.3L561.5,206.2L562,206.1L562.5,206L563,206L563.5,206L564,206L564.5,205.9L565,205.9L565.5,205.9L566,205.9L566.5,205.9L567,205.9L567.5,205.8L568,205.7L568.5,205.7L569,205.6L569.5,205.5L570,205.4L570.5,205.2L571,205.1L571.5,205L572,205L572.5,205L573,205.1L573.5,205.1L574,205L574.5,205.1L575,205.1L575.5,205L576,204.9L576.5,204.7L577,204.6L577.5,204.5L578,204.4L578.5,204.4L579,204.4L579.5,204.5L580,204.5L580.5,204.5L581,204.6L581.5,204.5L582,204.5L582.5,204.4L583,204.3L583.5,204.2L584,204.2L584.5,204.1L585,204L585.5,204L586,204L586.5,203.9L587,203.9L587.5,203.8L588,203.7L588.5,203.6L589,203.5L589.5,203.4L590,203.2L590.5,203.1L591,203L591.5,203L592,203.1L592.5,203L593,202.9L593.5,203L594,203L594.5,203L595,203L595.5,202.9L596,202.8L596.5,202.7L597,202.7L597.5,202.5L598,202.4L598.5,202.4L599,202.4L599.5,202.4L600,202.4L600.5,202.4L601,202.4L601.5,202.4L602,202.4L602.5,202.3L603,202.2L603.5,202.1L604,201.9L604.5,201.8L605,201.6L605.5,201.4L606,201.3L606.5,201.1L607,201L607.5,200.9L608,200.9L608.5,200.9L609,200.9L609.5,200.9L610,200.8L610.5,200.7L611,200.6L611.5,200.4L612,200.3L612.5,200.2L613,200L613.5,200L614,200.1L614.5,200.1L615,200.1L615.5,200.2L616,200.2L616.5,200.2L617,200.2L617.5,200.2L618,200.1L618.5,200L619,199.8L619.5,199.6L620,199.5L620.5,199.3L621,199.2L621.5,199.1L622,199L622.5,199L623,198.9L623.5,198.7L624,198.4L624.5,198.3L625,198.2L625.5,198.1L626,198L626.5,197.8L627,197.7L627.5,197.8L628,198L628.5,198.1L629,200.9L629.5,203.6L630,206.1L630.5,208.5L631,210.6L631.5,212.2L632,212.2L632.5,212.2L633,212.2L633.5,212.2L634,212.2L634.5,212.2L635,212.2L635.5,212.2L636,212.2L636.5,212.2L637,212.2L637.5,212.2L638,212.2L638.5,212.2" stroke="#794cff" stroke-width="2.5"/>
<path d="M444.5,212.2L445,212.2L445.5,212.2L446,212.2L446.5,212.2L447,212.1L447.5,212.1L448,212.1L448.5,212.1L449,212.1L449.5,212.1L450,212L450.5,212L451,212L451.5,212L452,212L452.5,212L453,211.9L453.5,211.9L454,211.9L454.5,211.9L455,211.8L455.5,211.8L456,211.8L456.5,211.8L457,211.7L457.5,211.7L458,211.7L458.5,211.7L459,211.6L459.5,211.6L460,211.6L460.5,211.6L461,211.6L461.5,211.5L462,211.5L462.5,211.5L463,211.5L463.5,211.5L464,211.5L464.5,211.4L465,211.4L465.5,211.4L466,211.4L466.5,211.4L467,211.4L467.5,211.4L468,211.4L468.5,211.4L469,211.3L469.5,211.3L470,211.3L470.5,211.2L471,211.2L471.5,211.2L472,211.2L472.5,211.2L473,211.1L473.5,211.1L474,211.1L474.5,211.1L475,211.1L475.5,211.1L476,211.1L476.5,211.1L477,211L477.5,211L478,211L478.5,211L479,211L479.5,211L480,211L480.5,211L481,210.9L481.5,210.9L482,210.9L482.5,210.9L483,210.9L483.5,210.8L484,210.8L484.5,210.8L485,210.8L485.5,210.8L486,210.7L486.5,210.7L487,210.6L487.5,210.6L488,210.6L488.5,210.6L489,210.6L489.5,210.6L490,210.6L490.5,210.6L491,210.5L491.5,210.5L492,210.5L492.5,210.5L493,210.4L493.5,210.4L494,210.4L494.5,210.4L495,210.4L495.5,210.4L496,210.4L496.5,210.3L497,210.3L497.5,210.3L498,210.2L498.5,210.2L499,210.2L499.5,210.1L500,210.1L500.5,210.1L501,210.1L501.5,210.1L502,210.1L502.5,210.1L503,210.1L503.5,210.1L504,210L504.5,210L505,209.9L505.5,209.9L506,209.9L506.5,209.8L507,209.8L507.5,209.8L508,209.8L508.5,209.8L509,209.8L509.5,209.8L510,209.8L510.5,209.8L511,209.7L511.5,209.7L512,209.7L512.5,209.6L513,209.6L513.5,209.6L514,209.6L514.5,209.5L515,209.5L515.5,209.5L516,209.5L516.5,209.5L517,209.5L517.5,209.4L518,209.4L518.5,209.3L519,209.3L519.5,209.2L520,209.2L520.5,209.1L521,209.1L521.5,209.1L522,209L522.5,209.1L523,209.1L523.5,209.1L524,209L524.5,209L525,208.9L525.5,208.9L526,208.9L526.5,208.9L527,208.8L527.5,208.8L528,208.8L528.5,208.9L529,208.9L529.5,208.9L530,208.9L530.5,208.9L531,208.9L531.5,208.8L532,208.7L532.5,208.7L533,208.6L533.5,208.5L534,208.5L534.5,208.4L535,208.4L535.5,208.4L536,208.4L536.5,208.4L537,208.4L537.5,208.3L538,208.3L538.5,208.3L539,208.3L539.5,208.3L540,208.2L540.5,208.2L541,208.1L541.5,208.1L542,208.1L542.5,208.1L543,208.1L543.5,208.1L544,208.1L544.5,208.1L545,208.1L545.5,208L546,208L546.5,207.9L547,207.8L547.5,207.8L548,207.8L548.5,207.7L549,207.7L549.5,207.6L550,207.6L550.5,207.6L551,207.5L551.5,207.4L552,207.4L552.5,207.3L553,207.2L553.5,207.1L554,207.1L554.5,207L555,206.9L555.5,206.9L556,206.8L556.5,206.8L557,206.8L557.5,206.9L558,206.9L558.5,207L559,207L559.5,206.9L560,206.9L560.5,206.9L561,206.8L561.5,206.8L562,206.7L562.5,206.7L563,206.7L563.5,206.7L564,206.8L564.5,206.8L565,206.7L565.5,206.7L566,206.7L566.5,206.6L567,206.5L567.5,206.4L568,206.3L568.5,206.2L569,206.2L569.5,206.1L570,206.1L570.5,206L571,205.9L571.5,205.9L572,205.9L572.5,205.9L573,205.9L573.5,205.8L574,205.7L574.5,205.7L575,205.7L575.5,205.6L576,205.6L576.5,205.5L577,205.5L577.5,205.5L578,205.5L578.5,205.5L579,205.5L579.5,205.5L580,205.5L580.5,205.4L581,205.4L581.5,205.3L582,205.2L582.5,205.1L583,205L583.5,205L584,205.1L584.5,205L585,205L585.5,205L586,205L586.5,204.9L587,204.8L587.5,204.7L588,204.5L588.5,204.4L589,204.2L589.5,204.1L590,204L590.5,204L591,204L591.5,204.1L592,204.2L592.5,204.2L593,204.2L593.5,204.2L594,204.2L594.5,204.1L595,204L595.5,203.8L596,203.7L596.5,203.7L597,203.7L597.5,203.6L598,203.6L598.5,203.7L599,203.8L599.5,203.8L600,203.7L600.5,203.7L601,203.6L601.5,203.5L602,203.3L602.5,203.2L603,203.1L603.5,202.9L604,202.9L604.5,202.8L605,202.8L605.5,202.7L606,202.6L606.5,202.6L607,202.5L607.5,202.4L608,202.2L608.5,202.2L609,202.1L609.5,202L610,201.9L610.5,201.8L611,201.8L611.5,201.8L612,201.8L612.5,201.8L613,201.8L613.5,201.8L614,201.8L614.5,201.8L615,201.7L615.5,201.6L616,201.5L616.5,201.4L617,201.3L617.5,201.3L618,201.3L618.5,201.3L619,201.2L619.5,201.2L620,201.1L620.5,201L621,200.9L621.5,200.7L622,200.5L622.5,200.4L623,200.2L623.5,199.9L624,199.7L624.5,199.6L625,199.6L625.5,199.6L626,199.7L626.5,199.7L627,199.8L627.5,199.9L628,200L628.5,199.9L629,199.8L629.5,199.6L630,199.4L630.5,199.4L631,199.3L631.5,200.2L632,202.7L632.5,205.2L633,207.5L633.5,209.6L634,211.4L634.5,212.2L635,212.2L635.5,212.2L636,212.2L636.5,212.2L637,212.2L637.5,212.2L638,212.2L638.5,212.2L639,212.2L639.5,212.2L640,212.2L640.5,212.2L641,212.2" stroke="#794cff" stroke-width="2.5"/>
<path d="M444.5,212.2L445,212.2L445.5,212.2L446,212.2L446.5,212.2L447,212.1L447.5,212.1L448,212.1L448.5,212.1L449,212.1L449.5,212.1L450,212.1L450.5,212L451,212L451.5,212L452,212L452.5,212L453,212L453.5,211.9L454,211.9L454.5,211.9L455,211.9L455.5,211.9L456,211.8L456.5,211.8L457,211.8L457.5,211.8L458,211.8L458.5,211.7L459,211.7L459.5,211.7L460,211.7L460.5,211.6L461,211.6L461.5,211.6L462,211.6L462.5,211.6L463,211.6L463.5,211.6L464,211.6L464.5,211.5L465,211.5L465.5,211.5L466,211.5L466.5,211.5L467,211.5L467.5,211.5L468,211.4L468.5,211.4L469,211.4L469.5,211.4L470,211.4L470.5,211.4L471,211.3L471.5,211.3L472,211.3L472.5,211.3L473,211.3L473.5,211.3L474,211.3L474.5,211.2L475,211.2L475.5,211.2L476,211.2L476.5,211.2L477,211.2L477.5,211.2L478,211.2L478.5,211.2L479,211.1L479.5,211.1L480,211.1L480.5,211.1L481,211.1L481.5,211L482,211L482.5,211L483,211L483.5,211L484,210.9L484.5,210.9L485,210.9L485.5,210.9L486,210.9L486.5,210.9L487,210.8L487.5,210.8L488,210.8L488.5,210.8L489,210.7L489.5,210.7L490,210.7L490.5,210.7L491,210.7L491.5,210.7L492,210.7L492.5,210.7L493,210.7L493.5,210.7L494,210.7L494.5,210.6L495,210.6L495.5,210.6L496,210.5L496.5,210.5L497,210.5L497.5,210.4L498,210.4L498.5,210.4L499,210.4L499.5,210.4L500,210.4L500.5,210.4L501,210.4L501.5,210.3L502,210.3L502.5,210.3L503,210.3L503.5,210.2L504,210.2L504.5,210.2L505,210.2L505.5,210.2L506,210.2L506.5,210.1L507,210.1L507.5,210.1L508,210.1L508.5,210.1L509,210.1L509.5,210.1L510,210L510.5,210L511,210L511.5,210L512,209.9L512.5,209.9L513,209.9L513.5,209.9L514,209.9L514.5,209.9L515,209.9L515.5,209.8L516,209.8L516.5,209.7L517,209.7L517.5,209.7L518,209.6L518.5,209.6L519,209.6L519.5,209.6L520,209.6L520.5,209.5L521,209.5L521.5,209.5L522,209.4L522.5,209.4L523,209.4L523.5,209.4L524,209.3L524.5,209.3L525,209.3L525.5,209.3L526,209.3L526.5,209.3L527,209.3L527.5,209.3L528,209.3L528.5,209.3L529,209.3L529.5,209.3L530,209.3L530.5,209.2L531,209.2L531.5,209.1L532,209.1L532.5,209L533,209L533.5,209L534,208.9L534.5,208.9L535,208.9L535.5,208.9L536,208.9L536.5,208.8L537,208.7L537.5,208.7L538,208.7L538.5,208.7L539,208.7L539.5,208.7L540,208.7L540.5,208.7L541,208.7L541.5,208.7L542,208.7L542.5,208.7L543,208.7L543.5,208.7L544,208.6L544.5,208.6L545,208.5L545.5,208.5L546,208.4L546.5,208.4L547,208.3L547.5,208.3L548,208.4L548.5,208.3L549,208.3L549.5,208.2L550,208.2L550.5,208.1L551,208L551.5,207.9L552,207.8L552.5,207.7L553,207.7L553.5,207.6L554,207.6L554.5,207.6L555,207.6L555.5,207.6L556,207.6L556.5,207.6L557,207.5L557.5,207.5L558,207.5L558.5,207.5L559,207.5L559.5,207.5L560,207.5L560.5,207.5L561,207.5L561.5,207.5L562,207.5L562.5,207.5L563,207.5L563.5,207.5L564,207.5L564.5,207.4L565,207.3L565.5,207.3L566,207.2L566.5,207.1L567,207L567.5,207L568,206.9L568.5,206.9L569,206.9L569.5,206.9L570,206.9L570.5,206.8L571,206.7L571.5,206.6L572,206.6L572.5,206.5L573,206.5L573.5,206.4L574,206.4L574.5,206.4L575,206.5L575.5,206.5L576,206.5L576.5,206.5L577,206.5L577.5,206.5L578,206.4L578.5,206.4L579,206.3L579.5,206.2L580,206.2L580.5,206.1L581,206.1L581.5,206L582,206L582.5,206L583,206L583.5,206L584,206.1L584.5,206L585,205.9L585.5,205.8L586,205.8L586.5,205.6L587,205.5L587.5,205.3L588,205.2L588.5,205.2L589,205.2L589.5,205.1L590,205.1L590.5,205.2L591,205.2L591.5,205.3L592,205.3L592.5,205.3L593,205.2L593.5,205.1L594,205.1L594.5,205L595,204.9L595.5,204.8L596,204.8L596.5,204.8L597,204.9L597.5,204.9L598,204.9L598.5,204.9L599,204.9L599.5,204.8L600,204.7L600.5,204.5L601,204.4L601.5,204.3L602,204.2L602.5,204.1L603,204.1L603.5,204.1L604,204.1L604.5,204.1L605,204.1L605.5,204L606,203.9L606.5,203.7L607,203.6L607.5,203.4L608,203.3L608.5,203.2L609,203.2L609.5,203.2L610,203.2L610.5,203.3L611,203.3L611.5,203.4L612,203.4L612.5,203.4L613,203.2L613.5,203.2L614,203.1L614.5,202.9L615,202.8L615.5,202.7L616,202.7L616.5,202.7L617,202.7L617.5,202.7L618,202.8L618.5,202.8L619,202.8L619.5,202.7L620,202.5L620.5,202.3L621,202.1L621.5,201.9L622,201.7L622.5,201.6L623,201.5L623.5,201.4L624,201.3L624.5,201.3L625,201.5L625.5,201.5L626,201.6L626.5,201.6L627,201.6L627.5,201.5L628,201.5L628.5,201.3L629,201.2L629.5,201L630,200.9L630.5,200.9L631,201L631.5,200.9L632,200.9L632.5,200.9L633,200.9L633.5,201L634,200.9L634.5,202.5L635,204.6L635.5,206.7L636,208.6L636.5,210.4L637,211.9L637.5,212.2L638,212.2L638.5,212.2L639,212.2L639.5,212.2L640,212.2L640.5,212.2L641,212.2L641.5,212.2L642,212.2L642.5,212.2L643,212.2L643.5,212.2L644,212.2" stroke="#794cff" stroke-width="2.5"/>
<path d="M444.5,212.2L445,212.2L445.5,212.2L446,212.2L446.5,212.2L447,212.2L447.5,212.1L448,212.1L448.5,212.1L449,212.1L449.5,212.1L450,212.1L450.5,212.1L451,212.1L451.5,212L452,212L452.5,212L453,212L453.5,212L454,211.9L454.5,211.9L455,211.9L455.5,211.9L456,211.9L456.5,211.9L457,211.9L457.5,211.8L458,211.8L458.5,211.8L459,211.8L459.5,211.8L460,211.7L460.5,211.7L461,211.7L461.5,211.7L462,211.7L462.5,211.7L463,211.7L463.5,211.6L464,211.6L464.5,211.6L465,211.6L465.5,211.6L466,211.6L466.5,211.6L467,211.5L467.5,211.5L468,211.5L468.5,211.5L469,211.5L469.5,211.5L470,211.5L470.5,211.5L471,211.5L471.5,211.4L472,211.4L472.5,211.4L473,211.4L473.5,211.4L474,211.4L474.5,211.3L475,211.3L475.5,211.3L476,211.3L476.5,211.3L477,211.3L477.5,211.3L478,211.3L478.5,211.3L479,211.3L479.5,211.2L480,211.2L480.5,211.2L481,211.2L481.5,211.2L482,211.1L482.5,211.1L483,211.1L483.5,211.1L484,211.1L484.5,211.1L485,211.1L485.5,211.1L486,211.1L486.5,211L487,211L487.5,211L488,211L488.5,210.9L489,210.9L489.5,210.9L490,210.9L490.5,210.9L491,210.9L491.5,210.9L492,210.9L492.5,210.9L493,210.9L493.5,210.9L494,210.8L494.5,210.8L495,210.8L495.5,210.7L496,210.7L496.5,210.7L497,210.7L497.5,210.7L498,210.7L498.5,210.7L499,210.6L499.5,210.6L500,210.6L500.5,210.6L501,210.5L501.5,210.5L502,210.5L502.5,210.5L503,210.5L503.5,210.5L504,210.5L504.5,210.5L505,210.5L505.5,210.5L506,210.5L506.5,210.4L507,210.4L507.5,210.4L508,210.4L508.5,210.3L509,210.3L509.5,210.3L510,210.3L510.5,210.3L511,210.3L511.5,210.3L512,210.3L512.5,210.3L513,210.2L513.5,210.2L514,210.2L514.5,210.1L515,210.1L515.5,210L516,210L516.5,210L517,210L517.5,210L518,210L518.5,210L519,210L519.5,210L520,209.9L520.5,209.9L521,209.9L521.5,209.8L522,209.8L522.5,209.7L523,209.7L523.5,209.7L524,209.7L524.5,209.7L525,209.7L525.5,209.7L526,209.8L526.5,209.7L527,209.7L527.5,209.7L528,209.7L528.5,209.7L529,209.6L529.5,209.6L530,209.6L530.5,209.6L531,209.5L531.5,209.5L532,209.5L532.5,209.5L533,209.4L533.5,209.4L534,209.4L534.5,209.3L535,209.3L535.5,209.2L536,209.2L536.5,209.2L537,209.1L537.5,209.1L538,209.1L538.5,209.1L539,209.2L539.5,209.2L540,209.2L540.5,209.2L541,209.2L541.5,209.2L542,209.2L542.5,209.1L543,209.1L543.5,209.1L544,209L544.5,209L545,209L545.5,209L546,208.9L546.5,208.9L547,208.9L547.5,208.9L548,208.9L548.5,208.8L549,208.8L549.5,208.7L550,208.6L550.5,208.5L551,208.4L551.5,208.3L552,208.3L552.5,208.3L553,208.3L553.5,208.3L554,208.3L554.5,208.3L555,208.3L555.5,208.2L556,208.2L556.5,208.1L557,208.1L557.5,208.1L558,208.1L558.5,208.1L559,208.1L559.5,208.2L560,208.2L560.5,208.2L561,208.2L561.5,208.2L562,208.2L562.5,208.1L563,208.1L563.5,208.1L564,208L564.5,207.9L565,207.9L565.5,207.8L566,207.8L566.5,207.8L567,207.8L567.5,207.7L568,207.7L568.5,207.7L569,207.7L569.5,207.6L570,207.5L570.5,207.4L571,207.3L571.5,207.2L572,207.2L572.5,207.2L573,207.2L573.5,207.2L574,207.3L574.5,207.3L575,207.4L575.5,207.4L576,207.4L576.5,207.3L577,207.2L577.5,207.2L578,207.1L578.5,207L579,207L579.5,207L580,207L580.5,207L581,207L581.5,207L582,207L582.5,206.9L583,206.9L583.5,206.8L584,206.8L584.5,206.7L585,206.6L585.5,206.5L586,206.5L586.5,206.4L587,206.3L587.5,206.3L588,206.3L588.5,206.3L589,206.3L589.5,206.2L590,206.2L590.5,206.2L591,206.2L591.5,206.2L592,206.2L592.5,206.1L593,206L593.5,206L594,206.1L594.5,206L595,206L595.5,206L596,206L596.5,206L597,206L597.5,205.9L598,205.8L598.5,205.7L599,205.7L599.5,205.6L600,205.5L600.5,205.4L601,205.4L601.5,205.4L602,205.4L602.5,205.4L603,205.3L603.5,205.3L604,205.3L604.5,205.2L605,205.1L605.5,205L606,204.9L606.5,204.7L607,204.6L607.5,204.6L608,204.5L608.5,204.6L609,204.7L609.5,204.7L610,204.7L610.5,204.7L611,204.7L611.5,204.7L612,204.6L612.5,204.5L613,204.3L613.5,204.2L614,204.2L614.5,204.1L615,204.1L615.5,204.1L616,204.1L616.5,204.1L617,204.1L617.5,204.2L618,204.2L618.5,204.1L619,204L619.5,203.8L620,203.6L620.5,203.4L621,203.3L621.5,203.2L622,203.1L622.5,203.1L623,203.2L623.5,203.1L624,203.1L624.5,203.1L625,203.1L625.5,203.1L626,203.1L626.5,203L627,202.9L627.5,202.9L628,202.9L628.5,202.8L629,202.8L629.5,202.8L630,202.8L630.5,202.8L631,202.8L631.5,202.7L632,202.6L632.5,202.5L633,202.4L633.5,202.2L634,202.1L634.5,201.9L635,201.7L635.5,201.8L636,201.8L636.5,201.9L637,202.2L637.5,204.1L638,206.1L638.5,207.9L639,209.6L639.5,211.2L640,212.2L640.5,212.2L641,212.2L641.5,212.2L642,212.2L642.5,212.2L643,212.2L643.5,212.2L644,212.2L644.5,212.2L645,212.2L645.5,212.2L646,212.2L646.5,212.2" stroke="#794cff" stroke-width="2.5"/>
<path d="M444.5,212.2L445,212.2L445.5,212.2L446,212.2L446.5,212.2L447,212.2L447.5,212.1L448,212.1L448.5,212.1L449,212.1L449.5,212.1L450,212.1L450.5,212.1L451,212.1L451.5,212.1L452,212L452.5,212L453,212L453.5,212L454,212L454.5,212L455,212L455.5,212L456,211.9L456.5,211.9L457,211.9L457.5,211.9L458,211.9L458.5,211.9L459,211.8L459.5,211.8L460,211.8L460.5,211.8L461,211.8L461.5,211.8L462,211.7L462.5,211.7L463,211.7L463.5,211.7L464,211.7L464.5,211.7L465,211.7L465.5,211.7L466,211.6L466.5,211.6L467,211.6L467.5,211.6L468,211.6L468.5,211.6L469,211.6L469.5,211.6L470,211.6L470.5,211.6L471,211.6L471.5,211.5L472,211.5L472.5,211.5L473,211.5L473.5,211.5L474,211.5L474.5,211.5L475,211.5L475.5,211.5L476,211.5L476.5,211.5L477,211.4L477.5,211.4L478,211.4L478.5,211.4L479,211.4L479.5,211.4L480,211.4L480.5,211.3L481,211.3L481.5,211.3L482,211.3L482.5,211.3L483,211.3L483.5,211.3L484,211.3L484.5,211.3L485,211.3L485.5,211.2L486,211.2L486.5,211.2L487,211.1L487.5,211.1L488,211.1L488.5,211.1L489,211.1L489.5,211.1L490,211.2L490.5,211.1L491,211.1L491.5,211.1L492,211.1L492.5,211.1L493,211L493.5,211L494,211L494.5,211L495,211L495.5,211L496,211L496.5,210.9L497,210.9L497.5,210.9L498,210.9L498.5,210.9L499,210.8L499.5,210.8L500,210.8L500.5,210.8L501,210.8L501.5,210.8L502,210.8L502.5,210.8L503,210.8L503.5,210.8L504,210.8L504.5,210.8L505,210.7L505.5,210.7L506,210.7L506.5,210.7L507,210.6L507.5,210.6L508,210.6L508.5,210.6L509,210.6L509.5,210.6L510,210.6L510.5,210.6L511,210.6L511.5,210.6L512,210.6L512.5,210.5L513,210.5L513.5,210.4L514,210.4L514.5,210.4L515,210.4L515.5,210.3L516,210.3L516.5,210.3L517,210.4L517.5,210.3L518,210.3L518.5,210.3L519,210.3L519.5,210.3L520,210.2L520.5,210.2L521,210.2L521.5,210.1L522,210.1L522.5,210.1L523,210.1L523.5,210.1L524,210.1L524.5,210.1L525,210.1L525.5,210.1L526,210.1L526.5,210.1L527,210L527.5,210L528,210L528.5,210L529,210L529.5,210L530,210L530.5,210L531,210L531.5,209.9L532,209.9L532.5,209.9L533,209.8L533.5,209.8L534,209.7L534.5,209.7L535,209.6L535.5,209.6L536,209.6L536.5,209.6L537,209.6L537.5,209.6L538,209.6L538.5,209.7L539,209.7L539.5,209.7L540,209.7L540.5,209.7L541,209.6L541.5,209.6L542,209.6L542.5,209.6L543,209.6L543.5,209.5L544,209.5L544.5,209.5L545,209.5L545.5,209.5L546,209.5L546.5,209.4L547,209.4L547.5,209.3L548,209.3L548.5,209.2L549,209.2L549.5,209.1L550,209.1L550.5,209L551,209L551.5,209L552,209L552.5,209L553,208.9L553.5,208.9L554,208.9L554.5,208.8L555,208.8L555.5,208.8L556,208.7L556.5,208.7L557,208.7L557.5,208.7L558,208.8L558.5,208.8L559,208.9L559.5,208.9L560,208.9L560.5,208.8L561,208.8L561.5,208.8L562,208.7L562.5,208.6L563,208.6L563.5,208.6L564,208.6L564.5,208.6L565,208.5L565.5,208.5L566,208.5L566.5,208.5L567,208.5L567.5,208.4L568,208.3L568.5,208.3L569,208.2L569.5,208.2L570,208.1L570.5,208.1L571,208L571.5,208L572,208L572.5,208.1L573,208.1L573.5,208.1L574,208.1L574.5,208.1L575,208.1L575.5,208.1L576,208L576.5,208L577,207.9L577.5,207.9L578,207.9L578.5,207.8L579,207.8L579.5,207.9L580,207.8L580.5,207.8L581,207.8L581.5,207.8L582,207.7L582.5,207.6L583,207.5L583.5,207.5L584,207.5L584.5,207.4L585,207.4L585.5,207.4L586,207.4L586.5,207.4L587,207.3L587.5,207.3L588,207.3L588.5,207.2L589,207.2L589.5,207.1L590,207L590.5,207L591,207L591.5,207L592,207.1L592.5,207.1L593,207.1L593.5,207.1L594,207.2L594.5,207.1L595,207.1L595.5,207L596,206.9L596.5,206.8L597,206.8L597.5,206.7L598,206.6L598.5,206.6L599,206.6L599.5,206.6L600,206.6L600.5,206.6L601,206.5L601.5,206.5L602,206.5L602.5,206.4L603,206.3L603.5,206.3L604,206.2L604.5,206.1L605,206.1L605.5,206L606,206L606.5,206L607,205.9L607.5,205.9L608,205.9L608.5,206L609,206L609.5,205.9L610,205.9L610.5,205.8L611,205.8L611.5,205.7L612,205.7L612.5,205.6L613,205.5L613.5,205.5L614,205.5L614.5,205.5L615,205.5L615.5,205.4L616,205.4L616.5,205.4L617,205.3L617.5,205.2L618,205.2L618.5,205.1L619,205L619.5,205L620,204.9L620.5,204.9L621,204.8L621.5,204.8L622,204.8L622.5,204.8L623,204.8L623.5,204.6L624,204.5L624.5,204.5L625,204.4L625.5,204.4L626,204.4L626.5,204.4L627,204.4L627.5,204.5L628,204.5L628.5,204.5L629,204.5L629.5,204.4L630,204.4L630.5,204.3L631,204.2L631.5,204L632,203.9L632.5,203.8L633,203.7L633.5,203.6L634,203.6L634.5,203.5L635,203.5L635.5,203.6L636,203.6L636.5,203.6L637,203.5L637.5,203.3L638,203.1L638.5,203L639,203L639.5,202.9L640,203.8L640.5,205.6L641,207.4L641.5,209L642,210.5L642.5,211.8L643,212.2L643.5,212.2L644,212.2L644.5,212.2L645,212.2L645.5,212.2L646,212.2L646.5,212.2L647,212.2L647.5,212.2L648,212.2L648.5,212.2L649,212.2L649.5,212.2" stroke="#794cff" stroke-width="2.5"/>
<path d="M444.5,212.2L445,212.2L445.5,212.2L446,212.2L446.5,212.2L447,212.2L447.5,212.2L448,212.1L448.5,212.1L449,212.1L449.5,212.1L450,212.1L450.5,212.1L451,212.1L451.5,212.1L452,212.1L452.5,212.1L453,212.1L453.5,212L454,212L454.5,212L455,212L455.5,212L456,212L456.5,212L457,212L457.5,211.9L458,211.9L458.5,211.9L459,211.9L459.5,211.9L460,211.9L460.5,211.9L461,211.8L461.5,211.8L462,211.8L462.5,211.8L463,211.8L463.5,211.8L464,211.8L464.5,211.8L465,211.8L465.5,211.8L466,211.8L466.5,211.7L467,211.7L467.5,211.7L468,211.7L468.5,211.7L469,211.7L469.5,211.7L470,211.7L470.5,211.7L471,211.7L471.5,211.7L472,211.6L472.5,211.6L473,211.6L473.5,211.6L474,211.6L474.5,211.6L475,211.6L475.5,211.6L476,211.6L476.5,211.6L477,211.6L477.5,211.5L478,211.5L478.5,211.5L479,211.5L479.5,211.5L480,211.5L480.5,211.5L481,211.5L481.5,211.5L482,211.5L482.5,211.4L483,211.4L483.5,211.4L484,211.4L484.5,211.4L485,211.4L485.5,211.4L486,211.4L486.5,211.4L487,211.4L487.5,211.4L488,211.4L488.5,211.3L489,211.3L489.5,211.3L490,211.3L490.5,211.3L491,211.3L491.5,211.3L492,211.3L492.5,211.3L493,211.3L493.5,211.2L494,211.2L494.5,211.2L495,211.2L495.5,211.2L496,211.2L496.5,211.1L497,211.1L497.5,211.1L498,211.1L498.5,211.1L499,211L499.5,211L500,211L500.5,211L501,211L501.5,211L502,211L502.5,211L503,211L503.5,211L504,211L504.5,211L505,211L505.5,210.9L506,210.9L506.5,210.9L507,210.9L507.5,210.9L508,210.9L508.5,210.9L509,210.9L509.5,210.9L510,210.9L510.5,210.9L511,210.8L511.5,210.8L512,210.8L512.5,210.8L513,210.7L513.5,210.7L514,210.7L514.5,210.7L515,210.7L515.5,210.7L516,210.7L516.5,210.7L517,210.7L517.5,210.6L518,210.6L518.5,210.6L519,210.6L519.5,210.6L520,210.6L520.5,210.5L521,210.5L521.5,210.5L522,210.5L522.5,210.5L523,210.5L523.5,210.5L524,210.5L524.5,210.5L525,210.5L525.5,210.4L526,210.4L526.5,210.4L527,210.4L527.5,210.4L528,210.4L528.5,210.4L529,210.4L529.5,210.4L530,210.4L530.5,210.4L531,210.3L531.5,210.3L532,210.2L532.5,210.2L533,210.2L533.5,210.1L534,210.1L534.5,210.1L535,210.1L535.5,210.1L536,210.1L536.5,210.1L537,210.1L537.5,210.1L538,210.1L538.5,210.1L539,210.1L539.5,210.1L540,210.1L540.5,210.1L541,210.1L541.5,210.1L542,210.1L542.5,210.1L543,210.1L543.5,210.1L544,210L544.5,210L545,210L545.5,209.9L546,209.9L546.5,209.8L547,209.8L547.5,209.8L548,209.8L548.5,209.7L549,209.7L549.5,209.7L550,209.7L550.5,209.6L551,209.6L551.5,209.6L552,209.5L552.5,209.5L553,209.5L553.5,209.4L554,209.4L554.5,209.4L555,209.4L555.5,209.4L556,209.4L556.5,209.4L557,209.4L557.5,209.4L558,209.4L558.5,209.4L559,209.5L559.5,209.4L560,209.4L560.5,209.4L561,209.3L561.5,209.3L562,209.3L562.5,209.3L563,209.2L563.5,209.3L564,209.3L564.5,209.2L565,209.2L565.5,209.2L566,209.1L566.5,209.1L567,209L567.5,209L568,208.9L568.5,208.9L569,208.9L569.5,208.9L570,208.9L570.5,208.9L571,208.9L571.5,208.9L572,208.9L572.5,208.9L573,208.9L573.5,208.8L574,208.8L574.5,208.8L575,208.8L575.5,208.8L576,208.8L576.5,208.7L577,208.7L577.5,208.7L578,208.7L578.5,208.7L579,208.7L579.5,208.6L580,208.6L580.5,208.5L581,208.5L581.5,208.4L582,208.4L582.5,208.3L583,208.3L583.5,208.3L584,208.3L584.5,208.3L585,208.3L585.5,208.3L586,208.3L586.5,208.3L587,208.2L587.5,208.2L588,208.1L588.5,208L589,208L589.5,208L590,208L590.5,208L591,208L591.5,208.1L592,208.1L592.5,208.1L593,208.1L593.5,208.1L594,208L594.5,208L595,207.9L595.5,207.8L596,207.7L596.5,207.7L597,207.7L597.5,207.7L598,207.6L598.5,207.7L599,207.7L599.5,207.7L600,207.6L600.5,207.6L601,207.5L601.5,207.4L602,207.4L602.5,207.3L603,207.3L603.5,207.3L604,207.3L604.5,207.3L605,207.3L605.5,207.3L606,207.3L606.5,207.3L607,207.2L607.5,207.2L608,207.1L608.5,207.1L609,207L609.5,207L610,206.9L610.5,206.9L611,206.9L611.5,206.9L612,206.9L612.5,206.9L613,206.8L613.5,206.8L614,206.8L614.5,206.7L615,206.6L615.5,206.5L616,206.5L616.5,206.4L617,206.4L617.5,206.4L618,206.4L618.5,206.4L619,206.4L619.5,206.4L620,206.4L620.5,206.4L621,206.3L621.5,206.2L622,206.1L622.5,206.1L623,206L623.5,205.9L624,205.8L624.5,205.8L625,205.9L625.5,205.9L626,206L626.5,206L627,206L627.5,206L628,206L628.5,206L629,205.9L629.5,205.7L630,205.6L630.5,205.5L631,205.5L631.5,205.4L632,205.3L632.5,205.3L633,205.3L633.5,205.3L634,205.3L634.5,205.3L635,205.2L635.5,205.2L636,205.2L636.5,205.1L637,205L637.5,204.8L638,204.7L638.5,204.7L639,204.7L639.5,204.7L640,204.7L640.5,204.7L641,204.7L641.5,204.8L642,204.9L642.5,204.8L643,206L643.5,207.4L644,208.7L644.5,210L645,211.2L645.5,212.1L646,212.2L646.5,212.2L647,212.2L647.5,212.2L648,212.2L648.5,212.2L649,212.2L649.5,212.2L650,212.2L650.5,212.2L651,212.2L651.5,212.2L652,212.2L652.5,212.2" stroke="#794cff" stroke-width="2.5"/>
<path d="M444.5,212.2L445,212.2L445.5,212.2L446,212.2L446.5,212.2L447,212.2L447.5,212.2L448,212.2L448.5,212.2L449,212.1L449.5,212.1L450,212.1L450.5,212.1L451,212.1L451.5,212.1L452,212.1L452.5,212.1L453,212.1L453.5,212.1L454,212.1L454.5,212.1L455,212L455.5,212L456,212L456.5,212L457,212L457.5,212L458,212L458.5,212L459,212L459.5,212L460,211.9L460.5,211.9L461,211.9L461.5,211.9L462,211.9L462.5,211.9L463,211.9L463.5,211.9L464,211.9L464.5,211.9L465,211.9L465.5,211.9L466,211.8L466.5,211.8L467,211.8L467.5,211.8L468,211.8L468.5,211.8L469,211.8L469.5,211.8L470,211.8L470.5,211.8L471,211.8L471.5,211.8L472,211.8L472.5,211.8L473,211.8L473.5,211.7L474,211.7L474.5,211.7L475,211.7L475.5,211.7L476,211.7L476.5,211.7L477,211.7L477.5,211.7L478,211.7L478.5,211.7L479,211.7L479.5,211.7L480,211.7L480.5,211.6L481,211.6L481.5,211.6L482,211.6L482.5,211.6L483,211.6L483.5,211.6L484,211.6L484.5,211.6L485,211.6L485.5,211.6L486,211.6L486.5,211.6L487,211.5L487.5,211.5L488,211.5L488.5,211.5L489,211.5L489.5,211.5L490,211.5L490.5,211.5L491,211.5L491.5,211.5L492,211.5L492.5,211.5L493,211.5L493.5,211.5L494,211.4L494.5,211.4L495,211.4L495.5,211.4L496,211.4L496.5,211.3L497,211.3L497.5,211.3L498,211.3L498.5,211.3L499,211.3L499.5,211.3L500,211.3L500.5,211.3L501,211.3L501.5,211.3L502,211.3L502.5,211.3L503,211.3L503.5,211.3L504,211.3L504.5,211.2L505,211.2L505.5,211.2L506,211.2L506.5,211.2L507,211.2L507.5,211.2L508,211.2L508.5,211.2L509,211.2L509.5,211.2L510,211.1L510.5,211.1L511,211.1L511.5,211.1L512,211.1L512.5,211.1L513,211.1L513.5,211.1L514,211.1L514.5,211L515,211L515.5,211L516,211L516.5,211L517,211L517.5,211L518,210.9L518.5,210.9L519,211L519.5,210.9L520,210.9L520.5,210.9L521,210.9L521.5,210.9L522,210.9L522.5,210.9L523,210.9L523.5,210.9L524,210.8L524.5,210.8L525,210.8L525.5,210.8L526,210.8L526.5,210.8L527,210.8L527.5,210.8L528,210.8L528.5,210.8L529,210.8L529.5,210.8L530,210.7L530.5,210.7L531,210.7L531.5,210.7L532,210.6L532.5,210.6L533,210.6L533.5,210.6L534,210.6L534.5,210.6L535,210.6L535.5,210.6L536,210.6L536.5,210.6L537,210.5L537.5,210.5L538,210.5L538.5,210.5L539,210.5L539.5,210.6L540,210.6L540.5,210.6L541,210.6L541.5,210.6L542,210.6L542.5,210.5L543,210.5L543.5,210.5L544,210.5L544.5,210.4L545,210.4L545.5,210.4L546,210.3L546.5,210.3L547,210.3L547.5,210.3L548,210.3L548.5,210.3L549,210.3L549.5,210.3L550,210.2L550.5,210.2L551,210.1L551.5,210.1L552,210.1L552.5,210L553,210L553.5,210L554,210.1L554.5,210.1L555,210.1L555.5,210.1L556,210.1L556.5,210L557,210L557.5,210L558,210L558.5,210L559,210L559.5,210L560,210L560.5,210L561,210L561.5,210L562,209.9L562.5,209.9L563,209.9L563.5,209.9L564,209.9L564.5,209.8L565,209.8L565.5,209.8L566,209.7L566.5,209.7L567,209.7L567.5,209.7L568,209.7L568.5,209.7L569,209.7L569.5,209.7L570,209.7L570.5,209.7L571,209.6L571.5,209.6L572,209.6L572.5,209.6L573,209.5L573.5,209.5L574,209.5L574.5,209.5L575,209.6L575.5,209.6L576,209.6L576.5,209.5L577,209.5L577.5,209.5L578,209.4L578.5,209.4L579,209.4L579.5,209.3L580,209.3L580.5,209.2L581,209.2L581.5,209.2L582,209.2L582.5,209.2L583,209.2L583.5,209.2L584,209.2L584.5,209.2L585,209.2L585.5,209.2L586,209.1L586.5,209.1L587,209L587.5,209L588,209L588.5,209L589,209L589.5,209L590,209L590.5,209L591,209L591.5,209L592,209L592.5,209L593,208.9L593.5,208.9L594,208.9L594.5,208.8L595,208.8L595.5,208.7L596,208.7L596.5,208.7L597,208.7L597.5,208.7L598,208.7L598.5,208.7L599,208.7L599.5,208.6L600,208.6L600.5,208.5L601,208.5L601.5,208.4L602,208.4L602.5,208.4L603,208.4L603.5,208.5L604,208.5L604.5,208.5L605,208.5L605.5,208.5L606,208.4L606.5,208.3L607,208.3L607.5,208.2L608,208.1L608.5,208.1L609,208.1L609.5,208.1L610,208.1L610.5,208.2L611,208.2L611.5,208.2L612,208.1L612.5,208.1L613,208L613.5,207.9L614,207.8L614.5,207.8L615,207.7L615.5,207.7L616,207.7L616.5,207.7L617,207.7L617.5,207.8L618,207.8L618.5,207.8L619,207.8L619.5,207.8L620,207.7L620.5,207.6L621,207.6L621.5,207.5L622,207.4L622.5,207.4L623,207.4L623.5,207.4L624,207.4L624.5,207.4L625,207.4L625.5,207.5L626,207.5L626.5,207.4L627,207.4L627.5,207.3L628,207.3L628.5,207.2L629,207.1L629.5,207.1L630,207L630.5,207L631,207L631.5,207L632,207L632.5,206.9L633,206.9L633.5,206.9L634,206.8L634.5,206.7L635,206.7L635.5,206.6L636,206.6L636.5,206.6L637,206.6L637.5,206.5L638,206.5L638.5,206.6L639,206.6L639.5,206.6L640,206.5L640.5,206.5L641,206.5L641.5,206.4L642,206.4L642.5,206.3L643,206.2L643.5,206.1L644,206.1L644.5,206.1L645,206.1L645.5,206.5L646,207.7L646.5,208.8L647,209.9L647.5,210.8L648,211.7L648.5,212.2L649,212.2L649.5,212.2L650,212.2L650.5,212.2L651,212.2L651.5,212.2L652,212.2L652.5,212.2L653,212.2L653.5,212.2L654,212.2L654.5,212.2L655,212.2" stroke="#794cff" stroke-width="2.5"/>
<path d="M444.5,212.2L445,212.2L445.5,212.2L446,212.2L446.5,212.2L447,212.2L447.5,212.2L448,212.2L448.5,212.2L449,212.2L449.5,212.2L450,212.2L450.5,212.1L451,212.1L451.5,212.1L452,212.1L452.5,212.1L453,212.1L453.5,212.1L454,212.1L454.5,212.1L455,212.1L455.5,212.1L456,212.1L456.5,212.1L457,212.1L457.5,212.1L458,212.1L458.5,212L459,212L459.5,212L460,212L460.5,212L461,212L461.5,212L462,212L462.5,212L463,212L463.5,212L464,212L464.5,212L465,212L465.5,211.9L466,211.9L466.5,211.9L467,211.9L467.5,211.9L468,211.9L468.5,211.9L469,211.9L469.5,211.9L470,211.9L470.5,211.9L471,211.9L471.5,211.9L472,211.9L472.5,211.9L473,211.9L473.5,211.9L474,211.9L474.5,211.9L475,211.9L475.5,211.8L476,211.8L476.5,211.8L477,211.8L477.5,211.8L478,211.8L478.5,211.8L479,211.8L479.5,211.8L480,211.8L480.5,211.8L481,211.8L481.5,211.8L482,211.8L482.5,211.8L483,211.8L483.5,211.8L484,211.8L484.5,211.8L485,211.8L485.5,211.8L486,211.8L486.5,211.7L487,211.7L487.5,211.7L488,211.7L488.5,211.7L489,211.7L489.5,211.7L490,211.7L490.5,211.7L491,211.7L491.5,211.7L492,211.7L492.5,211.7L493,211.7L493.5,211.7L494,211.6L494.5,211.6L495,211.6L495.5,211.6L496,211.6L496.5,211.6L497,211.6L497.5,211.6L498,211.6L498.5,211.6L499,211.6L499.5,211.6L500,211.6L500.5,211.5L501,211.5L501.5,211.5L502,211.5L502.5,211.5L503,211.5L503.5,211.5L504,211.5L504.5,211.5L505,211.5L505.5,211.5L506,211.5L506.5,211.5L507,211.5L507.5,211.5L508,211.5L508.5,211.5L509,211.5L509.5,211.4L510,211.4L510.5,211.4L511,211.4L511.5,211.4L512,211.4L512.5,211.4L513,211.4L513.5,211.4L514,211.4L514.5,211.4L515,211.3L515.5,211.3L516,211.3L516.5,211.3L517,211.3L517.5,211.3L518,211.3L518.5,211.3L519,211.3L519.5,211.3L520,211.3L520.5,211.3L521,211.3L521.5,211.3L522,211.3L522.5,211.2L523,211.2L523.5,211.2L524,211.2L524.5,211.2L525,211.2L525.5,211.2L526,211.2L526.5,211.2L527,211.2L527.5,211.2L528,211.2L528.5,211.2L529,211.2L529.5,211.2L530,211.1L530.5,211.1L531,211.1L531.5,211.1L532,211.1L532.5,211.1L533,211.1L533.5,211.1L534,211.1L534.5,211.1L535,211.1L535.5,211L536,211L536.5,211L537,211L537.5,211L538,211L538.5,211L539,211.1L539.5,211.1L540,211.1L540.5,211.1L541,211L541.5,211L542,211L542.5,211L543,211L543.5,211L544,210.9L544.5,210.9L545,210.9L545.5,210.9L546,210.9L546.5,210.9L547,210.9L547.5,210.9L548,210.9L548.5,210.9L549,210.8L549.5,210.8L550,210.8L550.5,210.7L551,210.7L551.5,210.7L552,210.7L552.5,210.7L553,210.7L553.5,210.7L554,210.7L554.5,210.7L555,210.7L555.5,210.7L556,210.7L556.5,210.6L557,210.6L557.5,210.6L558,210.6L558.5,210.6L559,210.6L559.5,210.6L560,210.6L560.5,210.6L561,210.6L561.5,210.6L562,210.6L562.5,210.6L563,210.5L563.5,210.5L564,210.5L564.5,210.5L565,210.5L565.5,210.5L566,210.5L566.5,210.5L567,210.5L567.5,210.5L568,210.5L568.5,210.5L569,210.5L569.5,210.4L570,210.4L570.5,210.4L571,210.3L571.5,210.3L572,210.3L572.5,210.3L573,210.3L573.5,210.3L574,210.4L574.5,210.4L575,210.4L575.5,210.4L576,210.3L576.5,210.3L577,210.3L577.5,210.2L578,210.2L578.5,210.2L579,210.1L579.5,210.1L580,210.1L580.5,210.1L581,210.2L581.5,210.2L582,210.1L582.5,210.1L583,210.1L583.5,210.1L584,210.1L584.5,210.1L585,210L585.5,210L586,210L586.5,210L587,210L587.5,210L588,210L588.5,210L589,210L589.5,210L590,210L590.5,209.9L591,209.9L591.5,209.9L592,209.9L592.5,209.9L593,209.8L593.5,209.8L594,209.8L594.5,209.8L595,209.8L595.5,209.8L596,209.8L596.5,209.8L597,209.7L597.5,209.7L598,209.7L598.5,209.7L599,209.6L599.5,209.6L600,209.6L600.5,209.6L601,209.6L601.5,209.6L602,209.6L602.5,209.6L603,209.6L603.5,209.6L604,209.6L604.5,209.6L605,209.6L605.5,209.5L606,209.5L606.5,209.4L607,209.4L607.5,209.4L608,209.4L608.5,209.4L609,209.4L609.5,209.4L610,209.4L610.5,209.4L611,209.3L611.5,209.3L612,209.3L612.5,209.2L613,209.1L613.5,209.1L614,209.1L614.5,209.1L615,209.1L615.5,209.1L616,209.1L616.5,209.1L617,209.1L617.5,209.1L618,209.1L618.5,209.1L619,209.1L619.5,209L620,209L620.5,209L621,208.9L621.5,208.9L622,208.9L622.5,208.9L623,208.9L623.5,208.9L624,208.9L624.5,208.9L625,208.9L625.5,208.8L626,208.8L626.5,208.8L627,208.7L627.5,208.7L628,208.7L628.5,208.7L629,208.7L629.5,208.6L630,208.6L630.5,208.6L631,208.6L631.5,208.6L632,208.5L632.5,208.5L633,208.4L633.5,208.4L634,208.4L634.5,208.3L635,208.3L635.5,208.3L636,208.4L636.5,208.4L637,208.4L637.5,208.4L638,208.3L638.5,208.3L639,208.3L639.5,208.2L640,208.2L640.5,208.1L641,208.1L641.5,208.1L642,208.1L642.5,208.1L643,208L643.5,208L644,208L644.5,208L645,208L645.5,207.9L646,207.9L646.5,207.8L647,207.8L647.5,207.7L648,207.7L648.5,208.2L649,209.1L649.5,209.9L650,210.7L650.5,211.4L651,212L651.5,212.2L652,212.2L652.5,212.2L653,212.2L653.5,212.2L654,212.2L654.5,212.2L655,212.2L655.5,212.2L656,212.2L656.5,212.2L657,212.2L657.5,212.2L658,212.2" stroke="#794cff" stroke-width="2.5"/>
<path d="M444.5,212.2L445,212.2L445.5,212.2L446,212.2L446.5,212.2L447,212.2L447.5,212.2L448,212.2L448.5,212.2L449,212.2L449.5,212.2L450,212.2L450.5,212.2L451,212.2L451.5,212.2L452,212.2L452.5,212.2L453,212.2L453.5,212.2L454,212.2L454.5,212.2L455,212.1L455.5,212.1L456,212.1L456.5,212.1L457,212.1L457.5,212.1L458,212.1L458.5,212.1L459,212.1L459.5,212.1L460,212.1L460.5,212.1L461,212.1L461.5,212.1L462,212.1L462.5,212.1L463,212.1L463.5,212.1L464,212.1L464.5,212.1L465,212.1L465.5,212.1L466,212.1L466.5,212.1L467,212.1L467.5,212.1L468,212.1L468.5,212.1L469,212.1L469.5,212.1L470,212.1L470.5,212.1L471,212.1L471.5,212.1L472,212L472.5,212L473,212L473.5,212L474,212L474.5,212L475,212L475.5,212L476,212L476.5,212L477,212L477.5,212L478,212L478.5,212L479,212L479.5,212L480,212L480.5,212L481,212L481.5,212L482,212L482.5,212L483,212L483.5,212L484,212L484.5,212L485,212L485.5,212L486,212L486.5,212L487,212L487.5,212L488,212L488.5,212L489,212L489.5,212L490,212L490.5,212L491,212L491.5,212L492,211.9L492.5,211.9L493,211.9L493.5,211.9L494,211.9L494.5,211.9L495,211.9L495.5,211.9L496,211.9L496.5,211.9L497,211.9L497.5,211.9L498,211.9L498.5,211.9L499,211.9L499.5,211.9L500,211.9L500.5,211.9L501,211.9L501.5,211.9L502,211.9L502.5,211.9L503,211.9L503.5,211.9L504,211.9L504.5,211.9L505,211.9L505.5,211.9L506,211.9L506.5,211.9L507,211.9L507.5,211.9L508,211.9L508.5,211.9L509,211.9L509.5,211.8L510,211.8L510.5,211.8L511,211.8L511.5,211.8L512,211.8L512.5,211.8L513,211.8L513.5,211.8L514,211.8L514.5,211.8L515,211.8L515.5,211.8L516,211.8L516.5,211.8L517,211.8L517.5,211.8L518,211.8L518.5,211.8L519,211.8L519.5,211.8L520,211.8L520.5,211.8L521,211.8L521.5,211.8L522,211.8L522.5,211.8L523,211.8L523.5,211.8L524,211.8L524.5,211.7L525,211.7L525.5,211.7L526,211.7L526.5,211.7L527,211.7L527.5,211.7L528,211.7L528.5,211.7L529,211.7L529.5,211.7L530,211.7L530.5,211.7L531,211.7L531.5,211.7L532,211.7L532.5,211.7L533,211.7L533.5,211.7L534,211.7L534.5,211.7L535,211.7L535.5,211.7L536,211.7L536.5,211.7L537,211.7L537.5,211.7L538,211.7L538.5,211.7L539,211.7L539.5,211.7L540,211.7L540.5,211.6L541,211.6L541.5,211.6L542,211.6L542.5,211.6L543,211.6L543.5,211.6L544,211.6L544.5,211.6L545,211.6L545.5,211.6L546,211.6L546.5,211.6L547,211.6L547.5,211.6L548,211.6L548.5,211.6L549,211.5L549.5,211.5L550,211.5L550.5,211.5L551,211.5L551.5,211.5L552,211.5L552.5,211.5L553,211.5L553.5,211.5L554,211.5L554.5,211.5L555,211.5L555.5,211.5L556,211.5L556.5,211.5L557,211.5L557.5,211.5L558,211.5L558.5,211.5L559,211.5L559.5,211.5L560,211.5L560.5,211.5L561,211.4L561.5,211.4L562,211.4L562.5,211.4L563,211.4L563.5,211.4L564,211.4L564.5,211.4L565,211.4L565.5,211.4L566,211.4L566.5,211.4L567,211.4L567.5,211.4L568,211.4L568.5,211.4L569,211.4L569.5,211.4L570,211.4L570.5,211.3L571,211.3L571.5,211.3L572,211.3L572.5,211.3L573,211.3L573.5,211.3L574,211.3L574.5,211.3L575,211.3L575.5,211.3L576,211.3L576.5,211.3L577,211.3L577.5,211.3L578,211.3L578.5,211.3L579,211.3L579.5,211.3L580,211.3L580.5,211.2L581,211.2L581.5,211.2L582,211.2L582.5,211.2L583,211.2L583.5,211.2L584,211.2L584.5,211.2L585,211.2L585.5,211.2L586,211.2L586.5,211.2L587,211.2L587.5,211.2L588,211.2L588.5,211.2L589,211.2L589.5,211.1L590,211.1L590.5,211.1L591,211.1L591.5,211.1L592,211.1L592.5,211.1L593,211.1L593.5,211.1L594,211.1L594.5,211.1L595,211.1L595.5,211.1L596,211L596.5,211L597,211L597.5,211L598,211L598.5,211L599,211L599.5,211L600,211L600.5,211L601,211L601.5,211L602,211L602.5,211L603,211L603.5,211L604,211L604.5,211L605,211L605.5,210.9L606,210.9L606.5,210.9L607,210.9L607.5,210.9L608,210.9L608.5,210.9L609,210.9L609.5,210.9L610,210.8L610.5,210.8L611,210.8L611.5,210.8L612,210.8L612.5,210.8L613,210.8L613.5,210.8L614,210.8L614.5,210.8L615,210.8L615.5,210.8L616,210.8L616.5,210.8L617,210.7L617.5,210.7L618,210.7L618.5,210.7L619,210.7L619.5,210.7L620,210.7L620.5,210.7L621,210.7L621.5,210.7L622,210.7L622.5,210.7L623,210.7L623.5,210.6L624,210.6L624.5,210.6L625,210.6L625.5,210.6L626,210.6L626.5,210.6L627,210.6L627.5,210.6L628,210.6L628.5,210.6L629,210.6L629.5,210.6L630,210.5L630.5,210.5L631,210.5L631.5,210.5L632,210.4L632.5,210.4L633,210.4L633.5,210.4L634,210.4L634.5,210.4L635,210.4L635.5,210.5L636,210.5L636.5,210.5L637,210.5L637.5,210.4L638,210.4L638.5,210.4L639,210.3L639.5,210.3L640,210.3L640.5,210.3L641,210.3L641.5,210.3L642,210.3L642.5,210.3L643,210.3L643.5,210.3L644,210.2L644.5,210.2L645,210.2L645.5,210.1L646,210.1L646.5,210.1L647,210.1L647.5,210.1L648,210.1L648.5,210.1L649,210.1L649.5,210.1L650,210.1L650.5,210.1L651,210.1L651.5,210.5L652,210.9L652.5,211.3L653,211.6L653.5,212L654,212.2L654.5,212.2L655,212.2L655.5,212.2L656,212.2L656.5,212.2L657,212.2L657.5,212.2L658,212.2L658.5,212.2L659,212.2L659.5,212.2L660,212.2L660.5,212.2L661,212.2" stroke="#794cff" stroke-width="2.5"/>
<path d="M444.5,212.2L445,212.2L445.5,212.2L446,212.2L446.5,212.2L447,212.1L447.5,212.1L448,212.1L448.5,212.1L449,212.1L449.5,212.1L450,212L450.5,212L451,212L451.5,212L452,212L452.5,212L453,211.9L453.5,211.9L454,211.9L454.5,211.9L455,211.9L455.5,211.8L456,211.8L456.5,211.8L457,211.8L457.5,211.8L458,211.8L458.5,211.7L459,211.7L459.5,211.7L460,211.7L460.5,211.7L461,211.6L461.5,211.6L462,211.6L462.5,211.6L463,211.6L463.5,211.6L464,211.5L464.5,211.5L465,211.5L465.5,211.5L466,211.5L466.5,211.5L467,211.5L467.5,211.5L468,211.4L468.5,211.4L469,211.4L469.5,211.4L470,211.4L470.5,211.3L471,211.3L471.5,211.3L472,211.3L472.5,211.2L473,211.2L473.5,211.2L474,211.2L474.5,211.2L475,211.1L475.5,211.1L476,211.1L476.5,211.1L477,211.1L477.5,211.1L478,211L478.5,211L479,211L479.5,211L480,211L480.5,211L481,211L481.5,211L482,210.9L482.5,210.9L483,210.9L483.5,210.9L484,210.9L484.5,210.9L485,210.9L485.5,210.9L486,210.8L486.5,210.8L487,210.8L487.5,210.8L488,210.7L488.5,210.7L489,210.7L489.5,210.7L490,210.6L490.5,210.6L491,210.6L491.5,210.6L492,210.6L492.5,210.6L493,210.6L493.5,210.5L494,210.5L494.5,210.5L495,210.5L495.5,210.5L496,210.4L496.5,210.4L497,210.4L497.5,210.3L498,210.3L498.5,210.3L499,210.3L499.5,210.3L500,210.3L500.5,210.3L501,210.3L501.5,210.3L502,210.3L502.5,210.3L503,210.3L503.5,210.2L504,210.2L504.5,210.2L505,210.1L505.5,210.1L506,210.1L506.5,210.1L507,210.1L507.5,210.1L508,210L508.5,210L509,210L509.5,210L510,210L510.5,209.9L511,209.9L511.5,209.9L512,209.8L512.5,209.8L513,209.8L513.5,209.8L514,209.8L514.5,209.8L515,209.8L515.5,209.8L516,209.8L516.5,209.8L517,209.8L517.5,209.7L518,209.7L518.5,209.7L519,209.7L519.5,209.6L520,209.6L520.5,209.6L521,209.6L521.5,209.6L522,209.5L522.5,209.5L523,209.5L523.5,209.5L524,209.5L524.5,209.4L525,209.3L525.5,209.3L526,209.3L526.5,209.3L527,209.3L527.5,209.3L528,209.3L528.5,209.3L529,209.4L529.5,209.4L530,209.4L530.5,209.3L531,209.3L531.5,209.3L532,209.2L532.5,209.2L533,209.1L533.5,209.1L534,209.1L534.5,209.1L535,209.1L535.5,209.1L536,209.2L536.5,209.1L537,209.1L537.5,209.1L538,209L538.5,209L539,209L539.5,209L540,209L540.5,209L541,209L541.5,209L542,209L542.5,209L543,209L543.5,208.9L544,208.9L544.5,208.9L545,208.8L545.5,208.8L546,208.7L546.5,208.7L547,208.6L547.5,208.7L548,208.7L548.5,208.7L549,208.7L549.5,208.7L550,208.6L550.5,208.6L551,208.6L551.5,208.5L552,208.4L552.5,208.4L553,208.4L553.5,208.3L554,208.3L554.5,208.3L555,208.3L555.5,208.3L556,208.3L556.5,208.3L557,208.2L557.5,208.2L558,208.2L558.5,208.2L559,208.2L559.5,208.2L560,208.1L560.5,208.1L561,208.1L561.5,208.1L562,208.1L562.5,208.1L563,208.1L563.5,208.2L564,208.2L564.5,208.2L565,208.1L565.5,208.1L566,208.1L566.5,208L567,208L567.5,207.9L568,207.9L568.5,207.9L569,207.9L569.5,208L570,208L570.5,207.9L571,207.9L571.5,207.9L572,207.8L572.5,207.8L573,207.8L573.5,207.7L574,207.7L574.5,207.7L575,207.7L575.5,207.7L576,207.6L576.5,207.6L577,207.6L577.5,207.6L578,207.6L578.5,207.6L579,207.6L579.5,207.5L580,207.5L580.5,207.5L581,207.4L581.5,207.4L582,207.4L582.5,207.4L583,207.4L583.5,207.5L584,207.5L584.5,207.5L585,207.5L585.5,207.5L586,207.5L586.5,207.5L587,207.4L587.5,207.3L588,207.2L588.5,207.2L589,207.1L589.5,207.1L590,207.1L590.5,207.1L591,207.2L591.5,207.2L592,207.3L592.5,207.2L593,207.2L593.5,207.1L594,207.1L594.5,207L595,207L595.5,206.9L596,206.9L596.5,206.9L597,207L597.5,207L598,207.1L598.5,207.2L599,207.2L599.5,207.2L600,207.2L600.5,207.2L601,207.2L601.5,207.1L602,207.1L602.5,207.1L603,207.1L603.5,207.1L604,207.2L604.5,207.2L605,207.3L605.5,207.3L606,207.2L606.5,207.2L607,207.1L607.5,207.1L608,207L608.5,207L609,206.9L609.5,206.9L610,206.9L610.5,206.9L611,207L611.5,207L612,207.1L612.5,207L613,207L613.5,207L614,207L614.5,207L615,207L615.5,207L616,207L616.5,207L617,207L617.5,207.1L618,207.2L618.5,207.2L619,207.3L619.5,207.3L620,207.3L620.5,207.3L621,207.2L621.5,207.2L622,207.1L622.5,207.1L623,207L623.5,207L624,206.9L624.5,206.9L625,207L625.5,207.1L626,207.1L626.5,207.1L627,207.1L627.5,207.2L628,207.2L628.5,207.1L629,207.1L629.5,207L630,207L630.5,207L631,207L631.5,207L632,207L632.5,208.1L633,209.1L633.5,210L634,210.9L634.5,211.6L635,212.2L635.5,212.2L636,212.2L636.5,212.2L637,212.2L637.5,212.2L638,212.2L638.5,212.2L639,212.2L639.5,212.2L640,212.2L640.5,212.2L641,212.2L641.5,212.2L642,212.2" stroke="#b84cff" stroke-width="2.5"/>
<path d="M444.5,212.2L445,212.2L445.5,212.2L446,212.2L446.5,212.2L447,212.2L447.5,212.2L448,212.1L448.5,212.1L449,212.1L449.5,212.1L450,212.1L450.5,212.1L451,212.1L451.5,212.1L452,212.1L452.5,212.1L453,212L453.5,212L454,212L454.5,212L455,212L455.5,212L456,212L456.5,212L457,212L457.5,212L458,212L458.5,211.9L459,211.9L459.5,211.9L460,211.9L460.5,211.9L461,211.9L461.5,211.9L462,211.9L462.5,211.9L463,211.9L463.5,211.8L464,211.8L464.5,211.8L465,211.8L465.5,211.8L466,211.8L466.5,211.8L467,211.8L467.5,211.8L468,211.8L468.5,211.8L469,211.7L469.5,211.7L470,211.7L470.5,211.7L471,211.7L471.5,211.7L472,211.7L472.5,211.7L473,211.6L473.5,211.6L474,211.6L474.5,211.6L475,211.6L475.5,211.6L476,211.6L476.5,211.6L477,211.6L477.5,211.6L478,211.6L478.5,211.6L479,211.6L479.5,211.6L480,211.5L480.5,211.5L481,211.5L481.5,211.5L482,211.5L482.5,211.5L483,211.5L483.5,211.5L484,211.5L484.5,211.5L485,211.5L485.5,211.5L486,211.4L486.5,211.4L487,211.4L487.5,211.4L488,211.4L488.5,211.3L489,211.3L489.5,211.3L490,211.3L490.5,211.3L491,211.3L491.5,211.3L492,211.3L492.5,211.3L493,211.3L493.5,211.3L494,211.3L494.5,211.2L495,211.2L495.5,211.2L496,211.2L496.5,211.2L497,211.2L497.5,211.2L498,211.2L498.5,211.2L499,211.2L499.5,211.2L500,211.2L500.5,211.1L501,211.1L501.5,211.1L502,211.1L502.5,211.1L503,211.1L503.5,211.1L504,211.1L504.5,211.1L505,211.1L505.5,211L506,211L506.5,211L507,211L507.5,211L508,211L508.5,211L509,211L509.5,210.9L510,210.9L510.5,210.9L511,210.9L511.5,210.9L512,210.9L512.5,210.9L513,210.9L513.5,210.9L514,210.9L514.5,210.9L515,210.9L515.5,210.8L516,210.8L516.5,210.8L517,210.8L517.5,210.8L518,210.8L518.5,210.8L519,210.8L519.5,210.8L520,210.8L520.5,210.8L521,210.8L521.5,210.7L522,210.7L522.5,210.7L523,210.7L523.5,210.6L524,210.6L524.5,210.6L525,210.6L525.5,210.6L526,210.6L526.5,210.6L527,210.6L527.5,210.6L528,210.6L528.5,210.6L529,210.6L529.5,210.6L530,210.6L530.5,210.6L531,210.6L531.5,210.6L532,210.5L532.5,210.5L533,210.5L533.5,210.5L534,210.5L534.5,210.5L535,210.5L535.5,210.5L536,210.5L536.5,210.4L537,210.4L537.5,210.4L538,210.4L538.5,210.4L539,210.4L539.5,210.4L540,210.4L540.5,210.4L541,210.4L541.5,210.4L542,210.4L542.5,210.4L543,210.4L543.5,210.3L544,210.3L544.5,210.3L545,210.3L545.5,210.3L546,210.3L546.5,210.3L547,210.3L547.5,210.3L548,210.3L548.5,210.3L549,210.3L549.5,210.2L550,210.2L550.5,210.2L551,210.1L551.5,210.1L552,210.1L552.5,210L553,210L553.5,210L554,210.1L554.5,210.1L555,210.1L555.5,210L556,210L556.5,210L557,209.9L557.5,209.9L558,209.9L558.5,209.9L559,209.9L559.5,209.9L560,209.9L560.5,210L561,210L561.5,210L562,210L562.5,210L563,210L563.5,210L564,210L564.5,209.9L565,209.9L565.5,209.9L566,209.9L566.5,209.9L567,209.9L567.5,209.9L568,209.9L568.5,209.9L569,209.9L569.5,209.9L570,209.9L570.5,209.8L571,209.7L571.5,209.7L572,209.7L572.5,209.7L573,209.7L573.5,209.7L574,209.7L574.5,209.7L575,209.7L575.5,209.7L576,209.7L576.5,209.7L577,209.7L577.5,209.6L578,209.6L578.5,209.6L579,209.6L579.5,209.5L580,209.5L580.5,209.5L581,209.6L581.5,209.6L582,209.6L582.5,209.6L583,209.6L583.5,209.6L584,209.6L584.5,209.6L585,209.6L585.5,209.5L586,209.5L586.5,209.5L587,209.5L587.5,209.4L588,209.4L588.5,209.4L589,209.4L589.5,209.4L590,209.4L590.5,209.4L591,209.4L591.5,209.4L592,209.4L592.5,209.3L593,209.3L593.5,209.3L594,209.3L594.5,209.3L595,209.3L595.5,209.3L596,209.3L596.5,209.3L597,209.3L597.5,209.3L598,209.3L598.5,209.3L599,209.3L599.5,209.3L600,209.3L600.5,209.2L601,209.2L601.5,209.2L602,209.2L602.5,209.3L603,209.3L603.5,209.3L604,209.3L604.5,209.3L605,209.3L605.5,209.3L606,209.2L606.5,209.2L607,209.1L607.5,209.1L608,209L608.5,209.1L609,209.1L609.5,209.1L610,209.1L610.5,209.2L611,209.2L611.5,209.2L612,209.2L612.5,209.2L613,209.1L613.5,209.1L614,209.1L614.5,209.1L615,209.1L615.5,209.1L616,209.2L616.5,209.2L617,209.3L617.5,209.3L618,209.3L618.5,209.4L619,209.3L619.5,209.3L620,209.3L620.5,209.2L621,209.2L621.5,209.2L622,209.1L622.5,209.1L623,209.1L623.5,209.1L624,209.1L624.5,209.2L625,209.2L625.5,209.2L626,209.2L626.5,209.2L627,209.2L627.5,209.2L628,209.2L628.5,209.1L629,209.1L629.5,209.1L630,209.2L630.5,209.2L631,209.2L631.5,209.2L632,209.3L632.5,209.3L633,209.3L633.5,209.3L634,209.3L634.5,209.2L635,209.2L635.5,209.2L636,209.2L636.5,209.2L637,209.3L637.5,209.2L638,209.2L638.5,209.3L639,209.3L639.5,209.2L640,209.2L640.5,209.2L641,209.2L641.5,209.2L642,209.1L642.5,209.7L643,210.3L643.5,210.8L644,211.4L644.5,211.8L645,212.2L645.5,212.2L646,212.2L646.5,212.2L647,212.2L647.5,212.2L648,212.2L648.5,212.2L649,212.2L649.5,212.2L650,212.2L650.5,212.2L651,212.2L651.5,212.2L652,212.2" stroke="#b84cff" stroke-width="2.5"/>
<path d="M401.6,212.2L684.1,212.2" stroke="#b84cff" stroke-width="3.0"/>
</g>
<g stroke="#111" stroke-width="1.1" fill="none" shape-rendering="auto">
<rect x="45.60" y="0.40" width="282.50" height="226.80"/>
<path d="M80.60 227.20V222.90"/>
<path d="M151.27 227.20V222.90"/>
<path d="M221.94 227.20V222.90"/>
<path d="M292.61 227.20V222.90"/>
<path d="M115.94 227.20V224.90"/>
<path d="M186.60 227.20V224.90"/>
<path d="M257.27 227.20V224.90"/>
<path d="M45.60 206.50H49.90"/>
<path d="M45.60 151.30H49.90"/>
<path d="M45.60 96.10H49.90"/>
<path d="M45.60 40.90H49.90"/>
<path d="M45.60 178.90H47.90"/>
<path d="M45.60 123.70H47.90"/>
<path d="M45.60 68.50H47.90"/>
<path d="M45.60 13.30H47.90"/>
</g>
<g font-family='"Liberation Sans", sans-serif' font-size="14.5" fill="#222">
<text x="80.60" y="243.4" text-anchor="middle">0</text>
<text x="151.27" y="243.4" text-anchor="middle">10</text>
<text x="221.94" y="243.4" text-anchor="middle">20</text>
<text x="292.61" y="243.4" text-anchor="middle">30</text>
<text x="39.60" y="211.10" text-anchor="end" textLength="20" lengthAdjust="spacing">0.0</text>
<text x="39.60" y="155.90" text-anchor="end" textLength="20" lengthAdjust="spacing">2.0</text>
<text x="39.60" y="100.70" text-anchor="end" textLength="20" lengthAdjust="spacing">4.0</text>
<text x="39.60" y="45.50" text-anchor="end" textLength="20" lengthAdjust="spacing">6.0</text>
</g>
<g stroke="#111" stroke-width="1.1" fill="none" shape-rendering="auto">
<rect x="401.60" y="0.40" width="282.50" height="226.80"/>
<path d="M436.60 227.20V222.90"/>
<path d="M507.27 227.20V222.90"/>
<path d="M577.94 227.20V222.90"/>
<path d="M648.61 227.20V222.90"/>
<path d="M471.94 227.20V224.90"/>
<path d="M542.61 227.20V224.90"/>
<path d="M613.28 227.20V224.90"/>
<path d="M401.60 211.30H405.90"/>
<path d="M401.60 151.05H405.90"/>
<path d="M401.60 90.80H405.90"/>
<path d="M401.60 30.55H405.90"/>
<path d="M401.60 181.18H403.90"/>
<path d="M401.60 120.93H403.90"/>
<path d="M401.60 60.68H403.90"/>
</g>
<g font-family='"Liberation Sans", sans-serif' font-size="14.5" fill="#222">
<text x="436.60" y="243.4" text-anchor="middle">0</text>
<text x="507.27" y="243.4" text-anchor="middle">10</text>
<text x="577.94" y="243.4" text-anchor="middle">20</text>
<text x="648.61" y="243.4" text-anchor="middle">30</text>
<text x="395.60" y="215.90" text-anchor="end" textLength="20" lengthAdjust="spacing">0.0</text>
<text x="395.60" y="155.65" text-anchor="end" textLength="20" lengthAdjust="spacing">1.0</text>
<text x="395.60" y="95.40" text-anchor="end" textLength="20" lengthAdjust="spacing">2.0</text>
<text x="395.60" y="35.15" text-anchor="end" textLength="20" lengthAdjust="spacing">3.0</text>
</g>
<rect x="89.40" y="12.70" width="196.90" height="16.50" fill="url(#rb)" stroke="#222" stroke-width="1"/>
<g stroke="#222" stroke-width="1.1">
<path d="M89.40 29.20V38.80"/>
<path d="M138.62 29.20V35.20"/>
<path d="M187.85 29.20V39.40"/>
<path d="M237.08 29.20V35.20"/>
<path d="M286.30 29.20V38.80"/>
</g>
<g font-family='"Liberation Sans", sans-serif' font-size="12" fill="#222">
<text x="60.8" y="24.4" textLength="25.4" lengthAdjust="spacing">1 ms</text>
<text x="289.6" y="25.1" textLength="32.4" lengthAdjust="spacing">39 ms</text>
<text x="188.70" y="50.0" text-anchor="middle">20 ms</text>
</g>
<rect x="445.40" y="12.70" width="196.90" height="16.50" fill="url(#rb)" stroke="#222" stroke-width="1"/>
<g stroke="#222" stroke-width="1.1">
<path d="M445.40 29.20V38.80"/>
<path d="M494.62 29.20V35.20"/>
<path d="M543.85 29.20V39.40"/>
<path d="M593.07 29.20V35.20"/>
<path d="M642.30 29.20V38.80"/>
</g>
<g font-family='"Liberation Sans", sans-serif' font-size="12" fill="#222">
<text x="419.3" y="24.4" textLength="23.8" lengthAdjust="spacing">1 ms</text>
<text x="643.6" y="25.1" textLength="31.8" lengthAdjust="spacing">39 ms</text>
<text x="544.70" y="50.0" text-anchor="middle">20 ms</text>
</g>
<g stroke="#111" stroke-width="1" fill="#111">
<path d="M59.30 213.40H293.80" fill="none"/>
<path d="M61.10 213.40l4 -2.2v4.4z" stroke="none"/>
<path d="M292.00 213.40l-4 -2.2v4.4z" stroke="none"/>
</g>
<polygon points="84.90,209.90 86.80,211.35 86.80,214.25 84.90,215.70 83.00,214.25 83.00,211.35" fill="#ff0000"/>
<g stroke="#111" stroke-width="1" fill="#111">
<path d="M421.80 217.60H661.00" fill="none"/>
<path d="M423.60 217.60l4 -2.2v4.4z" stroke="none"/>
<path d="M659.20 217.60l-4 -2.2v4.4z" stroke="none"/>
</g>
<polygon points="441.20,214.30 443.20,215.80 443.20,218.80 441.20,220.30 439.20,218.80 439.20,215.80" fill="#ff0000"/>
<polygon points="25.75,255.80 30.15,258.70 30.15,264.50 25.75,267.40 21.35,264.50 21.35,258.70" fill="#ff0000"/>
<text x="41.80" y="265.2" font-family='"Liberation Sans", sans-serif' font-size="11.5" fill="#222" textLength="66.5" lengthAdjust="spacing">Rupture start</text>
<text x="165.00" y="268.5" font-family='"Liberation Sans", sans-serif' font-size="15" fill="#222"><tspan font-style="italic">F</tspan><tspan font-size="10.5" dx="0.6" dy="3.4">d</tspan><tspan dy="-3.4" dx="4"> </tspan><tspan dx="-3.8">(m)</tspan></text>
<polygon points="381.75,255.80 386.15,258.70 386.15,264.50 381.75,267.40 377.35,264.50 377.35,258.70" fill="#ff0000"/>
<text x="397.80" y="265.2" font-family='"Liberation Sans", sans-serif' font-size="11.5" fill="#222" textLength="66.5" lengthAdjust="spacing">Rupture start</text>
<text x="521.00" y="268.5" font-family='"Liberation Sans", sans-serif' font-size="15" fill="#222"><tspan font-style="italic">F</tspan><tspan font-size="10.5" dx="0.6" dy="3.4">d</tspan><tspan dy="-3.4" dx="4"> </tspan><tspan dx="-3.8">(m)</tspan></text>
<text x="1.3" y="12.8" font-family='"Liberation Sans", sans-serif' font-size="14.5" fill="#222">(a)</text>
<text x="356.30" y="12.8" font-family='"Liberation Sans", sans-serif' font-size="14.5" fill="#222">(b)</text>
<text transform="translate(15.0 147) rotate(-90)" font-family='"Liberation Sans", sans-serif' font-size="15" fill="#222" textLength="70.5" lengthAdjust="spacing">Slip (mm)</text>
<text transform="translate(372.60 163.6) rotate(-90)" font-family='"Liberation Sans", sans-serif' font-size="15" fill="#222" textLength="99" lengthAdjust="spacing">Slip rate (m/s)</text>
<text x="248.00" y="122.50" font-family='"Liberation Sans", sans-serif' font-size="14.5" fill="#222" font-style="italic">T</text>
<text x="256.80" y="125.60" font-family='"Liberation Sans", sans-serif' font-size="10.5" fill="#222" font-style="italic">r</text>
<text x="263.30" y="122.50" font-family='"Liberation Sans", sans-serif' font-size="14.5" fill="#222">≈</text>
<text x="275.60" y="122.50" font-family='"Liberation Sans", sans-serif' font-size="14.5" fill="#222" textLength="17.4" lengthAdjust="spacing">39</text>
<text x="297.00" y="122.50" font-family='"Liberation Sans", sans-serif' font-size="14.5" fill="#222" textLength="20" lengthAdjust="spacing">ms</text>
<text x="410.60" y="65.00" font-family='"Liberation Sans", sans-serif' font-size="14.5" fill="#222" font-style="italic">R</text>
<text x="421.60" y="69.80" font-family='"Liberation Sans", sans-serif' font-size="9.5" fill="#222" font-style="italic">s</text>
<text x="420.70" y="59.90" font-family='"Liberation Sans", sans-serif' font-size="10.5" fill="#222" font-style="italic" textLength="19.6" lengthAdjust="spacing">max</text>
<text x="444.70" y="65.00" font-family='"Liberation Sans", sans-serif' font-size="14.5" fill="#222">≈</text>
<text x="457.00" y="65.00" font-family='"Liberation Sans", sans-serif' font-size="14.5" fill="#222" textLength="19.4" lengthAdjust="spacing">2.4</text>
<text x="483.20" y="65.00" font-family='"Liberation Sans", sans-serif' font-size="14.5" fill="#222" textLength="23.7" lengthAdjust="spacing">m/s</text>
<text x="466" y="130" font-family='"Liberation Sans", sans-serif' font-size="11.5" fill="#222" textLength="84" lengthAdjust="spacing">Nucleation zone</text>
<path d="M467 132.5L441.3 210" stroke="#111" stroke-width="1" fill="none"/>
</svg>
</body>
</html>
